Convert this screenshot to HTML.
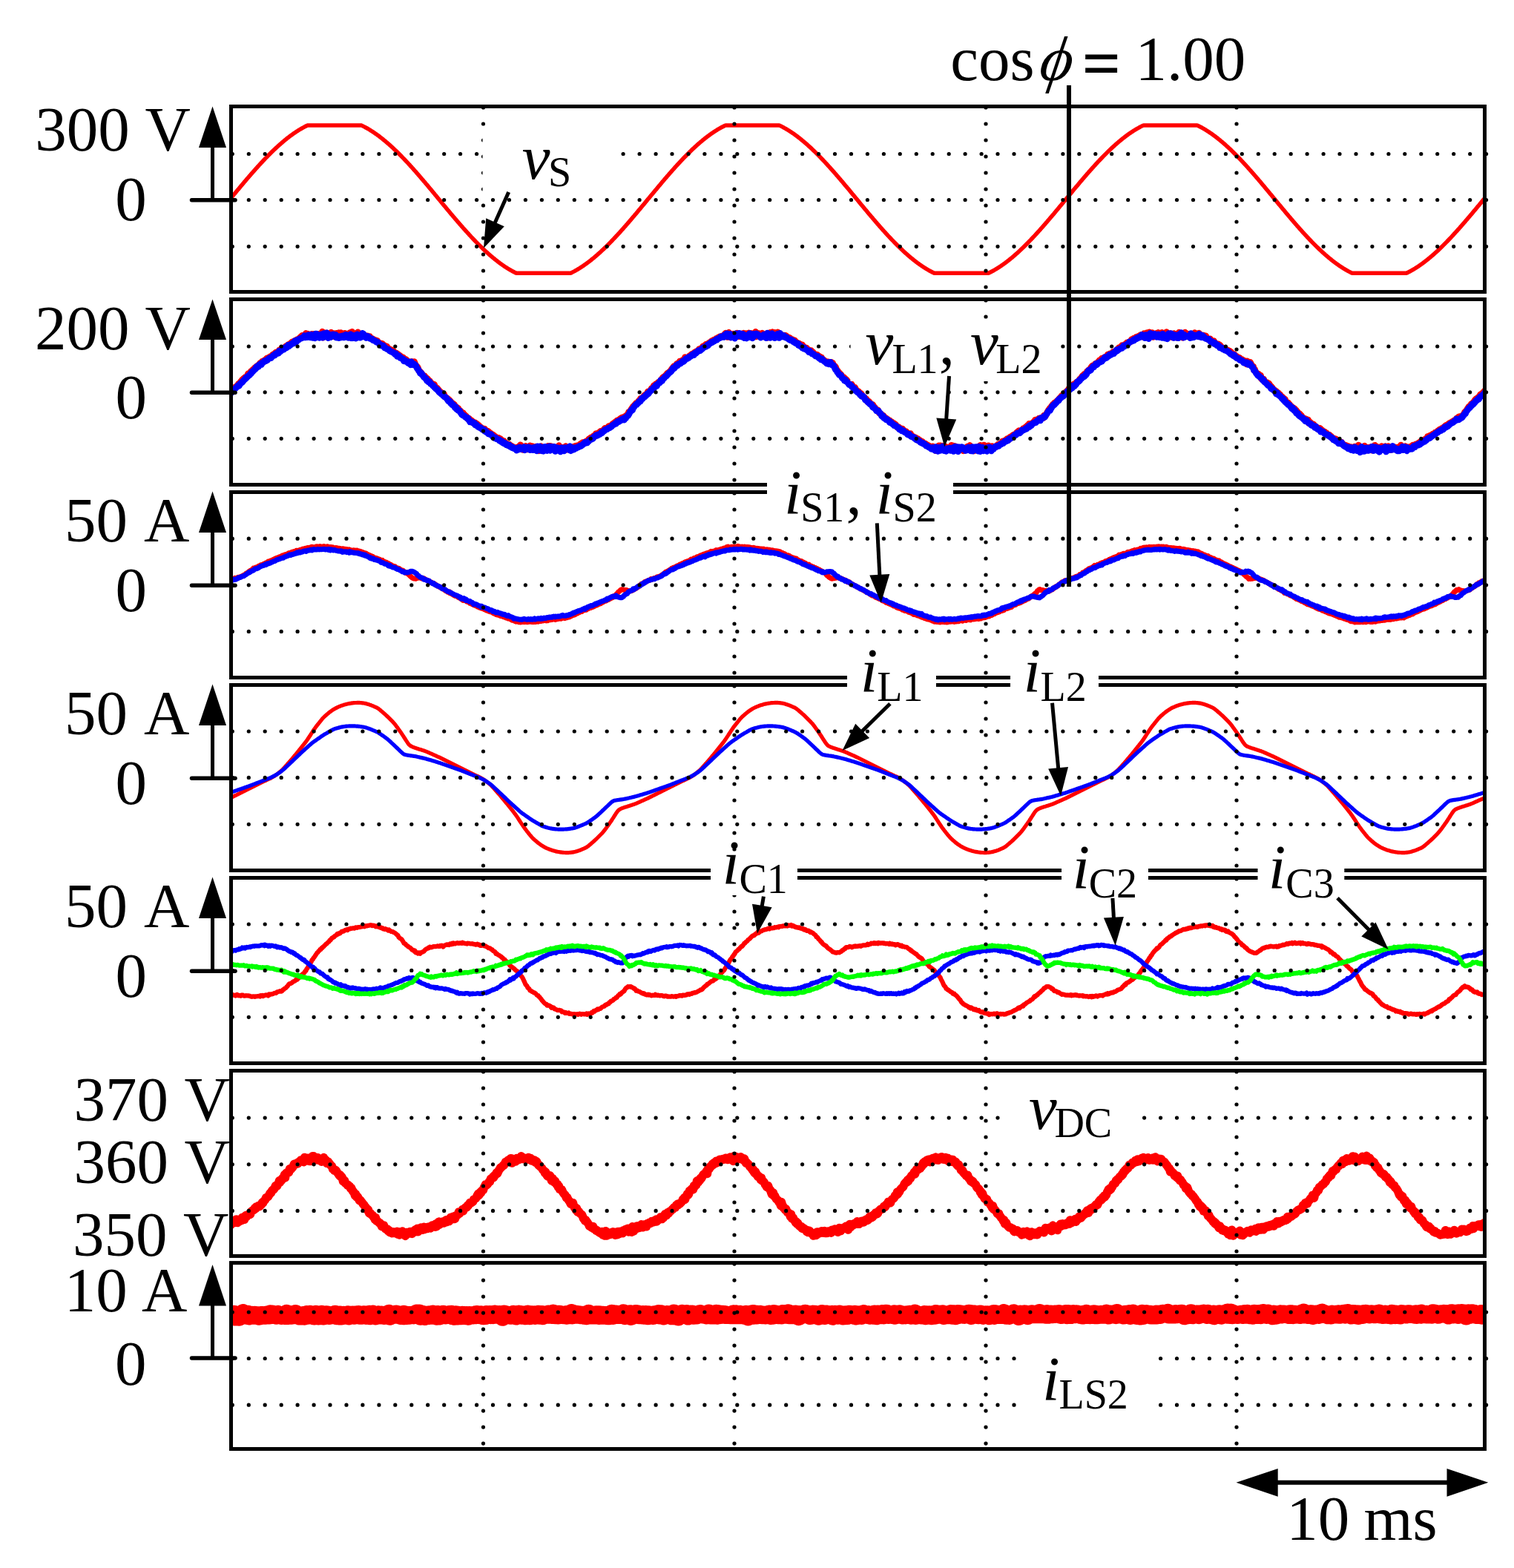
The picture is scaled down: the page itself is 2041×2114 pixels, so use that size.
<!DOCTYPE html>
<html><head><meta charset="utf-8"><title>Waveforms</title>
<style>
html,body{margin:0;padding:0;background:#fff;}
body{width:2041px;height:2114px;overflow:hidden;}
svg{display:block;}
text{font-family:"Liberation Serif","Times New Roman",serif;fill:#000;}
.it{font-style:italic;}
</style></head><body>
<svg width="2041" height="2114" viewBox="0 0 2041 2114">
<rect x="0" y="0" width="2041" height="2114" fill="#fff"/>
<defs>
<clipPath id="c0"><rect x="311.5" y="143.5" width="1690" height="250"/></clipPath>
<clipPath id="c1"><rect x="311.5" y="403.5" width="1690" height="250"/></clipPath>
<clipPath id="c2"><rect x="311.5" y="663.5" width="1690" height="250"/></clipPath>
<clipPath id="c3"><rect x="311.5" y="923.5" width="1690" height="250"/></clipPath>
<clipPath id="c4"><rect x="311.5" y="1183.5" width="1690" height="250"/></clipPath>
<clipPath id="c5"><rect x="311.5" y="1443.5" width="1690" height="249.9"/></clipPath>
<clipPath id="c6"><rect x="311.5" y="1702.6" width="1690" height="250.9"/></clipPath>
</defs>
<g clip-path="url(#c0)">
<path d="M308.5,270.6 L309.5,269.4 L310.5,268.2 L311.5,266.9 L312.5,265.7 L313.5,264.5 L314.5,263.3 L315.5,262.1 L316.5,260.9 L317.5,259.7 L318.5,258.5 L319.5,257.3 L320.5,256.1 L321.5,254.9 L322.5,253.7 L323.5,252.5 L324.5,251.3 L325.5,250.1 L326.5,248.9 L327.5,247.7 L328.5,246.5 L329.5,245.3 L330.5,244.2 L331.5,243 L332.5,241.8 L333.5,240.6 L334.5,239.5 L335.5,238.3 L336.5,237.2 L337.5,236 L338.5,234.8 L339.5,233.7 L340.5,232.6 L341.5,231.4 L342.5,230.3 L343.5,229.2 L344.5,228 L345.5,226.9 L346.5,225.8 L347.5,224.7 L348.5,223.6 L349.5,222.5 L350.5,221.4 L351.5,220.3 L352.5,219.2 L353.5,218.2 L354.5,217.1 L355.5,216 L356.5,215 L357.5,213.9 L358.5,212.9 L359.5,211.9 L360.5,210.8 L361.5,209.8 L362.5,208.8 L363.5,207.8 L364.5,206.8 L365.5,205.8 L366.5,204.8 L367.5,203.8 L368.5,202.9 L369.5,201.9 L370.5,201 L371.5,200 L372.5,199.1 L373.5,198.2 L374.5,197.3 L375.5,196.4 L376.5,195.5 L377.5,194.6 L378.5,193.7 L379.5,192.8 L380.5,192 L381.5,191.1 L382.5,190.3 L383.5,189.4 L384.5,188.6 L385.5,187.8 L386.5,187 L387.5,186.2 L388.5,185.4 L389.5,184.7 L390.5,183.9 L391.5,183.1 L392.5,182.4 L393.5,181.7 L394.5,181 L395.5,180.3 L396.5,179.6 L397.5,178.9 L398.5,178.2 L399.5,177.5 L400.5,176.9 L401.5,176.3 L402.5,175.6 L403.5,175 L404.5,174.4 L405.5,173.8 L406.5,173.2 L407.5,172.7 L408.5,172.1 L409.5,171.6 L410.5,171 L411.5,170.5 L412.5,170 L413.5,169.5 L414.5,169.1 L415.5,169.1 L416.5,169.1 L417.5,169.1 L418.5,169.1 L419.5,169.1 L420.5,169.1 L421.5,169.1 L422.5,169.1 L423.5,169.1 L424.5,169.1 L425.5,169.1 L426.5,169.1 L427.5,169.1 L428.5,169.1 L429.5,169.1 L430.5,169.1 L431.5,169.1 L432.5,169.1 L433.5,169.1 L434.5,169.1 L435.5,169.1 L436.5,169.1 L437.5,169.1 L438.5,169.1 L439.5,169.1 L440.5,169.1 L441.5,169.1 L442.5,169.1 L443.5,169.1 L444.5,169.1 L445.5,169.1 L446.5,169.1 L447.5,169.1 L448.5,169.1 L449.5,169.1 L450.5,169.1 L451.5,169.1 L452.5,169.1 L453.5,169.1 L454.5,169.1 L455.5,169.1 L456.5,169.1 L457.5,169.1 L458.5,169.1 L459.5,169.1 L460.5,169.1 L461.5,169.1 L462.5,169.1 L463.5,169.1 L464.5,169.1 L465.5,169.1 L466.5,169.1 L467.5,169.1 L468.5,169.1 L469.5,169.1 L470.5,169.1 L471.5,169.1 L472.5,169.1 L473.5,169.1 L474.5,169.1 L475.5,169.1 L476.5,169.1 L477.5,169.1 L478.5,169.1 L479.5,169.1 L480.5,169.1 L481.5,169.1 L482.5,169.1 L483.5,169.1 L484.5,169.1 L485.5,169.1 L486.5,169.1 L487.5,169.1 L488.5,169.6 L489.5,170.1 L490.5,170.6 L491.5,171.1 L492.5,171.7 L493.5,172.2 L494.5,172.8 L495.5,173.3 L496.5,173.9 L497.5,174.5 L498.5,175.1 L499.5,175.8 L500.5,176.4 L501.5,177 L502.5,177.7 L503.5,178.3 L504.5,179 L505.5,179.7 L506.5,180.4 L507.5,181.1 L508.5,181.8 L509.5,182.6 L510.5,183.3 L511.5,184 L512.5,184.8 L513.5,185.6 L514.5,186.4 L515.5,187.2 L516.5,188 L517.5,188.8 L518.5,189.6 L519.5,190.4 L520.5,191.3 L521.5,192.1 L522.5,193 L523.5,193.9 L524.5,194.7 L525.5,195.6 L526.5,196.5 L527.5,197.4 L528.5,198.4 L529.5,199.3 L530.5,200.2 L531.5,201.2 L532.5,202.1 L533.5,203.1 L534.5,204 L535.5,205 L536.5,206 L537.5,207 L538.5,208 L539.5,209 L540.5,210 L541.5,211 L542.5,212.1 L543.5,213.1 L544.5,214.1 L545.5,215.2 L546.5,216.2 L547.5,217.3 L548.5,218.4 L549.5,219.4 L550.5,220.5 L551.5,221.6 L552.5,222.7 L553.5,223.8 L554.5,224.9 L555.5,226 L556.5,227.1 L557.5,228.3 L558.5,229.4 L559.5,230.5 L560.5,231.6 L561.5,232.8 L562.5,233.9 L563.5,235.1 L564.5,236.2 L565.5,237.4 L566.5,238.5 L567.5,239.7 L568.5,240.9 L569.5,242.1 L570.5,243.2 L571.5,244.4 L572.5,245.6 L573.5,246.8 L574.5,248 L575.5,249.1 L576.5,250.3 L577.5,251.5 L578.5,252.7 L579.5,253.9 L580.5,255.1 L581.5,256.3 L582.5,257.5 L583.5,258.7 L584.5,259.9 L585.5,261.1 L586.5,262.4 L587.5,263.6 L588.5,264.8 L589.5,266 L590.5,267.2 L591.5,268.4 L592.5,269.6 L593.5,270.8 L594.5,272 L595.5,273.2 L596.5,274.4 L597.5,275.7 L598.5,276.9 L599.5,278.1 L600.5,279.3 L601.5,280.5 L602.5,281.7 L603.5,282.9 L604.5,284.1 L605.5,285.3 L606.5,286.5 L607.5,287.7 L608.5,288.9 L609.5,290 L610.5,291.2 L611.5,292.4 L612.5,293.6 L613.5,294.8 L614.5,295.9 L615.5,297.1 L616.5,298.3 L617.5,299.4 L618.5,300.6 L619.5,301.7 L620.5,302.9 L621.5,304 L622.5,305.2 L623.5,306.3 L624.5,307.5 L625.5,308.6 L626.5,309.7 L627.5,310.8 L628.5,311.9 L629.5,313 L630.5,314.1 L631.5,315.2 L632.5,316.3 L633.5,317.4 L634.5,318.5 L635.5,319.6 L636.5,320.6 L637.5,321.7 L638.5,322.7 L639.5,323.8 L640.5,324.8 L641.5,325.9 L642.5,326.9 L643.5,327.9 L644.5,328.9 L645.5,329.9 L646.5,330.9 L647.5,331.9 L648.5,332.9 L649.5,333.8 L650.5,334.8 L651.5,335.8 L652.5,336.7 L653.5,337.7 L654.5,338.6 L655.5,339.5 L656.5,340.4 L657.5,341.3 L658.5,342.2 L659.5,343.1 L660.5,344 L661.5,344.8 L662.5,345.7 L663.5,346.5 L664.5,347.4 L665.5,348.2 L666.5,349 L667.5,349.8 L668.5,350.6 L669.5,351.4 L670.5,352.2 L671.5,353 L672.5,353.7 L673.5,354.5 L674.5,355.2 L675.5,355.9 L676.5,356.6 L677.5,357.4 L678.5,358 L679.5,358.7 L680.5,359.4 L681.5,360.1 L682.5,360.7 L683.5,361.3 L684.5,362 L685.5,362.6 L686.5,363.2 L687.5,363.8 L688.5,364.3 L689.5,364.9 L690.5,365.5 L691.5,366 L692.5,366.5 L693.5,367 L694.5,367.6 L695.5,368 L696.5,368.3 L697.5,368.3 L698.5,368.3 L699.5,368.3 L700.5,368.3 L701.5,368.3 L702.5,368.3 L703.5,368.3 L704.5,368.3 L705.5,368.3 L706.5,368.3 L707.5,368.3 L708.5,368.3 L709.5,368.3 L710.5,368.3 L711.5,368.3 L712.5,368.3 L713.5,368.3 L714.5,368.3 L715.5,368.3 L716.5,368.3 L717.5,368.3 L718.5,368.3 L719.5,368.3 L720.5,368.3 L721.5,368.3 L722.5,368.3 L723.5,368.3 L724.5,368.3 L725.5,368.3 L726.5,368.3 L727.5,368.3 L728.5,368.3 L729.5,368.3 L730.5,368.3 L731.5,368.3 L732.5,368.3 L733.5,368.3 L734.5,368.3 L735.5,368.3 L736.5,368.3 L737.5,368.3 L738.5,368.3 L739.5,368.3 L740.5,368.3 L741.5,368.3 L742.5,368.3 L743.5,368.3 L744.5,368.3 L745.5,368.3 L746.5,368.3 L747.5,368.3 L748.5,368.3 L749.5,368.3 L750.5,368.3 L751.5,368.3 L752.5,368.3 L753.5,368.3 L754.5,368.3 L755.5,368.3 L756.5,368.3 L757.5,368.3 L758.5,368.3 L759.5,368.3 L760.5,368.3 L761.5,368.3 L762.5,368.3 L763.5,368.3 L764.5,368.3 L765.5,368.3 L766.5,368.3 L767.5,368.3 L768.5,368.3 L769.5,368.1 L770.5,367.7 L771.5,367.1 L772.5,366.6 L773.5,366.1 L774.5,365.6 L775.5,365 L776.5,364.5 L777.5,363.9 L778.5,363.3 L779.5,362.7 L780.5,362.1 L781.5,361.5 L782.5,360.8 L783.5,360.2 L784.5,359.5 L785.5,358.9 L786.5,358.2 L787.5,357.5 L788.5,356.8 L789.5,356.1 L790.5,355.4 L791.5,354.6 L792.5,353.9 L793.5,353.1 L794.5,352.4 L795.5,351.6 L796.5,350.8 L797.5,350 L798.5,349.2 L799.5,348.4 L800.5,347.6 L801.5,346.7 L802.5,345.9 L803.5,345 L804.5,344.1 L805.5,343.3 L806.5,342.4 L807.5,341.5 L808.5,340.6 L809.5,339.7 L810.5,338.8 L811.5,337.8 L812.5,336.9 L813.5,336 L814.5,335 L815.5,334 L816.5,333.1 L817.5,332.1 L818.5,331.1 L819.5,330.1 L820.5,329.1 L821.5,328.1 L822.5,327.1 L823.5,326.1 L824.5,325 L825.5,324 L826.5,322.9 L827.5,321.9 L828.5,320.8 L829.5,319.8 L830.5,318.7 L831.5,317.6 L832.5,316.5 L833.5,315.5 L834.5,314.4 L835.5,313.3 L836.5,312.2 L837.5,311 L838.5,309.9 L839.5,308.8 L840.5,307.7 L841.5,306.5 L842.5,305.4 L843.5,304.3 L844.5,303.1 L845.5,302 L846.5,300.8 L847.5,299.7 L848.5,298.5 L849.5,297.3 L850.5,296.2 L851.5,295 L852.5,293.8 L853.5,292.6 L854.5,291.5 L855.5,290.3 L856.5,289.1 L857.5,287.9 L858.5,286.7 L859.5,285.5 L860.5,284.3 L861.5,283.1 L862.5,281.9 L863.5,280.7 L864.5,279.5 L865.5,278.3 L866.5,277.1 L867.5,275.9 L868.5,274.7 L869.5,273.5 L870.5,272.3 L871.5,271.1 L872.5,269.8 L873.5,268.6 L874.5,267.4 L875.5,266.2 L876.5,265 L877.5,263.8 L878.5,262.6 L879.5,261.4 L880.5,260.2 L881.5,259 L882.5,257.8 L883.5,256.6 L884.5,255.4 L885.5,254.2 L886.5,253 L887.5,251.8 L888.5,250.6 L889.5,249.4 L890.5,248.2 L891.5,247 L892.5,245.8 L893.5,244.6 L894.5,243.5 L895.5,242.3 L896.5,241.1 L897.5,239.9 L898.5,238.8 L899.5,237.6 L900.5,236.5 L901.5,235.3 L902.5,234.2 L903.5,233 L904.5,231.9 L905.5,230.7 L906.5,229.6 L907.5,228.5 L908.5,227.4 L909.5,226.2 L910.5,225.1 L911.5,224 L912.5,222.9 L913.5,221.8 L914.5,220.7 L915.5,219.7 L916.5,218.6 L917.5,217.5 L918.5,216.5 L919.5,215.4 L920.5,214.3 L921.5,213.3 L922.5,212.3 L923.5,211.2 L924.5,210.2 L925.5,209.2 L926.5,208.2 L927.5,207.2 L928.5,206.2 L929.5,205.2 L930.5,204.2 L931.5,203.3 L932.5,202.3 L933.5,201.3 L934.5,200.4 L935.5,199.5 L936.5,198.5 L937.5,197.6 L938.5,196.7 L939.5,195.8 L940.5,194.9 L941.5,194 L942.5,193.2 L943.5,192.3 L944.5,191.4 L945.5,190.6 L946.5,189.8 L947.5,188.9 L948.5,188.1 L949.5,187.3 L950.5,186.5 L951.5,185.7 L952.5,185 L953.5,184.2 L954.5,183.4 L955.5,182.7 L956.5,182 L957.5,181.2 L958.5,180.5 L959.5,179.8 L960.5,179.2 L961.5,178.5 L962.5,177.8 L963.5,177.2 L964.5,176.5 L965.5,175.9 L966.5,175.3 L967.5,174.6 L968.5,174 L969.5,173.5 L970.5,172.9 L971.5,172.3 L972.5,171.8 L973.5,171.2 L974.5,170.7 L975.5,170.2 L976.5,169.7 L977.5,169.2 L978.5,169.1 L979.5,169.1 L980.5,169.1 L981.5,169.1 L982.5,169.1 L983.5,169.1 L984.5,169.1 L985.5,169.1 L986.5,169.1 L987.5,169.1 L988.5,169.1 L989.5,169.1 L990.5,169.1 L991.5,169.1 L992.5,169.1 L993.5,169.1 L994.5,169.1 L995.5,169.1 L996.5,169.1 L997.5,169.1 L998.5,169.1 L999.5,169.1 L1000.5,169.1 L1001.5,169.1 L1002.5,169.1 L1003.5,169.1 L1004.5,169.1 L1005.5,169.1 L1006.5,169.1 L1007.5,169.1 L1008.5,169.1 L1009.5,169.1 L1010.5,169.1 L1011.5,169.1 L1012.5,169.1 L1013.5,169.1 L1014.5,169.1 L1015.5,169.1 L1016.5,169.1 L1017.5,169.1 L1018.5,169.1 L1019.5,169.1 L1020.5,169.1 L1021.5,169.1 L1022.5,169.1 L1023.5,169.1 L1024.5,169.1 L1025.5,169.1 L1026.5,169.1 L1027.5,169.1 L1028.5,169.1 L1029.5,169.1 L1030.5,169.1 L1031.5,169.1 L1032.5,169.1 L1033.5,169.1 L1034.5,169.1 L1035.5,169.1 L1036.5,169.1 L1037.5,169.1 L1038.5,169.1 L1039.5,169.1 L1040.5,169.1 L1041.5,169.1 L1042.5,169.1 L1043.5,169.1 L1044.5,169.1 L1045.5,169.1 L1046.5,169.1 L1047.5,169.1 L1048.5,169.1 L1049.5,169.1 L1050.5,169.1 L1051.5,169.4 L1052.5,169.9 L1053.5,170.4 L1054.5,170.9 L1055.5,171.5 L1056.5,172 L1057.5,172.6 L1058.5,173.1 L1059.5,173.7 L1060.5,174.3 L1061.5,174.9 L1062.5,175.5 L1063.5,176.1 L1064.5,176.8 L1065.5,177.4 L1066.5,178.1 L1067.5,178.7 L1068.5,179.4 L1069.5,180.1 L1070.5,180.8 L1071.5,181.5 L1072.5,182.3 L1073.5,183 L1074.5,183.7 L1075.5,184.5 L1076.5,185.3 L1077.5,186.1 L1078.5,186.8 L1079.5,187.6 L1080.5,188.5 L1081.5,189.3 L1082.5,190.1 L1083.5,190.9 L1084.5,191.8 L1085.5,192.6 L1086.5,193.5 L1087.5,194.4 L1088.5,195.3 L1089.5,196.2 L1090.5,197.1 L1091.5,198 L1092.5,198.9 L1093.5,199.8 L1094.5,200.8 L1095.5,201.7 L1096.5,202.7 L1097.5,203.6 L1098.5,204.6 L1099.5,205.6 L1100.5,206.6 L1101.5,207.6 L1102.5,208.6 L1103.5,209.6 L1104.5,210.6 L1105.5,211.6 L1106.5,212.7 L1107.5,213.7 L1108.5,214.8 L1109.5,215.8 L1110.5,216.9 L1111.5,217.9 L1112.5,219 L1113.5,220.1 L1114.5,221.2 L1115.5,222.3 L1116.5,223.4 L1117.5,224.5 L1118.5,225.6 L1119.5,226.7 L1120.5,227.8 L1121.5,228.9 L1122.5,230.1 L1123.5,231.2 L1124.5,232.3 L1125.5,233.5 L1126.5,234.6 L1127.5,235.8 L1128.5,236.9 L1129.5,238.1 L1130.5,239.2 L1131.5,240.4 L1132.5,241.6 L1133.5,242.8 L1134.5,243.9 L1135.5,245.1 L1136.5,246.3 L1137.5,247.5 L1138.5,248.7 L1139.5,249.9 L1140.5,251.1 L1141.5,252.2 L1142.5,253.4 L1143.5,254.6 L1144.5,255.8 L1145.5,257 L1146.5,258.2 L1147.5,259.5 L1148.5,260.7 L1149.5,261.9 L1150.5,263.1 L1151.5,264.3 L1152.5,265.5 L1153.5,266.7 L1154.5,267.9 L1155.5,269.1 L1156.5,270.3 L1157.5,271.5 L1158.5,272.8 L1159.5,274 L1160.5,275.2 L1161.5,276.4 L1162.5,277.6 L1163.5,278.8 L1164.5,280 L1165.5,281.2 L1166.5,282.4 L1167.5,283.6 L1168.5,284.8 L1169.5,286 L1170.5,287.2 L1171.5,288.4 L1172.5,289.6 L1173.5,290.7 L1174.5,291.9 L1175.5,293.1 L1176.5,294.3 L1177.5,295.5 L1178.5,296.6 L1179.5,297.8 L1180.5,299 L1181.5,300.1 L1182.5,301.3 L1183.5,302.4 L1184.5,303.6 L1185.5,304.7 L1186.5,305.9 L1187.5,307 L1188.5,308.1 L1189.5,309.3 L1190.5,310.4 L1191.5,311.5 L1192.5,312.6 L1193.5,313.7 L1194.5,314.8 L1195.5,315.9 L1196.5,317 L1197.5,318.1 L1198.5,319.1 L1199.5,320.2 L1200.5,321.3 L1201.5,322.3 L1202.5,323.4 L1203.5,324.4 L1204.5,325.4 L1205.5,326.5 L1206.5,327.5 L1207.5,328.5 L1208.5,329.5 L1209.5,330.5 L1210.5,331.5 L1211.5,332.5 L1212.5,333.5 L1213.5,334.4 L1214.5,335.4 L1215.5,336.3 L1216.5,337.3 L1217.5,338.2 L1218.5,339.1 L1219.5,340.1 L1220.5,341 L1221.5,341.9 L1222.5,342.7 L1223.5,343.6 L1224.5,344.5 L1225.5,345.4 L1226.5,346.2 L1227.5,347.1 L1228.5,347.9 L1229.5,348.7 L1230.5,349.5 L1231.5,350.3 L1232.5,351.1 L1233.5,351.9 L1234.5,352.7 L1235.5,353.4 L1236.5,354.2 L1237.5,354.9 L1238.5,355.6 L1239.5,356.4 L1240.5,357.1 L1241.5,357.8 L1242.5,358.5 L1243.5,359.1 L1244.5,359.8 L1245.5,360.4 L1246.5,361.1 L1247.5,361.7 L1248.5,362.3 L1249.5,362.9 L1250.5,363.5 L1251.5,364.1 L1252.5,364.7 L1253.5,365.2 L1254.5,365.8 L1255.5,366.3 L1256.5,366.8 L1257.5,367.4 L1258.5,367.8 L1259.5,368.3 L1260.5,368.3 L1261.5,368.3 L1262.5,368.3 L1263.5,368.3 L1264.5,368.3 L1265.5,368.3 L1266.5,368.3 L1267.5,368.3 L1268.5,368.3 L1269.5,368.3 L1270.5,368.3 L1271.5,368.3 L1272.5,368.3 L1273.5,368.3 L1274.5,368.3 L1275.5,368.3 L1276.5,368.3 L1277.5,368.3 L1278.5,368.3 L1279.5,368.3 L1280.5,368.3 L1281.5,368.3 L1282.5,368.3 L1283.5,368.3 L1284.5,368.3 L1285.5,368.3 L1286.5,368.3 L1287.5,368.3 L1288.5,368.3 L1289.5,368.3 L1290.5,368.3 L1291.5,368.3 L1292.5,368.3 L1293.5,368.3 L1294.5,368.3 L1295.5,368.3 L1296.5,368.3 L1297.5,368.3 L1298.5,368.3 L1299.5,368.3 L1300.5,368.3 L1301.5,368.3 L1302.5,368.3 L1303.5,368.3 L1304.5,368.3 L1305.5,368.3 L1306.5,368.3 L1307.5,368.3 L1308.5,368.3 L1309.5,368.3 L1310.5,368.3 L1311.5,368.3 L1312.5,368.3 L1313.5,368.3 L1314.5,368.3 L1315.5,368.3 L1316.5,368.3 L1317.5,368.3 L1318.5,368.3 L1319.5,368.3 L1320.5,368.3 L1321.5,368.3 L1322.5,368.3 L1323.5,368.3 L1324.5,368.3 L1325.5,368.3 L1326.5,368.3 L1327.5,368.3 L1328.5,368.3 L1329.5,368.3 L1330.5,368.3 L1331.5,368.3 L1332.5,368.3 L1333.5,367.8 L1334.5,367.4 L1335.5,366.8 L1336.5,366.3 L1337.5,365.8 L1338.5,365.2 L1339.5,364.7 L1340.5,364.1 L1341.5,363.5 L1342.5,362.9 L1343.5,362.3 L1344.5,361.7 L1345.5,361.1 L1346.5,360.4 L1347.5,359.8 L1348.5,359.1 L1349.5,358.5 L1350.5,357.8 L1351.5,357.1 L1352.5,356.4 L1353.5,355.6 L1354.5,354.9 L1355.5,354.2 L1356.5,353.4 L1357.5,352.7 L1358.5,351.9 L1359.5,351.1 L1360.5,350.3 L1361.5,349.5 L1362.5,348.7 L1363.5,347.9 L1364.5,347.1 L1365.5,346.2 L1366.5,345.4 L1367.5,344.5 L1368.5,343.6 L1369.5,342.7 L1370.5,341.9 L1371.5,341 L1372.5,340.1 L1373.5,339.1 L1374.5,338.2 L1375.5,337.3 L1376.5,336.3 L1377.5,335.4 L1378.5,334.4 L1379.5,333.5 L1380.5,332.5 L1381.5,331.5 L1382.5,330.5 L1383.5,329.5 L1384.5,328.5 L1385.5,327.5 L1386.5,326.5 L1387.5,325.4 L1388.5,324.4 L1389.5,323.4 L1390.5,322.3 L1391.5,321.3 L1392.5,320.2 L1393.5,319.1 L1394.5,318.1 L1395.5,317 L1396.5,315.9 L1397.5,314.8 L1398.5,313.7 L1399.5,312.6 L1400.5,311.5 L1401.5,310.4 L1402.5,309.3 L1403.5,308.1 L1404.5,307 L1405.5,305.9 L1406.5,304.7 L1407.5,303.6 L1408.5,302.4 L1409.5,301.3 L1410.5,300.1 L1411.5,299 L1412.5,297.8 L1413.5,296.6 L1414.5,295.5 L1415.5,294.3 L1416.5,293.1 L1417.5,291.9 L1418.5,290.7 L1419.5,289.6 L1420.5,288.4 L1421.5,287.2 L1422.5,286 L1423.5,284.8 L1424.5,283.6 L1425.5,282.4 L1426.5,281.2 L1427.5,280 L1428.5,278.8 L1429.5,277.6 L1430.5,276.4 L1431.5,275.2 L1432.5,274 L1433.5,272.8 L1434.5,271.5 L1435.5,270.3 L1436.5,269.1 L1437.5,267.9 L1438.5,266.7 L1439.5,265.5 L1440.5,264.3 L1441.5,263.1 L1442.5,261.9 L1443.5,260.7 L1444.5,259.5 L1445.5,258.2 L1446.5,257 L1447.5,255.8 L1448.5,254.6 L1449.5,253.4 L1450.5,252.2 L1451.5,251.1 L1452.5,249.9 L1453.5,248.7 L1454.5,247.5 L1455.5,246.3 L1456.5,245.1 L1457.5,243.9 L1458.5,242.8 L1459.5,241.6 L1460.5,240.4 L1461.5,239.2 L1462.5,238.1 L1463.5,236.9 L1464.5,235.8 L1465.5,234.6 L1466.5,233.5 L1467.5,232.3 L1468.5,231.2 L1469.5,230.1 L1470.5,228.9 L1471.5,227.8 L1472.5,226.7 L1473.5,225.6 L1474.5,224.5 L1475.5,223.4 L1476.5,222.3 L1477.5,221.2 L1478.5,220.1 L1479.5,219 L1480.5,217.9 L1481.5,216.9 L1482.5,215.8 L1483.5,214.8 L1484.5,213.7 L1485.5,212.7 L1486.5,211.6 L1487.5,210.6 L1488.5,209.6 L1489.5,208.6 L1490.5,207.6 L1491.5,206.6 L1492.5,205.6 L1493.5,204.6 L1494.5,203.6 L1495.5,202.7 L1496.5,201.7 L1497.5,200.8 L1498.5,199.8 L1499.5,198.9 L1500.5,198 L1501.5,197.1 L1502.5,196.2 L1503.5,195.3 L1504.5,194.4 L1505.5,193.5 L1506.5,192.6 L1507.5,191.8 L1508.5,190.9 L1509.5,190.1 L1510.5,189.3 L1511.5,188.5 L1512.5,187.6 L1513.5,186.8 L1514.5,186.1 L1515.5,185.3 L1516.5,184.5 L1517.5,183.7 L1518.5,183 L1519.5,182.3 L1520.5,181.5 L1521.5,180.8 L1522.5,180.1 L1523.5,179.4 L1524.5,178.7 L1525.5,178.1 L1526.5,177.4 L1527.5,176.8 L1528.5,176.1 L1529.5,175.5 L1530.5,174.9 L1531.5,174.3 L1532.5,173.7 L1533.5,173.1 L1534.5,172.6 L1535.5,172 L1536.5,171.5 L1537.5,170.9 L1538.5,170.4 L1539.5,169.9 L1540.5,169.4 L1541.5,169.1 L1542.5,169.1 L1543.5,169.1 L1544.5,169.1 L1545.5,169.1 L1546.5,169.1 L1547.5,169.1 L1548.5,169.1 L1549.5,169.1 L1550.5,169.1 L1551.5,169.1 L1552.5,169.1 L1553.5,169.1 L1554.5,169.1 L1555.5,169.1 L1556.5,169.1 L1557.5,169.1 L1558.5,169.1 L1559.5,169.1 L1560.5,169.1 L1561.5,169.1 L1562.5,169.1 L1563.5,169.1 L1564.5,169.1 L1565.5,169.1 L1566.5,169.1 L1567.5,169.1 L1568.5,169.1 L1569.5,169.1 L1570.5,169.1 L1571.5,169.1 L1572.5,169.1 L1573.5,169.1 L1574.5,169.1 L1575.5,169.1 L1576.5,169.1 L1577.5,169.1 L1578.5,169.1 L1579.5,169.1 L1580.5,169.1 L1581.5,169.1 L1582.5,169.1 L1583.5,169.1 L1584.5,169.1 L1585.5,169.1 L1586.5,169.1 L1587.5,169.1 L1588.5,169.1 L1589.5,169.1 L1590.5,169.1 L1591.5,169.1 L1592.5,169.1 L1593.5,169.1 L1594.5,169.1 L1595.5,169.1 L1596.5,169.1 L1597.5,169.1 L1598.5,169.1 L1599.5,169.1 L1600.5,169.1 L1601.5,169.1 L1602.5,169.1 L1603.5,169.1 L1604.5,169.1 L1605.5,169.1 L1606.5,169.1 L1607.5,169.1 L1608.5,169.1 L1609.5,169.1 L1610.5,169.1 L1611.5,169.1 L1612.5,169.1 L1613.5,169.1 L1614.5,169.2 L1615.5,169.7 L1616.5,170.2 L1617.5,170.7 L1618.5,171.2 L1619.5,171.8 L1620.5,172.3 L1621.5,172.9 L1622.5,173.5 L1623.5,174 L1624.5,174.6 L1625.5,175.3 L1626.5,175.9 L1627.5,176.5 L1628.5,177.2 L1629.5,177.8 L1630.5,178.5 L1631.5,179.2 L1632.5,179.8 L1633.5,180.5 L1634.5,181.2 L1635.5,182 L1636.5,182.7 L1637.5,183.4 L1638.5,184.2 L1639.5,185 L1640.5,185.7 L1641.5,186.5 L1642.5,187.3 L1643.5,188.1 L1644.5,188.9 L1645.5,189.8 L1646.5,190.6 L1647.5,191.4 L1648.5,192.3 L1649.5,193.2 L1650.5,194 L1651.5,194.9 L1652.5,195.8 L1653.5,196.7 L1654.5,197.6 L1655.5,198.5 L1656.5,199.5 L1657.5,200.4 L1658.5,201.3 L1659.5,202.3 L1660.5,203.3 L1661.5,204.2 L1662.5,205.2 L1663.5,206.2 L1664.5,207.2 L1665.5,208.2 L1666.5,209.2 L1667.5,210.2 L1668.5,211.2 L1669.5,212.3 L1670.5,213.3 L1671.5,214.3 L1672.5,215.4 L1673.5,216.5 L1674.5,217.5 L1675.5,218.6 L1676.5,219.7 L1677.5,220.7 L1678.5,221.8 L1679.5,222.9 L1680.5,224 L1681.5,225.1 L1682.5,226.2 L1683.5,227.4 L1684.5,228.5 L1685.5,229.6 L1686.5,230.7 L1687.5,231.9 L1688.5,233 L1689.5,234.2 L1690.5,235.3 L1691.5,236.5 L1692.5,237.6 L1693.5,238.8 L1694.5,239.9 L1695.5,241.1 L1696.5,242.3 L1697.5,243.5 L1698.5,244.6 L1699.5,245.8 L1700.5,247 L1701.5,248.2 L1702.5,249.4 L1703.5,250.6 L1704.5,251.8 L1705.5,253 L1706.5,254.2 L1707.5,255.4 L1708.5,256.6 L1709.5,257.8 L1710.5,259 L1711.5,260.2 L1712.5,261.4 L1713.5,262.6 L1714.5,263.8 L1715.5,265 L1716.5,266.2 L1717.5,267.4 L1718.5,268.6 L1719.5,269.8 L1720.5,271.1 L1721.5,272.3 L1722.5,273.5 L1723.5,274.7 L1724.5,275.9 L1725.5,277.1 L1726.5,278.3 L1727.5,279.5 L1728.5,280.7 L1729.5,281.9 L1730.5,283.1 L1731.5,284.3 L1732.5,285.5 L1733.5,286.7 L1734.5,287.9 L1735.5,289.1 L1736.5,290.3 L1737.5,291.5 L1738.5,292.6 L1739.5,293.8 L1740.5,295 L1741.5,296.2 L1742.5,297.3 L1743.5,298.5 L1744.5,299.7 L1745.5,300.8 L1746.5,302 L1747.5,303.1 L1748.5,304.3 L1749.5,305.4 L1750.5,306.5 L1751.5,307.7 L1752.5,308.8 L1753.5,309.9 L1754.5,311 L1755.5,312.2 L1756.5,313.3 L1757.5,314.4 L1758.5,315.5 L1759.5,316.5 L1760.5,317.6 L1761.5,318.7 L1762.5,319.8 L1763.5,320.8 L1764.5,321.9 L1765.5,323 L1766.5,324 L1767.5,325 L1768.5,326.1 L1769.5,327.1 L1770.5,328.1 L1771.5,329.1 L1772.5,330.1 L1773.5,331.1 L1774.5,332.1 L1775.5,333.1 L1776.5,334 L1777.5,335 L1778.5,336 L1779.5,336.9 L1780.5,337.8 L1781.5,338.8 L1782.5,339.7 L1783.5,340.6 L1784.5,341.5 L1785.5,342.4 L1786.5,343.3 L1787.5,344.1 L1788.5,345 L1789.5,345.9 L1790.5,346.7 L1791.5,347.6 L1792.5,348.4 L1793.5,349.2 L1794.5,350 L1795.5,350.8 L1796.5,351.6 L1797.5,352.4 L1798.5,353.1 L1799.5,353.9 L1800.5,354.6 L1801.5,355.4 L1802.5,356.1 L1803.5,356.8 L1804.5,357.5 L1805.5,358.2 L1806.5,358.9 L1807.5,359.5 L1808.5,360.2 L1809.5,360.8 L1810.5,361.5 L1811.5,362.1 L1812.5,362.7 L1813.5,363.3 L1814.5,363.9 L1815.5,364.5 L1816.5,365 L1817.5,365.6 L1818.5,366.1 L1819.5,366.6 L1820.5,367.1 L1821.5,367.7 L1822.5,368.1 L1823.5,368.3 L1824.5,368.3 L1825.5,368.3 L1826.5,368.3 L1827.5,368.3 L1828.5,368.3 L1829.5,368.3 L1830.5,368.3 L1831.5,368.3 L1832.5,368.3 L1833.5,368.3 L1834.5,368.3 L1835.5,368.3 L1836.5,368.3 L1837.5,368.3 L1838.5,368.3 L1839.5,368.3 L1840.5,368.3 L1841.5,368.3 L1842.5,368.3 L1843.5,368.3 L1844.5,368.3 L1845.5,368.3 L1846.5,368.3 L1847.5,368.3 L1848.5,368.3 L1849.5,368.3 L1850.5,368.3 L1851.5,368.3 L1852.5,368.3 L1853.5,368.3 L1854.5,368.3 L1855.5,368.3 L1856.5,368.3 L1857.5,368.3 L1858.5,368.3 L1859.5,368.3 L1860.5,368.3 L1861.5,368.3 L1862.5,368.3 L1863.5,368.3 L1864.5,368.3 L1865.5,368.3 L1866.5,368.3 L1867.5,368.3 L1868.5,368.3 L1869.5,368.3 L1870.5,368.3 L1871.5,368.3 L1872.5,368.3 L1873.5,368.3 L1874.5,368.3 L1875.5,368.3 L1876.5,368.3 L1877.5,368.3 L1878.5,368.3 L1879.5,368.3 L1880.5,368.3 L1881.5,368.3 L1882.5,368.3 L1883.5,368.3 L1884.5,368.3 L1885.5,368.3 L1886.5,368.3 L1887.5,368.3 L1888.5,368.3 L1889.5,368.3 L1890.5,368.3 L1891.5,368.3 L1892.5,368.3 L1893.5,368.3 L1894.5,368.3 L1895.5,368.3 L1896.5,368 L1897.5,367.6 L1898.5,367 L1899.5,366.5 L1900.5,366 L1901.5,365.5 L1902.5,364.9 L1903.5,364.3 L1904.5,363.8 L1905.5,363.2 L1906.5,362.6 L1907.5,362 L1908.5,361.3 L1909.5,360.7 L1910.5,360.1 L1911.5,359.4 L1912.5,358.7 L1913.5,358 L1914.5,357.4 L1915.5,356.6 L1916.5,355.9 L1917.5,355.2 L1918.5,354.5 L1919.5,353.7 L1920.5,353 L1921.5,352.2 L1922.5,351.4 L1923.5,350.6 L1924.5,349.8 L1925.5,349 L1926.5,348.2 L1927.5,347.4 L1928.5,346.5 L1929.5,345.7 L1930.5,344.8 L1931.5,344 L1932.5,343.1 L1933.5,342.2 L1934.5,341.3 L1935.5,340.4 L1936.5,339.5 L1937.5,338.6 L1938.5,337.7 L1939.5,336.7 L1940.5,335.8 L1941.5,334.8 L1942.5,333.8 L1943.5,332.9 L1944.5,331.9 L1945.5,330.9 L1946.5,329.9 L1947.5,328.9 L1948.5,327.9 L1949.5,326.9 L1950.5,325.9 L1951.5,324.8 L1952.5,323.8 L1953.5,322.7 L1954.5,321.7 L1955.5,320.6 L1956.5,319.6 L1957.5,318.5 L1958.5,317.4 L1959.5,316.3 L1960.5,315.2 L1961.5,314.1 L1962.5,313 L1963.5,311.9 L1964.5,310.8 L1965.5,309.7 L1966.5,308.6 L1967.5,307.5 L1968.5,306.3 L1969.5,305.2 L1970.5,304 L1971.5,302.9 L1972.5,301.7 L1973.5,300.6 L1974.5,299.4 L1975.5,298.3 L1976.5,297.1 L1977.5,295.9 L1978.5,294.8 L1979.5,293.6 L1980.5,292.4 L1981.5,291.2 L1982.5,290 L1983.5,288.9 L1984.5,287.7 L1985.5,286.5 L1986.5,285.3 L1987.5,284.1 L1988.5,282.9 L1989.5,281.7 L1990.5,280.5 L1991.5,279.3 L1992.5,278.1 L1993.5,276.9 L1994.5,275.7 L1995.5,274.4 L1996.5,273.2 L1997.5,272 L1998.5,270.8 L1999.5,269.6 L2000.5,268.4 L2001.5,267.2 L2002.5,266 L2003.5,264.8 L2004.5,263.6" fill="none" stroke="#ff0000" stroke-width="5.5" stroke-linejoin="round"/>
</g>
<g clip-path="url(#c1)">
<path d="M308.5,530.5 L309.5,529.7 L310.5,528.4 L311.5,527 L312.5,526.4 L313.5,525.1 L314.5,524.9 L315.5,524.8 L316.5,522.6 L317.5,521.5 L318.5,521.4 L319.5,520.3 L320.5,519.2 L321.5,517.5 L322.5,517.2 L323.5,516.7 L324.5,514.3 L325.5,514 L326.5,512 L327.5,511.4 L328.5,510.1 L329.5,510.2 L330.5,508.5 L331.5,508.6 L332.5,507.6 L333.5,506.3 L334.5,503.7 L335.5,504.1 L336.5,503.5 L337.5,502.6 L338.5,500.4 L339.5,500.2 L340.5,498.8 L341.5,497.8 L342.5,498.1 L343.5,495.8 L344.5,495.4 L345.5,495.1 L346.5,493.3 L347.5,492.8 L348.5,492.1 L349.5,491.3 L350.5,489.6 L351.5,489.8 L352.5,489.9 L353.5,487.2 L354.5,488.1 L355.5,486.9 L356.5,485.7 L357.5,486.9 L358.5,485.3 L359.5,483.2 L360.5,483.5 L361.5,483.1 L362.5,481.9 L363.5,481.8 L364.5,480.6 L365.5,480.5 L366.5,480.4 L367.5,478.2 L368.5,478.2 L369.5,477.1 L370.5,476.9 L371.5,475.3 L372.5,475.1 L373.5,474.7 L374.5,474.9 L375.5,474.4 L376.5,472 L377.5,471.8 L378.5,472.1 L379.5,469.6 L380.5,470.1 L381.5,469.7 L382.5,470 L383.5,468.9 L384.5,467.5 L385.5,466.8 L386.5,466.2 L387.5,466.8 L388.5,464.8 L389.5,464.2 L390.5,464 L391.5,463.1 L392.5,462.4 L393.5,461.1 L394.5,461.2 L395.5,460.3 L396.5,460.8 L397.5,459.9 L398.5,458.8 L399.5,458.8 L400.5,457.6 L401.5,458.1 L402.5,456.9 L403.5,456.6 L404.5,454.9 L405.5,455.1 L406.5,453.2 L407.5,452.3 L408.5,452.7 L409.5,452.1 L410.5,453.1 L411.5,454.6 L412.5,449.4 L413.5,453 L414.5,450.2 L415.5,450.3 L416.5,453.4 L417.5,453.8 L418.5,453.4 L419.5,450.6 L420.5,450.3 L421.5,453.5 L422.5,450.4 L423.5,452.6 L424.5,453.3 L425.5,450.5 L426.5,454.6 L427.5,450.7 L428.5,453 L429.5,451.8 L430.5,450.1 L431.5,450.1 L432.5,451.2 L433.5,451.8 L434.5,447.2 L435.5,455.1 L436.5,453.2 L437.5,448.8 L438.5,453.6 L439.5,452.1 L440.5,448.9 L441.5,452.3 L442.5,451.7 L443.5,453.7 L444.5,453.4 L445.5,451.4 L446.5,448.2 L447.5,452.7 L448.5,453.3 L449.5,453.6 L450.5,449.7 L451.5,452.6 L452.5,453.3 L453.5,449.4 L454.5,451.6 L455.5,450.1 L456.5,448.7 L457.5,449.5 L458.5,449.7 L459.5,448.5 L460.5,452.7 L461.5,450.8 L462.5,451.5 L463.5,449.7 L464.5,449.4 L465.5,452.4 L466.5,452.3 L467.5,451.5 L468.5,450.1 L469.5,451.9 L470.5,454.9 L471.5,448.7 L472.5,451.3 L473.5,452.1 L474.5,447.3 L475.5,454.9 L476.5,451.3 L477.5,449.7 L478.5,452.5 L479.5,453.7 L480.5,451.8 L481.5,453.9 L482.5,447.8 L483.5,450.6 L484.5,453.8 L485.5,453.7 L486.5,452.4 L487.5,452 L488.5,450.3 L489.5,451.4 L490.5,452.1 L491.5,453 L492.5,452.9 L493.5,452.9 L494.5,454.3 L495.5,452.8 L496.5,453.9 L497.5,453.6 L498.5,453.6 L499.5,455.7 L500.5,456.3 L501.5,456.3 L502.5,456.8 L503.5,457.7 L504.5,458.4 L505.5,459.2 L506.5,458.6 L507.5,460.7 L508.5,459.3 L509.5,461.4 L510.5,461.7 L511.5,462.6 L512.5,463.9 L513.5,464.3 L514.5,463.1 L515.5,463.4 L516.5,465.8 L517.5,465.2 L518.5,466.5 L519.5,467.8 L520.5,466.7 L521.5,467.1 L522.5,469.4 L523.5,469.9 L524.5,470.3 L525.5,471.2 L526.5,471.2 L527.5,471.4 L528.5,473 L529.5,473 L530.5,473.2 L531.5,475.3 L532.5,475.6 L533.5,476.5 L534.5,476.2 L535.5,477.1 L536.5,477.5 L537.5,478.2 L538.5,479.6 L539.5,479.6 L540.5,481.1 L541.5,481.7 L542.5,483.6 L543.5,481.9 L544.5,484.2 L545.5,484.2 L546.5,484.9 L547.5,484.6 L548.5,485.9 L549.5,487.4 L550.5,487.5 L551.5,488.7 L552.5,488 L553.5,490.7 L554.5,487.6 L555.5,487.5 L556.5,490.6 L557.5,488.1 L558.5,487.6 L559.5,490.4 L560.5,492.9 L561.5,493.5 L562.5,494.4 L563.5,496.2 L564.5,499.3 L565.5,500.1 L566.5,501.3 L567.5,502.4 L568.5,503.6 L569.5,505.2 L570.5,506 L571.5,506.8 L572.5,506.9 L573.5,509 L574.5,509.1 L575.5,511.4 L576.5,510.7 L577.5,512.4 L578.5,513.5 L579.5,513.6 L580.5,516.7 L581.5,517.4 L582.5,517.1 L583.5,518.9 L584.5,519.6 L585.5,518.4 L586.5,521.4 L587.5,522.1 L588.5,523.2 L589.5,523.3 L590.5,524.8 L591.5,525.8 L592.5,527.7 L593.5,528.1 L594.5,528.8 L595.5,530.8 L596.5,530.3 L597.5,531.3 L598.5,531.3 L599.5,534.6 L600.5,535.1 L601.5,536.1 L602.5,536.8 L603.5,537.4 L604.5,538.4 L605.5,539.1 L606.5,540.1 L607.5,541.2 L608.5,543.2 L609.5,543.5 L610.5,544.1 L611.5,544.7 L612.5,545.6 L613.5,548.2 L614.5,548.4 L615.5,549.1 L616.5,549.8 L617.5,550.2 L618.5,552 L619.5,553.6 L620.5,553.7 L621.5,554.9 L622.5,555.9 L623.5,557.2 L624.5,557 L625.5,559 L626.5,559.5 L627.5,561.6 L628.5,561.2 L629.5,563 L630.5,564.5 L631.5,564 L632.5,564.5 L633.5,565.8 L634.5,566.4 L635.5,566.5 L636.5,568.2 L637.5,570 L638.5,569.1 L639.5,569.8 L640.5,569.9 L641.5,571.5 L642.5,571.1 L643.5,571.9 L644.5,574.3 L645.5,573.4 L646.5,575.5 L647.5,576.5 L648.5,576.2 L649.5,577.1 L650.5,578.7 L651.5,577.8 L652.5,578.2 L653.5,578.3 L654.5,579.9 L655.5,581.6 L656.5,581.8 L657.5,581.1 L658.5,581.8 L659.5,582.7 L660.5,583.9 L661.5,584.2 L662.5,585.2 L663.5,585.9 L664.5,586.1 L665.5,587 L666.5,587.8 L667.5,588.3 L668.5,589.3 L669.5,591 L670.5,590.7 L671.5,591 L672.5,590.4 L673.5,592.5 L674.5,591.5 L675.5,592.5 L676.5,594.7 L677.5,595.2 L678.5,595.2 L679.5,594.7 L680.5,596.3 L681.5,596.7 L682.5,598 L683.5,599.8 L684.5,599.2 L685.5,598.8 L686.5,599 L687.5,600.2 L688.5,600.7 L689.5,600.9 L690.5,602.4 L691.5,602.3 L692.5,603.9 L693.5,604.2 L694.5,604.4 L695.5,604.4 L696.5,603.3 L697.5,603.8 L698.5,603.4 L699.5,604.7 L700.5,601.1 L701.5,599.8 L702.5,601.7 L703.5,601.6 L704.5,606.4 L705.5,606 L706.5,604.3 L707.5,603 L708.5,601.4 L709.5,603.9 L710.5,606 L711.5,604.7 L712.5,604.9 L713.5,602.2 L714.5,600.9 L715.5,605.3 L716.5,604.1 L717.5,601.6 L718.5,603.2 L719.5,605.6 L720.5,603.6 L721.5,604.1 L722.5,602.1 L723.5,604.8 L724.5,604.9 L725.5,603.6 L726.5,607.8 L727.5,604.9 L728.5,605.6 L729.5,601.7 L730.5,605.9 L731.5,603.8 L732.5,606.2 L733.5,607.3 L734.5,605.2 L735.5,605.4 L736.5,603.8 L737.5,605.1 L738.5,601.4 L739.5,606.7 L740.5,605.3 L741.5,601.3 L742.5,601.5 L743.5,603.5 L744.5,605.6 L745.5,602.2 L746.5,605.9 L747.5,602.9 L748.5,606.7 L749.5,604.9 L750.5,604.4 L751.5,602.6 L752.5,602.3 L753.5,600.6 L754.5,605 L755.5,605.5 L756.5,606.1 L757.5,603.4 L758.5,606.7 L759.5,603 L760.5,606.8 L761.5,605.9 L762.5,601.6 L763.5,606.3 L764.5,605.9 L765.5,604.6 L766.5,606.1 L767.5,602.9 L768.5,604.4 L769.5,602.3 L770.5,605 L771.5,606.2 L772.5,602.9 L773.5,603.5 L774.5,601.7 L775.5,601.5 L776.5,601.2 L777.5,602.5 L778.5,600.9 L779.5,600.5 L780.5,600.8 L781.5,599.3 L782.5,599.9 L783.5,597.9 L784.5,597.4 L785.5,596.5 L786.5,598.3 L787.5,596.3 L788.5,596.3 L789.5,595.5 L790.5,595 L791.5,594.3 L792.5,595 L793.5,592.3 L794.5,591.3 L795.5,591 L796.5,590.1 L797.5,591 L798.5,590.3 L799.5,588.4 L800.5,587.5 L801.5,587.5 L802.5,588.1 L803.5,584.5 L804.5,586.2 L805.5,584.4 L806.5,585.2 L807.5,583.1 L808.5,583 L809.5,581.5 L810.5,581.2 L811.5,582.3 L812.5,581.2 L813.5,579.7 L814.5,578.8 L815.5,577.4 L816.5,577.8 L817.5,577.5 L818.5,576.8 L819.5,576.1 L820.5,574.7 L821.5,574.8 L822.5,574.2 L823.5,574.4 L824.5,574.1 L825.5,572 L826.5,570.9 L827.5,570.7 L828.5,569.7 L829.5,568.9 L830.5,568.7 L831.5,567.3 L832.5,567.8 L833.5,566.6 L834.5,566.2 L835.5,565.2 L836.5,564.1 L837.5,564 L838.5,562.8 L839.5,562.8 L840.5,562.5 L841.5,563.4 L842.5,561.2 L843.5,561.7 L844.5,559.9 L845.5,559.3 L846.5,558.3 L847.5,555.7 L848.5,555.7 L849.5,554.3 L850.5,552.6 L851.5,551 L852.5,549.7 L853.5,548 L854.5,547.3 L855.5,546 L856.5,545.4 L857.5,543.5 L858.5,543.5 L859.5,542.5 L860.5,541.3 L861.5,540.1 L862.5,539.8 L863.5,537.3 L864.5,537.9 L865.5,536.7 L866.5,535.8 L867.5,534.9 L868.5,533.2 L869.5,532.6 L870.5,532.2 L871.5,531.2 L872.5,530.1 L873.5,527.9 L874.5,528.4 L875.5,527.9 L876.5,526.8 L877.5,525.4 L878.5,523.2 L879.5,524 L880.5,522.3 L881.5,519.6 L882.5,520.7 L883.5,518.5 L884.5,517.6 L885.5,517.1 L886.5,517.5 L887.5,515.4 L888.5,514.9 L889.5,514.9 L890.5,513.9 L891.5,511.7 L892.5,510.6 L893.5,508.9 L894.5,508.3 L895.5,508.1 L896.5,507.1 L897.5,505.9 L898.5,505.6 L899.5,503.3 L900.5,502.9 L901.5,502.4 L902.5,501.3 L903.5,500.6 L904.5,499.1 L905.5,497.6 L906.5,497 L907.5,495.1 L908.5,493.7 L909.5,494.4 L910.5,493.1 L911.5,492.6 L912.5,490.4 L913.5,490.5 L914.5,489.6 L915.5,488.7 L916.5,487 L917.5,487.6 L918.5,487.8 L919.5,486.7 L920.5,485.3 L921.5,485 L922.5,484.9 L923.5,481.7 L924.5,482.9 L925.5,482.7 L926.5,482.1 L927.5,482.1 L928.5,481.1 L929.5,479.8 L930.5,479.2 L931.5,478.9 L932.5,477.3 L933.5,477 L934.5,477 L935.5,477.1 L936.5,475 L937.5,474.4 L938.5,474 L939.5,474.2 L940.5,472.6 L941.5,473 L942.5,470.6 L943.5,470.5 L944.5,469.9 L945.5,469.9 L946.5,469.4 L947.5,467 L948.5,466.7 L949.5,466.9 L950.5,465.6 L951.5,464.3 L952.5,465.4 L953.5,464.4 L954.5,463.7 L955.5,462.4 L956.5,462.8 L957.5,461.3 L958.5,461.7 L959.5,459.6 L960.5,459.1 L961.5,459.3 L962.5,458.2 L963.5,458.4 L964.5,457.7 L965.5,456.4 L966.5,456.7 L967.5,455.4 L968.5,455.9 L969.5,454.2 L970.5,453.8 L971.5,454.3 L972.5,454.3 L973.5,452.9 L974.5,453 L975.5,452.8 L976.5,454 L977.5,449.7 L978.5,449.1 L979.5,452 L980.5,454.5 L981.5,450.5 L982.5,448.2 L983.5,450.9 L984.5,454.8 L985.5,453.2 L986.5,453.8 L987.5,450.9 L988.5,450.2 L989.5,453.5 L990.5,453.6 L991.5,453 L992.5,450.3 L993.5,449.2 L994.5,450.4 L995.5,453.7 L996.5,453.6 L997.5,450.2 L998.5,453.6 L999.5,451 L1000.5,449.8 L1001.5,451 L1002.5,449.2 L1003.5,451.5 L1004.5,450.4 L1005.5,449.6 L1006.5,451.9 L1007.5,450.1 L1008.5,453 L1009.5,448.9 L1010.5,451.8 L1011.5,452.6 L1012.5,449.4 L1013.5,450.3 L1014.5,453.1 L1015.5,452.8 L1016.5,454.3 L1017.5,453.7 L1018.5,447.4 L1019.5,453.9 L1020.5,451.5 L1021.5,452.8 L1022.5,449.5 L1023.5,450.9 L1024.5,451.4 L1025.5,453.5 L1026.5,452.8 L1027.5,449.2 L1028.5,453.1 L1029.5,451.5 L1030.5,450.8 L1031.5,454.5 L1032.5,450.9 L1033.5,454.8 L1034.5,455.2 L1035.5,453.3 L1036.5,449.2 L1037.5,450.9 L1038.5,448.3 L1039.5,452.7 L1040.5,453.9 L1041.5,447.7 L1042.5,453.2 L1043.5,451.5 L1044.5,448.4 L1045.5,454 L1046.5,450.9 L1047.5,449.7 L1048.5,447.8 L1049.5,452.7 L1050.5,449.1 L1051.5,451.4 L1052.5,450.6 L1053.5,453.3 L1054.5,452 L1055.5,453.4 L1056.5,452.1 L1057.5,453.9 L1058.5,452.2 L1059.5,452.7 L1060.5,453.7 L1061.5,454.5 L1062.5,454.6 L1063.5,455.6 L1064.5,455.4 L1065.5,456.3 L1066.5,458.6 L1067.5,457.5 L1068.5,458 L1069.5,459.1 L1070.5,459.8 L1071.5,459.1 L1072.5,460.4 L1073.5,461.8 L1074.5,461.9 L1075.5,462.5 L1076.5,464.1 L1077.5,463.2 L1078.5,464.4 L1079.5,464.6 L1080.5,466.7 L1081.5,464.9 L1082.5,466.5 L1083.5,467.2 L1084.5,468.7 L1085.5,469.4 L1086.5,470.6 L1087.5,469.2 L1088.5,471.4 L1089.5,471.3 L1090.5,471.7 L1091.5,473.2 L1092.5,472.8 L1093.5,472.6 L1094.5,474.5 L1095.5,474.3 L1096.5,475.5 L1097.5,476.9 L1098.5,477.5 L1099.5,479 L1100.5,478.4 L1101.5,478.1 L1102.5,479.3 L1103.5,479.9 L1104.5,480.4 L1105.5,482.2 L1106.5,482.1 L1107.5,481.9 L1108.5,484.4 L1109.5,484.5 L1110.5,485.6 L1111.5,486 L1112.5,487.1 L1113.5,487.3 L1114.5,488.5 L1115.5,489 L1116.5,487.9 L1117.5,489.8 L1118.5,488.9 L1119.5,489 L1120.5,488.3 L1121.5,489.7 L1122.5,489.4 L1123.5,492.6 L1124.5,492.9 L1125.5,493.7 L1126.5,495 L1127.5,497.7 L1128.5,499.4 L1129.5,500.3 L1130.5,502.1 L1131.5,502.7 L1132.5,504.6 L1133.5,504.7 L1134.5,506.2 L1135.5,507.9 L1136.5,510 L1137.5,508.5 L1138.5,509.9 L1139.5,510.6 L1140.5,512.7 L1141.5,512.3 L1142.5,513.8 L1143.5,515 L1144.5,515.3 L1145.5,516.3 L1146.5,517.6 L1147.5,517.4 L1148.5,518.9 L1149.5,520.5 L1150.5,521.9 L1151.5,522.6 L1152.5,522.4 L1153.5,524.3 L1154.5,526.1 L1155.5,526.9 L1156.5,527.4 L1157.5,527.8 L1158.5,529.8 L1159.5,529.9 L1160.5,530.4 L1161.5,531.6 L1162.5,534.1 L1163.5,534.2 L1164.5,535.8 L1165.5,535.7 L1166.5,537.6 L1167.5,537.5 L1168.5,538.8 L1169.5,541.6 L1170.5,541.3 L1171.5,541.4 L1172.5,542.7 L1173.5,544 L1174.5,545.6 L1175.5,545.3 L1176.5,545.5 L1177.5,547.5 L1178.5,548.7 L1179.5,549.7 L1180.5,551.5 L1181.5,551.8 L1182.5,553.2 L1183.5,552.8 L1184.5,555.2 L1185.5,557.1 L1186.5,557.2 L1187.5,557.9 L1188.5,558.8 L1189.5,560.9 L1190.5,560 L1191.5,561.4 L1192.5,562.6 L1193.5,563.6 L1194.5,563.6 L1195.5,564.9 L1196.5,565.2 L1197.5,566.2 L1198.5,566.8 L1199.5,566.8 L1200.5,568.3 L1201.5,569.6 L1202.5,569 L1203.5,570.2 L1204.5,571.5 L1205.5,571 L1206.5,572.5 L1207.5,572.4 L1208.5,574.6 L1209.5,576.1 L1210.5,576.5 L1211.5,575.6 L1212.5,577 L1213.5,577.2 L1214.5,577.8 L1215.5,579.5 L1216.5,578.1 L1217.5,580.4 L1218.5,580.2 L1219.5,581.9 L1220.5,581.7 L1221.5,581.7 L1222.5,583 L1223.5,584 L1224.5,584.1 L1225.5,585.1 L1226.5,585 L1227.5,584.6 L1228.5,587.4 L1229.5,587.9 L1230.5,588.2 L1231.5,588.8 L1232.5,590.1 L1233.5,589.7 L1234.5,590.2 L1235.5,591.2 L1236.5,592.8 L1237.5,591.7 L1238.5,594.1 L1239.5,593.4 L1240.5,593.7 L1241.5,596 L1242.5,595.6 L1243.5,595.4 L1244.5,596.7 L1245.5,598.1 L1246.5,598.6 L1247.5,598.2 L1248.5,599.2 L1249.5,599.8 L1250.5,599.9 L1251.5,601 L1252.5,601.1 L1253.5,601.8 L1254.5,602.7 L1255.5,603.6 L1256.5,602.3 L1257.5,601.9 L1258.5,603.4 L1259.5,605 L1260.5,606.4 L1261.5,607.6 L1262.5,607.4 L1263.5,603.3 L1264.5,606.1 L1265.5,600.8 L1266.5,604.6 L1267.5,600.8 L1268.5,602.6 L1269.5,602.6 L1270.5,601.2 L1271.5,602 L1272.5,605.7 L1273.5,601.7 L1274.5,601.8 L1275.5,604.9 L1276.5,605.4 L1277.5,605.7 L1278.5,605.3 L1279.5,605.7 L1280.5,602.7 L1281.5,605.9 L1282.5,600.4 L1283.5,602.7 L1284.5,605.3 L1285.5,601.2 L1286.5,604.4 L1287.5,601.7 L1288.5,602.8 L1289.5,605 L1290.5,604.9 L1291.5,603.9 L1292.5,603.1 L1293.5,605.8 L1294.5,605.7 L1295.5,603.5 L1296.5,606.3 L1297.5,605.6 L1298.5,607.8 L1299.5,604.7 L1300.5,606.4 L1301.5,604.1 L1302.5,605.3 L1303.5,605.5 L1304.5,601.9 L1305.5,603.4 L1306.5,604.9 L1307.5,600.4 L1308.5,606.1 L1309.5,605.6 L1310.5,606.5 L1311.5,604.5 L1312.5,604 L1313.5,607.9 L1314.5,604 L1315.5,605.6 L1316.5,603.1 L1317.5,603.1 L1318.5,602.5 L1319.5,602 L1320.5,603.2 L1321.5,600.4 L1322.5,605.9 L1323.5,605.5 L1324.5,601.5 L1325.5,600.5 L1326.5,600.1 L1327.5,606.6 L1328.5,601.3 L1329.5,604.1 L1330.5,601.4 L1331.5,601.2 L1332.5,600.8 L1333.5,604.5 L1334.5,602 L1335.5,605 L1336.5,604.4 L1337.5,601.5 L1338.5,602.4 L1339.5,602.9 L1340.5,602.5 L1341.5,602.1 L1342.5,602.5 L1343.5,600.8 L1344.5,600.4 L1345.5,598.9 L1346.5,599.7 L1347.5,598.4 L1348.5,598.6 L1349.5,597.4 L1350.5,598.1 L1351.5,594.9 L1352.5,595.5 L1353.5,595.7 L1354.5,594.3 L1355.5,593.3 L1356.5,593.1 L1357.5,591.7 L1358.5,592.1 L1359.5,593.1 L1360.5,591.5 L1361.5,589.3 L1362.5,588.8 L1363.5,588.4 L1364.5,588.8 L1365.5,586.8 L1366.5,586.2 L1367.5,586.7 L1368.5,586 L1369.5,584.5 L1370.5,583.3 L1371.5,582.4 L1372.5,582.3 L1373.5,580.6 L1374.5,582.1 L1375.5,580.5 L1376.5,580.6 L1377.5,580.9 L1378.5,579.8 L1379.5,577.6 L1380.5,578.3 L1381.5,577.9 L1382.5,575.9 L1383.5,575.1 L1384.5,575 L1385.5,573.3 L1386.5,574.8 L1387.5,571.4 L1388.5,571.6 L1389.5,571.5 L1390.5,570.9 L1391.5,570.5 L1392.5,569.9 L1393.5,568.8 L1394.5,569.1 L1395.5,566.1 L1396.5,566.9 L1397.5,565.8 L1398.5,565.7 L1399.5,565.2 L1400.5,564.1 L1401.5,564.2 L1402.5,564 L1403.5,563.4 L1404.5,562.8 L1405.5,563.5 L1406.5,563.5 L1407.5,560.1 L1408.5,560.4 L1409.5,560.8 L1410.5,558.2 L1411.5,556.4 L1412.5,554.6 L1413.5,552.9 L1414.5,551.7 L1415.5,550.1 L1416.5,549.7 L1417.5,547.7 L1418.5,546.6 L1419.5,545 L1420.5,544.7 L1421.5,543.1 L1422.5,542.6 L1423.5,542.5 L1424.5,541.1 L1425.5,540.2 L1426.5,539.1 L1427.5,538 L1428.5,536.9 L1429.5,535.8 L1430.5,535.6 L1431.5,533.3 L1432.5,534.1 L1433.5,532.2 L1434.5,530.7 L1435.5,529.9 L1436.5,528.9 L1437.5,528.5 L1438.5,527 L1439.5,527.3 L1440.5,525 L1441.5,523 L1442.5,523.2 L1443.5,521.3 L1444.5,521.8 L1445.5,521.6 L1446.5,520.3 L1447.5,518 L1448.5,517.4 L1449.5,518.2 L1450.5,516.3 L1451.5,515.1 L1452.5,514.8 L1453.5,514.8 L1454.5,513.1 L1455.5,511.3 L1456.5,510.4 L1457.5,509.6 L1458.5,507.8 L1459.5,506.5 L1460.5,506.3 L1461.5,504.6 L1462.5,504.2 L1463.5,503.4 L1464.5,503.9 L1465.5,500.7 L1466.5,500.2 L1467.5,499.1 L1468.5,498.5 L1469.5,497.9 L1470.5,495.8 L1471.5,494.6 L1472.5,493.2 L1473.5,492.8 L1474.5,493 L1475.5,491.9 L1476.5,490.4 L1477.5,490.1 L1478.5,489.6 L1479.5,489.2 L1480.5,487.7 L1481.5,487.2 L1482.5,485.4 L1483.5,485.2 L1484.5,486.5 L1485.5,483.1 L1486.5,483.7 L1487.5,483.4 L1488.5,482.3 L1489.5,481.3 L1490.5,481.2 L1491.5,480.5 L1492.5,479.8 L1493.5,477.9 L1494.5,478.5 L1495.5,477.3 L1496.5,476.9 L1497.5,476.8 L1498.5,476.5 L1499.5,476 L1500.5,474.4 L1501.5,474.7 L1502.5,474.3 L1503.5,473.6 L1504.5,473.2 L1505.5,471.4 L1506.5,470.8 L1507.5,470.8 L1508.5,468.6 L1509.5,469.1 L1510.5,467.9 L1511.5,467.4 L1512.5,465.7 L1513.5,465.7 L1514.5,465.6 L1515.5,465.6 L1516.5,465 L1517.5,463.6 L1518.5,462.9 L1519.5,461.8 L1520.5,462 L1521.5,461 L1522.5,460.9 L1523.5,461.1 L1524.5,459.3 L1525.5,457.6 L1526.5,457.7 L1527.5,456.7 L1528.5,456 L1529.5,457.6 L1530.5,456.2 L1531.5,454.5 L1532.5,455.4 L1533.5,455.3 L1534.5,453.3 L1535.5,453.2 L1536.5,452.4 L1537.5,451.7 L1538.5,452 L1539.5,452.1 L1540.5,454.1 L1541.5,452.3 L1542.5,449.5 L1543.5,453.2 L1544.5,450.2 L1545.5,453.3 L1546.5,448.5 L1547.5,453.4 L1548.5,454.5 L1549.5,447.8 L1550.5,450.5 L1551.5,449.8 L1552.5,452 L1553.5,448.7 L1554.5,454.5 L1555.5,450 L1556.5,452.6 L1557.5,450.6 L1558.5,449.6 L1559.5,449.1 L1560.5,453.4 L1561.5,448.4 L1562.5,450.5 L1563.5,449.8 L1564.5,451.1 L1565.5,451.9 L1566.5,448.4 L1567.5,450.9 L1568.5,452.9 L1569.5,452.9 L1570.5,450.7 L1571.5,450.6 L1572.5,447.7 L1573.5,450.9 L1574.5,452.3 L1575.5,451.5 L1576.5,453.9 L1577.5,449.6 L1578.5,453.3 L1579.5,454.7 L1580.5,453.4 L1581.5,455.1 L1582.5,449.5 L1583.5,454 L1584.5,451.2 L1585.5,453.1 L1586.5,455.2 L1587.5,452.2 L1588.5,451.4 L1589.5,448.1 L1590.5,452.3 L1591.5,450 L1592.5,451.5 L1593.5,450.8 L1594.5,455.2 L1595.5,453.3 L1596.5,452.9 L1597.5,448.1 L1598.5,449.2 L1599.5,452.8 L1600.5,449.9 L1601.5,453.7 L1602.5,451.7 L1603.5,451 L1604.5,452.6 L1605.5,451.6 L1606.5,451 L1607.5,450.7 L1608.5,452.7 L1609.5,449.9 L1610.5,448.7 L1611.5,450.8 L1612.5,449.7 L1613.5,449.8 L1614.5,451.4 L1615.5,452.5 L1616.5,449.1 L1617.5,451.5 L1618.5,452.7 L1619.5,451.9 L1620.5,452.1 L1621.5,453.8 L1622.5,452 L1623.5,453.9 L1624.5,454.3 L1625.5,452.9 L1626.5,454.8 L1627.5,456.3 L1628.5,457.5 L1629.5,457.1 L1630.5,457.7 L1631.5,456.9 L1632.5,459.4 L1633.5,460.3 L1634.5,459.7 L1635.5,460.1 L1636.5,459.8 L1637.5,462.1 L1638.5,464 L1639.5,463.3 L1640.5,464.3 L1641.5,464.4 L1642.5,464 L1643.5,466.3 L1644.5,465.2 L1645.5,466.5 L1646.5,467.5 L1647.5,468.6 L1648.5,469 L1649.5,469.6 L1650.5,469.5 L1651.5,469.7 L1652.5,471.3 L1653.5,471.4 L1654.5,471.7 L1655.5,472.3 L1656.5,473.5 L1657.5,473.2 L1658.5,474.2 L1659.5,474.6 L1660.5,476.5 L1661.5,477.3 L1662.5,479.1 L1663.5,477.3 L1664.5,478.5 L1665.5,480.3 L1666.5,480.1 L1667.5,480.7 L1668.5,482.8 L1669.5,482.1 L1670.5,482.2 L1671.5,482.8 L1672.5,484.6 L1673.5,485.2 L1674.5,484.7 L1675.5,485.7 L1676.5,487.4 L1677.5,487.6 L1678.5,486.8 L1679.5,487.6 L1680.5,490.8 L1681.5,486.9 L1682.5,489.7 L1683.5,490.1 L1684.5,488.9 L1685.5,488.5 L1686.5,490.8 L1687.5,492.8 L1688.5,494.9 L1689.5,494 L1690.5,499.1 L1691.5,498 L1692.5,500.9 L1693.5,502.4 L1694.5,503.4 L1695.5,503.9 L1696.5,504 L1697.5,506.3 L1698.5,506.3 L1699.5,506.1 L1700.5,510.8 L1701.5,510.3 L1702.5,512.1 L1703.5,511.1 L1704.5,513.8 L1705.5,514.8 L1706.5,515.8 L1707.5,515.6 L1708.5,515.8 L1709.5,517.5 L1710.5,517 L1711.5,518.3 L1712.5,520.5 L1713.5,520.7 L1714.5,522.2 L1715.5,523.2 L1716.5,525.6 L1717.5,526.1 L1718.5,526.1 L1719.5,527.9 L1720.5,527.5 L1721.5,528.7 L1722.5,530.5 L1723.5,530 L1724.5,531.6 L1725.5,531.8 L1726.5,533.8 L1727.5,535.8 L1728.5,535.1 L1729.5,536.7 L1730.5,536.9 L1731.5,537.7 L1732.5,538.6 L1733.5,541.4 L1734.5,543 L1735.5,542.7 L1736.5,542.8 L1737.5,544.8 L1738.5,545.1 L1739.5,546.8 L1740.5,547.5 L1741.5,548.4 L1742.5,549.7 L1743.5,549.8 L1744.5,550.9 L1745.5,551 L1746.5,552.9 L1747.5,553.2 L1748.5,555.1 L1749.5,555.6 L1750.5,557.4 L1751.5,558.7 L1752.5,558.3 L1753.5,559.7 L1754.5,560.5 L1755.5,562.5 L1756.5,564 L1757.5,564.2 L1758.5,564.1 L1759.5,566.1 L1760.5,564.8 L1761.5,567.6 L1762.5,566.8 L1763.5,566.1 L1764.5,570.6 L1765.5,570.5 L1766.5,569.4 L1767.5,570.9 L1768.5,571.3 L1769.5,572.2 L1770.5,571.8 L1771.5,573 L1772.5,574.5 L1773.5,575 L1774.5,576.4 L1775.5,576.2 L1776.5,578.5 L1777.5,577 L1778.5,578.3 L1779.5,577.4 L1780.5,578.5 L1781.5,581 L1782.5,580 L1783.5,581.7 L1784.5,581.9 L1785.5,581.8 L1786.5,583 L1787.5,583.5 L1788.5,584.1 L1789.5,585.7 L1790.5,586.3 L1791.5,586.1 L1792.5,586.5 L1793.5,588 L1794.5,588.4 L1795.5,589.8 L1796.5,591.6 L1797.5,591 L1798.5,591.1 L1799.5,591.6 L1800.5,591.8 L1801.5,592.4 L1802.5,592.9 L1803.5,594 L1804.5,594.6 L1805.5,596 L1806.5,595.8 L1807.5,596.3 L1808.5,596.2 L1809.5,598.8 L1810.5,598.5 L1811.5,599.9 L1812.5,600.1 L1813.5,601.2 L1814.5,600.3 L1815.5,601.6 L1816.5,603.7 L1817.5,601.5 L1818.5,603.7 L1819.5,602.7 L1820.5,604.9 L1821.5,602.8 L1822.5,603.2 L1823.5,603.5 L1824.5,604.8 L1825.5,605 L1826.5,602 L1827.5,606.4 L1828.5,604.6 L1829.5,606.3 L1830.5,604.1 L1831.5,600.1 L1832.5,602.1 L1833.5,605.7 L1834.5,603.9 L1835.5,603.3 L1836.5,602.7 L1837.5,602.2 L1838.5,604 L1839.5,601.1 L1840.5,607 L1841.5,603.9 L1842.5,605.7 L1843.5,607 L1844.5,603.4 L1845.5,605.6 L1846.5,605.4 L1847.5,602.8 L1848.5,606.1 L1849.5,607.1 L1850.5,601.8 L1851.5,606.3 L1852.5,600.9 L1853.5,600.3 L1854.5,604.9 L1855.5,601.9 L1856.5,604 L1857.5,602.9 L1858.5,604.2 L1859.5,606.5 L1860.5,604.8 L1861.5,602.9 L1862.5,601.7 L1863.5,604.6 L1864.5,603 L1865.5,602.4 L1866.5,604.6 L1867.5,601.7 L1868.5,605.8 L1869.5,606.6 L1870.5,603.4 L1871.5,601.6 L1872.5,604.1 L1873.5,603.4 L1874.5,606.7 L1875.5,604.5 L1876.5,602.7 L1877.5,605.8 L1878.5,604.2 L1879.5,602.9 L1880.5,603.3 L1881.5,603 L1882.5,606.5 L1883.5,603.2 L1884.5,604 L1885.5,606.9 L1886.5,602.9 L1887.5,606.1 L1888.5,600 L1889.5,602.3 L1890.5,602.4 L1891.5,606.1 L1892.5,604.5 L1893.5,602.9 L1894.5,601.7 L1895.5,603.4 L1896.5,602.8 L1897.5,604.3 L1898.5,604.9 L1899.5,603.4 L1900.5,602.5 L1901.5,602.1 L1902.5,602 L1903.5,603 L1904.5,600.2 L1905.5,601.5 L1906.5,600.7 L1907.5,600.1 L1908.5,598.8 L1909.5,598.8 L1910.5,598.9 L1911.5,598.5 L1912.5,596.9 L1913.5,597.6 L1914.5,595.6 L1915.5,595.7 L1916.5,596.3 L1917.5,594.2 L1918.5,593.8 L1919.5,594.3 L1920.5,592.6 L1921.5,592 L1922.5,591.8 L1923.5,591.7 L1924.5,588.7 L1925.5,589 L1926.5,588.3 L1927.5,587.5 L1928.5,587 L1929.5,586.4 L1930.5,586.5 L1931.5,585 L1932.5,585.1 L1933.5,584.6 L1934.5,583.2 L1935.5,583.2 L1936.5,583.6 L1937.5,582 L1938.5,580.7 L1939.5,580.5 L1940.5,579.2 L1941.5,579.5 L1942.5,579.2 L1943.5,577.4 L1944.5,577.2 L1945.5,577.5 L1946.5,575.7 L1947.5,575.5 L1948.5,574 L1949.5,573.5 L1950.5,573 L1951.5,574.2 L1952.5,571.7 L1953.5,570.9 L1954.5,570.2 L1955.5,569.8 L1956.5,569.7 L1957.5,568.7 L1958.5,569.3 L1959.5,567.4 L1960.5,567.6 L1961.5,566.1 L1962.5,565.8 L1963.5,564.1 L1964.5,564.4 L1965.5,562.7 L1966.5,562.1 L1967.5,561.5 L1968.5,563.8 L1969.5,561.9 L1970.5,561.2 L1971.5,560.4 L1972.5,559.3 L1973.5,558.5 L1974.5,555.9 L1975.5,554.7 L1976.5,554.1 L1977.5,552.5 L1978.5,550.7 L1979.5,549.3 L1980.5,547.9 L1981.5,547.3 L1982.5,547 L1983.5,544.4 L1984.5,545.2 L1985.5,543.8 L1986.5,541.9 L1987.5,541.7 L1988.5,539.2 L1989.5,538.1 L1990.5,537.4 L1991.5,537 L1992.5,536.1 L1993.5,535.1 L1994.5,534.5 L1995.5,532 L1996.5,532.9 L1997.5,530.6 L1998.5,530.2 L1999.5,529.4 L2000.5,528 L2001.5,526.9 L2002.5,526.2 L2003.5,525.9 L2004.5,525.4" fill="none" stroke="#ff0000" stroke-width="8.7" stroke-linejoin="round"/>
<path d="M308.5,532.2 L309.5,531.1 L310.5,530.4 L311.5,529.8 L312.5,528.8 L313.5,527.5 L314.5,526.5 L315.5,524.7 L316.5,524.3 L317.5,523.6 L318.5,522.3 L319.5,521.6 L320.5,520.1 L321.5,520.6 L322.5,520 L323.5,517.5 L324.5,517 L325.5,515.7 L326.5,515.6 L327.5,514.1 L328.5,512.9 L329.5,511.8 L330.5,511 L331.5,509.3 L332.5,509.3 L333.5,507.5 L334.5,507.3 L335.5,506.1 L336.5,505.6 L337.5,504 L338.5,503.6 L339.5,501.4 L340.5,501.3 L341.5,499.8 L342.5,499 L343.5,497.9 L344.5,497.5 L345.5,494.8 L346.5,495.4 L347.5,493.4 L348.5,494.3 L349.5,491.6 L350.5,491.4 L351.5,490.2 L352.5,491.5 L353.5,489 L354.5,489.1 L355.5,488 L356.5,486.6 L357.5,486.8 L358.5,486.7 L359.5,485.5 L360.5,485.5 L361.5,484 L362.5,483.5 L363.5,482.6 L364.5,482.4 L365.5,482.6 L366.5,481.1 L367.5,480.3 L368.5,479.2 L369.5,478.5 L370.5,479.1 L371.5,477 L372.5,476.4 L373.5,476.3 L374.5,475.5 L375.5,476.3 L376.5,473 L377.5,474 L378.5,473.6 L379.5,471.9 L380.5,471.5 L381.5,471.5 L382.5,471.5 L383.5,469.4 L384.5,468.3 L385.5,469.2 L386.5,468.8 L387.5,467.1 L388.5,465.3 L389.5,466.8 L390.5,465.2 L391.5,465.3 L392.5,464 L393.5,463.2 L394.5,462.5 L395.5,463 L396.5,462.4 L397.5,459.6 L398.5,459.9 L399.5,460.9 L400.5,459.1 L401.5,457.9 L402.5,458.3 L403.5,457.2 L404.5,456.7 L405.5,456.1 L406.5,455.9 L407.5,455.3 L408.5,455.2 L409.5,454 L410.5,452.6 L411.5,454.9 L412.5,454.7 L413.5,453.8 L414.5,454.6 L415.5,451.5 L416.5,453.8 L417.5,454.7 L418.5,454.8 L419.5,451.2 L420.5,455.1 L421.5,455.4 L422.5,453.4 L423.5,451.2 L424.5,455.9 L425.5,450.1 L426.5,450.1 L427.5,454 L428.5,453.6 L429.5,452.2 L430.5,455.3 L431.5,453 L432.5,450.9 L433.5,450.7 L434.5,455.1 L435.5,455.1 L436.5,449.5 L437.5,452.6 L438.5,453 L439.5,451.1 L440.5,448.8 L441.5,452.5 L442.5,455.7 L443.5,454.9 L444.5,451.1 L445.5,454.7 L446.5,454.1 L447.5,451.2 L448.5,451.6 L449.5,450.9 L450.5,451.6 L451.5,451.9 L452.5,451.4 L453.5,455.1 L454.5,455.1 L455.5,453.8 L456.5,455.6 L457.5,453.7 L458.5,454.4 L459.5,454.9 L460.5,453.4 L461.5,452.8 L462.5,454.8 L463.5,454.9 L464.5,454.8 L465.5,451.5 L466.5,451.3 L467.5,451.6 L468.5,454.7 L469.5,455.3 L470.5,453.6 L471.5,452.2 L472.5,450.7 L473.5,455.8 L474.5,453.2 L475.5,455.8 L476.5,453.9 L477.5,452.3 L478.5,454.6 L479.5,456.1 L480.5,455.7 L481.5,450.8 L482.5,452.3 L483.5,454.8 L484.5,453.5 L485.5,455.2 L486.5,453.4 L487.5,454.5 L488.5,449.3 L489.5,449.8 L490.5,450.9 L491.5,452.3 L492.5,453 L493.5,455.5 L494.5,455.3 L495.5,453.3 L496.5,453.9 L497.5,455.3 L498.5,456.2 L499.5,456.4 L500.5,457.1 L501.5,456.9 L502.5,458.6 L503.5,458.7 L504.5,459.3 L505.5,459.3 L506.5,460.1 L507.5,461.2 L508.5,461.1 L509.5,461.5 L510.5,462.7 L511.5,464.2 L512.5,464.2 L513.5,465.7 L514.5,465.3 L515.5,465.9 L516.5,465.9 L517.5,467 L518.5,468.9 L519.5,468.9 L520.5,469.8 L521.5,470.5 L522.5,470.7 L523.5,471.2 L524.5,472.1 L525.5,473.1 L526.5,473.6 L527.5,474.2 L528.5,474.7 L529.5,474.8 L530.5,475.7 L531.5,475.9 L532.5,477.7 L533.5,476.5 L534.5,478.3 L535.5,480.5 L536.5,479.5 L537.5,479.6 L538.5,481 L539.5,482.4 L540.5,482.2 L541.5,483.4 L542.5,483.7 L543.5,484.1 L544.5,486.9 L545.5,485.8 L546.5,486.1 L547.5,486.8 L548.5,488 L549.5,488.6 L550.5,489.7 L551.5,490.2 L552.5,487.8 L553.5,491.8 L554.5,487.8 L555.5,489.3 L556.5,491.7 L557.5,491.3 L558.5,490.9 L559.5,492.2 L560.5,492.6 L561.5,495 L562.5,496.8 L563.5,497.7 L564.5,499.6 L565.5,501 L566.5,503.3 L567.5,502.5 L568.5,504.9 L569.5,505.1 L570.5,506.9 L571.5,508.7 L572.5,508.8 L573.5,510.2 L574.5,510.6 L575.5,513.3 L576.5,513.6 L577.5,514.7 L578.5,514.2 L579.5,515.3 L580.5,517.6 L581.5,517.8 L582.5,518.7 L583.5,520 L584.5,520.1 L585.5,522.2 L586.5,522.7 L587.5,524 L588.5,524.2 L589.5,525.9 L590.5,526.1 L591.5,528 L592.5,529.1 L593.5,529.9 L594.5,530.6 L595.5,531.6 L596.5,530.5 L597.5,533.6 L598.5,533.9 L599.5,535.1 L600.5,535.8 L601.5,536.1 L602.5,537.6 L603.5,539.2 L604.5,540.6 L605.5,540.4 L606.5,541.2 L607.5,543.6 L608.5,543.1 L609.5,545.9 L610.5,545.6 L611.5,546.1 L612.5,548.2 L613.5,549.6 L614.5,548.7 L615.5,551.5 L616.5,551.4 L617.5,553.4 L618.5,553.3 L619.5,553.6 L620.5,555.8 L621.5,557.1 L622.5,558.8 L623.5,559.6 L624.5,560.1 L625.5,560.5 L626.5,561.3 L627.5,562.3 L628.5,562.8 L629.5,563.9 L630.5,563.4 L631.5,565.8 L632.5,566.4 L633.5,568.7 L634.5,568.4 L635.5,568.4 L636.5,569.7 L637.5,569.3 L638.5,570.4 L639.5,570.3 L640.5,573 L641.5,573.2 L642.5,572.8 L643.5,574.2 L644.5,575.4 L645.5,575.9 L646.5,576.5 L647.5,576.4 L648.5,577.2 L649.5,578.3 L650.5,579.4 L651.5,579 L652.5,579.5 L653.5,581.4 L654.5,580.8 L655.5,582.7 L656.5,582.8 L657.5,583.8 L658.5,585 L659.5,585 L660.5,585.7 L661.5,585.3 L662.5,586.1 L663.5,587.6 L664.5,588.7 L665.5,589.3 L666.5,590.5 L667.5,590 L668.5,590.6 L669.5,591.7 L670.5,591.8 L671.5,592.4 L672.5,592.5 L673.5,594.3 L674.5,593.7 L675.5,595.3 L676.5,594.8 L677.5,596.9 L678.5,596.2 L679.5,598 L680.5,597.1 L681.5,598.2 L682.5,599.8 L683.5,599 L684.5,600.3 L685.5,600.8 L686.5,600.1 L687.5,601.9 L688.5,602.6 L689.5,602.2 L690.5,603.5 L691.5,602.9 L692.5,604.5 L693.5,604.1 L694.5,604.8 L695.5,605.8 L696.5,607.2 L697.5,606.4 L698.5,603.6 L699.5,606 L700.5,603 L701.5,605.4 L702.5,603.7 L703.5,605.6 L704.5,604.8 L705.5,604 L706.5,602.5 L707.5,606.8 L708.5,603.6 L709.5,603.4 L710.5,605 L711.5,603 L712.5,602.8 L713.5,605.8 L714.5,606.6 L715.5,606.1 L716.5,603.8 L717.5,606.3 L718.5,606.7 L719.5,603.6 L720.5,603 L721.5,606.5 L722.5,605 L723.5,607.8 L724.5,601.9 L725.5,606.4 L726.5,604.5 L727.5,601.9 L728.5,607.4 L729.5,603.5 L730.5,607.9 L731.5,607.6 L732.5,608.3 L733.5,602.5 L734.5,603.5 L735.5,602.4 L736.5,603.9 L737.5,607.6 L738.5,606.7 L739.5,602.8 L740.5,601.8 L741.5,607.4 L742.5,605.8 L743.5,602.3 L744.5,606.2 L745.5,604.1 L746.5,604.7 L747.5,602.4 L748.5,608.5 L749.5,604.3 L750.5,607.2 L751.5,603.7 L752.5,605.4 L753.5,606.2 L754.5,605.8 L755.5,609 L756.5,603.8 L757.5,603.8 L758.5,604.8 L759.5,604.5 L760.5,607.8 L761.5,603.6 L762.5,605.2 L763.5,605.1 L764.5,605.5 L765.5,605.5 L766.5,602.7 L767.5,606.8 L768.5,601.7 L769.5,607.8 L770.5,604.1 L771.5,603.9 L772.5,604.7 L773.5,606.1 L774.5,603.6 L775.5,604.6 L776.5,604.4 L777.5,603.8 L778.5,602.6 L779.5,602.9 L780.5,602.5 L781.5,601 L782.5,601.1 L783.5,601.3 L784.5,600.1 L785.5,599.6 L786.5,598.4 L787.5,598.1 L788.5,596.5 L789.5,597 L790.5,597.1 L791.5,597 L792.5,595.9 L793.5,594.9 L794.5,593.9 L795.5,592.9 L796.5,592.5 L797.5,592.3 L798.5,590.8 L799.5,591.2 L800.5,589.4 L801.5,588.2 L802.5,588 L803.5,587 L804.5,586.5 L805.5,587.3 L806.5,585.9 L807.5,585.5 L808.5,585.4 L809.5,584.8 L810.5,583.1 L811.5,583.6 L812.5,582.4 L813.5,581.5 L814.5,581.2 L815.5,579.4 L816.5,579.1 L817.5,578.9 L818.5,578.7 L819.5,577.5 L820.5,576.9 L821.5,576.9 L822.5,576.5 L823.5,575.5 L824.5,575.1 L825.5,573.4 L826.5,572.8 L827.5,572.5 L828.5,571.4 L829.5,570.6 L830.5,571.2 L831.5,569.4 L832.5,568.3 L833.5,568.5 L834.5,568.6 L835.5,566.9 L836.5,567.3 L837.5,566.1 L838.5,565.1 L839.5,565.5 L840.5,564 L841.5,566.1 L842.5,563.3 L843.5,564.1 L844.5,561.7 L845.5,561.1 L846.5,560.5 L847.5,559 L848.5,557.3 L849.5,554.7 L850.5,554.4 L851.5,552.2 L852.5,553 L853.5,550.1 L854.5,549.1 L855.5,547.2 L856.5,546.6 L857.5,545.1 L858.5,545.4 L859.5,543.7 L860.5,543.2 L861.5,541.5 L862.5,540.7 L863.5,540.8 L864.5,538.4 L865.5,537 L866.5,537.4 L867.5,535.5 L868.5,534.9 L869.5,534.8 L870.5,532.8 L871.5,532.9 L872.5,531 L873.5,531.4 L874.5,530.3 L875.5,528.3 L876.5,527.5 L877.5,526.2 L878.5,525.9 L879.5,525.5 L880.5,523 L881.5,523.5 L882.5,521.2 L883.5,520.5 L884.5,519 L885.5,520.3 L886.5,518.1 L887.5,517.3 L888.5,515.8 L889.5,515.9 L890.5,513 L891.5,513.3 L892.5,513.6 L893.5,511.1 L894.5,510.3 L895.5,509.7 L896.5,507.9 L897.5,507.4 L898.5,506.9 L899.5,505.5 L900.5,504.6 L901.5,503.2 L902.5,502.6 L903.5,501.4 L904.5,501.2 L905.5,499.7 L906.5,498.1 L907.5,495.8 L908.5,496.8 L909.5,496 L910.5,494.1 L911.5,492.6 L912.5,492.4 L913.5,492.8 L914.5,490.9 L915.5,490.5 L916.5,490.2 L917.5,490.1 L918.5,488.6 L919.5,487.9 L920.5,486.9 L921.5,487.5 L922.5,486.5 L923.5,485.1 L924.5,483.7 L925.5,483.3 L926.5,483.5 L927.5,482 L928.5,482.3 L929.5,481.3 L930.5,480.6 L931.5,480.2 L932.5,479.5 L933.5,478 L934.5,477.7 L935.5,478.7 L936.5,475.9 L937.5,475.7 L938.5,476 L939.5,474.6 L940.5,473.6 L941.5,472.6 L942.5,473.1 L943.5,472.8 L944.5,472.3 L945.5,470.9 L946.5,470.8 L947.5,468.9 L948.5,468.9 L949.5,467.8 L950.5,467.6 L951.5,467.3 L952.5,466.8 L953.5,465 L954.5,465.7 L955.5,464 L956.5,463 L957.5,462.9 L958.5,461.5 L959.5,461.8 L960.5,461.3 L961.5,460.5 L962.5,460.2 L963.5,459.3 L964.5,458.9 L965.5,457.6 L966.5,458.1 L967.5,456.7 L968.5,456.4 L969.5,456 L970.5,455.6 L971.5,454 L972.5,454.2 L973.5,453.9 L974.5,454.5 L975.5,454.5 L976.5,451.8 L977.5,452.4 L978.5,453.3 L979.5,449.9 L980.5,449.9 L981.5,453.9 L982.5,453.7 L983.5,450.6 L984.5,450.4 L985.5,455.1 L986.5,452.5 L987.5,452 L988.5,454.4 L989.5,454.1 L990.5,456.2 L991.5,449.9 L992.5,454 L993.5,452.8 L994.5,451.4 L995.5,452.7 L996.5,449.4 L997.5,451.7 L998.5,449.8 L999.5,453.9 L1000.5,454.3 L1001.5,450.4 L1002.5,451.6 L1003.5,455.7 L1004.5,452.6 L1005.5,452.2 L1006.5,456.1 L1007.5,453.2 L1008.5,453.6 L1009.5,453.4 L1010.5,449.5 L1011.5,452.2 L1012.5,455.2 L1013.5,454 L1014.5,455.8 L1015.5,450.3 L1016.5,453.4 L1017.5,452.5 L1018.5,451.5 L1019.5,449.9 L1020.5,450.3 L1021.5,450.7 L1022.5,451.8 L1023.5,452.6 L1024.5,454.2 L1025.5,455.2 L1026.5,453.9 L1027.5,452.6 L1028.5,452.8 L1029.5,451.1 L1030.5,452 L1031.5,453.3 L1032.5,455.7 L1033.5,455.5 L1034.5,449 L1035.5,454.4 L1036.5,451.3 L1037.5,454 L1038.5,455.4 L1039.5,454.1 L1040.5,449.6 L1041.5,452.6 L1042.5,451 L1043.5,454.3 L1044.5,455.7 L1045.5,454.8 L1046.5,452.1 L1047.5,454.4 L1048.5,450.1 L1049.5,455 L1050.5,455.5 L1051.5,449.3 L1052.5,453.6 L1053.5,453.9 L1054.5,452.9 L1055.5,452.4 L1056.5,452.3 L1057.5,454.2 L1058.5,453.7 L1059.5,455.1 L1060.5,454.8 L1061.5,455.9 L1062.5,456.9 L1063.5,457 L1064.5,458.3 L1065.5,458.7 L1066.5,458 L1067.5,459.3 L1068.5,459.2 L1069.5,460.6 L1070.5,460.3 L1071.5,462 L1072.5,462.3 L1073.5,463.2 L1074.5,463.2 L1075.5,463 L1076.5,465.6 L1077.5,465.1 L1078.5,466.6 L1079.5,466.7 L1080.5,467.5 L1081.5,468.9 L1082.5,468.7 L1083.5,470 L1084.5,468.9 L1085.5,471 L1086.5,471 L1087.5,471.7 L1088.5,472.4 L1089.5,473.3 L1090.5,474.7 L1091.5,473.2 L1092.5,475 L1093.5,475.2 L1094.5,476.9 L1095.5,476.6 L1096.5,477.8 L1097.5,477.9 L1098.5,479.2 L1099.5,480 L1100.5,479.8 L1101.5,480.7 L1102.5,480.5 L1103.5,482.2 L1104.5,483.2 L1105.5,483.1 L1106.5,484.8 L1107.5,483.5 L1108.5,484.3 L1109.5,485.3 L1110.5,486.5 L1111.5,487.5 L1112.5,488.1 L1113.5,488.7 L1114.5,490 L1115.5,489.6 L1116.5,488.7 L1117.5,490.9 L1118.5,489.8 L1119.5,488.4 L1120.5,490.3 L1121.5,492 L1122.5,492.1 L1123.5,492.5 L1124.5,494.4 L1125.5,496.5 L1126.5,498.4 L1127.5,498.8 L1128.5,501.4 L1129.5,502.4 L1130.5,504.2 L1131.5,505.5 L1132.5,505.5 L1133.5,505.9 L1134.5,508 L1135.5,509.8 L1136.5,510.1 L1137.5,510.9 L1138.5,513.1 L1139.5,512.1 L1140.5,514.2 L1141.5,514.3 L1142.5,515.6 L1143.5,516.6 L1144.5,518.4 L1145.5,517.9 L1146.5,519.1 L1147.5,519.5 L1148.5,521.7 L1149.5,522.1 L1150.5,523.5 L1151.5,523.6 L1152.5,525 L1153.5,526.8 L1154.5,527 L1155.5,528.4 L1156.5,529.3 L1157.5,529.7 L1158.5,529.9 L1159.5,532.4 L1160.5,532.8 L1161.5,534.3 L1162.5,533.4 L1163.5,534.6 L1164.5,535.2 L1165.5,537 L1166.5,539.1 L1167.5,539.8 L1168.5,540.4 L1169.5,541.4 L1170.5,542.8 L1171.5,543.1 L1172.5,544.5 L1173.5,545.3 L1174.5,544.9 L1175.5,547 L1176.5,549 L1177.5,548.9 L1178.5,550.1 L1179.5,550.8 L1180.5,551.8 L1181.5,553.8 L1182.5,553.9 L1183.5,554.5 L1184.5,554.2 L1185.5,556.8 L1186.5,557 L1187.5,558.1 L1188.5,560.7 L1189.5,561.6 L1190.5,560.9 L1191.5,563.5 L1192.5,564.1 L1193.5,564.1 L1194.5,565.8 L1195.5,565.2 L1196.5,566.2 L1197.5,566.8 L1198.5,567.7 L1199.5,569.6 L1200.5,569 L1201.5,569.8 L1202.5,570.6 L1203.5,572 L1204.5,572.3 L1205.5,573.7 L1206.5,573.5 L1207.5,573.8 L1208.5,575 L1209.5,576 L1210.5,576.1 L1211.5,577.4 L1212.5,579 L1213.5,578.2 L1214.5,579.3 L1215.5,580.7 L1216.5,580.1 L1217.5,580.6 L1218.5,581.1 L1219.5,582.6 L1220.5,583.3 L1221.5,583.6 L1222.5,584.3 L1223.5,585.7 L1224.5,586.1 L1225.5,585.4 L1226.5,586.9 L1227.5,587.6 L1228.5,588.6 L1229.5,588.7 L1230.5,589.1 L1231.5,589.9 L1232.5,589.8 L1233.5,591.5 L1234.5,591.8 L1235.5,593.1 L1236.5,592.9 L1237.5,593.8 L1238.5,594.2 L1239.5,594.7 L1240.5,596.4 L1241.5,596.3 L1242.5,597.4 L1243.5,597.2 L1244.5,598.2 L1245.5,597.9 L1246.5,599.1 L1247.5,599.6 L1248.5,601.2 L1249.5,600.9 L1250.5,601.7 L1251.5,602.6 L1252.5,603 L1253.5,603.5 L1254.5,604.3 L1255.5,605.2 L1256.5,605.4 L1257.5,603.6 L1258.5,604.1 L1259.5,605.5 L1260.5,607.4 L1261.5,602.6 L1262.5,607.5 L1263.5,606.9 L1264.5,608.4 L1265.5,603.3 L1266.5,604.1 L1267.5,607.3 L1268.5,605.3 L1269.5,604.1 L1270.5,601.9 L1271.5,603.4 L1272.5,607.6 L1273.5,607.8 L1274.5,604.8 L1275.5,608.3 L1276.5,604.9 L1277.5,605.8 L1278.5,604.7 L1279.5,604.9 L1280.5,604.1 L1281.5,607.5 L1282.5,604.9 L1283.5,603.8 L1284.5,605.8 L1285.5,608.4 L1286.5,605.3 L1287.5,602.2 L1288.5,603.9 L1289.5,604.7 L1290.5,602.5 L1291.5,608.7 L1292.5,607.8 L1293.5,602.9 L1294.5,605.3 L1295.5,603.3 L1296.5,602.6 L1297.5,603.4 L1298.5,603.3 L1299.5,605.8 L1300.5,605.2 L1301.5,607.5 L1302.5,607.3 L1303.5,605.8 L1304.5,604 L1305.5,603 L1306.5,606.8 L1307.5,606.5 L1308.5,607.8 L1309.5,603.7 L1310.5,602.6 L1311.5,608.1 L1312.5,606 L1313.5,602.9 L1314.5,606.1 L1315.5,602.7 L1316.5,606.4 L1317.5,605.2 L1318.5,608.1 L1319.5,602.1 L1320.5,607.5 L1321.5,608.4 L1322.5,607.4 L1323.5,606.7 L1324.5,603.2 L1325.5,607.9 L1326.5,606 L1327.5,607 L1328.5,607.1 L1329.5,603.9 L1330.5,608.4 L1331.5,606.7 L1332.5,603.2 L1333.5,605.2 L1334.5,602.9 L1335.5,604.6 L1336.5,608 L1337.5,604.9 L1338.5,604.4 L1339.5,605.4 L1340.5,603.7 L1341.5,602.2 L1342.5,602.8 L1343.5,601.4 L1344.5,601.7 L1345.5,600.9 L1346.5,601.4 L1347.5,600.1 L1348.5,598.8 L1349.5,598.9 L1350.5,597.7 L1351.5,597.8 L1352.5,597.5 L1353.5,596.7 L1354.5,594.8 L1355.5,595.1 L1356.5,595 L1357.5,594.3 L1358.5,594.2 L1359.5,592 L1360.5,592.5 L1361.5,591.1 L1362.5,591 L1363.5,590.4 L1364.5,589.9 L1365.5,588.5 L1366.5,588.3 L1367.5,586.8 L1368.5,586 L1369.5,586.5 L1370.5,585.5 L1371.5,583.9 L1372.5,583.8 L1373.5,583.7 L1374.5,583.9 L1375.5,583 L1376.5,582.2 L1377.5,580 L1378.5,580.4 L1379.5,580.1 L1380.5,579.4 L1381.5,578.8 L1382.5,577.8 L1383.5,578.3 L1384.5,577.5 L1385.5,575.9 L1386.5,574.7 L1387.5,575.8 L1388.5,573.5 L1389.5,573.9 L1390.5,573.7 L1391.5,571.3 L1392.5,571.3 L1393.5,570.2 L1394.5,570.1 L1395.5,569.3 L1396.5,569.6 L1397.5,568.1 L1398.5,567.1 L1399.5,567.1 L1400.5,565.6 L1401.5,564.6 L1402.5,567 L1403.5,563.7 L1404.5,563.9 L1405.5,563.8 L1406.5,562.8 L1407.5,561.4 L1408.5,562.3 L1409.5,560 L1410.5,558.8 L1411.5,557.5 L1412.5,555.6 L1413.5,554.1 L1414.5,553.4 L1415.5,553.4 L1416.5,551.1 L1417.5,549.9 L1418.5,547.4 L1419.5,547.2 L1420.5,545.5 L1421.5,545.7 L1422.5,544.1 L1423.5,543.3 L1424.5,542.2 L1425.5,541 L1426.5,539.4 L1427.5,539.7 L1428.5,537.6 L1429.5,536.7 L1430.5,536.3 L1431.5,535.1 L1432.5,534.7 L1433.5,534.2 L1434.5,532.8 L1435.5,531.9 L1436.5,530.8 L1437.5,530.4 L1438.5,527.8 L1439.5,528.2 L1440.5,526.5 L1441.5,525.4 L1442.5,525.2 L1443.5,524 L1444.5,523.6 L1445.5,523 L1446.5,519.9 L1447.5,520.3 L1448.5,520.6 L1449.5,519 L1450.5,518.4 L1451.5,516.6 L1452.5,514.7 L1453.5,513.9 L1454.5,514 L1455.5,513.2 L1456.5,511.2 L1457.5,510.5 L1458.5,509.9 L1459.5,507.7 L1460.5,507.5 L1461.5,507.7 L1462.5,507.1 L1463.5,504.7 L1464.5,504.9 L1465.5,502.4 L1466.5,501.3 L1467.5,499.4 L1468.5,500.2 L1469.5,498.4 L1470.5,499 L1471.5,496.9 L1472.5,495.9 L1473.5,493.9 L1474.5,495 L1475.5,493.1 L1476.5,492.5 L1477.5,490.5 L1478.5,491.6 L1479.5,490.9 L1480.5,489.2 L1481.5,488.9 L1482.5,488.4 L1483.5,488.1 L1484.5,486.8 L1485.5,487.1 L1486.5,485.3 L1487.5,484.4 L1488.5,483.8 L1489.5,481.8 L1490.5,482.2 L1491.5,482.6 L1492.5,481.5 L1493.5,480.2 L1494.5,480.2 L1495.5,478.2 L1496.5,478.6 L1497.5,478.4 L1498.5,477.9 L1499.5,476.4 L1500.5,476.8 L1501.5,476.7 L1502.5,474.7 L1503.5,474.7 L1504.5,472.7 L1505.5,471.8 L1506.5,472.7 L1507.5,471.7 L1508.5,471.2 L1509.5,470.1 L1510.5,469.6 L1511.5,469.6 L1512.5,469.4 L1513.5,467.6 L1514.5,466.1 L1515.5,467.2 L1516.5,466.1 L1517.5,465.5 L1518.5,464.6 L1519.5,465.2 L1520.5,463.3 L1521.5,462.9 L1522.5,460.9 L1523.5,461 L1524.5,460.4 L1525.5,460.2 L1526.5,459.7 L1527.5,458.5 L1528.5,459.3 L1529.5,457.4 L1530.5,457.4 L1531.5,457.1 L1532.5,455.7 L1533.5,456.1 L1534.5,455.3 L1535.5,454.4 L1536.5,454.8 L1537.5,453.3 L1538.5,452.8 L1539.5,451.4 L1540.5,452.8 L1541.5,453 L1542.5,454.6 L1543.5,455.7 L1544.5,451.5 L1545.5,454.2 L1546.5,453.9 L1547.5,452.1 L1548.5,456.7 L1549.5,452.5 L1550.5,449.3 L1551.5,449.6 L1552.5,452.1 L1553.5,453.8 L1554.5,453.3 L1555.5,452.8 L1556.5,450.3 L1557.5,451.3 L1558.5,453.5 L1559.5,454.5 L1560.5,452.2 L1561.5,450.8 L1562.5,451.9 L1563.5,454.7 L1564.5,454.1 L1565.5,451.1 L1566.5,455.4 L1567.5,450.2 L1568.5,451.6 L1569.5,452.4 L1570.5,455.9 L1571.5,452.3 L1572.5,453.8 L1573.5,456.8 L1574.5,451.6 L1575.5,449.7 L1576.5,453 L1577.5,453.5 L1578.5,449.6 L1579.5,450.2 L1580.5,453.6 L1581.5,455.2 L1582.5,455.5 L1583.5,451.7 L1584.5,451.8 L1585.5,454.7 L1586.5,455.4 L1587.5,451.9 L1588.5,455.7 L1589.5,454.5 L1590.5,450.2 L1591.5,451.6 L1592.5,448.7 L1593.5,452 L1594.5,453.8 L1595.5,455.2 L1596.5,451.3 L1597.5,454.3 L1598.5,453.2 L1599.5,453.5 L1600.5,453.3 L1601.5,453 L1602.5,453.9 L1603.5,452.3 L1604.5,455.7 L1605.5,449.6 L1606.5,455.1 L1607.5,455 L1608.5,452 L1609.5,454.6 L1610.5,451.9 L1611.5,452.2 L1612.5,453.5 L1613.5,453.3 L1614.5,452.2 L1615.5,453.9 L1616.5,450.4 L1617.5,451.8 L1618.5,454.4 L1619.5,454.8 L1620.5,452 L1621.5,454.1 L1622.5,453.5 L1623.5,455.4 L1624.5,455.8 L1625.5,456.4 L1626.5,456.8 L1627.5,457.1 L1628.5,457.8 L1629.5,457.3 L1630.5,458.9 L1631.5,460.2 L1632.5,460.9 L1633.5,460.3 L1634.5,461 L1635.5,462.6 L1636.5,463.4 L1637.5,462.1 L1638.5,463.3 L1639.5,464.4 L1640.5,465.6 L1641.5,465 L1642.5,466.6 L1643.5,466.7 L1644.5,468.9 L1645.5,468.4 L1646.5,468.7 L1647.5,469.3 L1648.5,470.8 L1649.5,471.2 L1650.5,470.8 L1651.5,472.2 L1652.5,472 L1653.5,473 L1654.5,473.3 L1655.5,473.9 L1656.5,474.9 L1657.5,475.4 L1658.5,476.9 L1659.5,477.7 L1660.5,477.7 L1661.5,477.8 L1662.5,479.6 L1663.5,478.6 L1664.5,479.3 L1665.5,481.5 L1666.5,482.1 L1667.5,483 L1668.5,483 L1669.5,483 L1670.5,484.2 L1671.5,485.5 L1672.5,485.4 L1673.5,486.1 L1674.5,486.3 L1675.5,487.1 L1676.5,489 L1677.5,489.2 L1678.5,489.6 L1679.5,489.4 L1680.5,488.5 L1681.5,490.8 L1682.5,491.5 L1683.5,491.1 L1684.5,490 L1685.5,490.7 L1686.5,492.7 L1687.5,494.3 L1688.5,494.6 L1689.5,496.5 L1690.5,499.2 L1691.5,500.1 L1692.5,501.4 L1693.5,503.3 L1694.5,504.3 L1695.5,505.9 L1696.5,506.8 L1697.5,507 L1698.5,508.2 L1699.5,509.3 L1700.5,509.5 L1701.5,510.7 L1702.5,512.8 L1703.5,512.3 L1704.5,514.8 L1705.5,515.4 L1706.5,516.1 L1707.5,517.4 L1708.5,518.4 L1709.5,519.8 L1710.5,519.8 L1711.5,520.8 L1712.5,521.8 L1713.5,524 L1714.5,524.4 L1715.5,524.2 L1716.5,525.5 L1717.5,526.3 L1718.5,527.6 L1719.5,528.7 L1720.5,530.9 L1721.5,529.3 L1722.5,532 L1723.5,532.6 L1724.5,532.9 L1725.5,534.1 L1726.5,534.9 L1727.5,536.2 L1728.5,537.7 L1729.5,537.1 L1730.5,539.8 L1731.5,539.7 L1732.5,541.8 L1733.5,542.1 L1734.5,543.6 L1735.5,544.2 L1736.5,545.5 L1737.5,545.8 L1738.5,546.3 L1739.5,548.2 L1740.5,549.2 L1741.5,551 L1742.5,549.5 L1743.5,551.6 L1744.5,553.3 L1745.5,552.9 L1746.5,554.5 L1747.5,557 L1748.5,557.6 L1749.5,557.2 L1750.5,559.7 L1751.5,560.5 L1752.5,561.3 L1753.5,562 L1754.5,562.7 L1755.5,562.9 L1756.5,563.9 L1757.5,565.5 L1758.5,565.9 L1759.5,567.7 L1760.5,567.1 L1761.5,566.6 L1762.5,568.6 L1763.5,569.7 L1764.5,570.4 L1765.5,570.9 L1766.5,571.1 L1767.5,573.2 L1768.5,572.5 L1769.5,574 L1770.5,574.1 L1771.5,574.3 L1772.5,576.5 L1773.5,574.8 L1774.5,576.5 L1775.5,577.9 L1776.5,578.1 L1777.5,579.4 L1778.5,579.5 L1779.5,580 L1780.5,582.2 L1781.5,581.4 L1782.5,582 L1783.5,582.1 L1784.5,583 L1785.5,584.4 L1786.5,585 L1787.5,585.3 L1788.5,585.6 L1789.5,587 L1790.5,586.3 L1791.5,587.7 L1792.5,588.5 L1793.5,588.8 L1794.5,590 L1795.5,590.2 L1796.5,590.8 L1797.5,593 L1798.5,593 L1799.5,593.9 L1800.5,593.9 L1801.5,595.1 L1802.5,595.6 L1803.5,596.5 L1804.5,597.8 L1805.5,596.8 L1806.5,597.7 L1807.5,598.1 L1808.5,596.5 L1809.5,598.5 L1810.5,599.8 L1811.5,601 L1812.5,600.6 L1813.5,602.3 L1814.5,602.7 L1815.5,602.4 L1816.5,603.8 L1817.5,604.8 L1818.5,604.7 L1819.5,603 L1820.5,605.8 L1821.5,606.6 L1822.5,603.6 L1823.5,605.4 L1824.5,607.3 L1825.5,605.6 L1826.5,602.8 L1827.5,606.3 L1828.5,605.5 L1829.5,607.7 L1830.5,606.4 L1831.5,607.7 L1832.5,604.3 L1833.5,609.8 L1834.5,607.4 L1835.5,602.3 L1836.5,607.2 L1837.5,608.5 L1838.5,606.4 L1839.5,608.4 L1840.5,604.1 L1841.5,606.5 L1842.5,606.1 L1843.5,603.9 L1844.5,607.5 L1845.5,605.5 L1846.5,606.8 L1847.5,605.4 L1848.5,606.4 L1849.5,602.3 L1850.5,602.3 L1851.5,607.6 L1852.5,606.9 L1853.5,603.4 L1854.5,602.9 L1855.5,605.4 L1856.5,604.3 L1857.5,607.9 L1858.5,603.8 L1859.5,609.3 L1860.5,607 L1861.5,604.5 L1862.5,606.8 L1863.5,606.4 L1864.5,603.9 L1865.5,606 L1866.5,602.8 L1867.5,602.3 L1868.5,608.9 L1869.5,608 L1870.5,607.1 L1871.5,603 L1872.5,606.4 L1873.5,606.6 L1874.5,604.7 L1875.5,604.6 L1876.5,606.3 L1877.5,601.4 L1878.5,606 L1879.5,603.6 L1880.5,605 L1881.5,605.7 L1882.5,604.9 L1883.5,607.9 L1884.5,608 L1885.5,606.6 L1886.5,607.9 L1887.5,605 L1888.5,604.5 L1889.5,606.3 L1890.5,602.2 L1891.5,606.6 L1892.5,606.2 L1893.5,602.4 L1894.5,603.7 L1895.5,605.9 L1896.5,607.8 L1897.5,603.4 L1898.5,605.3 L1899.5,605.8 L1900.5,605.6 L1901.5,605.1 L1902.5,604.3 L1903.5,605.4 L1904.5,603.5 L1905.5,601.8 L1906.5,601.1 L1907.5,602.7 L1908.5,601.1 L1909.5,600.6 L1910.5,599.6 L1911.5,599 L1912.5,600.1 L1913.5,598.4 L1914.5,599.1 L1915.5,597.3 L1916.5,595.4 L1917.5,596.7 L1918.5,595.4 L1919.5,594.9 L1920.5,595.3 L1921.5,593.6 L1922.5,593.8 L1923.5,592.5 L1924.5,591.3 L1925.5,591.4 L1926.5,590.1 L1927.5,590.6 L1928.5,589.7 L1929.5,588.5 L1930.5,588.2 L1931.5,587.5 L1932.5,586.3 L1933.5,586.4 L1934.5,585.1 L1935.5,584.9 L1936.5,583.4 L1937.5,583.4 L1938.5,582.9 L1939.5,581.6 L1940.5,581.1 L1941.5,580.4 L1942.5,580.6 L1943.5,579.1 L1944.5,579.1 L1945.5,579.1 L1946.5,577.8 L1947.5,575.9 L1948.5,576.3 L1949.5,576.2 L1950.5,574.7 L1951.5,574.9 L1952.5,573.9 L1953.5,573.1 L1954.5,572 L1955.5,571.2 L1956.5,570.6 L1957.5,570.1 L1958.5,569.7 L1959.5,569 L1960.5,567.9 L1961.5,567.4 L1962.5,567 L1963.5,564.9 L1964.5,565.9 L1965.5,565.9 L1966.5,565.8 L1967.5,565.2 L1968.5,564.4 L1969.5,563.2 L1970.5,563.4 L1971.5,562.3 L1972.5,560 L1973.5,559.7 L1974.5,557.6 L1975.5,557.9 L1976.5,555.1 L1977.5,553.7 L1978.5,552.6 L1979.5,551.1 L1980.5,549.9 L1981.5,549.7 L1982.5,547.9 L1983.5,547.2 L1984.5,546.3 L1985.5,544.1 L1986.5,544.7 L1987.5,543.1 L1988.5,542.3 L1989.5,540.3 L1990.5,540.3 L1991.5,539.1 L1992.5,537.6 L1993.5,538.3 L1994.5,536.3 L1995.5,534.9 L1996.5,534.2 L1997.5,533.7 L1998.5,532.9 L1999.5,531.6 L2000.5,531 L2001.5,530.2 L2002.5,527.7 L2003.5,527.2 L2004.5,526" fill="none" stroke="#0000ff" stroke-width="8.7" stroke-linejoin="round"/>
</g>
<g clip-path="url(#c2)">
<path d="M308.5,783.3 L309.5,783 L310.5,783.5 L311.5,781.4 L312.5,781.7 L313.5,781.3 L314.5,781.3 L315.5,780.5 L316.5,779.5 L317.5,780.5 L318.5,779.3 L319.5,779.3 L320.5,778.5 L321.5,778.3 L322.5,778.1 L323.5,778.2 L324.5,777.8 L325.5,776.9 L326.5,776.8 L327.5,775.9 L328.5,775.5 L329.5,774.9 L330.5,774.5 L331.5,773.4 L332.5,772.9 L333.5,772.3 L334.5,771.6 L335.5,770.5 L336.5,770.7 L337.5,769.3 L338.5,769.1 L339.5,768.2 L340.5,768 L341.5,766.2 L342.5,767.2 L343.5,765.9 L344.5,765 L345.5,765 L346.5,765.2 L347.5,764.2 L348.5,763.1 L349.5,762.9 L350.5,763.1 L351.5,761.7 L352.5,761.7 L353.5,761.2 L354.5,761.6 L355.5,760.3 L356.5,760.4 L357.5,759.3 L358.5,758.8 L359.5,758.9 L360.5,758.4 L361.5,757.1 L362.5,757.5 L363.5,757 L364.5,756.1 L365.5,756 L366.5,755.6 L367.5,754.8 L368.5,754.4 L369.5,753.9 L370.5,753.6 L371.5,752.8 L372.5,752.8 L373.5,751.9 L374.5,752 L375.5,751.5 L376.5,750.8 L377.5,751 L378.5,751 L379.5,750.3 L380.5,749 L381.5,749.5 L382.5,748.7 L383.5,748.2 L384.5,747.6 L385.5,747.4 L386.5,747.5 L387.5,746.8 L388.5,746.2 L389.5,745.7 L390.5,745.5 L391.5,745.5 L392.5,745.6 L393.5,744.3 L394.5,744.3 L395.5,743.9 L396.5,743.4 L397.5,743.5 L398.5,743.3 L399.5,742.3 L400.5,742.2 L401.5,742.7 L402.5,742.1 L403.5,741.9 L404.5,741.3 L405.5,741.1 L406.5,741.1 L407.5,740.5 L408.5,740 L409.5,740.1 L410.5,740.1 L411.5,739.2 L412.5,739.7 L413.5,739.3 L414.5,738.5 L415.5,738.6 L416.5,738.4 L417.5,738.4 L418.5,738.3 L419.5,737.4 L420.5,737.3 L421.5,738.1 L422.5,737.7 L423.5,737.7 L424.5,737.6 L425.5,737.9 L426.5,736.9 L427.5,737.7 L428.5,736.9 L429.5,737.4 L430.5,737.6 L431.5,736.6 L432.5,737.2 L433.5,736.9 L434.5,736.9 L435.5,737 L436.5,736.6 L437.5,736.7 L438.5,737.3 L439.5,737.4 L440.5,737 L441.5,736.8 L442.5,738.2 L443.5,737.9 L444.5,737.7 L445.5,737.4 L446.5,737.7 L447.5,738.2 L448.5,737.9 L449.5,738.9 L450.5,738.6 L451.5,738.8 L452.5,738.4 L453.5,738.6 L454.5,738.8 L455.5,739.3 L456.5,739.2 L457.5,739.3 L458.5,739.6 L459.5,739.7 L460.5,740.3 L461.5,739.8 L462.5,739.7 L463.5,740.2 L464.5,740.8 L465.5,740.2 L466.5,740.6 L467.5,740.6 L468.5,741 L469.5,741.1 L470.5,740.8 L471.5,741.2 L472.5,741.7 L473.5,741.9 L474.5,742 L475.5,742.1 L476.5,741.8 L477.5,742 L478.5,742.6 L479.5,742 L480.5,742.5 L481.5,742.1 L482.5,742.8 L483.5,742.9 L484.5,742.9 L485.5,743.8 L486.5,743.6 L487.5,744.1 L488.5,744.5 L489.5,744.7 L490.5,745.8 L491.5,745.5 L492.5,746.2 L493.5,746.1 L494.5,746.9 L495.5,747.4 L496.5,747.8 L497.5,748.2 L498.5,748.9 L499.5,749.8 L500.5,749.6 L501.5,750 L502.5,750.3 L503.5,751.8 L504.5,751.9 L505.5,751.9 L506.5,752.4 L507.5,752.4 L508.5,753 L509.5,753.6 L510.5,754 L511.5,754.1 L512.5,754.6 L513.5,755.4 L514.5,755.8 L515.5,755.4 L516.5,756.7 L517.5,757.5 L518.5,757.3 L519.5,758.1 L520.5,758 L521.5,759.3 L522.5,759.1 L523.5,759.5 L524.5,760.3 L525.5,761.8 L526.5,761.2 L527.5,761.5 L528.5,762.6 L529.5,763 L530.5,763.9 L531.5,763.4 L532.5,763.8 L533.5,764.7 L534.5,765.4 L535.5,765.9 L536.5,766.6 L537.5,766.2 L538.5,766.9 L539.5,767.6 L540.5,768.4 L541.5,768.8 L542.5,769 L543.5,769.2 L544.5,770.4 L545.5,771 L546.5,772.2 L547.5,771.9 L548.5,773.2 L549.5,773.1 L550.5,774.2 L551.5,775.1 L552.5,776.2 L553.5,777 L554.5,778 L555.5,778.9 L556.5,779.3 L557.5,780 L558.5,779.9 L559.5,780 L560.5,780.3 L561.5,779.7 L562.5,779.4 L563.5,779.1 L564.5,779 L565.5,779.1 L566.5,778.7 L567.5,779.5 L568.5,779.9 L569.5,780 L570.5,779.8 L571.5,779.8 L572.5,780.6 L573.5,781.3 L574.5,782 L575.5,782.1 L576.5,782.6 L577.5,783.7 L578.5,783.5 L579.5,784.6 L580.5,785.1 L581.5,784.9 L582.5,786 L583.5,786.3 L584.5,786.7 L585.5,786.9 L586.5,787.6 L587.5,788.8 L588.5,789.1 L589.5,789.9 L590.5,790 L591.5,790.8 L592.5,791.4 L593.5,791.5 L594.5,792 L595.5,793.3 L596.5,793.7 L597.5,793.9 L598.5,794.8 L599.5,795.6 L600.5,796.5 L601.5,796.1 L602.5,797.2 L603.5,798.3 L604.5,798.1 L605.5,799.2 L606.5,798.3 L607.5,800.3 L608.5,800.3 L609.5,800.2 L610.5,801.7 L611.5,802.3 L612.5,802.9 L613.5,803.4 L614.5,803.6 L615.5,803.8 L616.5,804.5 L617.5,805.1 L618.5,805.8 L619.5,806 L620.5,806.7 L621.5,807.5 L622.5,807.8 L623.5,809 L624.5,809.4 L625.5,808.8 L626.5,809.5 L627.5,809.7 L628.5,810.2 L629.5,811.3 L630.5,811.2 L631.5,811.7 L632.5,812.4 L633.5,813.3 L634.5,813.3 L635.5,813.8 L636.5,814.7 L637.5,815 L638.5,815.5 L639.5,816.1 L640.5,815.9 L641.5,816.7 L642.5,816.9 L643.5,817.9 L644.5,818.3 L645.5,818.1 L646.5,819.3 L647.5,818.9 L648.5,820.1 L649.5,820.2 L650.5,820.3 L651.5,820.6 L652.5,821.3 L653.5,821.8 L654.5,822 L655.5,822.9 L656.5,822.6 L657.5,823.5 L658.5,823.9 L659.5,823.7 L660.5,824.8 L661.5,824.7 L662.5,824.6 L663.5,825.7 L664.5,826.2 L665.5,827 L666.5,826.9 L667.5,828 L668.5,828.3 L669.5,828.6 L670.5,829 L671.5,829.1 L672.5,829.1 L673.5,829.9 L674.5,830.4 L675.5,830.5 L676.5,830.7 L677.5,830.6 L678.5,831.7 L679.5,832 L680.5,831.7 L681.5,832.6 L682.5,833.1 L683.5,833.2 L684.5,833.8 L685.5,834.1 L686.5,833.7 L687.5,834.5 L688.5,835.2 L689.5,835.7 L690.5,836.3 L691.5,835.5 L692.5,836.5 L693.5,837.2 L694.5,837.7 L695.5,838.2 L696.5,837.5 L697.5,838 L698.5,837.9 L699.5,838.7 L700.5,838 L701.5,838.9 L702.5,838.8 L703.5,838.6 L704.5,837.7 L705.5,838.2 L706.5,838.7 L707.5,837.9 L708.5,838.3 L709.5,838.4 L710.5,838.7 L711.5,838.5 L712.5,838.4 L713.5,838.2 L714.5,838.3 L715.5,838.2 L716.5,838.5 L717.5,838.2 L718.5,838.6 L719.5,837.6 L720.5,838.5 L721.5,838 L722.5,838.4 L723.5,837.9 L724.5,838.1 L725.5,838.2 L726.5,837.4 L727.5,837.5 L728.5,837.3 L729.5,837.4 L730.5,836.6 L731.5,837 L732.5,836.8 L733.5,836.5 L734.5,836.6 L735.5,836 L736.5,836.9 L737.5,836.4 L738.5,836.7 L739.5,835.6 L740.5,835.4 L741.5,835.8 L742.5,834.9 L743.5,835.5 L744.5,835 L745.5,835 L746.5,835.1 L747.5,834.9 L748.5,835.4 L749.5,834.8 L750.5,834 L751.5,834.7 L752.5,833.8 L753.5,834.2 L754.5,833.6 L755.5,833.6 L756.5,834.2 L757.5,833.5 L758.5,833.3 L759.5,833.2 L760.5,833.1 L761.5,833.6 L762.5,832.5 L763.5,832.3 L764.5,832.7 L765.5,831.7 L766.5,831.9 L767.5,832.1 L768.5,831.3 L769.5,830.8 L770.5,830.3 L771.5,829.8 L772.5,829.4 L773.5,829.2 L774.5,829.1 L775.5,828.5 L776.5,827.5 L777.5,827 L778.5,827 L779.5,825.7 L780.5,825.8 L781.5,825.4 L782.5,824.7 L783.5,824.3 L784.5,824.4 L785.5,823.2 L786.5,823.1 L787.5,822.7 L788.5,822.6 L789.5,821.7 L790.5,822.1 L791.5,821.2 L792.5,820.8 L793.5,820.3 L794.5,819.8 L795.5,819.3 L796.5,819.6 L797.5,818.8 L798.5,818.3 L799.5,818.2 L800.5,817.2 L801.5,817.2 L802.5,816.6 L803.5,815.8 L804.5,816 L805.5,814.7 L806.5,815 L807.5,814.1 L808.5,814.1 L809.5,813.9 L810.5,813.2 L811.5,812.4 L812.5,812.1 L813.5,811.5 L814.5,810.7 L815.5,810.3 L816.5,810.2 L817.5,809.8 L818.5,808.5 L819.5,808.6 L820.5,808.3 L821.5,807.6 L822.5,806.7 L823.5,806.9 L824.5,805.6 L825.5,805.7 L826.5,805.4 L827.5,803.5 L828.5,803.5 L829.5,802.7 L830.5,801.8 L831.5,800.5 L832.5,799.6 L833.5,798.1 L834.5,797.6 L835.5,796.8 L836.5,795.6 L837.5,795 L838.5,794.8 L839.5,794.9 L840.5,795 L841.5,795.3 L842.5,795.7 L843.5,795.6 L844.5,795.5 L845.5,796.9 L846.5,797.4 L847.5,796.5 L848.5,796.7 L849.5,796.8 L850.5,796.8 L851.5,796.3 L852.5,796.1 L853.5,795.2 L854.5,794.8 L855.5,794.3 L856.5,793.4 L857.5,793.3 L858.5,792.4 L859.5,791.9 L860.5,790.7 L861.5,790.5 L862.5,789.1 L863.5,788.9 L864.5,787.2 L865.5,787.1 L866.5,787 L867.5,785.9 L868.5,785.5 L869.5,784.3 L870.5,784.8 L871.5,783.9 L872.5,783.2 L873.5,782.9 L874.5,782.4 L875.5,782.4 L876.5,781.6 L877.5,780.6 L878.5,780.7 L879.5,780.9 L880.5,780.3 L881.5,779.6 L882.5,779.7 L883.5,779.2 L884.5,779 L885.5,777.9 L886.5,777.7 L887.5,777.9 L888.5,777.1 L889.5,776.9 L890.5,776.9 L891.5,775.6 L892.5,775.2 L893.5,774.3 L894.5,773.6 L895.5,773.1 L896.5,772 L897.5,771.1 L898.5,771.5 L899.5,770.3 L900.5,770.1 L901.5,769.1 L902.5,768.4 L903.5,768 L904.5,767.4 L905.5,766.2 L906.5,766.5 L907.5,765.3 L908.5,765.2 L909.5,765.5 L910.5,764.2 L911.5,764.3 L912.5,763.1 L913.5,763 L914.5,762.3 L915.5,762 L916.5,761.1 L917.5,760.7 L918.5,760.7 L919.5,759.6 L920.5,759.4 L921.5,759.4 L922.5,758.5 L923.5,758 L924.5,757.5 L925.5,757.4 L926.5,756.8 L927.5,756.6 L928.5,756 L929.5,756.2 L930.5,755 L931.5,754.1 L932.5,754.3 L933.5,753.9 L934.5,753.5 L935.5,752.5 L936.5,753 L937.5,752.1 L938.5,751.7 L939.5,750.8 L940.5,751 L941.5,750.4 L942.5,750.5 L943.5,749.4 L944.5,748.7 L945.5,748.8 L946.5,748 L947.5,748.1 L948.5,747.2 L949.5,747.1 L950.5,746.7 L951.5,746.4 L952.5,745.9 L953.5,745.4 L954.5,745.4 L955.5,744.9 L956.5,744.8 L957.5,744.3 L958.5,743.3 L959.5,743.8 L960.5,744 L961.5,743.3 L962.5,743.1 L963.5,742.8 L964.5,742.2 L965.5,741.6 L966.5,742.1 L967.5,741.9 L968.5,741.5 L969.5,741.1 L970.5,740.9 L971.5,740.5 L972.5,740.3 L973.5,739.9 L974.5,739.8 L975.5,739.1 L976.5,738.9 L977.5,739.1 L978.5,738.5 L979.5,737.6 L980.5,738.3 L981.5,737.3 L982.5,738.6 L983.5,738 L984.5,737.9 L985.5,737.4 L986.5,737.2 L987.5,737.4 L988.5,737.4 L989.5,737.1 L990.5,737.3 L991.5,737.5 L992.5,737.4 L993.5,736.8 L994.5,736.4 L995.5,737.1 L996.5,736.8 L997.5,737.1 L998.5,737.5 L999.5,737.5 L1000.5,737.1 L1001.5,737.4 L1002.5,737.6 L1003.5,737.1 L1004.5,737.3 L1005.5,737.6 L1006.5,737.4 L1007.5,737.4 L1008.5,737.4 L1009.5,737.8 L1010.5,737.8 L1011.5,738.4 L1012.5,738.2 L1013.5,738.9 L1014.5,739 L1015.5,738.3 L1016.5,739.2 L1017.5,738.8 L1018.5,739.5 L1019.5,739.4 L1020.5,739.3 L1021.5,739.7 L1022.5,739.4 L1023.5,739.8 L1024.5,740 L1025.5,739.9 L1026.5,740.2 L1027.5,739.9 L1028.5,740.5 L1029.5,740.1 L1030.5,740.8 L1031.5,740.9 L1032.5,741.2 L1033.5,740.9 L1034.5,742.2 L1035.5,741.2 L1036.5,741.5 L1037.5,741.3 L1038.5,742.2 L1039.5,741.7 L1040.5,742.3 L1041.5,741.8 L1042.5,742.4 L1043.5,742.4 L1044.5,743 L1045.5,742.7 L1046.5,742.8 L1047.5,743.4 L1048.5,743.1 L1049.5,743.4 L1050.5,744.3 L1051.5,743.8 L1052.5,745 L1053.5,745 L1054.5,745.2 L1055.5,746 L1056.5,746.6 L1057.5,746.6 L1058.5,747.2 L1059.5,748 L1060.5,748.4 L1061.5,748.6 L1062.5,748.8 L1063.5,749.2 L1064.5,749.7 L1065.5,750.5 L1066.5,750.9 L1067.5,751.3 L1068.5,752 L1069.5,751.9 L1070.5,752.3 L1071.5,752.7 L1072.5,753.9 L1073.5,753.1 L1074.5,754.3 L1075.5,754.8 L1076.5,755.1 L1077.5,756.3 L1078.5,756.4 L1079.5,756.7 L1080.5,756.6 L1081.5,757.5 L1082.5,757.7 L1083.5,758.3 L1084.5,758.9 L1085.5,759.1 L1086.5,760 L1087.5,760.8 L1088.5,761.1 L1089.5,761.3 L1090.5,761.1 L1091.5,762.6 L1092.5,763.1 L1093.5,763.1 L1094.5,763.5 L1095.5,764.3 L1096.5,764.3 L1097.5,765.3 L1098.5,765.2 L1099.5,765.7 L1100.5,766.5 L1101.5,766.5 L1102.5,767.5 L1103.5,768.1 L1104.5,768 L1105.5,769.2 L1106.5,769.2 L1107.5,770.1 L1108.5,770.5 L1109.5,770.9 L1110.5,771.5 L1111.5,771.8 L1112.5,772.9 L1113.5,773.8 L1114.5,775.5 L1115.5,776.3 L1116.5,776.5 L1117.5,778.1 L1118.5,778.7 L1119.5,779.1 L1120.5,779.9 L1121.5,780.2 L1122.5,779.8 L1123.5,779.8 L1124.5,779.7 L1125.5,779.1 L1126.5,779.3 L1127.5,779 L1128.5,778.7 L1129.5,778.7 L1130.5,779.1 L1131.5,779.5 L1132.5,779.6 L1133.5,779.5 L1134.5,780.4 L1135.5,780.7 L1136.5,781.2 L1137.5,781.9 L1138.5,781.7 L1139.5,782.4 L1140.5,782.8 L1141.5,783.2 L1142.5,784.7 L1143.5,784.9 L1144.5,784.5 L1145.5,785.8 L1146.5,786 L1147.5,787.2 L1148.5,787.4 L1149.5,787.9 L1150.5,788.5 L1151.5,789.2 L1152.5,789.6 L1153.5,790.1 L1154.5,790.7 L1155.5,791.5 L1156.5,791.5 L1157.5,792.4 L1158.5,792.9 L1159.5,793.3 L1160.5,794.3 L1161.5,794.2 L1162.5,795 L1163.5,795.4 L1164.5,796.4 L1165.5,796.6 L1166.5,797.3 L1167.5,798 L1168.5,797.9 L1169.5,799.1 L1170.5,799.3 L1171.5,800 L1172.5,800.6 L1173.5,801.5 L1174.5,802 L1175.5,802.9 L1176.5,802.9 L1177.5,803.2 L1178.5,803.7 L1179.5,804.6 L1180.5,805.5 L1181.5,805.6 L1182.5,805.8 L1183.5,806.6 L1184.5,807.1 L1185.5,807.5 L1186.5,807.8 L1187.5,807.7 L1188.5,808.8 L1189.5,809.8 L1190.5,810 L1191.5,809.7 L1192.5,810.9 L1193.5,810.8 L1194.5,812.5 L1195.5,812.4 L1196.5,812.4 L1197.5,813.6 L1198.5,813.5 L1199.5,814.4 L1200.5,814.7 L1201.5,814.8 L1202.5,815.8 L1203.5,815.6 L1204.5,816.9 L1205.5,817 L1206.5,817.1 L1207.5,817.2 L1208.5,818.8 L1209.5,819.2 L1210.5,818.7 L1211.5,820.1 L1212.5,820.1 L1213.5,820.4 L1214.5,820.8 L1215.5,821.2 L1216.5,822.2 L1217.5,822.2 L1218.5,821.9 L1219.5,823.6 L1220.5,823.6 L1221.5,823.4 L1222.5,824 L1223.5,824.3 L1224.5,825 L1225.5,825.5 L1226.5,825.8 L1227.5,825.9 L1228.5,826.3 L1229.5,827.2 L1230.5,827.3 L1231.5,828.4 L1232.5,827.8 L1233.5,828.7 L1234.5,828.8 L1235.5,828.9 L1236.5,830 L1237.5,830 L1238.5,830 L1239.5,830.5 L1240.5,831.3 L1241.5,831 L1242.5,832.2 L1243.5,832.3 L1244.5,832.3 L1245.5,833.2 L1246.5,833.7 L1247.5,833.6 L1248.5,833.8 L1249.5,834.7 L1250.5,834.9 L1251.5,834.5 L1252.5,835.2 L1253.5,835.6 L1254.5,835.9 L1255.5,835.9 L1256.5,837.1 L1257.5,837.2 L1258.5,837.5 L1259.5,838.2 L1260.5,837.8 L1261.5,838.2 L1262.5,838.4 L1263.5,838.3 L1264.5,838.4 L1265.5,838.7 L1266.5,838.5 L1267.5,838.9 L1268.5,838.2 L1269.5,838.5 L1270.5,838 L1271.5,838.4 L1272.5,838.2 L1273.5,838.8 L1274.5,838.6 L1275.5,838.5 L1276.5,838.9 L1277.5,838.8 L1278.5,838.5 L1279.5,838.1 L1280.5,837.8 L1281.5,838.2 L1282.5,838.1 L1283.5,837.9 L1284.5,838 L1285.5,837.5 L1286.5,838.4 L1287.5,837.5 L1288.5,837.5 L1289.5,837.9 L1290.5,837 L1291.5,837.8 L1292.5,837.7 L1293.5,837.1 L1294.5,836.7 L1295.5,836.8 L1296.5,836.2 L1297.5,837.2 L1298.5,836.6 L1299.5,836.2 L1300.5,836 L1301.5,836.3 L1302.5,836.5 L1303.5,835.5 L1304.5,835.5 L1305.5,835 L1306.5,835.7 L1307.5,835.4 L1308.5,835.9 L1309.5,835 L1310.5,834.8 L1311.5,834.5 L1312.5,834.9 L1313.5,834 L1314.5,834.7 L1315.5,834.4 L1316.5,834 L1317.5,833.8 L1318.5,834.3 L1319.5,834.5 L1320.5,833.6 L1321.5,833.8 L1322.5,834 L1323.5,833.1 L1324.5,833.1 L1325.5,832.6 L1326.5,832.8 L1327.5,832.6 L1328.5,832.3 L1329.5,831.9 L1330.5,831.3 L1331.5,831.1 L1332.5,830.8 L1333.5,830.9 L1334.5,830.1 L1335.5,829.5 L1336.5,829.6 L1337.5,829.1 L1338.5,828.2 L1339.5,827.7 L1340.5,827.7 L1341.5,827.1 L1342.5,826.3 L1343.5,826.2 L1344.5,825.7 L1345.5,825.6 L1346.5,824.5 L1347.5,824.7 L1348.5,824.1 L1349.5,823.2 L1350.5,823.5 L1351.5,823 L1352.5,821.9 L1353.5,822.6 L1354.5,821.1 L1355.5,820.7 L1356.5,820.5 L1357.5,820.5 L1358.5,820 L1359.5,819.3 L1360.5,819.4 L1361.5,818.6 L1362.5,818.5 L1363.5,818.6 L1364.5,817.3 L1365.5,815.9 L1366.5,816.2 L1367.5,815.5 L1368.5,815.5 L1369.5,815 L1370.5,814.2 L1371.5,813.7 L1372.5,813.6 L1373.5,813.2 L1374.5,811.9 L1375.5,812.6 L1376.5,811.9 L1377.5,811.4 L1378.5,811 L1379.5,810 L1380.5,809.9 L1381.5,809.7 L1382.5,809.2 L1383.5,808.5 L1384.5,807.7 L1385.5,807 L1386.5,807.2 L1387.5,806.4 L1388.5,805.6 L1389.5,804.4 L1390.5,804.2 L1391.5,803.1 L1392.5,803.4 L1393.5,802.2 L1394.5,800.9 L1395.5,800 L1396.5,799.9 L1397.5,798.4 L1398.5,796.6 L1399.5,796.1 L1400.5,795.1 L1401.5,794.5 L1402.5,795 L1403.5,795.8 L1404.5,795.7 L1405.5,795.6 L1406.5,795.8 L1407.5,796.4 L1408.5,797 L1409.5,796.4 L1410.5,796.3 L1411.5,797.6 L1412.5,796.9 L1413.5,797.1 L1414.5,796.4 L1415.5,796.4 L1416.5,795.2 L1417.5,795.1 L1418.5,794.9 L1419.5,794.1 L1420.5,793 L1421.5,792.8 L1422.5,791.6 L1423.5,790.7 L1424.5,790.7 L1425.5,790.3 L1426.5,789.4 L1427.5,788 L1428.5,788 L1429.5,787.3 L1430.5,786.2 L1431.5,784.9 L1432.5,785.5 L1433.5,784.8 L1434.5,784.1 L1435.5,782.8 L1436.5,782.4 L1437.5,782.8 L1438.5,782.3 L1439.5,781.8 L1440.5,781.2 L1441.5,781.1 L1442.5,780.4 L1443.5,780.2 L1444.5,779.6 L1445.5,779.7 L1446.5,779.1 L1447.5,779.3 L1448.5,778.8 L1449.5,777.9 L1450.5,778.5 L1451.5,777 L1452.5,777.1 L1453.5,776.9 L1454.5,776.4 L1455.5,774.6 L1456.5,775.1 L1457.5,774.6 L1458.5,774 L1459.5,772 L1460.5,771.9 L1461.5,771.4 L1462.5,770.5 L1463.5,770.5 L1464.5,769.1 L1465.5,769.1 L1466.5,768.2 L1467.5,766.9 L1468.5,766.5 L1469.5,766.2 L1470.5,765.9 L1471.5,765.7 L1472.5,764.8 L1473.5,764.7 L1474.5,763.4 L1475.5,762.4 L1476.5,762.9 L1477.5,762.7 L1478.5,762 L1479.5,761.3 L1480.5,761.4 L1481.5,761.4 L1482.5,760.3 L1483.5,759.6 L1484.5,759.1 L1485.5,759.7 L1486.5,758.5 L1487.5,758.3 L1488.5,758 L1489.5,757.5 L1490.5,756.4 L1491.5,756.6 L1492.5,756.1 L1493.5,755.6 L1494.5,755.3 L1495.5,754.3 L1496.5,754 L1497.5,753.5 L1498.5,753.5 L1499.5,752.5 L1500.5,752.5 L1501.5,751.5 L1502.5,751.5 L1503.5,750.9 L1504.5,750.6 L1505.5,750.3 L1506.5,749.7 L1507.5,749.3 L1508.5,748.2 L1509.5,748.9 L1510.5,747.9 L1511.5,747.7 L1512.5,747.1 L1513.5,747.3 L1514.5,746.3 L1515.5,746.4 L1516.5,746.3 L1517.5,746.1 L1518.5,745.6 L1519.5,745.1 L1520.5,744.2 L1521.5,744.7 L1522.5,744.4 L1523.5,743.9 L1524.5,743.6 L1525.5,743.1 L1526.5,742.6 L1527.5,742.9 L1528.5,742.6 L1529.5,741.6 L1530.5,742 L1531.5,741.5 L1532.5,741.5 L1533.5,741 L1534.5,741 L1535.5,740.7 L1536.5,740.4 L1537.5,739.3 L1538.5,739.8 L1539.5,739.3 L1540.5,738.6 L1541.5,739 L1542.5,738.1 L1543.5,738.7 L1544.5,738.8 L1545.5,737.8 L1546.5,738.2 L1547.5,737.9 L1548.5,737.9 L1549.5,737.2 L1550.5,737.8 L1551.5,737.5 L1552.5,737.7 L1553.5,737.4 L1554.5,737.7 L1555.5,737.3 L1556.5,737.4 L1557.5,737.6 L1558.5,737.2 L1559.5,737.4 L1560.5,737.1 L1561.5,737.2 L1562.5,736.8 L1563.5,737.3 L1564.5,737.4 L1565.5,737 L1566.5,737.4 L1567.5,737.3 L1568.5,736.9 L1569.5,737.5 L1570.5,738 L1571.5,737.5 L1572.5,737.2 L1573.5,738 L1574.5,737.9 L1575.5,738.9 L1576.5,738.4 L1577.5,738.6 L1578.5,738.5 L1579.5,738.9 L1580.5,738.8 L1581.5,738.8 L1582.5,739.2 L1583.5,739 L1584.5,739.9 L1585.5,739.2 L1586.5,739.7 L1587.5,739.6 L1588.5,739.5 L1589.5,740.7 L1590.5,739.5 L1591.5,740.8 L1592.5,740 L1593.5,740.6 L1594.5,741.5 L1595.5,740.2 L1596.5,740.6 L1597.5,741.6 L1598.5,741.4 L1599.5,741.2 L1600.5,741.6 L1601.5,741.4 L1602.5,741.9 L1603.5,742.5 L1604.5,742 L1605.5,742.3 L1606.5,742.9 L1607.5,743.3 L1608.5,742.6 L1609.5,743.1 L1610.5,743 L1611.5,743.2 L1612.5,743.5 L1613.5,743.8 L1614.5,743.7 L1615.5,744 L1616.5,744.8 L1617.5,745.5 L1618.5,746.2 L1619.5,746.1 L1620.5,746.6 L1621.5,747.4 L1622.5,747.8 L1623.5,748 L1624.5,748.5 L1625.5,749.6 L1626.5,749.2 L1627.5,749.6 L1628.5,749.6 L1629.5,750.7 L1630.5,750.9 L1631.5,752.1 L1632.5,751.7 L1633.5,752.6 L1634.5,753 L1635.5,753.7 L1636.5,753.2 L1637.5,754.6 L1638.5,754.5 L1639.5,754.9 L1640.5,755.3 L1641.5,755.7 L1642.5,756.2 L1643.5,755.9 L1644.5,757.4 L1645.5,757.7 L1646.5,757.8 L1647.5,758.6 L1648.5,759.9 L1649.5,759.7 L1650.5,760 L1651.5,761.2 L1652.5,760.8 L1653.5,761.5 L1654.5,761.8 L1655.5,762.4 L1656.5,763.3 L1657.5,763.7 L1658.5,763.7 L1659.5,764.4 L1660.5,764.9 L1661.5,765.2 L1662.5,765.9 L1663.5,766.1 L1664.5,766.6 L1665.5,767.3 L1666.5,767.4 L1667.5,768.4 L1668.5,768.7 L1669.5,768.9 L1670.5,769.5 L1671.5,770.1 L1672.5,770.7 L1673.5,771.5 L1674.5,772 L1675.5,772.6 L1676.5,774.2 L1677.5,774.9 L1678.5,775.6 L1679.5,776.9 L1680.5,777.6 L1681.5,778.3 L1682.5,779.1 L1683.5,780.5 L1684.5,780.2 L1685.5,780.4 L1686.5,779.8 L1687.5,780 L1688.5,780.3 L1689.5,779.5 L1690.5,779.5 L1691.5,779.4 L1692.5,779.2 L1693.5,779.5 L1694.5,779.2 L1695.5,779.6 L1696.5,779.5 L1697.5,780.9 L1698.5,780.5 L1699.5,780.9 L1700.5,781.8 L1701.5,781.6 L1702.5,782.3 L1703.5,782.5 L1704.5,783.3 L1705.5,783.7 L1706.5,784.6 L1707.5,784.9 L1708.5,785.3 L1709.5,785.9 L1710.5,786.5 L1711.5,787 L1712.5,788 L1713.5,788.5 L1714.5,788.9 L1715.5,789 L1716.5,790.1 L1717.5,790.1 L1718.5,791.2 L1719.5,791.7 L1720.5,792 L1721.5,792.5 L1722.5,793.1 L1723.5,794.5 L1724.5,794.3 L1725.5,794.8 L1726.5,795.8 L1727.5,796.2 L1728.5,796.9 L1729.5,796.7 L1730.5,797.3 L1731.5,799.4 L1732.5,798.8 L1733.5,799.2 L1734.5,799.9 L1735.5,800.8 L1736.5,800.6 L1737.5,801.6 L1738.5,802.1 L1739.5,802.9 L1740.5,803.2 L1741.5,803.5 L1742.5,803.9 L1743.5,803.9 L1744.5,805.6 L1745.5,805.3 L1746.5,806.2 L1747.5,807.4 L1748.5,807.2 L1749.5,808 L1750.5,808.2 L1751.5,809 L1752.5,809.3 L1753.5,809.6 L1754.5,810.7 L1755.5,810.6 L1756.5,810.8 L1757.5,811.6 L1758.5,812.4 L1759.5,812.3 L1760.5,813.4 L1761.5,813.8 L1762.5,814.8 L1763.5,814.3 L1764.5,815.2 L1765.5,814.9 L1766.5,815.7 L1767.5,816.4 L1768.5,816.9 L1769.5,817.2 L1770.5,817.6 L1771.5,817.9 L1772.5,818.4 L1773.5,819.1 L1774.5,819.6 L1775.5,820.1 L1776.5,820.6 L1777.5,821.1 L1778.5,820.5 L1779.5,821.4 L1780.5,821.9 L1781.5,822.1 L1782.5,823.1 L1783.5,823.4 L1784.5,823.6 L1785.5,824 L1786.5,824.8 L1787.5,824.7 L1788.5,825.1 L1789.5,825.9 L1790.5,826.1 L1791.5,826.9 L1792.5,826.9 L1793.5,827.4 L1794.5,827.4 L1795.5,827.6 L1796.5,828.3 L1797.5,827.8 L1798.5,829.2 L1799.5,829.7 L1800.5,829.8 L1801.5,830.1 L1802.5,830.9 L1803.5,830.9 L1804.5,831.6 L1805.5,832.3 L1806.5,832.2 L1807.5,832.6 L1808.5,832.8 L1809.5,833 L1810.5,833.4 L1811.5,833.7 L1812.5,834.3 L1813.5,833.8 L1814.5,834.6 L1815.5,835.3 L1816.5,835.2 L1817.5,835.8 L1818.5,836 L1819.5,836.8 L1820.5,837.3 L1821.5,837.8 L1822.5,837.8 L1823.5,837.7 L1824.5,838.2 L1825.5,838.5 L1826.5,838.9 L1827.5,837.8 L1828.5,838.6 L1829.5,837.9 L1830.5,838.7 L1831.5,838.6 L1832.5,838.6 L1833.5,838.8 L1834.5,838.6 L1835.5,838.2 L1836.5,838.5 L1837.5,838.8 L1838.5,838.3 L1839.5,838.4 L1840.5,837.9 L1841.5,838.7 L1842.5,838.1 L1843.5,838 L1844.5,838.1 L1845.5,837.9 L1846.5,838.1 L1847.5,838.5 L1848.5,838.3 L1849.5,838.5 L1850.5,838.4 L1851.5,837.5 L1852.5,837.9 L1853.5,838.1 L1854.5,838.3 L1855.5,836.9 L1856.5,836.8 L1857.5,837.3 L1858.5,836.9 L1859.5,836.6 L1860.5,836.9 L1861.5,836.4 L1862.5,835.7 L1863.5,836.4 L1864.5,836.3 L1865.5,836.3 L1866.5,836.3 L1867.5,835.9 L1868.5,835.6 L1869.5,835.3 L1870.5,834.8 L1871.5,835.1 L1872.5,835.4 L1873.5,835.2 L1874.5,835.5 L1875.5,834.7 L1876.5,834 L1877.5,834.8 L1878.5,834.7 L1879.5,833.9 L1880.5,833.6 L1881.5,834.1 L1882.5,834.1 L1883.5,833.4 L1884.5,833.5 L1885.5,833.3 L1886.5,833 L1887.5,832.8 L1888.5,833.1 L1889.5,832.8 L1890.5,832.5 L1891.5,831.6 L1892.5,832.9 L1893.5,831.7 L1894.5,831.6 L1895.5,830.9 L1896.5,831 L1897.5,830 L1898.5,830.1 L1899.5,829.5 L1900.5,829.4 L1901.5,828.2 L1902.5,827.9 L1903.5,827.6 L1904.5,827.9 L1905.5,826.2 L1906.5,826.4 L1907.5,825.6 L1908.5,825.5 L1909.5,825.2 L1910.5,824.6 L1911.5,824.3 L1912.5,823.8 L1913.5,823.1 L1914.5,822.8 L1915.5,821.9 L1916.5,821.9 L1917.5,821.4 L1918.5,821.1 L1919.5,821 L1920.5,820.5 L1921.5,820.1 L1922.5,819.9 L1923.5,818.3 L1924.5,818.8 L1925.5,818.2 L1926.5,817.8 L1927.5,816.9 L1928.5,817.1 L1929.5,816.9 L1930.5,816.4 L1931.5,815.6 L1932.5,815.4 L1933.5,815.1 L1934.5,814.9 L1935.5,814.3 L1936.5,813.5 L1937.5,813 L1938.5,812.6 L1939.5,812.1 L1940.5,811.4 L1941.5,811.3 L1942.5,810.3 L1943.5,809.8 L1944.5,809.7 L1945.5,808.9 L1946.5,808.5 L1947.5,807.3 L1948.5,807.8 L1949.5,807 L1950.5,806.4 L1951.5,806.1 L1952.5,805.4 L1953.5,804.5 L1954.5,804.7 L1955.5,803.2 L1956.5,802.8 L1957.5,802.2 L1958.5,800.4 L1959.5,799.5 L1960.5,798.1 L1961.5,797.7 L1962.5,796.4 L1963.5,795.4 L1964.5,795.7 L1965.5,795.3 L1966.5,794.6 L1967.5,795.5 L1968.5,795.5 L1969.5,796.7 L1970.5,796.8 L1971.5,796.4 L1972.5,796.7 L1973.5,796.7 L1974.5,797 L1975.5,796.9 L1976.5,796.9 L1977.5,796.4 L1978.5,795.6 L1979.5,795.4 L1980.5,795.6 L1981.5,795 L1982.5,794 L1983.5,793.4 L1984.5,792.7 L1985.5,792.1 L1986.5,790.9 L1987.5,791.1 L1988.5,789.9 L1989.5,789.4 L1990.5,787.8 L1991.5,788.1 L1992.5,787.8 L1993.5,785.9 L1994.5,786.5 L1995.5,785.5 L1996.5,784.5 L1997.5,783.6 L1998.5,784 L1999.5,783.2 L2000.5,782.9 L2001.5,782.1 L2002.5,781.6 L2003.5,781.7 L2004.5,780.8" fill="none" stroke="#ff0000" stroke-width="7" stroke-linejoin="round"/>
<path d="M308.5,784.2 L309.5,782.9 L310.5,782.7 L311.5,782.1 L312.5,782.7 L313.5,781.3 L314.5,781.2 L315.5,781.4 L316.5,781 L317.5,781.3 L318.5,780.9 L319.5,780.2 L320.5,779.9 L321.5,778.7 L322.5,778.7 L323.5,778.6 L324.5,778.2 L325.5,777.4 L326.5,777.1 L327.5,776.7 L328.5,776.8 L329.5,776 L330.5,775.1 L331.5,774.6 L332.5,774.1 L333.5,773.1 L334.5,772.6 L335.5,771.5 L336.5,771.7 L337.5,771.1 L338.5,770.3 L339.5,769.7 L340.5,769.2 L341.5,769.2 L342.5,768.1 L343.5,767.1 L344.5,766.7 L345.5,766.8 L346.5,766.5 L347.5,766 L348.5,765.6 L349.5,764.9 L350.5,763.9 L351.5,763.8 L352.5,763 L353.5,763.1 L354.5,762.3 L355.5,762.4 L356.5,761.9 L357.5,760.9 L358.5,761.4 L359.5,761 L360.5,759.8 L361.5,759.9 L362.5,759.7 L363.5,758.9 L364.5,758.9 L365.5,758.3 L366.5,758.1 L367.5,757.4 L368.5,756.9 L369.5,756.7 L370.5,756.4 L371.5,755.8 L372.5,755.2 L373.5,754.7 L374.5,754.4 L375.5,754 L376.5,753.8 L377.5,753.4 L378.5,752.9 L379.5,752.6 L380.5,752.2 L381.5,752.3 L382.5,751.8 L383.5,750.8 L384.5,750.8 L385.5,750.2 L386.5,749.9 L387.5,749.5 L388.5,749 L389.5,748.5 L390.5,747.8 L391.5,748.4 L392.5,748.4 L393.5,747.4 L394.5,747.6 L395.5,747 L396.5,746.9 L397.5,746.3 L398.5,746.2 L399.5,746 L400.5,744.9 L401.5,745.6 L402.5,745.2 L403.5,744.1 L404.5,745 L405.5,744.5 L406.5,744.3 L407.5,744.1 L408.5,743.6 L409.5,743.1 L410.5,743.1 L411.5,742.8 L412.5,743.5 L413.5,743.1 L414.5,742.1 L415.5,741.9 L416.5,742 L417.5,741.9 L418.5,741.3 L419.5,741.1 L420.5,742 L421.5,741.6 L422.5,740.7 L423.5,740.5 L424.5,740.8 L425.5,741.1 L426.5,741.1 L427.5,740.8 L428.5,740.3 L429.5,740.8 L430.5,740.9 L431.5,740.7 L432.5,740.5 L433.5,740.8 L434.5,740.6 L435.5,740.2 L436.5,740.6 L437.5,740.2 L438.5,741 L439.5,740.8 L440.5,740.4 L441.5,740.9 L442.5,741.4 L443.5,740.3 L444.5,741.1 L445.5,741.9 L446.5,740.9 L447.5,741.5 L448.5,741.3 L449.5,741.9 L450.5,741.2 L451.5,741.6 L452.5,742.1 L453.5,742.4 L454.5,742.6 L455.5,742.8 L456.5,743.1 L457.5,743.1 L458.5,743.2 L459.5,742.7 L460.5,743.1 L461.5,744.4 L462.5,744.2 L463.5,743.8 L464.5,743.9 L465.5,744.1 L466.5,743.8 L467.5,744.7 L468.5,744 L469.5,744.3 L470.5,745.2 L471.5,743.8 L472.5,744.8 L473.5,744.2 L474.5,744.7 L475.5,745 L476.5,745.1 L477.5,745.4 L478.5,745.2 L479.5,745.6 L480.5,745.4 L481.5,745.8 L482.5,745.6 L483.5,746.5 L484.5,746.1 L485.5,747 L486.5,746.9 L487.5,747.2 L488.5,748 L489.5,748 L490.5,747.7 L491.5,748.9 L492.5,748.1 L493.5,749.6 L494.5,749.8 L495.5,749.9 L496.5,750.8 L497.5,751.1 L498.5,752.3 L499.5,751.8 L500.5,753 L501.5,753.2 L502.5,752.9 L503.5,753.2 L504.5,754.4 L505.5,754.3 L506.5,754.8 L507.5,755 L508.5,755.1 L509.5,755.8 L510.5,756 L511.5,756.2 L512.5,757.1 L513.5,758.2 L514.5,758.6 L515.5,758.4 L516.5,758.9 L517.5,759.5 L518.5,760.2 L519.5,760.3 L520.5,760.4 L521.5,760.9 L522.5,761.9 L523.5,762.9 L524.5,762.2 L525.5,762.2 L526.5,763.6 L527.5,763.8 L528.5,764.3 L529.5,765.1 L530.5,765.1 L531.5,765.1 L532.5,765.3 L533.5,766.4 L534.5,766.5 L535.5,767.4 L536.5,767.3 L537.5,768.1 L538.5,768.2 L539.5,769 L540.5,769.4 L541.5,770.1 L542.5,770.8 L543.5,770.6 L544.5,770.7 L545.5,771.9 L546.5,771.6 L547.5,771.8 L548.5,771.8 L549.5,772 L550.5,771.7 L551.5,771.3 L552.5,771.1 L553.5,770.3 L554.5,770.2 L555.5,770.3 L556.5,770.5 L557.5,770.8 L558.5,771.5 L559.5,772.1 L560.5,772.8 L561.5,773.3 L562.5,775.1 L563.5,775.9 L564.5,776.3 L565.5,777.6 L566.5,778.2 L567.5,778.8 L568.5,778.7 L569.5,779.4 L570.5,780.1 L571.5,781.3 L572.5,780.9 L573.5,781.6 L574.5,781.8 L575.5,782.4 L576.5,783.2 L577.5,782.8 L578.5,783.1 L579.5,784.8 L580.5,785.1 L581.5,785.4 L582.5,786.4 L583.5,786.9 L584.5,786.4 L585.5,787.6 L586.5,788.6 L587.5,788.5 L588.5,789.1 L589.5,790.1 L590.5,790.2 L591.5,790.4 L592.5,791.1 L593.5,791.4 L594.5,792.5 L595.5,792.2 L596.5,793.7 L597.5,793.3 L598.5,794.4 L599.5,794.4 L600.5,795.3 L601.5,796.2 L602.5,796.8 L603.5,797.4 L604.5,797.4 L605.5,798 L606.5,798.5 L607.5,799.2 L608.5,799.4 L609.5,800.4 L610.5,800.6 L611.5,801.4 L612.5,801.7 L613.5,802.3 L614.5,802.3 L615.5,802.9 L616.5,803.1 L617.5,803.9 L618.5,804.4 L619.5,805.3 L620.5,805 L621.5,807 L622.5,806.3 L623.5,807.3 L624.5,807.6 L625.5,806.8 L626.5,808.1 L627.5,809.2 L628.5,808.2 L629.5,809.8 L630.5,809.7 L631.5,810.3 L632.5,810.9 L633.5,810.6 L634.5,811.8 L635.5,811.9 L636.5,812.3 L637.5,813.3 L638.5,814.7 L639.5,814 L640.5,814.5 L641.5,814.7 L642.5,814.9 L643.5,815.6 L644.5,816.5 L645.5,816.4 L646.5,817.1 L647.5,817.1 L648.5,818.5 L649.5,817.4 L650.5,818.6 L651.5,818.9 L652.5,819.2 L653.5,819.1 L654.5,819.5 L655.5,820.2 L656.5,820.7 L657.5,820.6 L658.5,821.1 L659.5,822 L660.5,822.5 L661.5,822.4 L662.5,822.7 L663.5,823 L664.5,824.5 L665.5,824.2 L666.5,824.3 L667.5,825.1 L668.5,825.9 L669.5,825.8 L670.5,825.3 L671.5,826.1 L672.5,826.3 L673.5,826.7 L674.5,826.7 L675.5,827.4 L676.5,827.5 L677.5,828.3 L678.5,828.5 L679.5,828.3 L680.5,828.5 L681.5,829.3 L682.5,830 L683.5,830.3 L684.5,830.4 L685.5,829.6 L686.5,830.9 L687.5,831.1 L688.5,831.6 L689.5,831.7 L690.5,832.3 L691.5,832.6 L692.5,834.2 L693.5,833.8 L694.5,833.8 L695.5,834.1 L696.5,834.4 L697.5,834.7 L698.5,834.7 L699.5,834.9 L700.5,835.3 L701.5,835.3 L702.5,835.1 L703.5,835.4 L704.5,835.1 L705.5,834.6 L706.5,834.3 L707.5,834.7 L708.5,834.9 L709.5,835.1 L710.5,835.3 L711.5,834.7 L712.5,834.6 L713.5,835.1 L714.5,835.2 L715.5,834.6 L716.5,834.9 L717.5,835.3 L718.5,834.8 L719.5,834.7 L720.5,833.9 L721.5,835.1 L722.5,834.7 L723.5,834.5 L724.5,834.2 L725.5,833.8 L726.5,834.2 L727.5,834.1 L728.5,834.4 L729.5,833.5 L730.5,834.3 L731.5,833.7 L732.5,834 L733.5,833.1 L734.5,833.4 L735.5,833.6 L736.5,833.1 L737.5,832.4 L738.5,832.7 L739.5,832.8 L740.5,832 L741.5,831.9 L742.5,832.3 L743.5,831.8 L744.5,832.2 L745.5,831.4 L746.5,831.1 L747.5,831.3 L748.5,832 L749.5,831.1 L750.5,831.3 L751.5,831.3 L752.5,830.7 L753.5,831.3 L754.5,830.9 L755.5,830.9 L756.5,830 L757.5,829.9 L758.5,829.4 L759.5,830.2 L760.5,830 L761.5,830.2 L762.5,830.3 L763.5,829.6 L764.5,829.4 L765.5,829.4 L766.5,829.5 L767.5,828.4 L768.5,828.6 L769.5,827.9 L770.5,827.5 L771.5,827.5 L772.5,826.5 L773.5,826 L774.5,826.1 L775.5,825.4 L776.5,824.9 L777.5,824.5 L778.5,824.3 L779.5,823.6 L780.5,823.6 L781.5,823.1 L782.5,823 L783.5,822.6 L784.5,822 L785.5,821.3 L786.5,821 L787.5,820.4 L788.5,821.2 L789.5,819.7 L790.5,819.6 L791.5,819.5 L792.5,818.1 L793.5,817.9 L794.5,817.7 L795.5,817.1 L796.5,816.6 L797.5,816.5 L798.5,816.7 L799.5,816.1 L800.5,815.5 L801.5,815 L802.5,814.1 L803.5,814.5 L804.5,814 L805.5,813 L806.5,813.1 L807.5,812.5 L808.5,812 L809.5,811.4 L810.5,811.1 L811.5,810.6 L812.5,810.6 L813.5,810.2 L814.5,809.7 L815.5,809.1 L816.5,808.5 L817.5,808.9 L818.5,807.1 L819.5,807.7 L820.5,806.9 L821.5,806.4 L822.5,805.7 L823.5,805.4 L824.5,804.7 L825.5,804.2 L826.5,804.4 L827.5,803.7 L828.5,804.4 L829.5,804.5 L830.5,803 L831.5,803.8 L832.5,804.7 L833.5,805 L834.5,805.2 L835.5,805.5 L836.5,805.7 L837.5,805.7 L838.5,805.7 L839.5,804.6 L840.5,804.2 L841.5,802.5 L842.5,802.2 L843.5,800.9 L844.5,800.9 L845.5,800.4 L846.5,799 L847.5,797.6 L848.5,797.4 L849.5,796.9 L850.5,796.4 L851.5,796.2 L852.5,795.7 L853.5,793.9 L854.5,794.8 L855.5,793.6 L856.5,793 L857.5,793.1 L858.5,791.9 L859.5,790.9 L860.5,790.3 L861.5,790.1 L862.5,789.8 L863.5,789.3 L864.5,788.1 L865.5,787.4 L866.5,787.5 L867.5,786.1 L868.5,786.2 L869.5,785.2 L870.5,784.7 L871.5,784 L872.5,783.7 L873.5,783 L874.5,782.5 L875.5,782.3 L876.5,781.8 L877.5,781.8 L878.5,781.4 L879.5,780.9 L880.5,780.6 L881.5,780.3 L882.5,780.7 L883.5,779.8 L884.5,779.3 L885.5,779 L886.5,779 L887.5,778.4 L888.5,778 L889.5,777.5 L890.5,777.2 L891.5,776.8 L892.5,776.2 L893.5,774.9 L894.5,774.5 L895.5,773.3 L896.5,773.9 L897.5,773.4 L898.5,772.8 L899.5,771.7 L900.5,771.4 L901.5,770.4 L902.5,769.8 L903.5,768.7 L904.5,768.4 L905.5,768 L906.5,768 L907.5,767.8 L908.5,766.6 L909.5,766.5 L910.5,766 L911.5,765.2 L912.5,764.4 L913.5,764.3 L914.5,763.7 L915.5,763.7 L916.5,763.3 L917.5,762.9 L918.5,762.5 L919.5,762.3 L920.5,761.4 L921.5,761.6 L922.5,760.3 L923.5,760.5 L924.5,760.2 L925.5,759.3 L926.5,758.6 L927.5,759 L928.5,758.1 L929.5,758.2 L930.5,757.8 L931.5,757.1 L932.5,756.7 L933.5,756.7 L934.5,756 L935.5,755.2 L936.5,755.2 L937.5,754.9 L938.5,754.4 L939.5,754 L940.5,753.5 L941.5,753.1 L942.5,752.4 L943.5,751.8 L944.5,752.3 L945.5,751.3 L946.5,751.3 L947.5,750.3 L948.5,750.5 L949.5,749.8 L950.5,750.8 L951.5,749 L952.5,748.7 L953.5,749.1 L954.5,748.8 L955.5,747.4 L956.5,747.9 L957.5,747.8 L958.5,746.8 L959.5,747.2 L960.5,746.5 L961.5,746 L962.5,746 L963.5,745.7 L964.5,745.1 L965.5,746.1 L966.5,744.9 L967.5,744.6 L968.5,744.9 L969.5,744.3 L970.5,744.6 L971.5,743.8 L972.5,743.7 L973.5,743.4 L974.5,743.1 L975.5,742.8 L976.5,742.6 L977.5,743 L978.5,741.9 L979.5,741.8 L980.5,741.7 L981.5,741.8 L982.5,741.6 L983.5,741.7 L984.5,740.8 L985.5,741.3 L986.5,741.1 L987.5,741 L988.5,741.1 L989.5,740.3 L990.5,741 L991.5,740.9 L992.5,740.3 L993.5,740.7 L994.5,741.2 L995.5,740.5 L996.5,740.8 L997.5,740.5 L998.5,740.3 L999.5,740.3 L1000.5,740.5 L1001.5,741.1 L1002.5,740.9 L1003.5,740.5 L1004.5,741.1 L1005.5,740.9 L1006.5,740.8 L1007.5,741.3 L1008.5,740.9 L1009.5,740.9 L1010.5,742 L1011.5,741 L1012.5,742 L1013.5,741.4 L1014.5,742.1 L1015.5,742.2 L1016.5,742.2 L1017.5,741.7 L1018.5,742.5 L1019.5,742.7 L1020.5,742.5 L1021.5,742.9 L1022.5,743.4 L1023.5,742.9 L1024.5,743.3 L1025.5,743 L1026.5,743.6 L1027.5,743.8 L1028.5,744.6 L1029.5,744.2 L1030.5,744.1 L1031.5,744.6 L1032.5,743.9 L1033.5,744.8 L1034.5,744.3 L1035.5,744.4 L1036.5,745.1 L1037.5,745 L1038.5,745.5 L1039.5,744.6 L1040.5,745.4 L1041.5,745.2 L1042.5,745.5 L1043.5,745.1 L1044.5,746.2 L1045.5,746.1 L1046.5,745.9 L1047.5,746 L1048.5,746.3 L1049.5,747.4 L1050.5,747.1 L1051.5,747.4 L1052.5,748 L1053.5,748.2 L1054.5,748.6 L1055.5,749.2 L1056.5,749.5 L1057.5,750.1 L1058.5,749.8 L1059.5,750.6 L1060.5,750.9 L1061.5,751.5 L1062.5,751.8 L1063.5,752 L1064.5,752.5 L1065.5,753.3 L1066.5,753.2 L1067.5,753.3 L1068.5,754.4 L1069.5,754.9 L1070.5,754.9 L1071.5,755.4 L1072.5,755.5 L1073.5,756.1 L1074.5,757 L1075.5,757.3 L1076.5,757.5 L1077.5,757.8 L1078.5,757.7 L1079.5,758.8 L1080.5,759.3 L1081.5,759.9 L1082.5,760.7 L1083.5,760.6 L1084.5,761.2 L1085.5,761 L1086.5,762.2 L1087.5,762.5 L1088.5,763.2 L1089.5,763.4 L1090.5,763.8 L1091.5,764.6 L1092.5,764.3 L1093.5,765.2 L1094.5,765.8 L1095.5,765.6 L1096.5,765.9 L1097.5,766.9 L1098.5,767.2 L1099.5,767.8 L1100.5,768.3 L1101.5,768.2 L1102.5,769.1 L1103.5,769.8 L1104.5,769.7 L1105.5,770.1 L1106.5,770.2 L1107.5,771.2 L1108.5,771.8 L1109.5,770.9 L1110.5,771.8 L1111.5,771.9 L1112.5,771.4 L1113.5,771.3 L1114.5,770.8 L1115.5,770.7 L1116.5,770.7 L1117.5,770.7 L1118.5,770.4 L1119.5,770.7 L1120.5,770.8 L1121.5,770.7 L1122.5,772.3 L1123.5,773 L1124.5,773.2 L1125.5,775 L1126.5,775.5 L1127.5,776.3 L1128.5,777.7 L1129.5,777 L1130.5,778 L1131.5,779.3 L1132.5,779.6 L1133.5,779.8 L1134.5,781.1 L1135.5,781.2 L1136.5,781.1 L1137.5,781.8 L1138.5,782.7 L1139.5,783.5 L1140.5,782.7 L1141.5,784 L1142.5,784.2 L1143.5,784.3 L1144.5,785.3 L1145.5,785.3 L1146.5,786.2 L1147.5,787.5 L1148.5,787.6 L1149.5,788.2 L1150.5,788.7 L1151.5,789.2 L1152.5,789.9 L1153.5,789.7 L1154.5,790.5 L1155.5,791.4 L1156.5,791.4 L1157.5,792 L1158.5,793.1 L1159.5,793.7 L1160.5,793.5 L1161.5,793.9 L1162.5,794.9 L1163.5,795.3 L1164.5,795.5 L1165.5,796.4 L1166.5,796.9 L1167.5,797.3 L1168.5,798.8 L1169.5,798.7 L1170.5,799.1 L1171.5,799.7 L1172.5,800.8 L1173.5,800.7 L1174.5,800.6 L1175.5,801.5 L1176.5,801.9 L1177.5,802.2 L1178.5,802.9 L1179.5,803.4 L1180.5,803.8 L1181.5,804.1 L1182.5,805.1 L1183.5,804.7 L1184.5,806 L1185.5,806.2 L1186.5,806.8 L1187.5,806.3 L1188.5,808.1 L1189.5,807.4 L1190.5,808.2 L1191.5,809.2 L1192.5,809.2 L1193.5,809.7 L1194.5,809.5 L1195.5,810.6 L1196.5,811.2 L1197.5,811.8 L1198.5,811.9 L1199.5,812.5 L1200.5,813 L1201.5,813.1 L1202.5,813.5 L1203.5,814.8 L1204.5,814.3 L1205.5,815.4 L1206.5,815.4 L1207.5,816.3 L1208.5,816 L1209.5,816.8 L1210.5,817.2 L1211.5,817.4 L1212.5,817.9 L1213.5,818 L1214.5,818.6 L1215.5,818.9 L1216.5,819.7 L1217.5,819.8 L1218.5,819.7 L1219.5,820.4 L1220.5,820.9 L1221.5,821 L1222.5,822.1 L1223.5,822.2 L1224.5,822.7 L1225.5,822.5 L1226.5,823 L1227.5,823.9 L1228.5,823.4 L1229.5,824.4 L1230.5,824.6 L1231.5,824.8 L1232.5,825.4 L1233.5,825.3 L1234.5,826.1 L1235.5,826 L1236.5,826.3 L1237.5,827.5 L1238.5,827.2 L1239.5,827 L1240.5,828.4 L1241.5,828.1 L1242.5,827.5 L1243.5,829 L1244.5,829.7 L1245.5,829.8 L1246.5,830.6 L1247.5,830.3 L1248.5,830.8 L1249.5,830.6 L1250.5,831.3 L1251.5,832.2 L1252.5,832.2 L1253.5,832.4 L1254.5,832.1 L1255.5,833 L1256.5,833 L1257.5,834 L1258.5,833.8 L1259.5,834.5 L1260.5,834.2 L1261.5,835.4 L1262.5,834.5 L1263.5,835 L1264.5,835.9 L1265.5,835.1 L1266.5,834.7 L1267.5,835.2 L1268.5,835.3 L1269.5,835.3 L1270.5,834.3 L1271.5,835 L1272.5,834.2 L1273.5,835.6 L1274.5,834.9 L1275.5,834.7 L1276.5,835.1 L1277.5,835 L1278.5,834.4 L1279.5,835.4 L1280.5,834.7 L1281.5,834.2 L1282.5,835.2 L1283.5,835.2 L1284.5,835.1 L1285.5,834.8 L1286.5,834.2 L1287.5,834.8 L1288.5,835 L1289.5,834.5 L1290.5,834.7 L1291.5,833.8 L1292.5,834.3 L1293.5,834.2 L1294.5,833.2 L1295.5,833.1 L1296.5,833.2 L1297.5,833.4 L1298.5,833.4 L1299.5,833 L1300.5,833 L1301.5,832.8 L1302.5,832.8 L1303.5,832.8 L1304.5,832.6 L1305.5,832.3 L1306.5,832.3 L1307.5,831.9 L1308.5,832.2 L1309.5,831.6 L1310.5,832.3 L1311.5,831.6 L1312.5,831.6 L1313.5,831.1 L1314.5,831.1 L1315.5,831.2 L1316.5,831 L1317.5,830.7 L1318.5,830.4 L1319.5,830.7 L1320.5,830.7 L1321.5,830.7 L1322.5,830.8 L1323.5,830.1 L1324.5,829.4 L1325.5,829.9 L1326.5,829.1 L1327.5,829.1 L1328.5,829.7 L1329.5,829.3 L1330.5,828.6 L1331.5,828.3 L1332.5,828.1 L1333.5,827.2 L1334.5,827.6 L1335.5,826.9 L1336.5,827.2 L1337.5,825.7 L1338.5,826 L1339.5,825 L1340.5,825.1 L1341.5,824 L1342.5,824.2 L1343.5,823.3 L1344.5,822.8 L1345.5,822.7 L1346.5,822.5 L1347.5,822.1 L1348.5,822.1 L1349.5,821.4 L1350.5,819.8 L1351.5,820.2 L1352.5,819.3 L1353.5,819.5 L1354.5,819.4 L1355.5,818.3 L1356.5,818 L1357.5,818.1 L1358.5,817.5 L1359.5,817.8 L1360.5,816.9 L1361.5,816.6 L1362.5,816.6 L1363.5,815.5 L1364.5,815.2 L1365.5,814.5 L1366.5,814.5 L1367.5,814.4 L1368.5,814.1 L1369.5,813.2 L1370.5,812.5 L1371.5,812.1 L1372.5,811.5 L1373.5,811.6 L1374.5,811.6 L1375.5,809.9 L1376.5,809.5 L1377.5,810.3 L1378.5,808.8 L1379.5,809 L1380.5,808 L1381.5,808.2 L1382.5,807.7 L1383.5,807.1 L1384.5,806.8 L1385.5,806.1 L1386.5,805.9 L1387.5,805.9 L1388.5,805.3 L1389.5,804.4 L1390.5,804.1 L1391.5,804.1 L1392.5,804 L1393.5,804.2 L1394.5,804.1 L1395.5,804.8 L1396.5,804.9 L1397.5,805.3 L1398.5,805.4 L1399.5,805.7 L1400.5,805.1 L1401.5,805.8 L1402.5,805 L1403.5,804.4 L1404.5,803.7 L1405.5,803 L1406.5,802 L1407.5,800.9 L1408.5,799.8 L1409.5,798.5 L1410.5,798.4 L1411.5,797.6 L1412.5,797 L1413.5,797.4 L1414.5,795.4 L1415.5,795.6 L1416.5,795.5 L1417.5,794.9 L1418.5,794.5 L1419.5,793 L1420.5,792.6 L1421.5,792.5 L1422.5,791.6 L1423.5,791.6 L1424.5,790.5 L1425.5,789.8 L1426.5,789.3 L1427.5,788.4 L1428.5,787.9 L1429.5,786.9 L1430.5,786.6 L1431.5,785.8 L1432.5,785.5 L1433.5,784.3 L1434.5,783.8 L1435.5,784 L1436.5,783.4 L1437.5,782.6 L1438.5,782.5 L1439.5,781.8 L1440.5,782.5 L1441.5,781 L1442.5,781.8 L1443.5,780.6 L1444.5,780.7 L1445.5,780.2 L1446.5,779.8 L1447.5,780 L1448.5,779.6 L1449.5,778.9 L1450.5,778.3 L1451.5,779 L1452.5,778.3 L1453.5,777.4 L1454.5,776.8 L1455.5,776.4 L1456.5,775.8 L1457.5,775.6 L1458.5,774.2 L1459.5,773.9 L1460.5,773 L1461.5,773.1 L1462.5,772.6 L1463.5,771.3 L1464.5,770.9 L1465.5,770.6 L1466.5,769.4 L1467.5,768.6 L1468.5,768.8 L1469.5,768.1 L1470.5,767.4 L1471.5,767.5 L1472.5,766.6 L1473.5,765.5 L1474.5,765.8 L1475.5,765.2 L1476.5,765.5 L1477.5,764.4 L1478.5,763.9 L1479.5,763.7 L1480.5,763.2 L1481.5,762.2 L1482.5,762.4 L1483.5,761.8 L1484.5,762 L1485.5,761.9 L1486.5,760.3 L1487.5,759.9 L1488.5,759.5 L1489.5,759.2 L1490.5,758.7 L1491.5,758.6 L1492.5,758.5 L1493.5,757.3 L1494.5,756.8 L1495.5,756.3 L1496.5,756.9 L1497.5,756.6 L1498.5,755.2 L1499.5,754.7 L1500.5,755 L1501.5,754.9 L1502.5,754.5 L1503.5,753.8 L1504.5,753.6 L1505.5,753 L1506.5,752.3 L1507.5,752.8 L1508.5,751.8 L1509.5,751 L1510.5,750.8 L1511.5,750.1 L1512.5,750.3 L1513.5,750.3 L1514.5,749.1 L1515.5,749.6 L1516.5,749.6 L1517.5,748.7 L1518.5,747.9 L1519.5,747.7 L1520.5,747.6 L1521.5,746.9 L1522.5,746.7 L1523.5,746.7 L1524.5,746.5 L1525.5,746.5 L1526.5,745.6 L1527.5,746.4 L1528.5,745.8 L1529.5,745.5 L1530.5,744.7 L1531.5,745.3 L1532.5,744.4 L1533.5,744.9 L1534.5,744.4 L1535.5,743.4 L1536.5,743.3 L1537.5,743.9 L1538.5,743.3 L1539.5,742.7 L1540.5,742.6 L1541.5,742.4 L1542.5,741.8 L1543.5,741.8 L1544.5,741.5 L1545.5,741.4 L1546.5,741.6 L1547.5,741 L1548.5,741.5 L1549.5,741.3 L1550.5,741.4 L1551.5,741.4 L1552.5,741.5 L1553.5,741.2 L1554.5,741.1 L1555.5,740.8 L1556.5,741 L1557.5,740.4 L1558.5,740.6 L1559.5,741 L1560.5,740.6 L1561.5,740.8 L1562.5,740.3 L1563.5,741.1 L1564.5,740.4 L1565.5,740.8 L1566.5,740.7 L1567.5,741.1 L1568.5,740.8 L1569.5,740.7 L1570.5,740.5 L1571.5,741.1 L1572.5,741 L1573.5,741.7 L1574.5,742.2 L1575.5,741 L1576.5,741.5 L1577.5,742.2 L1578.5,742.6 L1579.5,742.4 L1580.5,742.6 L1581.5,742.7 L1582.5,742.9 L1583.5,743.4 L1584.5,743.1 L1585.5,742.6 L1586.5,743 L1587.5,743.3 L1588.5,743.1 L1589.5,743.4 L1590.5,743.4 L1591.5,743.5 L1592.5,744.1 L1593.5,743.9 L1594.5,743.7 L1595.5,744 L1596.5,744.4 L1597.5,745.2 L1598.5,744.7 L1599.5,745.3 L1600.5,745 L1601.5,744.2 L1602.5,745.3 L1603.5,745 L1604.5,744.9 L1605.5,745.2 L1606.5,746.3 L1607.5,745.3 L1608.5,745.8 L1609.5,746.6 L1610.5,746.6 L1611.5,746 L1612.5,746.8 L1613.5,746.9 L1614.5,747.3 L1615.5,748 L1616.5,747.9 L1617.5,748.3 L1618.5,749.3 L1619.5,748.6 L1620.5,749.5 L1621.5,750.2 L1622.5,750 L1623.5,750.7 L1624.5,750.8 L1625.5,751.8 L1626.5,751.9 L1627.5,752.8 L1628.5,753.2 L1629.5,753.3 L1630.5,753.5 L1631.5,754.1 L1632.5,754.5 L1633.5,754.4 L1634.5,755.6 L1635.5,755.7 L1636.5,756.3 L1637.5,756 L1638.5,757.2 L1639.5,758 L1640.5,757.9 L1641.5,757.6 L1642.5,758.6 L1643.5,759 L1644.5,759.5 L1645.5,759.8 L1646.5,760.5 L1647.5,760.6 L1648.5,761.3 L1649.5,761.4 L1650.5,762.1 L1651.5,762.9 L1652.5,762.8 L1653.5,763.7 L1654.5,763.6 L1655.5,764.2 L1656.5,764.7 L1657.5,765.7 L1658.5,765.4 L1659.5,766.6 L1660.5,766.1 L1661.5,767 L1662.5,767.8 L1663.5,768.2 L1664.5,768 L1665.5,768.4 L1666.5,769.5 L1667.5,769.2 L1668.5,770.3 L1669.5,770.3 L1670.5,770.8 L1671.5,771.9 L1672.5,771.9 L1673.5,771.8 L1674.5,771.1 L1675.5,771.7 L1676.5,771.5 L1677.5,771.3 L1678.5,771.5 L1679.5,770.2 L1680.5,770.7 L1681.5,770.5 L1682.5,770.1 L1683.5,771.2 L1684.5,770.5 L1685.5,771.5 L1686.5,772.3 L1687.5,772.3 L1688.5,773.6 L1689.5,774.7 L1690.5,776.2 L1691.5,777.1 L1692.5,777.8 L1693.5,778.4 L1694.5,778.1 L1695.5,779.5 L1696.5,779.8 L1697.5,780.9 L1698.5,781.4 L1699.5,782.2 L1700.5,782.1 L1701.5,782.6 L1702.5,782.4 L1703.5,783.2 L1704.5,783.3 L1705.5,784.5 L1706.5,784.3 L1707.5,785.1 L1708.5,785.4 L1709.5,786 L1710.5,786.9 L1711.5,787.1 L1712.5,787.9 L1713.5,788 L1714.5,789.3 L1715.5,789.1 L1716.5,790.2 L1717.5,791.2 L1718.5,790.1 L1719.5,791.1 L1720.5,791.9 L1721.5,792.9 L1722.5,792.8 L1723.5,793.6 L1724.5,793.7 L1725.5,794.7 L1726.5,794.6 L1727.5,795.8 L1728.5,795 L1729.5,795.9 L1730.5,797.7 L1731.5,797.6 L1732.5,797.8 L1733.5,799.4 L1734.5,799.5 L1735.5,800 L1736.5,800 L1737.5,800.9 L1738.5,801.3 L1739.5,801.1 L1740.5,802.4 L1741.5,802.6 L1742.5,803.6 L1743.5,804.1 L1744.5,803.9 L1745.5,804.4 L1746.5,805.2 L1747.5,805.8 L1748.5,805.9 L1749.5,806.4 L1750.5,807.2 L1751.5,807.6 L1752.5,808.3 L1753.5,808.4 L1754.5,808.4 L1755.5,808.6 L1756.5,809.9 L1757.5,810 L1758.5,810.4 L1759.5,810.9 L1760.5,810.9 L1761.5,811.7 L1762.5,811.4 L1763.5,812.6 L1764.5,812.8 L1765.5,814.2 L1766.5,814.2 L1767.5,814.3 L1768.5,814.9 L1769.5,815.5 L1770.5,815.4 L1771.5,816 L1772.5,816.4 L1773.5,817.8 L1774.5,817.3 L1775.5,817 L1776.5,818.4 L1777.5,819.4 L1778.5,818.5 L1779.5,820.5 L1780.5,819.6 L1781.5,820.4 L1782.5,820.2 L1783.5,820.7 L1784.5,820.7 L1785.5,821.2 L1786.5,821.1 L1787.5,822.7 L1788.5,822.2 L1789.5,823.2 L1790.5,823.5 L1791.5,823.5 L1792.5,824.1 L1793.5,824.4 L1794.5,824.7 L1795.5,825.2 L1796.5,825.6 L1797.5,825.5 L1798.5,825.8 L1799.5,826.3 L1800.5,827 L1801.5,827.8 L1802.5,828.1 L1803.5,828.1 L1804.5,828.6 L1805.5,828.6 L1806.5,829.3 L1807.5,829.3 L1808.5,829.7 L1809.5,829.8 L1810.5,830.2 L1811.5,831.2 L1812.5,830.4 L1813.5,831.1 L1814.5,831.3 L1815.5,832.2 L1816.5,832.9 L1817.5,832.5 L1818.5,832 L1819.5,833.5 L1820.5,833.9 L1821.5,833.3 L1822.5,834.2 L1823.5,834.5 L1824.5,833.9 L1825.5,835.1 L1826.5,835.1 L1827.5,835.1 L1828.5,834.6 L1829.5,834.8 L1830.5,834.8 L1831.5,835.2 L1832.5,834.6 L1833.5,835.5 L1834.5,835.1 L1835.5,834.2 L1836.5,835.6 L1837.5,835 L1838.5,834.7 L1839.5,834.9 L1840.5,834.2 L1841.5,834.9 L1842.5,833.9 L1843.5,834.4 L1844.5,835.3 L1845.5,835.2 L1846.5,834.6 L1847.5,834.3 L1848.5,834.9 L1849.5,834.5 L1850.5,834.5 L1851.5,834.6 L1852.5,833.9 L1853.5,834.5 L1854.5,833.3 L1855.5,834.5 L1856.5,833.3 L1857.5,833.6 L1858.5,833.4 L1859.5,833.8 L1860.5,833.7 L1861.5,833.4 L1862.5,833.4 L1863.5,833.2 L1864.5,832.9 L1865.5,832.1 L1866.5,831.8 L1867.5,831.7 L1868.5,832.4 L1869.5,832.2 L1870.5,832.1 L1871.5,832.1 L1872.5,831.8 L1873.5,831.4 L1874.5,831.1 L1875.5,830.8 L1876.5,831.8 L1877.5,831.6 L1878.5,830.7 L1879.5,831 L1880.5,831.1 L1881.5,831.4 L1882.5,830.5 L1883.5,830.7 L1884.5,830.9 L1885.5,829.8 L1886.5,830 L1887.5,830.1 L1888.5,829.7 L1889.5,830.6 L1890.5,830 L1891.5,829.5 L1892.5,828.9 L1893.5,829.3 L1894.5,828.9 L1895.5,828.1 L1896.5,827.8 L1897.5,827 L1898.5,827.1 L1899.5,827 L1900.5,826.6 L1901.5,826 L1902.5,825.7 L1903.5,824.7 L1904.5,824.3 L1905.5,824.5 L1906.5,823.8 L1907.5,823 L1908.5,823 L1909.5,822.8 L1910.5,822.3 L1911.5,821.7 L1912.5,821.1 L1913.5,821.1 L1914.5,821.1 L1915.5,820.2 L1916.5,819.5 L1917.5,819.5 L1918.5,818.5 L1919.5,818.6 L1920.5,818.1 L1921.5,818.1 L1922.5,817.4 L1923.5,817.4 L1924.5,817.4 L1925.5,816.1 L1926.5,815.5 L1927.5,815.5 L1928.5,814.9 L1929.5,814.6 L1930.5,813.9 L1931.5,814 L1932.5,813.4 L1933.5,812.1 L1934.5,812.4 L1935.5,812.2 L1936.5,812.1 L1937.5,811 L1938.5,810.5 L1939.5,810.8 L1940.5,809.7 L1941.5,809.6 L1942.5,809.2 L1943.5,808.9 L1944.5,808.1 L1945.5,807.2 L1946.5,807.5 L1947.5,806.6 L1948.5,806.1 L1949.5,806.5 L1950.5,805.7 L1951.5,804.6 L1952.5,804.5 L1953.5,804.3 L1954.5,803.9 L1955.5,803.4 L1956.5,804.4 L1957.5,804.5 L1958.5,804.5 L1959.5,804.6 L1960.5,805.1 L1961.5,805.5 L1962.5,805.1 L1963.5,805.4 L1964.5,805.1 L1965.5,805.3 L1966.5,804.6 L1967.5,803.3 L1968.5,802.7 L1969.5,802.7 L1970.5,800.8 L1971.5,800.3 L1972.5,799.2 L1973.5,799.1 L1974.5,797.9 L1975.5,797.2 L1976.5,796.4 L1977.5,796.2 L1978.5,796.1 L1979.5,795.5 L1980.5,794.3 L1981.5,794.8 L1982.5,793.6 L1983.5,792.7 L1984.5,792.6 L1985.5,791.7 L1986.5,791.1 L1987.5,790.4 L1988.5,790 L1989.5,789.2 L1990.5,788.1 L1991.5,788.2 L1992.5,787.2 L1993.5,787.2 L1994.5,786.4 L1995.5,785.8 L1996.5,785.1 L1997.5,785 L1998.5,783.9 L1999.5,783.2 L2000.5,783.2 L2001.5,781.7 L2002.5,782.2 L2003.5,782 L2004.5,781.5" fill="none" stroke="#0000ff" stroke-width="7" stroke-linejoin="round"/>
</g>
<g clip-path="url(#c3)">
<path d="M308.5,1076.9 L309.5,1076.4 L310.5,1075.9 L311.5,1075.4 L312.5,1074.9 L313.5,1074.4 L314.5,1073.9 L315.5,1073.4 L316.5,1072.9 L317.5,1072.5 L318.5,1072 L319.5,1071.5 L320.5,1070.9 L321.5,1070.5 L322.5,1070 L323.5,1069.4 L324.5,1068.9 L325.5,1068.4 L326.5,1068 L327.5,1067.5 L328.5,1067 L329.5,1066.4 L330.5,1066 L331.5,1065.5 L332.5,1065 L333.5,1064.5 L334.5,1064 L335.5,1063.5 L336.5,1063 L337.5,1062.4 L338.5,1062 L339.5,1061.5 L340.5,1060.9 L341.5,1060.4 L342.5,1060 L343.5,1059.4 L344.5,1058.9 L345.5,1058.4 L346.5,1058 L347.5,1057.5 L348.5,1057 L349.5,1056.5 L350.5,1056 L351.5,1055.5 L352.5,1055 L353.5,1054.5 L354.5,1054 L355.5,1053.5 L356.5,1053 L357.5,1052.6 L358.5,1052.1 L359.5,1051.6 L360.5,1051.2 L361.5,1050.7 L362.5,1050.2 L363.5,1049.8 L364.5,1049.3 L365.5,1048.8 L366.5,1048.2 L367.5,1047.7 L368.5,1047.1 L369.5,1046.5 L370.5,1045.9 L371.5,1045.2 L372.5,1044.5 L373.5,1043.8 L374.5,1043 L375.5,1042.2 L376.5,1041.4 L377.5,1040.6 L378.5,1039.8 L379.5,1038.9 L380.5,1038 L381.5,1036.9 L382.5,1035.9 L383.5,1034.8 L384.5,1033.6 L385.5,1032.5 L386.5,1031.4 L387.5,1030.2 L388.5,1029.1 L389.5,1027.9 L390.5,1026.8 L391.5,1025.6 L392.5,1024.5 L393.5,1023.3 L394.5,1022.1 L395.5,1020.9 L396.5,1019.7 L397.5,1018.5 L398.5,1017.3 L399.5,1016.1 L400.5,1014.9 L401.5,1013.7 L402.5,1012.5 L403.5,1011.2 L404.5,1010 L405.5,1008.7 L406.5,1007.5 L407.5,1006.2 L408.5,1004.9 L409.5,1003.7 L410.5,1002.4 L411.5,1001.1 L412.5,999.8 L413.5,998.4 L414.5,997 L415.5,995.5 L416.5,994 L417.5,992.5 L418.5,991 L419.5,989.4 L420.5,987.9 L421.5,986.3 L422.5,984.8 L423.5,983.3 L424.5,981.9 L425.5,980.5 L426.5,979.2 L427.5,977.9 L428.5,976.6 L429.5,975.3 L430.5,974.1 L431.5,972.8 L432.5,971.6 L433.5,970.3 L434.5,969.1 L435.5,968 L436.5,967 L437.5,966 L438.5,965.1 L439.5,964.2 L440.5,963.4 L441.5,962.5 L442.5,961.7 L443.5,960.8 L444.5,960 L445.5,959.3 L446.5,958.6 L447.5,957.9 L448.5,957.2 L449.5,956.6 L450.5,956 L451.5,955.3 L452.5,954.8 L453.5,954.3 L454.5,953.8 L455.5,953.3 L456.5,952.9 L457.5,952.5 L458.5,952.1 L459.5,951.7 L460.5,951.3 L461.5,951 L462.5,950.7 L463.5,950.3 L464.5,950 L465.5,949.8 L466.5,949.5 L467.5,949.2 L468.5,949 L469.5,948.8 L470.5,948.6 L471.5,948.4 L472.5,948.3 L473.5,948.1 L474.5,947.9 L475.5,947.8 L476.5,947.7 L477.5,947.6 L478.5,947.5 L479.5,947.5 L480.5,947.5 L481.5,947.4 L482.5,947.4 L483.5,947.4 L484.5,947.4 L485.5,947.5 L486.5,947.5 L487.5,947.7 L488.5,947.8 L489.5,947.9 L490.5,948 L491.5,948.2 L492.5,948.4 L493.5,948.6 L494.5,948.9 L495.5,949.2 L496.5,949.5 L497.5,949.8 L498.5,950.2 L499.5,950.5 L500.5,950.9 L501.5,951.3 L502.5,951.7 L503.5,952.1 L504.5,952.6 L505.5,953 L506.5,953.5 L507.5,953.9 L508.5,954.4 L509.5,955 L510.5,955.7 L511.5,956.5 L512.5,957.3 L513.5,958.2 L514.5,959 L515.5,959.9 L516.5,960.8 L517.5,961.6 L518.5,962.5 L519.5,963.4 L520.5,964.3 L521.5,965.3 L522.5,966.2 L523.5,967.2 L524.5,968.2 L525.5,969.2 L526.5,970.2 L527.5,971.2 L528.5,972.2 L529.5,973.2 L530.5,974.3 L531.5,975.4 L532.5,976.6 L533.5,977.9 L534.5,979.3 L535.5,980.6 L536.5,982 L537.5,983.4 L538.5,984.8 L539.5,986.2 L540.5,987.6 L541.5,989.1 L542.5,990.6 L543.5,992.1 L544.5,993.7 L545.5,995.2 L546.5,996.8 L547.5,998.4 L548.5,999.9 L549.5,1001.4 L550.5,1002.8 L551.5,1004 L552.5,1004.9 L553.5,1005.7 L554.5,1006.2 L555.5,1006.7 L556.5,1007.1 L557.5,1007.5 L558.5,1007.9 L559.5,1008.3 L560.5,1008.6 L561.5,1008.9 L562.5,1009.2 L563.5,1009.6 L564.5,1009.9 L565.5,1010.2 L566.5,1010.5 L567.5,1010.8 L568.5,1011.1 L569.5,1011.5 L570.5,1011.8 L571.5,1012.1 L572.5,1012.4 L573.5,1012.8 L574.5,1013.2 L575.5,1013.6 L576.5,1014 L577.5,1014.5 L578.5,1014.9 L579.5,1015.4 L580.5,1015.8 L581.5,1016.2 L582.5,1016.7 L583.5,1017.1 L584.5,1017.6 L585.5,1018 L586.5,1018.5 L587.5,1018.9 L588.5,1019.4 L589.5,1019.8 L590.5,1020.3 L591.5,1020.7 L592.5,1021.2 L593.5,1021.7 L594.5,1022.2 L595.5,1022.7 L596.5,1023.2 L597.5,1023.7 L598.5,1024.2 L599.5,1024.7 L600.5,1025.2 L601.5,1025.7 L602.5,1026.2 L603.5,1026.7 L604.5,1027.2 L605.5,1027.7 L606.5,1028.2 L607.5,1028.7 L608.5,1029.2 L609.5,1029.7 L610.5,1030.2 L611.5,1030.7 L612.5,1031.2 L613.5,1031.7 L614.5,1032.2 L615.5,1032.7 L616.5,1033.2 L617.5,1033.7 L618.5,1034.2 L619.5,1034.7 L620.5,1035.2 L621.5,1035.7 L622.5,1036.2 L623.5,1036.7 L624.5,1037.2 L625.5,1037.7 L626.5,1038.2 L627.5,1038.7 L628.5,1039.2 L629.5,1039.7 L630.5,1040.2 L631.5,1040.7 L632.5,1041.2 L633.5,1041.7 L634.5,1042.2 L635.5,1042.7 L636.5,1043.2 L637.5,1043.6 L638.5,1044.1 L639.5,1044.6 L640.5,1045 L641.5,1045.5 L642.5,1046 L643.5,1046.4 L644.5,1046.9 L645.5,1047.4 L646.5,1047.9 L647.5,1048.4 L648.5,1048.9 L649.5,1049.5 L650.5,1050.1 L651.5,1050.7 L652.5,1051.3 L653.5,1052 L654.5,1052.7 L655.5,1053.5 L656.5,1054.2 L657.5,1055 L658.5,1055.8 L659.5,1056.6 L660.5,1057.5 L661.5,1058.4 L662.5,1059.3 L663.5,1060.4 L664.5,1061.5 L665.5,1062.6 L666.5,1063.7 L667.5,1064.8 L668.5,1066 L669.5,1067.1 L670.5,1068.3 L671.5,1069.4 L672.5,1070.5 L673.5,1071.7 L674.5,1072.9 L675.5,1074.1 L676.5,1075.3 L677.5,1076.5 L678.5,1077.7 L679.5,1078.9 L680.5,1080.1 L681.5,1081.3 L682.5,1082.5 L683.5,1083.7 L684.5,1084.9 L685.5,1086.2 L686.5,1087.4 L687.5,1088.7 L688.5,1089.9 L689.5,1091.2 L690.5,1092.4 L691.5,1093.7 L692.5,1095 L693.5,1096.3 L694.5,1097.6 L695.5,1099 L696.5,1100.4 L697.5,1101.9 L698.5,1103.4 L699.5,1105 L700.5,1106.5 L701.5,1108.1 L702.5,1109.6 L703.5,1111.1 L704.5,1112.6 L705.5,1114.1 L706.5,1115.5 L707.5,1116.9 L708.5,1118.2 L709.5,1119.5 L710.5,1120.8 L711.5,1122 L712.5,1123.3 L713.5,1124.6 L714.5,1125.8 L715.5,1127 L716.5,1128.2 L717.5,1129.3 L718.5,1130.3 L719.5,1131.3 L720.5,1132.2 L721.5,1133 L722.5,1133.9 L723.5,1134.7 L724.5,1135.6 L725.5,1136.4 L726.5,1137.2 L727.5,1137.9 L728.5,1138.6 L729.5,1139.3 L730.5,1140 L731.5,1140.6 L732.5,1141.2 L733.5,1141.8 L734.5,1142.4 L735.5,1142.9 L736.5,1143.4 L737.5,1143.8 L738.5,1144.2 L739.5,1144.6 L740.5,1145 L741.5,1145.4 L742.5,1145.8 L743.5,1146.1 L744.5,1146.4 L745.5,1146.7 L746.5,1147 L747.5,1147.3 L748.5,1147.6 L749.5,1147.9 L750.5,1148.1 L751.5,1148.3 L752.5,1148.5 L753.5,1148.6 L754.5,1148.8 L755.5,1148.9 L756.5,1149.1 L757.5,1149.2 L758.5,1149.3 L759.5,1149.4 L760.5,1149.5 L761.5,1149.5 L762.5,1149.6 L763.5,1149.6 L764.5,1149.6 L765.5,1149.6 L766.5,1149.6 L767.5,1149.5 L768.5,1149.4 L769.5,1149.3 L770.5,1149.2 L771.5,1149.1 L772.5,1148.9 L773.5,1148.8 L774.5,1148.5 L775.5,1148.3 L776.5,1148 L777.5,1147.7 L778.5,1147.4 L779.5,1147.1 L780.5,1146.7 L781.5,1146.4 L782.5,1146 L783.5,1145.6 L784.5,1145.2 L785.5,1144.7 L786.5,1144.3 L787.5,1143.9 L788.5,1143.4 L789.5,1142.9 L790.5,1142.4 L791.5,1141.8 L792.5,1141 L793.5,1140.3 L794.5,1139.4 L795.5,1138.6 L796.5,1137.7 L797.5,1136.8 L798.5,1136 L799.5,1135.1 L800.5,1134.2 L801.5,1133.3 L802.5,1132.4 L803.5,1131.5 L804.5,1130.5 L805.5,1129.5 L806.5,1128.5 L807.5,1127.5 L808.5,1126.5 L809.5,1125.5 L810.5,1124.5 L811.5,1123.5 L812.5,1122.4 L813.5,1121.2 L814.5,1120 L815.5,1118.7 L816.5,1117.3 L817.5,1116 L818.5,1114.6 L819.5,1113.2 L820.5,1111.8 L821.5,1110.4 L822.5,1108.9 L823.5,1107.5 L824.5,1106 L825.5,1104.4 L826.5,1102.9 L827.5,1101.3 L828.5,1099.7 L829.5,1098.2 L830.5,1096.6 L831.5,1095.2 L832.5,1093.8 L833.5,1092.7 L834.5,1091.8 L835.5,1091.2 L836.5,1090.6 L837.5,1090.2 L838.5,1089.7 L839.5,1089.3 L840.5,1089 L841.5,1088.6 L842.5,1088.3 L843.5,1088 L844.5,1087.7 L845.5,1087.4 L846.5,1087 L847.5,1086.7 L848.5,1086.4 L849.5,1086.1 L850.5,1085.8 L851.5,1085.4 L852.5,1085.1 L853.5,1084.8 L854.5,1084.4 L855.5,1084.1 L856.5,1083.7 L857.5,1083.3 L858.5,1082.8 L859.5,1082.4 L860.5,1082 L861.5,1081.5 L862.5,1081.1 L863.5,1080.6 L864.5,1080.2 L865.5,1079.7 L866.5,1079.3 L867.5,1078.8 L868.5,1078.4 L869.5,1077.9 L870.5,1077.5 L871.5,1077 L872.5,1076.6 L873.5,1076.1 L874.5,1075.6 L875.5,1075.1 L876.5,1074.6 L877.5,1074.1 L878.5,1073.6 L879.5,1073.1 L880.5,1072.7 L881.5,1072.2 L882.5,1071.7 L883.5,1071.2 L884.5,1070.7 L885.5,1070.2 L886.5,1069.6 L887.5,1069.2 L888.5,1068.7 L889.5,1068.2 L890.5,1067.7 L891.5,1067.2 L892.5,1066.7 L893.5,1066.1 L894.5,1065.7 L895.5,1065.1 L896.5,1064.6 L897.5,1064.1 L898.5,1063.7 L899.5,1063.1 L900.5,1062.7 L901.5,1062.2 L902.5,1061.7 L903.5,1061.1 L904.5,1060.6 L905.5,1060.2 L906.5,1059.7 L907.5,1059.2 L908.5,1058.7 L909.5,1058.1 L910.5,1057.7 L911.5,1057.2 L912.5,1056.7 L913.5,1056.2 L914.5,1055.7 L915.5,1055.2 L916.5,1054.7 L917.5,1054.2 L918.5,1053.7 L919.5,1053.2 L920.5,1052.7 L921.5,1052.3 L922.5,1051.8 L923.5,1051.3 L924.5,1050.9 L925.5,1050.4 L926.5,1049.9 L927.5,1049.5 L928.5,1049 L929.5,1048.5 L930.5,1047.9 L931.5,1047.3 L932.5,1046.7 L933.5,1046.1 L934.5,1045.5 L935.5,1044.8 L936.5,1044.1 L937.5,1043.3 L938.5,1042.5 L939.5,1041.7 L940.5,1040.9 L941.5,1040.1 L942.5,1039.3 L943.5,1038.3 L944.5,1037.4 L945.5,1036.3 L946.5,1035.2 L947.5,1034.1 L948.5,1033 L949.5,1031.8 L950.5,1030.7 L951.5,1029.5 L952.5,1028.4 L953.5,1027.3 L954.5,1026.1 L955.5,1024.9 L956.5,1023.8 L957.5,1022.6 L958.5,1021.4 L959.5,1020.2 L960.5,1019 L961.5,1017.8 L962.5,1016.6 L963.5,1015.4 L964.5,1014.2 L965.5,1012.9 L966.5,1011.7 L967.5,1010.5 L968.5,1009.2 L969.5,1008 L970.5,1006.7 L971.5,1005.4 L972.5,1004.2 L973.5,1002.9 L974.5,1001.6 L975.5,1000.3 L976.5,999 L977.5,997.6 L978.5,996.1 L979.5,994.6 L980.5,993.1 L981.5,991.6 L982.5,990 L983.5,988.5 L984.5,987 L985.5,985.4 L986.5,983.9 L987.5,982.5 L988.5,981 L989.5,979.7 L990.5,978.4 L991.5,977.1 L992.5,975.9 L993.5,974.6 L994.5,973.3 L995.5,972.1 L996.5,970.8 L997.5,969.6 L998.5,968.5 L999.5,967.4 L1000.5,966.4 L1001.5,965.5 L1002.5,964.6 L1003.5,963.7 L1004.5,962.9 L1005.5,962 L1006.5,961.2 L1007.5,960.3 L1008.5,959.6 L1009.5,958.8 L1010.5,958.2 L1011.5,957.5 L1012.5,956.8 L1013.5,956.2 L1014.5,955.6 L1015.5,955 L1016.5,954.5 L1017.5,954 L1018.5,953.5 L1019.5,953.1 L1020.5,952.7 L1021.5,952.3 L1022.5,951.9 L1023.5,951.5 L1024.5,951.1 L1025.5,950.8 L1026.5,950.5 L1027.5,950.2 L1028.5,949.9 L1029.5,949.6 L1030.5,949.3 L1031.5,949.1 L1032.5,948.9 L1033.5,948.7 L1034.5,948.5 L1035.5,948.3 L1036.5,948.2 L1037.5,948 L1038.5,947.9 L1039.5,947.7 L1040.5,947.6 L1041.5,947.6 L1042.5,947.5 L1043.5,947.5 L1044.5,947.4 L1045.5,947.4 L1046.5,947.4 L1047.5,947.4 L1048.5,947.4 L1049.5,947.5 L1050.5,947.6 L1051.5,947.7 L1052.5,947.8 L1053.5,948 L1054.5,948.1 L1055.5,948.3 L1056.5,948.5 L1057.5,948.8 L1058.5,949.1 L1059.5,949.4 L1060.5,949.7 L1061.5,950 L1062.5,950.4 L1063.5,950.7 L1064.5,951.1 L1065.5,951.5 L1066.5,952 L1067.5,952.4 L1068.5,952.8 L1069.5,953.3 L1070.5,953.7 L1071.5,954.2 L1072.5,954.8 L1073.5,955.4 L1074.5,956.2 L1075.5,957 L1076.5,957.8 L1077.5,958.7 L1078.5,959.6 L1079.5,960.4 L1080.5,961.3 L1081.5,962.2 L1082.5,963 L1083.5,963.9 L1084.5,964.9 L1085.5,965.8 L1086.5,966.8 L1087.5,967.8 L1088.5,968.8 L1089.5,969.8 L1090.5,970.8 L1091.5,971.8 L1092.5,972.8 L1093.5,973.9 L1094.5,975 L1095.5,976.1 L1096.5,977.4 L1097.5,978.7 L1098.5,980.1 L1099.5,981.5 L1100.5,982.8 L1101.5,984.2 L1102.5,985.6 L1103.5,987 L1104.5,988.5 L1105.5,990 L1106.5,991.5 L1107.5,993 L1108.5,994.6 L1109.5,996.2 L1110.5,997.7 L1111.5,999.3 L1112.5,1000.8 L1113.5,1002.2 L1114.5,1003.5 L1115.5,1004.6 L1116.5,1005.4 L1117.5,1006 L1118.5,1006.5 L1119.5,1007 L1120.5,1007.4 L1121.5,1007.8 L1122.5,1008.1 L1123.5,1008.5 L1124.5,1008.8 L1125.5,1009.1 L1126.5,1009.4 L1127.5,1009.7 L1128.5,1010.1 L1129.5,1010.4 L1130.5,1010.7 L1131.5,1011 L1132.5,1011.3 L1133.5,1011.7 L1134.5,1012 L1135.5,1012.3 L1136.5,1012.7 L1137.5,1013 L1138.5,1013.4 L1139.5,1013.9 L1140.5,1014.3 L1141.5,1014.7 L1142.5,1015.2 L1143.5,1015.6 L1144.5,1016.1 L1145.5,1016.5 L1146.5,1017 L1147.5,1017.4 L1148.5,1017.9 L1149.5,1018.3 L1150.5,1018.7 L1151.5,1019.2 L1152.5,1019.6 L1153.5,1020.1 L1154.5,1020.6 L1155.5,1021 L1156.5,1021.5 L1157.5,1022 L1158.5,1022.5 L1159.5,1023 L1160.5,1023.5 L1161.5,1024 L1162.5,1024.5 L1163.5,1025 L1164.5,1025.5 L1165.5,1026 L1166.5,1026.5 L1167.5,1027 L1168.5,1027.5 L1169.5,1028 L1170.5,1028.5 L1171.5,1029 L1172.5,1029.5 L1173.5,1030 L1174.5,1030.5 L1175.5,1031 L1176.5,1031.5 L1177.5,1032 L1178.5,1032.5 L1179.5,1033 L1180.5,1033.5 L1181.5,1034 L1182.5,1034.5 L1183.5,1035 L1184.5,1035.5 L1185.5,1036 L1186.5,1036.5 L1187.5,1037 L1188.5,1037.5 L1189.5,1038 L1190.5,1038.5 L1191.5,1039 L1192.5,1039.5 L1193.5,1040 L1194.5,1040.5 L1195.5,1041 L1196.5,1041.5 L1197.5,1042 L1198.5,1042.5 L1199.5,1043 L1200.5,1043.5 L1201.5,1043.9 L1202.5,1044.4 L1203.5,1044.9 L1204.5,1045.3 L1205.5,1045.8 L1206.5,1046.3 L1207.5,1046.7 L1208.5,1047.2 L1209.5,1047.7 L1210.5,1048.2 L1211.5,1048.7 L1212.5,1049.3 L1213.5,1049.9 L1214.5,1050.5 L1215.5,1051.1 L1216.5,1051.7 L1217.5,1052.4 L1218.5,1053.2 L1219.5,1053.9 L1220.5,1054.7 L1221.5,1055.5 L1222.5,1056.3 L1223.5,1057.1 L1224.5,1058 L1225.5,1058.9 L1226.5,1059.9 L1227.5,1061 L1228.5,1062.1 L1229.5,1063.3 L1230.5,1064.4 L1231.5,1065.5 L1232.5,1066.7 L1233.5,1067.8 L1234.5,1068.9 L1235.5,1070.1 L1236.5,1071.2 L1237.5,1072.4 L1238.5,1073.6 L1239.5,1074.8 L1240.5,1076 L1241.5,1077.2 L1242.5,1078.4 L1243.5,1079.6 L1244.5,1080.8 L1245.5,1082 L1246.5,1083.2 L1247.5,1084.4 L1248.5,1085.7 L1249.5,1086.9 L1250.5,1088.2 L1251.5,1089.4 L1252.5,1090.7 L1253.5,1091.9 L1254.5,1093.2 L1255.5,1094.5 L1256.5,1095.8 L1257.5,1097.1 L1258.5,1098.4 L1259.5,1099.8 L1260.5,1101.3 L1261.5,1102.8 L1262.5,1104.4 L1263.5,1105.9 L1264.5,1107.4 L1265.5,1109 L1266.5,1110.5 L1267.5,1112 L1268.5,1113.5 L1269.5,1115 L1270.5,1116.4 L1271.5,1117.7 L1272.5,1119 L1273.5,1120.3 L1274.5,1121.5 L1275.5,1122.8 L1276.5,1124 L1277.5,1125.3 L1278.5,1126.5 L1279.5,1127.7 L1280.5,1128.9 L1281.5,1129.9 L1282.5,1130.9 L1283.5,1131.8 L1284.5,1132.7 L1285.5,1133.5 L1286.5,1134.4 L1287.5,1135.3 L1288.5,1136.1 L1289.5,1136.9 L1290.5,1137.6 L1291.5,1138.4 L1292.5,1139 L1293.5,1139.7 L1294.5,1140.4 L1295.5,1141 L1296.5,1141.6 L1297.5,1142.2 L1298.5,1142.7 L1299.5,1143.2 L1300.5,1143.6 L1301.5,1144 L1302.5,1144.5 L1303.5,1144.9 L1304.5,1145.3 L1305.5,1145.6 L1306.5,1146 L1307.5,1146.3 L1308.5,1146.6 L1309.5,1146.9 L1310.5,1147.2 L1311.5,1147.5 L1312.5,1147.8 L1313.5,1148 L1314.5,1148.2 L1315.5,1148.4 L1316.5,1148.6 L1317.5,1148.7 L1318.5,1148.9 L1319.5,1149 L1320.5,1149.2 L1321.5,1149.3 L1322.5,1149.4 L1323.5,1149.5 L1324.5,1149.5 L1325.5,1149.5 L1326.5,1149.6 L1327.5,1149.6 L1328.5,1149.6 L1329.5,1149.6 L1330.5,1149.5 L1331.5,1149.5 L1332.5,1149.4 L1333.5,1149.2 L1334.5,1149.1 L1335.5,1149 L1336.5,1148.8 L1337.5,1148.6 L1338.5,1148.4 L1339.5,1148.1 L1340.5,1147.8 L1341.5,1147.5 L1342.5,1147.2 L1343.5,1146.9 L1344.5,1146.5 L1345.5,1146.2 L1346.5,1145.8 L1347.5,1145.3 L1348.5,1144.9 L1349.5,1144.5 L1350.5,1144 L1351.5,1143.6 L1352.5,1143.1 L1353.5,1142.6 L1354.5,1142 L1355.5,1141.3 L1356.5,1140.6 L1357.5,1139.8 L1358.5,1138.9 L1359.5,1138 L1360.5,1137.2 L1361.5,1136.3 L1362.5,1135.5 L1363.5,1134.6 L1364.5,1133.7 L1365.5,1132.8 L1366.5,1131.8 L1367.5,1130.9 L1368.5,1129.9 L1369.5,1128.9 L1370.5,1127.9 L1371.5,1126.9 L1372.5,1125.9 L1373.5,1124.9 L1374.5,1123.9 L1375.5,1122.8 L1376.5,1121.7 L1377.5,1120.5 L1378.5,1119.2 L1379.5,1117.9 L1380.5,1116.5 L1381.5,1115.1 L1382.5,1113.7 L1383.5,1112.3 L1384.5,1110.9 L1385.5,1109.5 L1386.5,1108.1 L1387.5,1106.6 L1388.5,1105 L1389.5,1103.5 L1390.5,1101.9 L1391.5,1100.4 L1392.5,1098.8 L1393.5,1097.3 L1394.5,1095.7 L1395.5,1094.3 L1396.5,1093.1 L1397.5,1092.2 L1398.5,1091.4 L1399.5,1090.8 L1400.5,1090.3 L1401.5,1089.9 L1402.5,1089.5 L1403.5,1089.1 L1404.5,1088.8 L1405.5,1088.4 L1406.5,1088.1 L1407.5,1087.8 L1408.5,1087.5 L1409.5,1087.2 L1410.5,1086.8 L1411.5,1086.5 L1412.5,1086.2 L1413.5,1085.9 L1414.5,1085.6 L1415.5,1085.2 L1416.5,1084.9 L1417.5,1084.6 L1418.5,1084.2 L1419.5,1083.9 L1420.5,1083.4 L1421.5,1083 L1422.5,1082.6 L1423.5,1082.1 L1424.5,1081.7 L1425.5,1081.2 L1426.5,1080.8 L1427.5,1080.4 L1428.5,1079.9 L1429.5,1079.5 L1430.5,1079 L1431.5,1078.6 L1432.5,1078.1 L1433.5,1077.7 L1434.5,1077.2 L1435.5,1076.8 L1436.5,1076.3 L1437.5,1075.8 L1438.5,1075.3 L1439.5,1074.8 L1440.5,1074.3 L1441.5,1073.8 L1442.5,1073.3 L1443.5,1072.8 L1444.5,1072.4 L1445.5,1071.9 L1446.5,1071.3 L1447.5,1070.8 L1448.5,1070.4 L1449.5,1069.8 L1450.5,1069.3 L1451.5,1068.8 L1452.5,1068.4 L1453.5,1067.8 L1454.5,1067.3 L1455.5,1066.8 L1456.5,1066.3 L1457.5,1065.9 L1458.5,1065.3 L1459.5,1064.8 L1460.5,1064.3 L1461.5,1063.8 L1462.5,1063.4 L1463.5,1062.8 L1464.5,1062.3 L1465.5,1061.8 L1466.5,1061.4 L1467.5,1060.8 L1468.5,1060.3 L1469.5,1059.9 L1470.5,1059.3 L1471.5,1058.9 L1472.5,1058.3 L1473.5,1057.9 L1474.5,1057.4 L1475.5,1056.9 L1476.5,1056.4 L1477.5,1055.9 L1478.5,1055.4 L1479.5,1054.9 L1480.5,1054.4 L1481.5,1053.9 L1482.5,1053.4 L1483.5,1052.9 L1484.5,1052.5 L1485.5,1052 L1486.5,1051.5 L1487.5,1051.1 L1488.5,1050.6 L1489.5,1050.1 L1490.5,1049.7 L1491.5,1049.2 L1492.5,1048.7 L1493.5,1048.1 L1494.5,1047.6 L1495.5,1047 L1496.5,1046.4 L1497.5,1045.7 L1498.5,1045.1 L1499.5,1044.4 L1500.5,1043.6 L1501.5,1042.8 L1502.5,1042.1 L1503.5,1041.3 L1504.5,1040.4 L1505.5,1039.6 L1506.5,1038.7 L1507.5,1037.8 L1508.5,1036.7 L1509.5,1035.6 L1510.5,1034.5 L1511.5,1033.4 L1512.5,1032.3 L1513.5,1031.1 L1514.5,1030 L1515.5,1028.9 L1516.5,1027.7 L1517.5,1026.6 L1518.5,1025.4 L1519.5,1024.2 L1520.5,1023 L1521.5,1021.8 L1522.5,1020.6 L1523.5,1019.4 L1524.5,1018.3 L1525.5,1017.1 L1526.5,1015.9 L1527.5,1014.6 L1528.5,1013.4 L1529.5,1012.2 L1530.5,1011 L1531.5,1009.7 L1532.5,1008.5 L1533.5,1007.2 L1534.5,1005.9 L1535.5,1004.7 L1536.5,1003.4 L1537.5,1002.1 L1538.5,1000.9 L1539.5,999.5 L1540.5,998.2 L1541.5,996.7 L1542.5,995.2 L1543.5,993.7 L1544.5,992.2 L1545.5,990.6 L1546.5,989.1 L1547.5,987.6 L1548.5,986 L1549.5,984.5 L1550.5,983 L1551.5,981.6 L1552.5,980.2 L1553.5,978.9 L1554.5,977.6 L1555.5,976.4 L1556.5,975.1 L1557.5,973.8 L1558.5,972.6 L1559.5,971.3 L1560.5,970.1 L1561.5,968.9 L1562.5,967.8 L1563.5,966.8 L1564.5,965.8 L1565.5,964.9 L1566.5,964.1 L1567.5,963.2 L1568.5,962.3 L1569.5,961.5 L1570.5,960.7 L1571.5,959.9 L1572.5,959.1 L1573.5,958.4 L1574.5,957.8 L1575.5,957.1 L1576.5,956.5 L1577.5,955.8 L1578.5,955.2 L1579.5,954.7 L1580.5,954.2 L1581.5,953.7 L1582.5,953.3 L1583.5,952.8 L1584.5,952.4 L1585.5,952 L1586.5,951.6 L1587.5,951.3 L1588.5,950.9 L1589.5,950.6 L1590.5,950.3 L1591.5,950 L1592.5,949.7 L1593.5,949.4 L1594.5,949.2 L1595.5,948.9 L1596.5,948.7 L1597.5,948.6 L1598.5,948.4 L1599.5,948.2 L1600.5,948.1 L1601.5,947.9 L1602.5,947.8 L1603.5,947.7 L1604.5,947.6 L1605.5,947.5 L1606.5,947.5 L1607.5,947.4 L1608.5,947.4 L1609.5,947.4 L1610.5,947.4 L1611.5,947.4 L1612.5,947.5 L1613.5,947.6 L1614.5,947.7 L1615.5,947.8 L1616.5,947.9 L1617.5,948.1 L1618.5,948.2 L1619.5,948.4 L1620.5,948.7 L1621.5,949 L1622.5,949.3 L1623.5,949.6 L1624.5,949.9 L1625.5,950.2 L1626.5,950.6 L1627.5,951 L1628.5,951.4 L1629.5,951.8 L1630.5,952.2 L1631.5,952.7 L1632.5,953.1 L1633.5,953.5 L1634.5,954 L1635.5,954.6 L1636.5,955.2 L1637.5,955.9 L1638.5,956.7 L1639.5,957.5 L1640.5,958.3 L1641.5,959.2 L1642.5,960.1 L1643.5,960.9 L1644.5,961.8 L1645.5,962.7 L1646.5,963.6 L1647.5,964.5 L1648.5,965.4 L1649.5,966.4 L1650.5,967.4 L1651.5,968.4 L1652.5,969.4 L1653.5,970.4 L1654.5,971.4 L1655.5,972.4 L1656.5,973.4 L1657.5,974.5 L1658.5,975.7 L1659.5,976.9 L1660.5,978.2 L1661.5,979.5 L1662.5,980.9 L1663.5,982.3 L1664.5,983.7 L1665.5,985.1 L1666.5,986.5 L1667.5,987.9 L1668.5,989.4 L1669.5,990.9 L1670.5,992.4 L1671.5,994 L1672.5,995.5 L1673.5,997.1 L1674.5,998.7 L1675.5,1000.2 L1676.5,1001.7 L1677.5,1003 L1678.5,1004.2 L1679.5,1005.1 L1680.5,1005.8 L1681.5,1006.3 L1682.5,1006.8 L1683.5,1007.2 L1684.5,1007.6 L1685.5,1008 L1686.5,1008.3 L1687.5,1008.7 L1688.5,1009 L1689.5,1009.3 L1690.5,1009.6 L1691.5,1009.9 L1692.5,1010.3 L1693.5,1010.6 L1694.5,1010.9 L1695.5,1011.2 L1696.5,1011.5 L1697.5,1011.9 L1698.5,1012.2 L1699.5,1012.5 L1700.5,1012.9 L1701.5,1013.3 L1702.5,1013.7 L1703.5,1014.1 L1704.5,1014.6 L1705.5,1015 L1706.5,1015.4 L1707.5,1015.9 L1708.5,1016.3 L1709.5,1016.8 L1710.5,1017.2 L1711.5,1017.7 L1712.5,1018.1 L1713.5,1018.6 L1714.5,1019 L1715.5,1019.5 L1716.5,1019.9 L1717.5,1020.4 L1718.5,1020.8 L1719.5,1021.3 L1720.5,1021.8 L1721.5,1022.3 L1722.5,1022.8 L1723.5,1023.3 L1724.5,1023.8 L1725.5,1024.3 L1726.5,1024.8 L1727.5,1025.3 L1728.5,1025.8 L1729.5,1026.3 L1730.5,1026.8 L1731.5,1027.3 L1732.5,1027.8 L1733.5,1028.3 L1734.5,1028.8 L1735.5,1029.3 L1736.5,1029.8 L1737.5,1030.3 L1738.5,1030.8 L1739.5,1031.3 L1740.5,1031.8 L1741.5,1032.3 L1742.5,1032.8 L1743.5,1033.3 L1744.5,1033.8 L1745.5,1034.3 L1746.5,1034.8 L1747.5,1035.3 L1748.5,1035.8 L1749.5,1036.3 L1750.5,1036.8 L1751.5,1037.3 L1752.5,1037.8 L1753.5,1038.3 L1754.5,1038.8 L1755.5,1039.3 L1756.5,1039.8 L1757.5,1040.3 L1758.5,1040.8 L1759.5,1041.3 L1760.5,1041.8 L1761.5,1042.3 L1762.5,1042.8 L1763.5,1043.3 L1764.5,1043.7 L1765.5,1044.2 L1766.5,1044.7 L1767.5,1045.1 L1768.5,1045.6 L1769.5,1046.1 L1770.5,1046.5 L1771.5,1047 L1772.5,1047.5 L1773.5,1048 L1774.5,1048.5 L1775.5,1049 L1776.5,1049.6 L1777.5,1050.2 L1778.5,1050.8 L1779.5,1051.5 L1780.5,1052.1 L1781.5,1052.9 L1782.5,1053.6 L1783.5,1054.4 L1784.5,1055.2 L1785.5,1056 L1786.5,1056.8 L1787.5,1057.7 L1788.5,1058.6 L1789.5,1059.5 L1790.5,1060.6 L1791.5,1061.7 L1792.5,1062.8 L1793.5,1063.9 L1794.5,1065.1 L1795.5,1066.2 L1796.5,1067.3 L1797.5,1068.5 L1798.5,1069.6 L1799.5,1070.8 L1800.5,1071.9 L1801.5,1073.1 L1802.5,1074.3 L1803.5,1075.5 L1804.5,1076.7 L1805.5,1077.9 L1806.5,1079.1 L1807.5,1080.3 L1808.5,1081.5 L1809.5,1082.7 L1810.5,1083.9 L1811.5,1085.2 L1812.5,1086.4 L1813.5,1087.7 L1814.5,1088.9 L1815.5,1090.2 L1816.5,1091.4 L1817.5,1092.7 L1818.5,1094 L1819.5,1095.2 L1820.5,1096.5 L1821.5,1097.9 L1822.5,1099.3 L1823.5,1100.7 L1824.5,1102.2 L1825.5,1103.7 L1826.5,1105.3 L1827.5,1106.8 L1828.5,1108.4 L1829.5,1109.9 L1830.5,1111.4 L1831.5,1112.9 L1832.5,1114.4 L1833.5,1115.8 L1834.5,1117.2 L1835.5,1118.5 L1836.5,1119.8 L1837.5,1121 L1838.5,1122.3 L1839.5,1123.5 L1840.5,1124.8 L1841.5,1126 L1842.5,1127.3 L1843.5,1128.4 L1844.5,1129.5 L1845.5,1130.5 L1846.5,1131.4 L1847.5,1132.3 L1848.5,1133.2 L1849.5,1134.1 L1850.5,1134.9 L1851.5,1135.8 L1852.5,1136.6 L1853.5,1137.3 L1854.5,1138.1 L1855.5,1138.8 L1856.5,1139.4 L1857.5,1140.1 L1858.5,1140.7 L1859.5,1141.4 L1860.5,1141.9 L1861.5,1142.5 L1862.5,1143 L1863.5,1143.4 L1864.5,1143.9 L1865.5,1144.3 L1866.5,1144.7 L1867.5,1145.1 L1868.5,1145.5 L1869.5,1145.9 L1870.5,1146.2 L1871.5,1146.5 L1872.5,1146.8 L1873.5,1147.1 L1874.5,1147.4 L1875.5,1147.7 L1876.5,1147.9 L1877.5,1148.1 L1878.5,1148.3 L1879.5,1148.5 L1880.5,1148.7 L1881.5,1148.8 L1882.5,1149 L1883.5,1149.1 L1884.5,1149.3 L1885.5,1149.4 L1886.5,1149.4 L1887.5,1149.5 L1888.5,1149.5 L1889.5,1149.6 L1890.5,1149.6 L1891.5,1149.6 L1892.5,1149.6 L1893.5,1149.6 L1894.5,1149.5 L1895.5,1149.4 L1896.5,1149.3 L1897.5,1149.2 L1898.5,1149 L1899.5,1148.9 L1900.5,1148.7 L1901.5,1148.5 L1902.5,1148.2 L1903.5,1147.9 L1904.5,1147.6 L1905.5,1147.3 L1906.5,1147 L1907.5,1146.7 L1908.5,1146.3 L1909.5,1145.9 L1910.5,1145.5 L1911.5,1145.1 L1912.5,1144.6 L1913.5,1144.2 L1914.5,1143.8 L1915.5,1143.3 L1916.5,1142.8 L1917.5,1142.3 L1918.5,1141.6 L1919.5,1140.9 L1920.5,1140.1 L1921.5,1139.3 L1922.5,1138.4 L1923.5,1137.5 L1924.5,1136.7 L1925.5,1135.8 L1926.5,1134.9 L1927.5,1134 L1928.5,1133.1 L1929.5,1132.2 L1930.5,1131.3 L1931.5,1130.3 L1932.5,1129.3 L1933.5,1128.3 L1934.5,1127.3 L1935.5,1126.3 L1936.5,1125.3 L1937.5,1124.3 L1938.5,1123.2 L1939.5,1122.1 L1940.5,1121 L1941.5,1119.7 L1942.5,1118.4 L1943.5,1117.1 L1944.5,1115.7 L1945.5,1114.3 L1946.5,1112.9 L1947.5,1111.5 L1948.5,1110.1 L1949.5,1108.7 L1950.5,1107.2 L1951.5,1105.7 L1952.5,1104.1 L1953.5,1102.6 L1954.5,1101 L1955.5,1099.4 L1956.5,1097.9 L1957.5,1096.3 L1958.5,1094.9 L1959.5,1093.6 L1960.5,1092.5 L1961.5,1091.7 L1962.5,1091 L1963.5,1090.5 L1964.5,1090.1 L1965.5,1089.7 L1966.5,1089.3 L1967.5,1088.9 L1968.5,1088.6 L1969.5,1088.3 L1970.5,1087.9 L1971.5,1087.6 L1972.5,1087.3 L1973.5,1087 L1974.5,1086.7 L1975.5,1086.3 L1976.5,1086 L1977.5,1085.7 L1978.5,1085.4 L1979.5,1085.1 L1980.5,1084.7 L1981.5,1084.4 L1982.5,1084 L1983.5,1083.6 L1984.5,1083.2 L1985.5,1082.8 L1986.5,1082.3 L1987.5,1081.9 L1988.5,1081.4 L1989.5,1081 L1990.5,1080.5 L1991.5,1080.1 L1992.5,1079.6 L1993.5,1079.2 L1994.5,1078.7 L1995.5,1078.3 L1996.5,1077.9 L1997.5,1077.4 L1998.5,1077 L1999.5,1076.5 L2000.5,1076 L2001.5,1075.5 L2002.5,1075 L2003.5,1074.5 L2004.5,1074" fill="none" stroke="#ff0000" stroke-width="5.2" stroke-linejoin="round"/>
<path d="M308.5,1069.2 L309.5,1068.9 L310.5,1068.6 L311.5,1068.3 L312.5,1067.9 L313.5,1067.6 L314.5,1067.2 L315.5,1066.9 L316.5,1066.5 L317.5,1066.2 L318.5,1065.8 L319.5,1065.5 L320.5,1065.1 L321.5,1064.8 L322.5,1064.4 L323.5,1064.1 L324.5,1063.7 L325.5,1063.4 L326.5,1063 L327.5,1062.7 L328.5,1062.3 L329.5,1061.9 L330.5,1061.6 L331.5,1061.2 L332.5,1060.9 L333.5,1060.5 L334.5,1060.2 L335.5,1059.8 L336.5,1059.5 L337.5,1059.1 L338.5,1058.8 L339.5,1058.4 L340.5,1058 L341.5,1057.6 L342.5,1057.2 L343.5,1056.8 L344.5,1056.4 L345.5,1056 L346.5,1055.6 L347.5,1055.3 L348.5,1054.9 L349.5,1054.5 L350.5,1054.1 L351.5,1053.7 L352.5,1053.3 L353.5,1052.9 L354.5,1052.5 L355.5,1052.1 L356.5,1051.7 L357.5,1051.3 L358.5,1050.9 L359.5,1050.5 L360.5,1050.1 L361.5,1049.7 L362.5,1049.4 L363.5,1049 L364.5,1048.6 L365.5,1048.1 L366.5,1047.7 L367.5,1047.2 L368.5,1046.7 L369.5,1046.1 L370.5,1045.6 L371.5,1045 L372.5,1044.4 L373.5,1043.8 L374.5,1043.1 L375.5,1042.4 L376.5,1041.8 L377.5,1041.1 L378.5,1040.4 L379.5,1039.6 L380.5,1038.8 L381.5,1038 L382.5,1037.1 L383.5,1036.2 L384.5,1035.3 L385.5,1034.3 L386.5,1033.4 L387.5,1032.5 L388.5,1031.5 L389.5,1030.6 L390.5,1029.6 L391.5,1028.7 L392.5,1027.7 L393.5,1026.8 L394.5,1025.8 L395.5,1024.9 L396.5,1023.9 L397.5,1023 L398.5,1022 L399.5,1021.1 L400.5,1020.1 L401.5,1019.2 L402.5,1018.2 L403.5,1017.3 L404.5,1016.3 L405.5,1015.4 L406.5,1014.5 L407.5,1013.5 L408.5,1012.6 L409.5,1011.7 L410.5,1010.8 L411.5,1009.9 L412.5,1009 L413.5,1008.1 L414.5,1007.2 L415.5,1006.3 L416.5,1005.4 L417.5,1004.5 L418.5,1003.7 L419.5,1002.8 L420.5,1001.9 L421.5,1001.2 L422.5,1000.4 L423.5,999.7 L424.5,999 L425.5,998.3 L426.5,997.6 L427.5,996.9 L428.5,996.2 L429.5,995.5 L430.5,994.8 L431.5,994.1 L432.5,993.4 L433.5,992.7 L434.5,992 L435.5,991.4 L436.5,990.7 L437.5,990.1 L438.5,989.5 L439.5,989 L440.5,988.4 L441.5,987.8 L442.5,987.2 L443.5,986.7 L444.5,986.1 L445.5,985.5 L446.5,984.9 L447.5,984.4 L448.5,983.8 L449.5,983.3 L450.5,982.9 L451.5,982.6 L452.5,982.2 L453.5,981.9 L454.5,981.7 L455.5,981.4 L456.5,981.1 L457.5,980.9 L458.5,980.6 L459.5,980.3 L460.5,980.1 L461.5,979.9 L462.5,979.8 L463.5,979.6 L464.5,979.5 L465.5,979.3 L466.5,979.2 L467.5,979.1 L468.5,979 L469.5,979 L470.5,978.9 L471.5,978.9 L472.5,978.9 L473.5,978.9 L474.5,978.9 L475.5,978.9 L476.5,978.9 L477.5,978.9 L478.5,978.9 L479.5,979 L480.5,979.1 L481.5,979.1 L482.5,979.2 L483.5,979.3 L484.5,979.4 L485.5,979.5 L486.5,979.7 L487.5,979.8 L488.5,980 L489.5,980.1 L490.5,980.3 L491.5,980.5 L492.5,980.7 L493.5,981 L494.5,981.3 L495.5,981.7 L496.5,982 L497.5,982.4 L498.5,982.8 L499.5,983.1 L500.5,983.5 L501.5,984 L502.5,984.4 L503.5,984.8 L504.5,985.2 L505.5,985.7 L506.5,986.1 L507.5,986.5 L508.5,987 L509.5,987.5 L510.5,988.1 L511.5,988.8 L512.5,989.4 L513.5,990.1 L514.5,990.8 L515.5,991.5 L516.5,992.2 L517.5,992.9 L518.5,993.6 L519.5,994.3 L520.5,995.1 L521.5,995.8 L522.5,996.6 L523.5,997.5 L524.5,998.4 L525.5,999.3 L526.5,1000.2 L527.5,1001.2 L528.5,1002.1 L529.5,1003 L530.5,1004 L531.5,1004.9 L532.5,1005.9 L533.5,1006.8 L534.5,1007.8 L535.5,1008.7 L536.5,1009.7 L537.5,1010.6 L538.5,1011.6 L539.5,1012.6 L540.5,1013.5 L541.5,1014.5 L542.5,1015.4 L543.5,1016.2 L544.5,1016.8 L545.5,1017.3 L546.5,1017.6 L547.5,1017.8 L548.5,1018 L549.5,1018.2 L550.5,1018.3 L551.5,1018.5 L552.5,1018.6 L553.5,1018.8 L554.5,1018.9 L555.5,1019 L556.5,1019.2 L557.5,1019.3 L558.5,1019.5 L559.5,1019.6 L560.5,1019.8 L561.5,1020 L562.5,1020.3 L563.5,1020.5 L564.5,1020.7 L565.5,1020.9 L566.5,1021.2 L567.5,1021.4 L568.5,1021.6 L569.5,1021.9 L570.5,1022.1 L571.5,1022.3 L572.5,1022.6 L573.5,1022.8 L574.5,1023.1 L575.5,1023.4 L576.5,1023.7 L577.5,1023.9 L578.5,1024.2 L579.5,1024.5 L580.5,1024.8 L581.5,1025.1 L582.5,1025.4 L583.5,1025.7 L584.5,1026 L585.5,1026.3 L586.5,1026.6 L587.5,1026.9 L588.5,1027.2 L589.5,1027.5 L590.5,1027.9 L591.5,1028.2 L592.5,1028.5 L593.5,1028.8 L594.5,1029.2 L595.5,1029.5 L596.5,1029.9 L597.5,1030.2 L598.5,1030.6 L599.5,1030.9 L600.5,1031.3 L601.5,1031.6 L602.5,1032 L603.5,1032.3 L604.5,1032.7 L605.5,1033 L606.5,1033.4 L607.5,1033.8 L608.5,1034.1 L609.5,1034.5 L610.5,1034.8 L611.5,1035.2 L612.5,1035.5 L613.5,1035.9 L614.5,1036.2 L615.5,1036.6 L616.5,1036.9 L617.5,1037.3 L618.5,1037.6 L619.5,1038 L620.5,1038.3 L621.5,1038.7 L622.5,1039.1 L623.5,1039.5 L624.5,1039.9 L625.5,1040.3 L626.5,1040.7 L627.5,1041.1 L628.5,1041.5 L629.5,1041.9 L630.5,1042.3 L631.5,1042.7 L632.5,1043.1 L633.5,1043.5 L634.5,1043.9 L635.5,1044.3 L636.5,1044.6 L637.5,1045 L638.5,1045.4 L639.5,1045.8 L640.5,1046.2 L641.5,1046.6 L642.5,1047 L643.5,1047.4 L644.5,1047.8 L645.5,1048.2 L646.5,1048.6 L647.5,1049 L648.5,1049.5 L649.5,1050 L650.5,1050.5 L651.5,1051 L652.5,1051.6 L653.5,1052.2 L654.5,1052.8 L655.5,1053.4 L656.5,1054.1 L657.5,1054.8 L658.5,1055.4 L659.5,1056.1 L660.5,1056.8 L661.5,1057.6 L662.5,1058.4 L663.5,1059.3 L664.5,1060.2 L665.5,1061.1 L666.5,1062 L667.5,1063 L668.5,1063.9 L669.5,1064.8 L670.5,1065.8 L671.5,1066.7 L672.5,1067.6 L673.5,1068.6 L674.5,1069.5 L675.5,1070.5 L676.5,1071.4 L677.5,1072.4 L678.5,1073.3 L679.5,1074.3 L680.5,1075.2 L681.5,1076.2 L682.5,1077.2 L683.5,1078.1 L684.5,1079.1 L685.5,1080 L686.5,1081 L687.5,1081.9 L688.5,1082.8 L689.5,1083.7 L690.5,1084.6 L691.5,1085.5 L692.5,1086.4 L693.5,1087.3 L694.5,1088.2 L695.5,1089.1 L696.5,1090 L697.5,1090.9 L698.5,1091.8 L699.5,1092.7 L700.5,1093.6 L701.5,1094.5 L702.5,1095.3 L703.5,1096.1 L704.5,1096.8 L705.5,1097.5 L706.5,1098.2 L707.5,1098.9 L708.5,1099.6 L709.5,1100.3 L710.5,1101 L711.5,1101.7 L712.5,1102.4 L713.5,1103.1 L714.5,1103.8 L715.5,1104.5 L716.5,1105.2 L717.5,1105.8 L718.5,1106.4 L719.5,1107 L720.5,1107.6 L721.5,1108.2 L722.5,1108.8 L723.5,1109.4 L724.5,1109.9 L725.5,1110.5 L726.5,1111.1 L727.5,1111.7 L728.5,1112.2 L729.5,1112.8 L730.5,1113.3 L731.5,1113.8 L732.5,1114.2 L733.5,1114.5 L734.5,1114.9 L735.5,1115.1 L736.5,1115.4 L737.5,1115.7 L738.5,1116 L739.5,1116.2 L740.5,1116.5 L741.5,1116.7 L742.5,1116.9 L743.5,1117.1 L744.5,1117.3 L745.5,1117.4 L746.5,1117.6 L747.5,1117.7 L748.5,1117.8 L749.5,1117.9 L750.5,1118 L751.5,1118 L752.5,1118.1 L753.5,1118.1 L754.5,1118.1 L755.5,1118.1 L756.5,1118.1 L757.5,1118.1 L758.5,1118.1 L759.5,1118.1 L760.5,1118 L761.5,1118 L762.5,1117.9 L763.5,1117.8 L764.5,1117.8 L765.5,1117.7 L766.5,1117.6 L767.5,1117.4 L768.5,1117.3 L769.5,1117.1 L770.5,1117 L771.5,1116.8 L772.5,1116.7 L773.5,1116.5 L774.5,1116.2 L775.5,1115.9 L776.5,1115.6 L777.5,1115.2 L778.5,1114.9 L779.5,1114.5 L780.5,1114.1 L781.5,1113.7 L782.5,1113.3 L783.5,1112.9 L784.5,1112.5 L785.5,1112.1 L786.5,1111.6 L787.5,1111.2 L788.5,1110.8 L789.5,1110.3 L790.5,1109.8 L791.5,1109.3 L792.5,1108.7 L793.5,1108 L794.5,1107.4 L795.5,1106.7 L796.5,1106 L797.5,1105.3 L798.5,1104.6 L799.5,1103.9 L800.5,1103.2 L801.5,1102.5 L802.5,1101.7 L803.5,1101 L804.5,1100.1 L805.5,1099.3 L806.5,1098.3 L807.5,1097.4 L808.5,1096.5 L809.5,1095.6 L810.5,1094.6 L811.5,1093.7 L812.5,1092.7 L813.5,1091.8 L814.5,1090.9 L815.5,1089.9 L816.5,1088.9 L817.5,1088 L818.5,1087 L819.5,1086.1 L820.5,1085.1 L821.5,1084.1 L822.5,1083.2 L823.5,1082.3 L824.5,1081.4 L825.5,1080.6 L826.5,1080.1 L827.5,1079.6 L828.5,1079.3 L829.5,1079.1 L830.5,1079 L831.5,1078.8 L832.5,1078.6 L833.5,1078.5 L834.5,1078.3 L835.5,1078.2 L836.5,1078.1 L837.5,1077.9 L838.5,1077.8 L839.5,1077.7 L840.5,1077.5 L841.5,1077.3 L842.5,1077.1 L843.5,1076.9 L844.5,1076.7 L845.5,1076.4 L846.5,1076.2 L847.5,1076 L848.5,1075.8 L849.5,1075.5 L850.5,1075.3 L851.5,1075.1 L852.5,1074.8 L853.5,1074.6 L854.5,1074.4 L855.5,1074.1 L856.5,1073.8 L857.5,1073.6 L858.5,1073.3 L859.5,1073 L860.5,1072.7 L861.5,1072.4 L862.5,1072.1 L863.5,1071.8 L864.5,1071.5 L865.5,1071.2 L866.5,1070.9 L867.5,1070.6 L868.5,1070.3 L869.5,1070 L870.5,1069.7 L871.5,1069.4 L872.5,1069.1 L873.5,1068.7 L874.5,1068.4 L875.5,1068.1 L876.5,1067.7 L877.5,1067.4 L878.5,1067 L879.5,1066.7 L880.5,1066.3 L881.5,1066 L882.5,1065.6 L883.5,1065.3 L884.5,1064.9 L885.5,1064.5 L886.5,1064.2 L887.5,1063.8 L888.5,1063.5 L889.5,1063.1 L890.5,1062.8 L891.5,1062.4 L892.5,1062.1 L893.5,1061.7 L894.5,1061.4 L895.5,1061 L896.5,1060.7 L897.5,1060.3 L898.5,1060 L899.5,1059.6 L900.5,1059.3 L901.5,1058.9 L902.5,1058.6 L903.5,1058.2 L904.5,1057.8 L905.5,1057.4 L906.5,1057 L907.5,1056.6 L908.5,1056.2 L909.5,1055.8 L910.5,1055.4 L911.5,1055 L912.5,1054.6 L913.5,1054.2 L914.5,1053.8 L915.5,1053.4 L916.5,1053 L917.5,1052.6 L918.5,1052.2 L919.5,1051.8 L920.5,1051.5 L921.5,1051.1 L922.5,1050.7 L923.5,1050.3 L924.5,1049.9 L925.5,1049.5 L926.5,1049.1 L927.5,1048.7 L928.5,1048.3 L929.5,1047.8 L930.5,1047.4 L931.5,1046.9 L932.5,1046.3 L933.5,1045.8 L934.5,1045.2 L935.5,1044.6 L936.5,1044 L937.5,1043.4 L938.5,1042.7 L939.5,1042 L940.5,1041.4 L941.5,1040.7 L942.5,1039.9 L943.5,1039.2 L944.5,1038.3 L945.5,1037.5 L946.5,1036.6 L947.5,1035.6 L948.5,1034.7 L949.5,1033.8 L950.5,1032.8 L951.5,1031.9 L952.5,1031 L953.5,1030 L954.5,1029.1 L955.5,1028.1 L956.5,1027.2 L957.5,1026.2 L958.5,1025.3 L959.5,1024.3 L960.5,1023.4 L961.5,1022.4 L962.5,1021.5 L963.5,1020.5 L964.5,1019.6 L965.5,1018.6 L966.5,1017.7 L967.5,1016.7 L968.5,1015.8 L969.5,1014.8 L970.5,1013.9 L971.5,1013 L972.5,1012.1 L973.5,1011.2 L974.5,1010.3 L975.5,1009.4 L976.5,1008.5 L977.5,1007.6 L978.5,1006.7 L979.5,1005.8 L980.5,1004.9 L981.5,1004 L982.5,1003.1 L983.5,1002.3 L984.5,1001.5 L985.5,1000.7 L986.5,1000 L987.5,999.2 L988.5,998.5 L989.5,997.9 L990.5,997.2 L991.5,996.5 L992.5,995.8 L993.5,995.1 L994.5,994.4 L995.5,993.7 L996.5,993 L997.5,992.3 L998.5,991.6 L999.5,991 L1000.5,990.4 L1001.5,989.8 L1002.5,989.2 L1003.5,988.6 L1004.5,988 L1005.5,987.5 L1006.5,986.9 L1007.5,986.3 L1008.5,985.7 L1009.5,985.2 L1010.5,984.6 L1011.5,984 L1012.5,983.5 L1013.5,983.1 L1014.5,982.7 L1015.5,982.4 L1016.5,982.1 L1017.5,981.8 L1018.5,981.5 L1019.5,981.2 L1020.5,981 L1021.5,980.7 L1022.5,980.4 L1023.5,980.2 L1024.5,980 L1025.5,979.8 L1026.5,979.7 L1027.5,979.5 L1028.5,979.4 L1029.5,979.3 L1030.5,979.2 L1031.5,979.1 L1032.5,979 L1033.5,979 L1034.5,978.9 L1035.5,978.9 L1036.5,978.9 L1037.5,978.9 L1038.5,978.9 L1039.5,978.9 L1040.5,978.9 L1041.5,978.9 L1042.5,979 L1043.5,979 L1044.5,979.1 L1045.5,979.2 L1046.5,979.3 L1047.5,979.4 L1048.5,979.5 L1049.5,979.6 L1050.5,979.8 L1051.5,979.9 L1052.5,980 L1053.5,980.2 L1054.5,980.4 L1055.5,980.6 L1056.5,980.9 L1057.5,981.2 L1058.5,981.5 L1059.5,981.9 L1060.5,982.2 L1061.5,982.6 L1062.5,983 L1063.5,983.4 L1064.5,983.8 L1065.5,984.2 L1066.5,984.6 L1067.5,985.1 L1068.5,985.5 L1069.5,985.9 L1070.5,986.4 L1071.5,986.8 L1072.5,987.3 L1073.5,987.9 L1074.5,988.5 L1075.5,989.2 L1076.5,989.8 L1077.5,990.5 L1078.5,991.2 L1079.5,991.9 L1080.5,992.6 L1081.5,993.3 L1082.5,994 L1083.5,994.8 L1084.5,995.5 L1085.5,996.3 L1086.5,997.1 L1087.5,998 L1088.5,998.9 L1089.5,999.9 L1090.5,1000.8 L1091.5,1001.7 L1092.5,1002.7 L1093.5,1003.6 L1094.5,1004.5 L1095.5,1005.5 L1096.5,1006.4 L1097.5,1007.4 L1098.5,1008.3 L1099.5,1009.3 L1100.5,1010.3 L1101.5,1011.2 L1102.5,1012.2 L1103.5,1013.2 L1104.5,1014.1 L1105.5,1015 L1106.5,1015.8 L1107.5,1016.5 L1108.5,1017.1 L1109.5,1017.5 L1110.5,1017.7 L1111.5,1017.9 L1112.5,1018.1 L1113.5,1018.3 L1114.5,1018.4 L1115.5,1018.6 L1116.5,1018.7 L1117.5,1018.9 L1118.5,1019 L1119.5,1019.1 L1120.5,1019.2 L1121.5,1019.4 L1122.5,1019.6 L1123.5,1019.7 L1124.5,1020 L1125.5,1020.2 L1126.5,1020.4 L1127.5,1020.6 L1128.5,1020.9 L1129.5,1021.1 L1130.5,1021.3 L1131.5,1021.5 L1132.5,1021.8 L1133.5,1022 L1134.5,1022.2 L1135.5,1022.5 L1136.5,1022.7 L1137.5,1023 L1138.5,1023.3 L1139.5,1023.5 L1140.5,1023.8 L1141.5,1024.1 L1142.5,1024.4 L1143.5,1024.7 L1144.5,1025 L1145.5,1025.3 L1146.5,1025.6 L1147.5,1025.9 L1148.5,1026.2 L1149.5,1026.5 L1150.5,1026.8 L1151.5,1027.1 L1152.5,1027.4 L1153.5,1027.7 L1154.5,1028 L1155.5,1028.4 L1156.5,1028.7 L1157.5,1029 L1158.5,1029.4 L1159.5,1029.7 L1160.5,1030.1 L1161.5,1030.4 L1162.5,1030.8 L1163.5,1031.2 L1164.5,1031.5 L1165.5,1031.9 L1166.5,1032.2 L1167.5,1032.6 L1168.5,1032.9 L1169.5,1033.3 L1170.5,1033.6 L1171.5,1034 L1172.5,1034.3 L1173.5,1034.7 L1174.5,1035 L1175.5,1035.4 L1176.5,1035.7 L1177.5,1036.1 L1178.5,1036.4 L1179.5,1036.8 L1180.5,1037.1 L1181.5,1037.5 L1182.5,1037.8 L1183.5,1038.2 L1184.5,1038.6 L1185.5,1038.9 L1186.5,1039.3 L1187.5,1039.7 L1188.5,1040.1 L1189.5,1040.5 L1190.5,1040.9 L1191.5,1041.3 L1192.5,1041.7 L1193.5,1042.1 L1194.5,1042.5 L1195.5,1042.9 L1196.5,1043.3 L1197.5,1043.7 L1198.5,1044.1 L1199.5,1044.5 L1200.5,1044.9 L1201.5,1045.3 L1202.5,1045.7 L1203.5,1046.1 L1204.5,1046.4 L1205.5,1046.8 L1206.5,1047.2 L1207.5,1047.6 L1208.5,1048 L1209.5,1048.4 L1210.5,1048.8 L1211.5,1049.3 L1212.5,1049.8 L1213.5,1050.3 L1214.5,1050.8 L1215.5,1051.4 L1216.5,1051.9 L1217.5,1052.5 L1218.5,1053.2 L1219.5,1053.8 L1220.5,1054.5 L1221.5,1055.2 L1222.5,1055.9 L1223.5,1056.6 L1224.5,1057.3 L1225.5,1058.1 L1226.5,1058.9 L1227.5,1059.8 L1228.5,1060.7 L1229.5,1061.6 L1230.5,1062.6 L1231.5,1063.5 L1232.5,1064.5 L1233.5,1065.4 L1234.5,1066.3 L1235.5,1067.3 L1236.5,1068.2 L1237.5,1069.2 L1238.5,1070.1 L1239.5,1071.1 L1240.5,1072 L1241.5,1073 L1242.5,1073.9 L1243.5,1074.9 L1244.5,1075.8 L1245.5,1076.8 L1246.5,1077.7 L1247.5,1078.7 L1248.5,1079.6 L1249.5,1080.6 L1250.5,1081.5 L1251.5,1082.4 L1252.5,1083.4 L1253.5,1084.3 L1254.5,1085.2 L1255.5,1086.1 L1256.5,1087 L1257.5,1087.9 L1258.5,1088.8 L1259.5,1089.7 L1260.5,1090.6 L1261.5,1091.5 L1262.5,1092.4 L1263.5,1093.3 L1264.5,1094.1 L1265.5,1095 L1266.5,1095.8 L1267.5,1096.5 L1268.5,1097.3 L1269.5,1098 L1270.5,1098.7 L1271.5,1099.4 L1272.5,1100.1 L1273.5,1100.7 L1274.5,1101.4 L1275.5,1102.1 L1276.5,1102.8 L1277.5,1103.5 L1278.5,1104.2 L1279.5,1104.9 L1280.5,1105.6 L1281.5,1106.2 L1282.5,1106.8 L1283.5,1107.4 L1284.5,1108 L1285.5,1108.6 L1286.5,1109.1 L1287.5,1109.7 L1288.5,1110.3 L1289.5,1110.9 L1290.5,1111.4 L1291.5,1112 L1292.5,1112.6 L1293.5,1113.1 L1294.5,1113.6 L1295.5,1114 L1296.5,1114.4 L1297.5,1114.7 L1298.5,1115 L1299.5,1115.3 L1300.5,1115.6 L1301.5,1115.9 L1302.5,1116.1 L1303.5,1116.4 L1304.5,1116.6 L1305.5,1116.9 L1306.5,1117.1 L1307.5,1117.2 L1308.5,1117.4 L1309.5,1117.5 L1310.5,1117.6 L1311.5,1117.8 L1312.5,1117.9 L1313.5,1117.9 L1314.5,1118 L1315.5,1118 L1316.5,1118.1 L1317.5,1118.1 L1318.5,1118.1 L1319.5,1118.1 L1320.5,1118.1 L1321.5,1118.1 L1322.5,1118.1 L1323.5,1118.1 L1324.5,1118 L1325.5,1117.9 L1326.5,1117.9 L1327.5,1117.8 L1328.5,1117.7 L1329.5,1117.6 L1330.5,1117.5 L1331.5,1117.3 L1332.5,1117.2 L1333.5,1117.1 L1334.5,1116.9 L1335.5,1116.7 L1336.5,1116.6 L1337.5,1116.3 L1338.5,1116 L1339.5,1115.7 L1340.5,1115.4 L1341.5,1115 L1342.5,1114.6 L1343.5,1114.3 L1344.5,1113.9 L1345.5,1113.5 L1346.5,1113.1 L1347.5,1112.7 L1348.5,1112.2 L1349.5,1111.8 L1350.5,1111.4 L1351.5,1111 L1352.5,1110.5 L1353.5,1110 L1354.5,1109.5 L1355.5,1108.9 L1356.5,1108.3 L1357.5,1107.6 L1358.5,1106.9 L1359.5,1106.2 L1360.5,1105.5 L1361.5,1104.9 L1362.5,1104.2 L1363.5,1103.5 L1364.5,1102.7 L1365.5,1102 L1366.5,1101.3 L1367.5,1100.5 L1368.5,1099.6 L1369.5,1098.7 L1370.5,1097.8 L1371.5,1096.9 L1372.5,1095.9 L1373.5,1095 L1374.5,1094.1 L1375.5,1093.1 L1376.5,1092.2 L1377.5,1091.2 L1378.5,1090.3 L1379.5,1089.3 L1380.5,1088.4 L1381.5,1087.4 L1382.5,1086.4 L1383.5,1085.5 L1384.5,1084.5 L1385.5,1083.6 L1386.5,1082.6 L1387.5,1081.7 L1388.5,1080.9 L1389.5,1080.3 L1390.5,1079.8 L1391.5,1079.5 L1392.5,1079.2 L1393.5,1079 L1394.5,1078.8 L1395.5,1078.7 L1396.5,1078.5 L1397.5,1078.4 L1398.5,1078.2 L1399.5,1078.1 L1400.5,1078 L1401.5,1077.8 L1402.5,1077.7 L1403.5,1077.6 L1404.5,1077.4 L1405.5,1077.2 L1406.5,1077 L1407.5,1076.8 L1408.5,1076.5 L1409.5,1076.3 L1410.5,1076.1 L1411.5,1075.8 L1412.5,1075.6 L1413.5,1075.4 L1414.5,1075.2 L1415.5,1074.9 L1416.5,1074.7 L1417.5,1074.5 L1418.5,1074.2 L1419.5,1073.9 L1420.5,1073.7 L1421.5,1073.4 L1422.5,1073.1 L1423.5,1072.8 L1424.5,1072.5 L1425.5,1072.2 L1426.5,1071.9 L1427.5,1071.6 L1428.5,1071.3 L1429.5,1071 L1430.5,1070.7 L1431.5,1070.4 L1432.5,1070.1 L1433.5,1069.8 L1434.5,1069.5 L1435.5,1069.2 L1436.5,1068.9 L1437.5,1068.5 L1438.5,1068.2 L1439.5,1067.8 L1440.5,1067.5 L1441.5,1067.1 L1442.5,1066.8 L1443.5,1066.4 L1444.5,1066.1 L1445.5,1065.7 L1446.5,1065.4 L1447.5,1065 L1448.5,1064.7 L1449.5,1064.3 L1450.5,1064 L1451.5,1063.6 L1452.5,1063.3 L1453.5,1062.9 L1454.5,1062.6 L1455.5,1062.2 L1456.5,1061.9 L1457.5,1061.5 L1458.5,1061.2 L1459.5,1060.8 L1460.5,1060.5 L1461.5,1060.1 L1462.5,1059.8 L1463.5,1059.4 L1464.5,1059.1 L1465.5,1058.7 L1466.5,1058.3 L1467.5,1057.9 L1468.5,1057.6 L1469.5,1057.2 L1470.5,1056.8 L1471.5,1056.4 L1472.5,1056 L1473.5,1055.6 L1474.5,1055.2 L1475.5,1054.8 L1476.5,1054.4 L1477.5,1054 L1478.5,1053.6 L1479.5,1053.2 L1480.5,1052.8 L1481.5,1052.4 L1482.5,1052 L1483.5,1051.6 L1484.5,1051.2 L1485.5,1050.8 L1486.5,1050.4 L1487.5,1050.1 L1488.5,1049.7 L1489.5,1049.3 L1490.5,1048.9 L1491.5,1048.5 L1492.5,1048 L1493.5,1047.6 L1494.5,1047.1 L1495.5,1046.5 L1496.5,1046 L1497.5,1045.5 L1498.5,1044.9 L1499.5,1044.3 L1500.5,1043.6 L1501.5,1043 L1502.5,1042.3 L1503.5,1041.6 L1504.5,1040.9 L1505.5,1040.2 L1506.5,1039.5 L1507.5,1038.7 L1508.5,1037.8 L1509.5,1036.9 L1510.5,1036 L1511.5,1035.1 L1512.5,1034.1 L1513.5,1033.2 L1514.5,1032.3 L1515.5,1031.3 L1516.5,1030.4 L1517.5,1029.4 L1518.5,1028.5 L1519.5,1027.6 L1520.5,1026.6 L1521.5,1025.7 L1522.5,1024.7 L1523.5,1023.8 L1524.5,1022.8 L1525.5,1021.8 L1526.5,1020.9 L1527.5,1019.9 L1528.5,1019 L1529.5,1018 L1530.5,1017.1 L1531.5,1016.1 L1532.5,1015.2 L1533.5,1014.3 L1534.5,1013.4 L1535.5,1012.5 L1536.5,1011.6 L1537.5,1010.7 L1538.5,1009.8 L1539.5,1008.9 L1540.5,1008 L1541.5,1007.1 L1542.5,1006.2 L1543.5,1005.3 L1544.5,1004.4 L1545.5,1003.5 L1546.5,1002.6 L1547.5,1001.8 L1548.5,1001 L1549.5,1000.3 L1550.5,999.5 L1551.5,998.8 L1552.5,998.1 L1553.5,997.4 L1554.5,996.7 L1555.5,996 L1556.5,995.3 L1557.5,994.6 L1558.5,994 L1559.5,993.3 L1560.5,992.6 L1561.5,991.9 L1562.5,991.2 L1563.5,990.6 L1564.5,990 L1565.5,989.4 L1566.5,988.8 L1567.5,988.3 L1568.5,987.7 L1569.5,987.1 L1570.5,986.5 L1571.5,986 L1572.5,985.4 L1573.5,984.8 L1574.5,984.3 L1575.5,983.7 L1576.5,983.2 L1577.5,982.8 L1578.5,982.5 L1579.5,982.2 L1580.5,981.9 L1581.5,981.6 L1582.5,981.3 L1583.5,981.1 L1584.5,980.8 L1585.5,980.5 L1586.5,980.3 L1587.5,980.1 L1588.5,979.9 L1589.5,979.7 L1590.5,979.6 L1591.5,979.4 L1592.5,979.3 L1593.5,979.2 L1594.5,979.1 L1595.5,979 L1596.5,979 L1597.5,978.9 L1598.5,978.9 L1599.5,978.9 L1600.5,978.9 L1601.5,978.9 L1602.5,978.9 L1603.5,978.9 L1604.5,978.9 L1605.5,979 L1606.5,979 L1607.5,979.1 L1608.5,979.2 L1609.5,979.2 L1610.5,979.3 L1611.5,979.4 L1612.5,979.6 L1613.5,979.7 L1614.5,979.8 L1615.5,980 L1616.5,980.1 L1617.5,980.3 L1618.5,980.5 L1619.5,980.8 L1620.5,981.1 L1621.5,981.4 L1622.5,981.7 L1623.5,982.1 L1624.5,982.5 L1625.5,982.8 L1626.5,983.2 L1627.5,983.6 L1628.5,984 L1629.5,984.5 L1630.5,984.9 L1631.5,985.3 L1632.5,985.7 L1633.5,986.2 L1634.5,986.6 L1635.5,987.1 L1636.5,987.7 L1637.5,988.3 L1638.5,988.9 L1639.5,989.6 L1640.5,990.3 L1641.5,991 L1642.5,991.7 L1643.5,992.4 L1644.5,993.1 L1645.5,993.8 L1646.5,994.5 L1647.5,995.2 L1648.5,996 L1649.5,996.8 L1650.5,997.7 L1651.5,998.6 L1652.5,999.5 L1653.5,1000.4 L1654.5,1001.4 L1655.5,1002.3 L1656.5,1003.2 L1657.5,1004.2 L1658.5,1005.1 L1659.5,1006.1 L1660.5,1007 L1661.5,1008 L1662.5,1008.9 L1663.5,1009.9 L1664.5,1010.8 L1665.5,1011.8 L1666.5,1012.8 L1667.5,1013.7 L1668.5,1014.7 L1669.5,1015.5 L1670.5,1016.3 L1671.5,1016.9 L1672.5,1017.3 L1673.5,1017.6 L1674.5,1017.8 L1675.5,1018 L1676.5,1018.2 L1677.5,1018.4 L1678.5,1018.5 L1679.5,1018.7 L1680.5,1018.8 L1681.5,1018.9 L1682.5,1019.1 L1683.5,1019.2 L1684.5,1019.3 L1685.5,1019.5 L1686.5,1019.7 L1687.5,1019.9 L1688.5,1020.1 L1689.5,1020.3 L1690.5,1020.5 L1691.5,1020.8 L1692.5,1021 L1693.5,1021.2 L1694.5,1021.5 L1695.5,1021.7 L1696.5,1021.9 L1697.5,1022.1 L1698.5,1022.4 L1699.5,1022.6 L1700.5,1022.9 L1701.5,1023.1 L1702.5,1023.4 L1703.5,1023.7 L1704.5,1024 L1705.5,1024.3 L1706.5,1024.6 L1707.5,1024.9 L1708.5,1025.2 L1709.5,1025.5 L1710.5,1025.8 L1711.5,1026.1 L1712.5,1026.4 L1713.5,1026.7 L1714.5,1027 L1715.5,1027.3 L1716.5,1027.6 L1717.5,1027.9 L1718.5,1028.2 L1719.5,1028.6 L1720.5,1028.9 L1721.5,1029.3 L1722.5,1029.6 L1723.5,1030 L1724.5,1030.3 L1725.5,1030.7 L1726.5,1031 L1727.5,1031.4 L1728.5,1031.7 L1729.5,1032.1 L1730.5,1032.4 L1731.5,1032.8 L1732.5,1033.1 L1733.5,1033.5 L1734.5,1033.8 L1735.5,1034.2 L1736.5,1034.5 L1737.5,1034.9 L1738.5,1035.2 L1739.5,1035.6 L1740.5,1035.9 L1741.5,1036.3 L1742.5,1036.6 L1743.5,1037 L1744.5,1037.3 L1745.5,1037.7 L1746.5,1038 L1747.5,1038.4 L1748.5,1038.8 L1749.5,1039.2 L1750.5,1039.6 L1751.5,1040 L1752.5,1040.4 L1753.5,1040.8 L1754.5,1041.2 L1755.5,1041.5 L1756.5,1041.9 L1757.5,1042.3 L1758.5,1042.7 L1759.5,1043.1 L1760.5,1043.5 L1761.5,1043.9 L1762.5,1044.3 L1763.5,1044.7 L1764.5,1045.1 L1765.5,1045.5 L1766.5,1045.9 L1767.5,1046.3 L1768.5,1046.7 L1769.5,1047.1 L1770.5,1047.4 L1771.5,1047.8 L1772.5,1048.2 L1773.5,1048.7 L1774.5,1049.1 L1775.5,1049.6 L1776.5,1050.1 L1777.5,1050.6 L1778.5,1051.2 L1779.5,1051.7 L1780.5,1052.3 L1781.5,1052.9 L1782.5,1053.6 L1783.5,1054.2 L1784.5,1054.9 L1785.5,1055.6 L1786.5,1056.3 L1787.5,1057 L1788.5,1057.7 L1789.5,1058.6 L1790.5,1059.4 L1791.5,1060.3 L1792.5,1061.3 L1793.5,1062.2 L1794.5,1063.1 L1795.5,1064.1 L1796.5,1065 L1797.5,1066 L1798.5,1066.9 L1799.5,1067.8 L1800.5,1068.8 L1801.5,1069.7 L1802.5,1070.7 L1803.5,1071.6 L1804.5,1072.6 L1805.5,1073.5 L1806.5,1074.5 L1807.5,1075.4 L1808.5,1076.4 L1809.5,1077.3 L1810.5,1078.3 L1811.5,1079.2 L1812.5,1080.2 L1813.5,1081.1 L1814.5,1082.1 L1815.5,1083 L1816.5,1083.9 L1817.5,1084.8 L1818.5,1085.7 L1819.5,1086.6 L1820.5,1087.5 L1821.5,1088.4 L1822.5,1089.3 L1823.5,1090.2 L1824.5,1091.1 L1825.5,1092 L1826.5,1092.9 L1827.5,1093.8 L1828.5,1094.6 L1829.5,1095.5 L1830.5,1096.2 L1831.5,1097 L1832.5,1097.7 L1833.5,1098.4 L1834.5,1099.1 L1835.5,1099.8 L1836.5,1100.5 L1837.5,1101.2 L1838.5,1101.9 L1839.5,1102.6 L1840.5,1103.3 L1841.5,1103.9 L1842.5,1104.6 L1843.5,1105.3 L1844.5,1105.9 L1845.5,1106.6 L1846.5,1107.2 L1847.5,1107.7 L1848.5,1108.3 L1849.5,1108.9 L1850.5,1109.5 L1851.5,1110.1 L1852.5,1110.6 L1853.5,1111.2 L1854.5,1111.8 L1855.5,1112.4 L1856.5,1112.9 L1857.5,1113.4 L1858.5,1113.9 L1859.5,1114.3 L1860.5,1114.6 L1861.5,1114.9 L1862.5,1115.2 L1863.5,1115.5 L1864.5,1115.7 L1865.5,1116 L1866.5,1116.3 L1867.5,1116.5 L1868.5,1116.8 L1869.5,1117 L1870.5,1117.2 L1871.5,1117.3 L1872.5,1117.5 L1873.5,1117.6 L1874.5,1117.7 L1875.5,1117.8 L1876.5,1117.9 L1877.5,1118 L1878.5,1118 L1879.5,1118.1 L1880.5,1118.1 L1881.5,1118.1 L1882.5,1118.1 L1883.5,1118.1 L1884.5,1118.1 L1885.5,1118.1 L1886.5,1118.1 L1887.5,1118 L1888.5,1118 L1889.5,1117.9 L1890.5,1117.8 L1891.5,1117.7 L1892.5,1117.6 L1893.5,1117.5 L1894.5,1117.4 L1895.5,1117.3 L1896.5,1117.1 L1897.5,1117 L1898.5,1116.8 L1899.5,1116.6 L1900.5,1116.4 L1901.5,1116.2 L1902.5,1115.8 L1903.5,1115.5 L1904.5,1115.2 L1905.5,1114.8 L1906.5,1114.4 L1907.5,1114 L1908.5,1113.7 L1909.5,1113.3 L1910.5,1112.8 L1911.5,1112.4 L1912.5,1112 L1913.5,1111.6 L1914.5,1111.1 L1915.5,1110.7 L1916.5,1110.2 L1917.5,1109.7 L1918.5,1109.2 L1919.5,1108.6 L1920.5,1107.9 L1921.5,1107.2 L1922.5,1106.5 L1923.5,1105.8 L1924.5,1105.1 L1925.5,1104.4 L1926.5,1103.7 L1927.5,1103 L1928.5,1102.3 L1929.5,1101.6 L1930.5,1100.8 L1931.5,1100 L1932.5,1099.1 L1933.5,1098.2 L1934.5,1097.2 L1935.5,1096.3 L1936.5,1095.4 L1937.5,1094.4 L1938.5,1093.5 L1939.5,1092.6 L1940.5,1091.6 L1941.5,1090.7 L1942.5,1089.7 L1943.5,1088.8 L1944.5,1087.8 L1945.5,1086.8 L1946.5,1085.9 L1947.5,1084.9 L1948.5,1083.9 L1949.5,1083 L1950.5,1082.1 L1951.5,1081.2 L1952.5,1080.5 L1953.5,1080 L1954.5,1079.6 L1955.5,1079.3 L1956.5,1079.1 L1957.5,1078.9 L1958.5,1078.7 L1959.5,1078.6 L1960.5,1078.4 L1961.5,1078.3 L1962.5,1078.2 L1963.5,1078 L1964.5,1077.9 L1965.5,1077.8 L1966.5,1077.6 L1967.5,1077.5 L1968.5,1077.3 L1969.5,1077.1 L1970.5,1076.9 L1971.5,1076.6 L1972.5,1076.4 L1973.5,1076.2 L1974.5,1075.9 L1975.5,1075.7 L1976.5,1075.5 L1977.5,1075.2 L1978.5,1075 L1979.5,1074.8 L1980.5,1074.6 L1981.5,1074.3 L1982.5,1074 L1983.5,1073.8 L1984.5,1073.5 L1985.5,1073.2 L1986.5,1072.9 L1987.5,1072.6 L1988.5,1072.3 L1989.5,1072 L1990.5,1071.7 L1991.5,1071.4 L1992.5,1071.1 L1993.5,1070.8 L1994.5,1070.5 L1995.5,1070.2 L1996.5,1069.9 L1997.5,1069.6 L1998.5,1069.3 L1999.5,1069 L2000.5,1068.7 L2001.5,1068.3 L2002.5,1068 L2003.5,1067.6 L2004.5,1067.3" fill="none" stroke="#0000ff" stroke-width="5.2" stroke-linejoin="round"/>
</g>
<g clip-path="url(#c4)">
<path d="M308.5,1341.5 L309.5,1341.4 L310.5,1341.3 L311.5,1341.2 L312.5,1341.8 L313.5,1341.2 L314.5,1341.3 L315.5,1341.9 L316.5,1341.8 L317.5,1342.5 L318.5,1341.6 L319.5,1340.9 L320.5,1342 L321.5,1342.3 L322.5,1341.8 L323.5,1342.5 L324.5,1342.7 L325.5,1341.7 L326.5,1341.8 L327.5,1341.6 L328.5,1342.5 L329.5,1342.7 L330.5,1342.7 L331.5,1342.1 L332.5,1342.4 L333.5,1342.3 L334.5,1342.4 L335.5,1342.6 L336.5,1342.6 L337.5,1343.3 L338.5,1343.6 L339.5,1343.8 L340.5,1343.6 L341.5,1343.3 L342.5,1343.6 L343.5,1343.8 L344.5,1343.4 L345.5,1343.5 L346.5,1343.3 L347.5,1343.1 L348.5,1343.2 L349.5,1342.6 L350.5,1343.4 L351.5,1342.2 L352.5,1342.9 L353.5,1342 L354.5,1343.1 L355.5,1342.7 L356.5,1341.8 L357.5,1341.8 L358.5,1341.4 L359.5,1341.7 L360.5,1341.7 L361.5,1342.4 L362.5,1340.5 L363.5,1341.4 L364.5,1340.4 L365.5,1340.5 L366.5,1340.4 L367.5,1340 L368.5,1339.7 L369.5,1339.1 L370.5,1338.9 L371.5,1338.7 L372.5,1338.8 L373.5,1337.4 L374.5,1337.4 L375.5,1336.8 L376.5,1336.6 L377.5,1336.2 L378.5,1336.6 L379.5,1336.6 L380.5,1335.8 L381.5,1334.2 L382.5,1334 L383.5,1332.7 L384.5,1332.5 L385.5,1331.8 L386.5,1330.5 L387.5,1329.7 L388.5,1328.3 L389.5,1326.7 L390.5,1326 L391.5,1326 L392.5,1325.6 L393.5,1325.2 L394.5,1323.9 L395.5,1323.5 L396.5,1322.9 L397.5,1322.6 L398.5,1321.5 L399.5,1320.4 L400.5,1320.7 L401.5,1319.7 L402.5,1318.9 L403.5,1317.5 L404.5,1317.1 L405.5,1315.5 L406.5,1314.4 L407.5,1314.1 L408.5,1312.8 L409.5,1312.1 L410.5,1311.2 L411.5,1309.2 L412.5,1308.7 L413.5,1306.3 L414.5,1305.4 L415.5,1302.9 L416.5,1301.9 L417.5,1300 L418.5,1298.3 L419.5,1297 L420.5,1294.4 L421.5,1293.7 L422.5,1291.8 L423.5,1290.7 L424.5,1289.3 L425.5,1287.6 L426.5,1286.2 L427.5,1284.5 L428.5,1284 L429.5,1282.3 L430.5,1281.7 L431.5,1279.9 L432.5,1280 L433.5,1278.1 L434.5,1278 L435.5,1276.4 L436.5,1275.9 L437.5,1274.7 L438.5,1274 L439.5,1272.8 L440.5,1272.3 L441.5,1271.1 L442.5,1270.1 L443.5,1269.5 L444.5,1267.6 L445.5,1267.5 L446.5,1266 L447.5,1264.5 L448.5,1264.4 L449.5,1263.3 L450.5,1263.3 L451.5,1261.7 L452.5,1261.2 L453.5,1260.7 L454.5,1259.2 L455.5,1259.6 L456.5,1258.3 L457.5,1258.7 L458.5,1258.3 L459.5,1257.1 L460.5,1255.9 L461.5,1256.1 L462.5,1255.6 L463.5,1255.4 L464.5,1254.5 L465.5,1253.8 L466.5,1253.8 L467.5,1253.2 L468.5,1254 L469.5,1252.7 L470.5,1252.4 L471.5,1252.4 L472.5,1251.7 L473.5,1251.8 L474.5,1251.7 L475.5,1251.4 L476.5,1251.3 L477.5,1251.7 L478.5,1251.2 L479.5,1250.3 L480.5,1250.5 L481.5,1250.8 L482.5,1250.1 L483.5,1250.2 L484.5,1250 L485.5,1250 L486.5,1249.5 L487.5,1249.4 L488.5,1248.9 L489.5,1249.2 L490.5,1248.4 L491.5,1249.3 L492.5,1248.4 L493.5,1248.2 L494.5,1248.4 L495.5,1247.9 L496.5,1247.9 L497.5,1247.7 L498.5,1247.4 L499.5,1247.2 L500.5,1247.3 L501.5,1248.1 L502.5,1247.5 L503.5,1247.7 L504.5,1247.9 L505.5,1248.5 L506.5,1249.3 L507.5,1248.4 L508.5,1249.3 L509.5,1249.4 L510.5,1249.6 L511.5,1250.3 L512.5,1249.9 L513.5,1251.1 L514.5,1251.2 L515.5,1251 L516.5,1252.4 L517.5,1252.4 L518.5,1252.8 L519.5,1252.1 L520.5,1252.9 L521.5,1253.1 L522.5,1253.9 L523.5,1254.6 L524.5,1253.6 L525.5,1254.8 L526.5,1255.2 L527.5,1256 L528.5,1256.1 L529.5,1256.1 L530.5,1257 L531.5,1257.2 L532.5,1257.9 L533.5,1258.9 L534.5,1259.5 L535.5,1260.7 L536.5,1261 L537.5,1263.6 L538.5,1264.3 L539.5,1265.3 L540.5,1265.6 L541.5,1266.4 L542.5,1268.1 L543.5,1269.5 L544.5,1271.6 L545.5,1272.3 L546.5,1272.5 L547.5,1274.1 L548.5,1274.9 L549.5,1275.2 L550.5,1276.5 L551.5,1277 L552.5,1277.5 L553.5,1278.1 L554.5,1279.4 L555.5,1280.7 L556.5,1280.5 L557.5,1281.1 L558.5,1282.7 L559.5,1281.9 L560.5,1284.3 L561.5,1283.9 L562.5,1284.7 L563.5,1285.5 L564.5,1284.3 L565.5,1284.5 L566.5,1285.7 L567.5,1284.3 L568.5,1283.9 L569.5,1283.5 L570.5,1283.1 L571.5,1282.5 L572.5,1281.2 L573.5,1280.2 L574.5,1279.6 L575.5,1279 L576.5,1278.8 L577.5,1277.7 L578.5,1278 L579.5,1276.6 L580.5,1277.1 L581.5,1277.4 L582.5,1277.1 L583.5,1276.6 L584.5,1276 L585.5,1276 L586.5,1276.1 L587.5,1276.2 L588.5,1275.9 L589.5,1275.4 L590.5,1275.6 L591.5,1276 L592.5,1276 L593.5,1275 L594.5,1275.4 L595.5,1274.7 L596.5,1275 L597.5,1276.5 L598.5,1274.9 L599.5,1274.6 L600.5,1274.3 L601.5,1273.8 L602.5,1273.3 L603.5,1273.9 L604.5,1273.5 L605.5,1274 L606.5,1272.5 L607.5,1273.1 L608.5,1273.3 L609.5,1271.7 L610.5,1272.6 L611.5,1271.5 L612.5,1272.2 L613.5,1272.4 L614.5,1271.7 L615.5,1271.7 L616.5,1271.2 L617.5,1271.6 L618.5,1271.9 L619.5,1271.3 L620.5,1271.4 L621.5,1271.6 L622.5,1271.8 L623.5,1270.8 L624.5,1271.6 L625.5,1271.3 L626.5,1271.9 L627.5,1272.2 L628.5,1272 L629.5,1272.5 L630.5,1271.6 L631.5,1271.9 L632.5,1271.8 L633.5,1272.3 L634.5,1272.5 L635.5,1272.5 L636.5,1272.2 L637.5,1272.7 L638.5,1272.7 L639.5,1273.2 L640.5,1273 L641.5,1273.7 L642.5,1273.5 L643.5,1272.8 L644.5,1273.6 L645.5,1273.3 L646.5,1274.4 L647.5,1274.8 L648.5,1274.4 L649.5,1274.8 L650.5,1274.3 L651.5,1274.2 L652.5,1275.1 L653.5,1275.5 L654.5,1275.3 L655.5,1276.2 L656.5,1276.7 L657.5,1277.2 L658.5,1278.1 L659.5,1278.3 L660.5,1278.4 L661.5,1279.2 L662.5,1280.1 L663.5,1280.1 L664.5,1281.8 L665.5,1282.4 L666.5,1282.7 L667.5,1283.3 L668.5,1285.9 L669.5,1285.5 L670.5,1286.3 L671.5,1287.4 L672.5,1287.8 L673.5,1288.3 L674.5,1289.3 L675.5,1289.5 L676.5,1291.1 L677.5,1291 L678.5,1292.7 L679.5,1293.7 L680.5,1293.7 L681.5,1296.1 L682.5,1295.8 L683.5,1297.6 L684.5,1297.9 L685.5,1299.2 L686.5,1299.8 L687.5,1302 L688.5,1302.3 L689.5,1303.6 L690.5,1304 L691.5,1304.9 L692.5,1305.5 L693.5,1306.3 L694.5,1307.5 L695.5,1308.3 L696.5,1309.1 L697.5,1309.6 L698.5,1311.1 L699.5,1312.5 L700.5,1313.2 L701.5,1314.7 L702.5,1315.8 L703.5,1316.7 L704.5,1318.5 L705.5,1320.4 L706.5,1322.7 L707.5,1324.8 L708.5,1327.3 L709.5,1328.3 L710.5,1329.4 L711.5,1331.8 L712.5,1332.3 L713.5,1333.4 L714.5,1335.4 L715.5,1335.8 L716.5,1336.2 L717.5,1337.1 L718.5,1337.4 L719.5,1338.4 L720.5,1338.4 L721.5,1339.1 L722.5,1339.9 L723.5,1341.4 L724.5,1342.2 L725.5,1342.2 L726.5,1343.8 L727.5,1344.3 L728.5,1346 L729.5,1346.7 L730.5,1348.6 L731.5,1349.5 L732.5,1350.7 L733.5,1351.9 L734.5,1352.9 L735.5,1353.4 L736.5,1353.7 L737.5,1355.7 L738.5,1355.4 L739.5,1355.4 L740.5,1355.8 L741.5,1356.1 L742.5,1357.5 L743.5,1358.8 L744.5,1358 L745.5,1358.9 L746.5,1358.7 L747.5,1360.3 L748.5,1360.4 L749.5,1360.8 L750.5,1361.5 L751.5,1362 L752.5,1362.1 L753.5,1361.8 L754.5,1361.9 L755.5,1362.4 L756.5,1362.4 L757.5,1364.3 L758.5,1363.8 L759.5,1364.3 L760.5,1364.7 L761.5,1365.7 L762.5,1365 L763.5,1366 L764.5,1365.9 L765.5,1366 L766.5,1365.5 L767.5,1366.9 L768.5,1366.4 L769.5,1366.7 L770.5,1367.1 L771.5,1367.2 L772.5,1367.7 L773.5,1367 L774.5,1367.4 L775.5,1367.4 L776.5,1367.3 L777.5,1367.6 L778.5,1367.2 L779.5,1367.8 L780.5,1367 L781.5,1366.7 L782.5,1367.3 L783.5,1367.8 L784.5,1367.1 L785.5,1367.1 L786.5,1367.2 L787.5,1367.4 L788.5,1367.2 L789.5,1367.4 L790.5,1366.6 L791.5,1367.9 L792.5,1367.4 L793.5,1366.5 L794.5,1367.2 L795.5,1366.5 L796.5,1366.5 L797.5,1365 L798.5,1365.6 L799.5,1364.5 L800.5,1363.1 L801.5,1363.7 L802.5,1362.8 L803.5,1361.9 L804.5,1361.7 L805.5,1360.5 L806.5,1361.1 L807.5,1360.2 L808.5,1359.7 L809.5,1359.9 L810.5,1358.8 L811.5,1357.9 L812.5,1357.2 L813.5,1357 L814.5,1356.8 L815.5,1355.5 L816.5,1354.7 L817.5,1354.9 L818.5,1353.9 L819.5,1353.2 L820.5,1353.4 L821.5,1351.4 L822.5,1351.3 L823.5,1349.7 L824.5,1349.6 L825.5,1349.2 L826.5,1348.6 L827.5,1346.8 L828.5,1346.9 L829.5,1346 L830.5,1344.8 L831.5,1345 L832.5,1343.2 L833.5,1342 L834.5,1341.7 L835.5,1339.9 L836.5,1340.5 L837.5,1339.5 L838.5,1338.1 L839.5,1337.6 L840.5,1336.5 L841.5,1336.1 L842.5,1334 L843.5,1332.7 L844.5,1331.5 L845.5,1331.4 L846.5,1330.2 L847.5,1330.3 L848.5,1330.3 L849.5,1330 L850.5,1330 L851.5,1331.2 L852.5,1331.1 L853.5,1331.9 L854.5,1332.9 L855.5,1332.6 L856.5,1333.6 L857.5,1335.7 L858.5,1335.3 L859.5,1335.7 L860.5,1336.6 L861.5,1336.9 L862.5,1337.1 L863.5,1337.9 L864.5,1338.5 L865.5,1338.9 L866.5,1339.5 L867.5,1339 L868.5,1339.5 L869.5,1340.7 L870.5,1340.5 L871.5,1341.4 L872.5,1341.2 L873.5,1340.6 L874.5,1341.5 L875.5,1341 L876.5,1341.6 L877.5,1342 L878.5,1342.4 L879.5,1341.6 L880.5,1341.9 L881.5,1341.8 L882.5,1342 L883.5,1340.7 L884.5,1341.6 L885.5,1341.9 L886.5,1342.1 L887.5,1341.6 L888.5,1342.3 L889.5,1342.5 L890.5,1342.1 L891.5,1342.1 L892.5,1342.2 L893.5,1342.5 L894.5,1343.1 L895.5,1343.3 L896.5,1342.7 L897.5,1342.6 L898.5,1342.8 L899.5,1343.6 L900.5,1343.4 L901.5,1343.6 L902.5,1343.7 L903.5,1343.7 L904.5,1343.6 L905.5,1343.2 L906.5,1343.3 L907.5,1343.6 L908.5,1343.7 L909.5,1343.3 L910.5,1343.2 L911.5,1343.8 L912.5,1343 L913.5,1343.1 L914.5,1342.8 L915.5,1342.4 L916.5,1342 L917.5,1342.3 L918.5,1342 L919.5,1342.6 L920.5,1341.6 L921.5,1341.8 L922.5,1342 L923.5,1341.6 L924.5,1341.6 L925.5,1341.5 L926.5,1340.3 L927.5,1340.6 L928.5,1340.1 L929.5,1340.8 L930.5,1339.9 L931.5,1339.8 L932.5,1340 L933.5,1338.9 L934.5,1338.8 L935.5,1338.6 L936.5,1338 L937.5,1338.3 L938.5,1337.8 L939.5,1337.5 L940.5,1336.8 L941.5,1336.2 L942.5,1335.8 L943.5,1335.3 L944.5,1334.3 L945.5,1334.5 L946.5,1333.9 L947.5,1332.7 L948.5,1331.5 L949.5,1330.7 L950.5,1329.8 L951.5,1328.9 L952.5,1328.6 L953.5,1326.7 L954.5,1326.5 L955.5,1325.9 L956.5,1325 L957.5,1324.2 L958.5,1323.3 L959.5,1322.8 L960.5,1322.7 L961.5,1322.4 L962.5,1320.9 L963.5,1320.7 L964.5,1320 L965.5,1319.5 L966.5,1318.4 L967.5,1317.7 L968.5,1317 L969.5,1315.2 L970.5,1314.6 L971.5,1312.8 L972.5,1311.5 L973.5,1310.8 L974.5,1309.2 L975.5,1308.7 L976.5,1307.5 L977.5,1305.6 L978.5,1304.1 L979.5,1302.4 L980.5,1300.7 L981.5,1299.2 L982.5,1297.6 L983.5,1295.6 L984.5,1293.9 L985.5,1292.6 L986.5,1291.6 L987.5,1289.6 L988.5,1288.9 L989.5,1286.8 L990.5,1286.1 L991.5,1283.8 L992.5,1282.8 L993.5,1282.2 L994.5,1281.1 L995.5,1279.8 L996.5,1279.7 L997.5,1278 L998.5,1277.1 L999.5,1275.8 L1000.5,1275.8 L1001.5,1274.5 L1002.5,1273.3 L1003.5,1271.5 L1004.5,1271.4 L1005.5,1270 L1006.5,1269.4 L1007.5,1268.6 L1008.5,1267 L1009.5,1266.5 L1010.5,1265.8 L1011.5,1264.7 L1012.5,1263.6 L1013.5,1262.5 L1014.5,1261.9 L1015.5,1261 L1016.5,1261.3 L1017.5,1260.3 L1018.5,1259.1 L1019.5,1259 L1020.5,1257.9 L1021.5,1256.5 L1022.5,1257.8 L1023.5,1257.2 L1024.5,1255.6 L1025.5,1255.5 L1026.5,1255.4 L1027.5,1254.7 L1028.5,1254.1 L1029.5,1253.8 L1030.5,1253.6 L1031.5,1253.1 L1032.5,1253.2 L1033.5,1252.7 L1034.5,1252.2 L1035.5,1252.3 L1036.5,1251.4 L1037.5,1252.4 L1038.5,1251 L1039.5,1251.4 L1040.5,1251.4 L1041.5,1251.3 L1042.5,1251 L1043.5,1251.2 L1044.5,1250.1 L1045.5,1250.4 L1046.5,1250.3 L1047.5,1249.9 L1048.5,1249.6 L1049.5,1250.2 L1050.5,1249.2 L1051.5,1249.1 L1052.5,1249 L1053.5,1248.8 L1054.5,1248.8 L1055.5,1248.4 L1056.5,1248.5 L1057.5,1248.2 L1058.5,1248.2 L1059.5,1248.4 L1060.5,1247.4 L1061.5,1248.4 L1062.5,1247.5 L1063.5,1247.9 L1064.5,1247.7 L1065.5,1247.6 L1066.5,1247 L1067.5,1248.6 L1068.5,1247.9 L1069.5,1248.1 L1070.5,1249.1 L1071.5,1249 L1072.5,1250 L1073.5,1250.3 L1074.5,1250.2 L1075.5,1250.4 L1076.5,1250.9 L1077.5,1250.4 L1078.5,1251.4 L1079.5,1251.7 L1080.5,1251.7 L1081.5,1252.3 L1082.5,1252 L1083.5,1253.2 L1084.5,1253.7 L1085.5,1253 L1086.5,1254 L1087.5,1254.9 L1088.5,1254.8 L1089.5,1254.6 L1090.5,1255.1 L1091.5,1256.3 L1092.5,1257.1 L1093.5,1256.5 L1094.5,1257.4 L1095.5,1257.7 L1096.5,1258.5 L1097.5,1259.5 L1098.5,1260.2 L1099.5,1261 L1100.5,1263.1 L1101.5,1263.3 L1102.5,1264.4 L1103.5,1266.1 L1104.5,1266.9 L1105.5,1267.9 L1106.5,1269.5 L1107.5,1269.9 L1108.5,1271.6 L1109.5,1272.7 L1110.5,1273.5 L1111.5,1274 L1112.5,1274.8 L1113.5,1275 L1114.5,1276.5 L1115.5,1277.5 L1116.5,1278.6 L1117.5,1279.2 L1118.5,1279.8 L1119.5,1280.4 L1120.5,1281.5 L1121.5,1282.2 L1122.5,1283.3 L1123.5,1283.4 L1124.5,1283.7 L1125.5,1284.3 L1126.5,1284.4 L1127.5,1284.7 L1128.5,1284 L1129.5,1284.2 L1130.5,1284.1 L1131.5,1284.4 L1132.5,1283.6 L1133.5,1283.1 L1134.5,1282.7 L1135.5,1281.1 L1136.5,1281.2 L1137.5,1280.1 L1138.5,1278.9 L1139.5,1279.1 L1140.5,1277.3 L1141.5,1277 L1142.5,1277 L1143.5,1277.1 L1144.5,1276.7 L1145.5,1275.8 L1146.5,1276.4 L1147.5,1276.4 L1148.5,1277.3 L1149.5,1276.8 L1150.5,1276.2 L1151.5,1275.6 L1152.5,1276.1 L1153.5,1275.4 L1154.5,1275.9 L1155.5,1275.9 L1156.5,1275.5 L1157.5,1275.7 L1158.5,1275.3 L1159.5,1275.1 L1160.5,1275.8 L1161.5,1275.2 L1162.5,1274.7 L1163.5,1274.3 L1164.5,1274.5 L1165.5,1274.4 L1166.5,1274.3 L1167.5,1274.3 L1168.5,1273.7 L1169.5,1272.8 L1170.5,1273.9 L1171.5,1273.3 L1172.5,1273 L1173.5,1273 L1174.5,1271.6 L1175.5,1271.9 L1176.5,1271.7 L1177.5,1272.2 L1178.5,1271.2 L1179.5,1271.4 L1180.5,1272.1 L1181.5,1271.7 L1182.5,1271.3 L1183.5,1272.2 L1184.5,1270.9 L1185.5,1271.6 L1186.5,1271.4 L1187.5,1271.7 L1188.5,1271.5 L1189.5,1271.3 L1190.5,1271.8 L1191.5,1271.3 L1192.5,1272.1 L1193.5,1271.9 L1194.5,1272.4 L1195.5,1272 L1196.5,1272 L1197.5,1272.5 L1198.5,1273 L1199.5,1271.8 L1200.5,1272.8 L1201.5,1273.1 L1202.5,1272.4 L1203.5,1272.7 L1204.5,1273.4 L1205.5,1273 L1206.5,1273.2 L1207.5,1274.3 L1208.5,1273.4 L1209.5,1273.6 L1210.5,1273.2 L1211.5,1273.9 L1212.5,1274.1 L1213.5,1275.4 L1214.5,1275.5 L1215.5,1274.7 L1216.5,1276.3 L1217.5,1276.1 L1218.5,1276 L1219.5,1276.7 L1220.5,1276.9 L1221.5,1276.9 L1222.5,1277.1 L1223.5,1278 L1224.5,1278.9 L1225.5,1279.4 L1226.5,1280 L1227.5,1281.4 L1228.5,1281.3 L1229.5,1282.8 L1230.5,1283.1 L1231.5,1284.1 L1232.5,1284.4 L1233.5,1285.6 L1234.5,1286 L1235.5,1286.4 L1236.5,1287.9 L1237.5,1288.7 L1238.5,1289.9 L1239.5,1290.5 L1240.5,1290.9 L1241.5,1291.9 L1242.5,1292.1 L1243.5,1293.6 L1244.5,1295.4 L1245.5,1296.5 L1246.5,1297.1 L1247.5,1297.9 L1248.5,1298.9 L1249.5,1299.9 L1250.5,1299.9 L1251.5,1301.2 L1252.5,1302.9 L1253.5,1303.8 L1254.5,1304.3 L1255.5,1305 L1256.5,1305.9 L1257.5,1306.7 L1258.5,1307.5 L1259.5,1308 L1260.5,1309.8 L1261.5,1310.6 L1262.5,1311.7 L1263.5,1313.6 L1264.5,1314.3 L1265.5,1315 L1266.5,1316.8 L1267.5,1317.5 L1268.5,1320.3 L1269.5,1322 L1270.5,1323.9 L1271.5,1326.3 L1272.5,1328.6 L1273.5,1329.5 L1274.5,1330.6 L1275.5,1333 L1276.5,1333.1 L1277.5,1334.6 L1278.5,1334.6 L1279.5,1335.8 L1280.5,1336.1 L1281.5,1337.3 L1282.5,1337.6 L1283.5,1338.1 L1284.5,1339.7 L1285.5,1339.9 L1286.5,1339.7 L1287.5,1341.2 L1288.5,1341.7 L1289.5,1342.5 L1290.5,1343.7 L1291.5,1344.8 L1292.5,1346.3 L1293.5,1347.3 L1294.5,1348.3 L1295.5,1350.1 L1296.5,1351.8 L1297.5,1352 L1298.5,1353.6 L1299.5,1354.2 L1300.5,1354.5 L1301.5,1355.4 L1302.5,1355.6 L1303.5,1356.3 L1304.5,1356.6 L1305.5,1357.7 L1306.5,1358.5 L1307.5,1358.2 L1308.5,1359.4 L1309.5,1358.5 L1310.5,1359.4 L1311.5,1359.7 L1312.5,1361.1 L1313.5,1360.6 L1314.5,1361.5 L1315.5,1360.7 L1316.5,1361.9 L1317.5,1362.5 L1318.5,1362.6 L1319.5,1361.9 L1320.5,1363.4 L1321.5,1364 L1322.5,1364.6 L1323.5,1364.6 L1324.5,1364.1 L1325.5,1365 L1326.5,1365.7 L1327.5,1365.3 L1328.5,1366.2 L1329.5,1366 L1330.5,1366.5 L1331.5,1366.9 L1332.5,1366.5 L1333.5,1368.1 L1334.5,1367.2 L1335.5,1367.3 L1336.5,1367 L1337.5,1367.3 L1338.5,1367.2 L1339.5,1366.7 L1340.5,1366.7 L1341.5,1367.4 L1342.5,1367.3 L1343.5,1366.3 L1344.5,1366.4 L1345.5,1367.2 L1346.5,1367.3 L1347.5,1367.5 L1348.5,1366.8 L1349.5,1367.5 L1350.5,1367.2 L1351.5,1367.1 L1352.5,1367.2 L1353.5,1367.7 L1354.5,1367.5 L1355.5,1367.5 L1356.5,1366.7 L1357.5,1366.6 L1358.5,1365.9 L1359.5,1365.8 L1360.5,1365.4 L1361.5,1365 L1362.5,1364.9 L1363.5,1364.3 L1364.5,1363.9 L1365.5,1363.1 L1366.5,1363 L1367.5,1362.1 L1368.5,1361.9 L1369.5,1361.2 L1370.5,1360.8 L1371.5,1360 L1372.5,1359 L1373.5,1358.4 L1374.5,1359.2 L1375.5,1358 L1376.5,1357.4 L1377.5,1356.6 L1378.5,1355.8 L1379.5,1356.5 L1380.5,1354.3 L1381.5,1354.1 L1382.5,1353.4 L1383.5,1352.3 L1384.5,1351.6 L1385.5,1351.2 L1386.5,1350.6 L1387.5,1349.8 L1388.5,1349.6 L1389.5,1348 L1390.5,1347.8 L1391.5,1347.4 L1392.5,1346.4 L1393.5,1344.7 L1394.5,1343.2 L1395.5,1343.9 L1396.5,1342.9 L1397.5,1341.6 L1398.5,1341.5 L1399.5,1340 L1400.5,1339.4 L1401.5,1338.1 L1402.5,1337.8 L1403.5,1336.5 L1404.5,1335.5 L1405.5,1335 L1406.5,1333.7 L1407.5,1332 L1408.5,1332.1 L1409.5,1331.4 L1410.5,1330.2 L1411.5,1330 L1412.5,1330.1 L1413.5,1330.1 L1414.5,1330.6 L1415.5,1331.2 L1416.5,1331.3 L1417.5,1333 L1418.5,1332.6 L1419.5,1333.4 L1420.5,1335.2 L1421.5,1336.1 L1422.5,1335.8 L1423.5,1336.4 L1424.5,1336.5 L1425.5,1337.9 L1426.5,1337.9 L1427.5,1337.9 L1428.5,1338.9 L1429.5,1339.7 L1430.5,1339.8 L1431.5,1340.8 L1432.5,1340.7 L1433.5,1340.7 L1434.5,1340.8 L1435.5,1341.2 L1436.5,1341.7 L1437.5,1341.6 L1438.5,1341.8 L1439.5,1341.5 L1440.5,1341.8 L1441.5,1342 L1442.5,1341.5 L1443.5,1341.1 L1444.5,1342.3 L1445.5,1341.9 L1446.5,1341.5 L1447.5,1341.8 L1448.5,1341.7 L1449.5,1341.1 L1450.5,1341.8 L1451.5,1341.4 L1452.5,1342.1 L1453.5,1342 L1454.5,1342.6 L1455.5,1342.2 L1456.5,1342.5 L1457.5,1342.4 L1458.5,1342.5 L1459.5,1342.2 L1460.5,1343.3 L1461.5,1343.1 L1462.5,1342.9 L1463.5,1343.4 L1464.5,1343.2 L1465.5,1343.2 L1466.5,1343.6 L1467.5,1344.1 L1468.5,1343.5 L1469.5,1343 L1470.5,1343.3 L1471.5,1344.2 L1472.5,1343.1 L1473.5,1343.9 L1474.5,1343.2 L1475.5,1343.5 L1476.5,1343 L1477.5,1342.3 L1478.5,1342.7 L1479.5,1343.5 L1480.5,1342.5 L1481.5,1342.6 L1482.5,1342.1 L1483.5,1342.1 L1484.5,1342.1 L1485.5,1342 L1486.5,1342.5 L1487.5,1341.5 L1488.5,1341.2 L1489.5,1340.8 L1490.5,1340.3 L1491.5,1339.9 L1492.5,1340.6 L1493.5,1339.3 L1494.5,1340.3 L1495.5,1339.8 L1496.5,1339 L1497.5,1338.4 L1498.5,1338.6 L1499.5,1338.2 L1500.5,1338.4 L1501.5,1337.3 L1502.5,1337.1 L1503.5,1336.9 L1504.5,1336.4 L1505.5,1335.8 L1506.5,1334.9 L1507.5,1334.5 L1508.5,1334.3 L1509.5,1333.8 L1510.5,1333.4 L1511.5,1333 L1512.5,1331.8 L1513.5,1330.2 L1514.5,1329.9 L1515.5,1328.2 L1516.5,1327.2 L1517.5,1327.6 L1518.5,1325.5 L1519.5,1325.1 L1520.5,1324.5 L1521.5,1324.5 L1522.5,1323.1 L1523.5,1323 L1524.5,1321.9 L1525.5,1320.9 L1526.5,1320.9 L1527.5,1320.2 L1528.5,1318.9 L1529.5,1318.3 L1530.5,1317.5 L1531.5,1317.3 L1532.5,1316.2 L1533.5,1315.1 L1534.5,1314.1 L1535.5,1312.6 L1536.5,1311.8 L1537.5,1310.1 L1538.5,1308.5 L1539.5,1307.4 L1540.5,1306.3 L1541.5,1304.8 L1542.5,1303.6 L1543.5,1300.8 L1544.5,1299.7 L1545.5,1298.2 L1546.5,1296.1 L1547.5,1295 L1548.5,1293.2 L1549.5,1291.4 L1550.5,1290.8 L1551.5,1288.3 L1552.5,1287.9 L1553.5,1285.9 L1554.5,1284.4 L1555.5,1283.2 L1556.5,1282.1 L1557.5,1281 L1558.5,1280.4 L1559.5,1278.5 L1560.5,1278.8 L1561.5,1277.7 L1562.5,1277 L1563.5,1275.1 L1564.5,1273.6 L1565.5,1273.3 L1566.5,1272.5 L1567.5,1271.7 L1568.5,1270.4 L1569.5,1269.6 L1570.5,1268.7 L1571.5,1267.1 L1572.5,1267.5 L1573.5,1265.4 L1574.5,1265 L1575.5,1264.5 L1576.5,1263 L1577.5,1262.5 L1578.5,1262.4 L1579.5,1261 L1580.5,1260.9 L1581.5,1260 L1582.5,1259.3 L1583.5,1258.9 L1584.5,1258 L1585.5,1257.4 L1586.5,1257.3 L1587.5,1256.5 L1588.5,1256.1 L1589.5,1255 L1590.5,1255 L1591.5,1255.1 L1592.5,1254.5 L1593.5,1254 L1594.5,1253.3 L1595.5,1252.9 L1596.5,1253.1 L1597.5,1253.2 L1598.5,1252.4 L1599.5,1252.7 L1600.5,1251.8 L1601.5,1252.2 L1602.5,1251.1 L1603.5,1251.4 L1604.5,1250.7 L1605.5,1251.2 L1606.5,1251 L1607.5,1250.3 L1608.5,1250.2 L1609.5,1250.1 L1610.5,1249.5 L1611.5,1249.6 L1612.5,1249.4 L1613.5,1249.9 L1614.5,1249.9 L1615.5,1249 L1616.5,1248.9 L1617.5,1248.9 L1618.5,1248.4 L1619.5,1248.3 L1620.5,1248.6 L1621.5,1248.2 L1622.5,1247.9 L1623.5,1247.6 L1624.5,1248.3 L1625.5,1247.4 L1626.5,1247.7 L1627.5,1247.2 L1628.5,1247.4 L1629.5,1247.8 L1630.5,1247.7 L1631.5,1248.3 L1632.5,1248.3 L1633.5,1248 L1634.5,1247.9 L1635.5,1249.5 L1636.5,1249.2 L1637.5,1250.4 L1638.5,1250.1 L1639.5,1250.2 L1640.5,1251 L1641.5,1251 L1642.5,1251.5 L1643.5,1251.4 L1644.5,1252.4 L1645.5,1252.9 L1646.5,1252.5 L1647.5,1253.8 L1648.5,1253.2 L1649.5,1253.8 L1650.5,1253.5 L1651.5,1253.7 L1652.5,1255.7 L1653.5,1255.9 L1654.5,1256.2 L1655.5,1255.5 L1656.5,1256.8 L1657.5,1257.4 L1658.5,1257.8 L1659.5,1258.5 L1660.5,1258.7 L1661.5,1259.8 L1662.5,1260.4 L1663.5,1261.7 L1664.5,1263.1 L1665.5,1263.7 L1666.5,1265.1 L1667.5,1266.2 L1668.5,1267.6 L1669.5,1269.1 L1670.5,1269.9 L1671.5,1271.1 L1672.5,1271.4 L1673.5,1272.7 L1674.5,1274.1 L1675.5,1274.2 L1676.5,1275.2 L1677.5,1275.8 L1678.5,1277.6 L1679.5,1277.7 L1680.5,1278.5 L1681.5,1279.8 L1682.5,1280.8 L1683.5,1281.4 L1684.5,1282.3 L1685.5,1282.7 L1686.5,1283.1 L1687.5,1283.5 L1688.5,1283.9 L1689.5,1284.3 L1690.5,1284.9 L1691.5,1284.8 L1692.5,1284.9 L1693.5,1285 L1694.5,1284.3 L1695.5,1283.3 L1696.5,1282.9 L1697.5,1282.1 L1698.5,1281 L1699.5,1281.1 L1700.5,1279.8 L1701.5,1279 L1702.5,1278.3 L1703.5,1278.5 L1704.5,1277.5 L1705.5,1277.6 L1706.5,1276.9 L1707.5,1276.6 L1708.5,1276.9 L1709.5,1276.8 L1710.5,1276.5 L1711.5,1275.9 L1712.5,1276.1 L1713.5,1275.7 L1714.5,1276 L1715.5,1276 L1716.5,1276.5 L1717.5,1276.4 L1718.5,1276 L1719.5,1276.1 L1720.5,1275.7 L1721.5,1276.6 L1722.5,1276 L1723.5,1276.3 L1724.5,1275.2 L1725.5,1275.1 L1726.5,1275.1 L1727.5,1274.6 L1728.5,1274.4 L1729.5,1273.7 L1730.5,1274.2 L1731.5,1273.7 L1732.5,1273.7 L1733.5,1273.1 L1734.5,1272.2 L1735.5,1272.9 L1736.5,1273 L1737.5,1271.8 L1738.5,1271.7 L1739.5,1271.8 L1740.5,1271.7 L1741.5,1271 L1742.5,1272.3 L1743.5,1271.9 L1744.5,1271.2 L1745.5,1270.7 L1746.5,1271.5 L1747.5,1272.2 L1748.5,1271.8 L1749.5,1271.9 L1750.5,1271.1 L1751.5,1271.7 L1752.5,1271 L1753.5,1272.5 L1754.5,1272 L1755.5,1271 L1756.5,1271.2 L1757.5,1272.2 L1758.5,1272.2 L1759.5,1272.1 L1760.5,1272.6 L1761.5,1273.2 L1762.5,1272.7 L1763.5,1271.9 L1764.5,1272.7 L1765.5,1272.4 L1766.5,1272.7 L1767.5,1273.3 L1768.5,1273.2 L1769.5,1273 L1770.5,1273.5 L1771.5,1273.4 L1772.5,1274.1 L1773.5,1274 L1774.5,1274.4 L1775.5,1274.3 L1776.5,1275 L1777.5,1274.8 L1778.5,1275.1 L1779.5,1275.2 L1780.5,1275.7 L1781.5,1275.2 L1782.5,1277.3 L1783.5,1276.3 L1784.5,1277.1 L1785.5,1277.3 L1786.5,1277.9 L1787.5,1278.8 L1788.5,1279.1 L1789.5,1279.8 L1790.5,1280.1 L1791.5,1281 L1792.5,1281.7 L1793.5,1283.7 L1794.5,1283.2 L1795.5,1284.1 L1796.5,1285.3 L1797.5,1286.6 L1798.5,1286.1 L1799.5,1287 L1800.5,1288.4 L1801.5,1289.3 L1802.5,1289.5 L1803.5,1290.2 L1804.5,1291.4 L1805.5,1293 L1806.5,1293.6 L1807.5,1294.9 L1808.5,1295.4 L1809.5,1296.4 L1810.5,1297.6 L1811.5,1298.3 L1812.5,1299.4 L1813.5,1299.9 L1814.5,1300.9 L1815.5,1302.3 L1816.5,1302.9 L1817.5,1303.6 L1818.5,1305 L1819.5,1305.9 L1820.5,1306.5 L1821.5,1307.2 L1822.5,1308.7 L1823.5,1310.3 L1824.5,1310 L1825.5,1310.8 L1826.5,1312.2 L1827.5,1313.2 L1828.5,1314.3 L1829.5,1315.6 L1830.5,1317.8 L1831.5,1319.5 L1832.5,1321.7 L1833.5,1323.5 L1834.5,1325.1 L1835.5,1327.7 L1836.5,1328.8 L1837.5,1330.4 L1838.5,1331.2 L1839.5,1333.2 L1840.5,1334.1 L1841.5,1334.3 L1842.5,1335.2 L1843.5,1336.1 L1844.5,1336.9 L1845.5,1337.8 L1846.5,1338.2 L1847.5,1339 L1848.5,1338.9 L1849.5,1340.1 L1850.5,1340.2 L1851.5,1342.4 L1852.5,1343.1 L1853.5,1343.8 L1854.5,1345 L1855.5,1346.6 L1856.5,1347.5 L1857.5,1347.8 L1858.5,1349.7 L1859.5,1350.1 L1860.5,1351.8 L1861.5,1352.5 L1862.5,1353.7 L1863.5,1354.6 L1864.5,1354.7 L1865.5,1355.6 L1866.5,1356.4 L1867.5,1356.7 L1868.5,1357.2 L1869.5,1356.8 L1870.5,1358.1 L1871.5,1359 L1872.5,1359.2 L1873.5,1358.9 L1874.5,1359.8 L1875.5,1360.4 L1876.5,1360.3 L1877.5,1361.3 L1878.5,1361.1 L1879.5,1361.6 L1880.5,1362.1 L1881.5,1363.4 L1882.5,1362.7 L1883.5,1363 L1884.5,1363.9 L1885.5,1363.7 L1886.5,1364.3 L1887.5,1363.7 L1888.5,1365.1 L1889.5,1365.2 L1890.5,1365 L1891.5,1366.4 L1892.5,1366 L1893.5,1366.3 L1894.5,1366 L1895.5,1366.1 L1896.5,1366.7 L1897.5,1366.4 L1898.5,1367.4 L1899.5,1367.6 L1900.5,1367 L1901.5,1366.6 L1902.5,1367.1 L1903.5,1366.9 L1904.5,1367.4 L1905.5,1367.4 L1906.5,1367.1 L1907.5,1367.3 L1908.5,1367.7 L1909.5,1368 L1910.5,1367.1 L1911.5,1367.6 L1912.5,1367.2 L1913.5,1366.9 L1914.5,1367.8 L1915.5,1367.4 L1916.5,1367.3 L1917.5,1367.4 L1918.5,1367.1 L1919.5,1366.6 L1920.5,1367.5 L1921.5,1366.9 L1922.5,1366.3 L1923.5,1366.1 L1924.5,1365.8 L1925.5,1364.8 L1926.5,1364.6 L1927.5,1363.7 L1928.5,1363.5 L1929.5,1362.6 L1930.5,1363.2 L1931.5,1361.5 L1932.5,1361.4 L1933.5,1360.9 L1934.5,1360.1 L1935.5,1360.1 L1936.5,1359.1 L1937.5,1358.4 L1938.5,1358 L1939.5,1357.2 L1940.5,1357.3 L1941.5,1356.5 L1942.5,1356 L1943.5,1354.5 L1944.5,1354.5 L1945.5,1353.4 L1946.5,1353.1 L1947.5,1352.9 L1948.5,1351.8 L1949.5,1350.9 L1950.5,1350.7 L1951.5,1349.9 L1952.5,1349.5 L1953.5,1347.2 L1954.5,1347.3 L1955.5,1346.2 L1956.5,1345.2 L1957.5,1344.7 L1958.5,1343.4 L1959.5,1342.1 L1960.5,1341.8 L1961.5,1341.2 L1962.5,1341.2 L1963.5,1339.4 L1964.5,1338.4 L1965.5,1337.2 L1966.5,1336.9 L1967.5,1336 L1968.5,1335.1 L1969.5,1333.4 L1970.5,1332.7 L1971.5,1331.2 L1972.5,1331.4 L1973.5,1330.1 L1974.5,1329.2 L1975.5,1330.6 L1976.5,1330.3 L1977.5,1330.5 L1978.5,1330.9 L1979.5,1330.9 L1980.5,1332.3 L1981.5,1332.1 L1982.5,1334.1 L1983.5,1334.1 L1984.5,1334.1 L1985.5,1335.9 L1986.5,1337 L1987.5,1336.7 L1988.5,1337.7 L1989.5,1337.6 L1990.5,1337.8 L1991.5,1337.5 L1992.5,1339.4 L1993.5,1339.2 L1994.5,1339.9 L1995.5,1339.7 L1996.5,1340.1 L1997.5,1341.2 L1998.5,1340.8 L1999.5,1340.9 L2000.5,1340.7 L2001.5,1341.4 L2002.5,1341.7 L2003.5,1341.2 L2004.5,1341.4" fill="none" stroke="#ff0000" stroke-width="6.2" stroke-linejoin="round"/>
<path d="M308.5,1283.3 L309.5,1284 L310.5,1282.9 L311.5,1282.8 L312.5,1283.2 L313.5,1282.1 L314.5,1281.3 L315.5,1281.2 L316.5,1281.1 L317.5,1281.7 L318.5,1280.8 L319.5,1280.3 L320.5,1280.4 L321.5,1280.3 L322.5,1279.2 L323.5,1279.8 L324.5,1279.3 L325.5,1278.9 L326.5,1277.5 L327.5,1278.3 L328.5,1278.5 L329.5,1277.6 L330.5,1278.5 L331.5,1277.4 L332.5,1276.8 L333.5,1277.3 L334.5,1277 L335.5,1277.1 L336.5,1276.5 L337.5,1277 L338.5,1276.1 L339.5,1276.2 L340.5,1275.5 L341.5,1275.6 L342.5,1275.8 L343.5,1275.4 L344.5,1275.3 L345.5,1275.3 L346.5,1275.4 L347.5,1275.5 L348.5,1275.4 L349.5,1275.4 L350.5,1275 L351.5,1274.6 L352.5,1274.1 L353.5,1274.6 L354.5,1274.3 L355.5,1273.9 L356.5,1275.3 L357.5,1273.8 L358.5,1274.7 L359.5,1274.8 L360.5,1274.6 L361.5,1275.8 L362.5,1274.8 L363.5,1274.6 L364.5,1275.7 L365.5,1274.8 L366.5,1274.7 L367.5,1275 L368.5,1275.3 L369.5,1275.7 L370.5,1276 L371.5,1275.4 L372.5,1276.4 L373.5,1277.3 L374.5,1276.3 L375.5,1276.7 L376.5,1277.3 L377.5,1277.7 L378.5,1277.2 L379.5,1277.3 L380.5,1277.6 L381.5,1278.8 L382.5,1279.1 L383.5,1278.3 L384.5,1278.7 L385.5,1279.5 L386.5,1279.8 L387.5,1281 L388.5,1281.4 L389.5,1282.6 L390.5,1282.6 L391.5,1282.8 L392.5,1283.8 L393.5,1283.5 L394.5,1283.8 L395.5,1285 L396.5,1285.9 L397.5,1285.5 L398.5,1287.2 L399.5,1287.8 L400.5,1287.9 L401.5,1288.8 L402.5,1289.3 L403.5,1290.1 L404.5,1291.1 L405.5,1291.1 L406.5,1292.6 L407.5,1293.3 L408.5,1294.1 L409.5,1293.7 L410.5,1294.5 L411.5,1296.4 L412.5,1296.7 L413.5,1297.5 L414.5,1298.3 L415.5,1298.9 L416.5,1300.2 L417.5,1300.8 L418.5,1301.7 L419.5,1302.9 L420.5,1303 L421.5,1304.7 L422.5,1304.1 L423.5,1306.8 L424.5,1305.9 L425.5,1307.4 L426.5,1308.3 L427.5,1308.6 L428.5,1309.6 L429.5,1310 L430.5,1310 L431.5,1311.5 L432.5,1312.5 L433.5,1312.5 L434.5,1312.7 L435.5,1313.9 L436.5,1314.9 L437.5,1315.6 L438.5,1316.6 L439.5,1317.1 L440.5,1317.8 L441.5,1317.5 L442.5,1319.9 L443.5,1319.7 L444.5,1320.8 L445.5,1320.9 L446.5,1321.7 L447.5,1322.4 L448.5,1323.7 L449.5,1324.2 L450.5,1324.4 L451.5,1325.5 L452.5,1325 L453.5,1325.9 L454.5,1325.9 L455.5,1327.1 L456.5,1327 L457.5,1327.8 L458.5,1328.5 L459.5,1327.3 L460.5,1329.4 L461.5,1329 L462.5,1329.1 L463.5,1328.8 L464.5,1329.7 L465.5,1329.2 L466.5,1330.4 L467.5,1330.6 L468.5,1331.6 L469.5,1330.9 L470.5,1331.7 L471.5,1331.9 L472.5,1332.5 L473.5,1331.7 L474.5,1332.3 L475.5,1331.5 L476.5,1331.9 L477.5,1332.3 L478.5,1332.6 L479.5,1332.2 L480.5,1332.7 L481.5,1333.2 L482.5,1332.8 L483.5,1333.1 L484.5,1332.8 L485.5,1333.8 L486.5,1334.1 L487.5,1333.5 L488.5,1333.5 L489.5,1334.2 L490.5,1333.8 L491.5,1333.4 L492.5,1333.2 L493.5,1333.6 L494.5,1334.8 L495.5,1333.7 L496.5,1335.1 L497.5,1334 L498.5,1333.9 L499.5,1334.5 L500.5,1333.9 L501.5,1334.1 L502.5,1333.5 L503.5,1333.3 L504.5,1333.5 L505.5,1333.7 L506.5,1333.2 L507.5,1332.6 L508.5,1333.4 L509.5,1333 L510.5,1332.7 L511.5,1332.4 L512.5,1331.5 L513.5,1332.9 L514.5,1331.8 L515.5,1332 L516.5,1332.2 L517.5,1331.8 L518.5,1331.2 L519.5,1330.8 L520.5,1330.6 L521.5,1330.5 L522.5,1330 L523.5,1329.2 L524.5,1329.2 L525.5,1328.8 L526.5,1328.5 L527.5,1327.9 L528.5,1328 L529.5,1327.1 L530.5,1327 L531.5,1326.3 L532.5,1325.7 L533.5,1325.2 L534.5,1325.1 L535.5,1325 L536.5,1324.9 L537.5,1323.9 L538.5,1323.3 L539.5,1322.8 L540.5,1323.1 L541.5,1322.2 L542.5,1321.5 L543.5,1321.6 L544.5,1320.3 L545.5,1320.5 L546.5,1320.1 L547.5,1319.7 L548.5,1319 L549.5,1319.6 L550.5,1319.6 L551.5,1318.1 L552.5,1318.5 L553.5,1318.6 L554.5,1319.2 L555.5,1318 L556.5,1317.9 L557.5,1318.6 L558.5,1320 L559.5,1319.9 L560.5,1320.8 L561.5,1322.2 L562.5,1321.4 L563.5,1322 L564.5,1323.8 L565.5,1324.3 L566.5,1323.9 L567.5,1325.2 L568.5,1325.5 L569.5,1326.1 L570.5,1326.1 L571.5,1326.7 L572.5,1326.9 L573.5,1327.6 L574.5,1327.9 L575.5,1329 L576.5,1329 L577.5,1328.4 L578.5,1329.6 L579.5,1330.3 L580.5,1330.1 L581.5,1330.8 L582.5,1330.6 L583.5,1331.1 L584.5,1330.7 L585.5,1331.6 L586.5,1331 L587.5,1332.2 L588.5,1331.2 L589.5,1331.1 L590.5,1332.3 L591.5,1332.2 L592.5,1332.4 L593.5,1332.6 L594.5,1332.5 L595.5,1332.3 L596.5,1332.8 L597.5,1333 L598.5,1333.2 L599.5,1333.9 L600.5,1333 L601.5,1333.5 L602.5,1333.9 L603.5,1333.8 L604.5,1333.8 L605.5,1334.4 L606.5,1335.4 L607.5,1335.2 L608.5,1335.9 L609.5,1335.7 L610.5,1336.5 L611.5,1336.5 L612.5,1336.7 L613.5,1337.5 L614.5,1337.8 L615.5,1338.7 L616.5,1337.7 L617.5,1338.9 L618.5,1339.6 L619.5,1339.7 L620.5,1339.2 L621.5,1339.2 L622.5,1339.4 L623.5,1339.7 L624.5,1339.7 L625.5,1339.7 L626.5,1339.8 L627.5,1339.2 L628.5,1339.1 L629.5,1339.1 L630.5,1339 L631.5,1339.6 L632.5,1339.7 L633.5,1340.6 L634.5,1339.8 L635.5,1339.6 L636.5,1340.2 L637.5,1339.3 L638.5,1339.7 L639.5,1340 L640.5,1339.9 L641.5,1339.8 L642.5,1339.5 L643.5,1339.1 L644.5,1339.5 L645.5,1339.4 L646.5,1339.9 L647.5,1339.5 L648.5,1339.8 L649.5,1338.9 L650.5,1339.8 L651.5,1338.9 L652.5,1338.4 L653.5,1338.3 L654.5,1338.3 L655.5,1338.8 L656.5,1338.3 L657.5,1337.2 L658.5,1337.4 L659.5,1337 L660.5,1336 L661.5,1335.9 L662.5,1335.1 L663.5,1335.2 L664.5,1334.1 L665.5,1334.4 L666.5,1333.9 L667.5,1333.4 L668.5,1332.8 L669.5,1333 L670.5,1331.7 L671.5,1331.3 L672.5,1330.9 L673.5,1330.3 L674.5,1329.5 L675.5,1328.3 L676.5,1327.4 L677.5,1326.9 L678.5,1326.4 L679.5,1326 L680.5,1325.4 L681.5,1325.3 L682.5,1324.2 L683.5,1324.4 L684.5,1323.5 L685.5,1322.4 L686.5,1322.3 L687.5,1320.2 L688.5,1321.4 L689.5,1320.4 L690.5,1319.8 L691.5,1318.3 L692.5,1319.4 L693.5,1317.6 L694.5,1317 L695.5,1316.8 L696.5,1315.4 L697.5,1314.3 L698.5,1314.1 L699.5,1312.5 L700.5,1312.3 L701.5,1311 L702.5,1310.5 L703.5,1308.5 L704.5,1308.5 L705.5,1307.2 L706.5,1306.9 L707.5,1304.9 L708.5,1305 L709.5,1303.7 L710.5,1303 L711.5,1301.6 L712.5,1301.5 L713.5,1300.8 L714.5,1299.5 L715.5,1298.8 L716.5,1298.3 L717.5,1298.6 L718.5,1297.4 L719.5,1297.2 L720.5,1296.3 L721.5,1295.7 L722.5,1295.2 L723.5,1294.4 L724.5,1294.5 L725.5,1293.5 L726.5,1293 L727.5,1291.9 L728.5,1292.1 L729.5,1291.1 L730.5,1290.7 L731.5,1290.8 L732.5,1289.4 L733.5,1289.3 L734.5,1289.2 L735.5,1288.9 L736.5,1287.8 L737.5,1287.7 L738.5,1287.3 L739.5,1286.3 L740.5,1285.5 L741.5,1285.3 L742.5,1286 L743.5,1285.5 L744.5,1284.7 L745.5,1284.7 L746.5,1284.6 L747.5,1284.3 L748.5,1284.3 L749.5,1285 L750.5,1283.5 L751.5,1283.7 L752.5,1283.1 L753.5,1283 L754.5,1282.8 L755.5,1282.9 L756.5,1282.6 L757.5,1282.8 L758.5,1282.6 L759.5,1282 L760.5,1283 L761.5,1281.6 L762.5,1282.1 L763.5,1282.7 L764.5,1281.4 L765.5,1282.1 L766.5,1282 L767.5,1281.5 L768.5,1280.5 L769.5,1281.7 L770.5,1281.1 L771.5,1280.8 L772.5,1281.5 L773.5,1280.6 L774.5,1281.3 L775.5,1280.7 L776.5,1281.2 L777.5,1280.5 L778.5,1280.9 L779.5,1280.8 L780.5,1280.9 L781.5,1281.4 L782.5,1281.4 L783.5,1281.6 L784.5,1282.2 L785.5,1281.8 L786.5,1281.2 L787.5,1282 L788.5,1282.3 L789.5,1282.8 L790.5,1283 L791.5,1283.1 L792.5,1282.8 L793.5,1283.3 L794.5,1282.7 L795.5,1284 L796.5,1283.9 L797.5,1284.2 L798.5,1284.1 L799.5,1284.6 L800.5,1284.5 L801.5,1285.3 L802.5,1284.9 L803.5,1286.1 L804.5,1286.2 L805.5,1287.1 L806.5,1286.6 L807.5,1286.9 L808.5,1287.4 L809.5,1287.7 L810.5,1288 L811.5,1288 L812.5,1288.4 L813.5,1289.1 L814.5,1289.6 L815.5,1289.7 L816.5,1290.1 L817.5,1290.9 L818.5,1291.7 L819.5,1291.7 L820.5,1292.5 L821.5,1293 L822.5,1293.3 L823.5,1293.2 L824.5,1293.7 L825.5,1293.5 L826.5,1294.5 L827.5,1295.4 L828.5,1295.3 L829.5,1296.7 L830.5,1297.2 L831.5,1296.9 L832.5,1297.8 L833.5,1297.1 L834.5,1297.5 L835.5,1298 L836.5,1298.3 L837.5,1298.3 L838.5,1297.9 L839.5,1298.3 L840.5,1296.4 L841.5,1294.9 L842.5,1293.5 L843.5,1291.8 L844.5,1290.4 L845.5,1289.5 L846.5,1288.7 L847.5,1289.8 L848.5,1288.6 L849.5,1288.1 L850.5,1288.3 L851.5,1287.9 L852.5,1289.2 L853.5,1288.5 L854.5,1288.8 L855.5,1288.7 L856.5,1288.3 L857.5,1288.2 L858.5,1287.5 L859.5,1287.6 L860.5,1287.3 L861.5,1287.3 L862.5,1286.8 L863.5,1287.3 L864.5,1286.8 L865.5,1286.1 L866.5,1285.1 L867.5,1285.7 L868.5,1285.4 L869.5,1284.6 L870.5,1283.8 L871.5,1284.1 L872.5,1284 L873.5,1282.5 L874.5,1283.2 L875.5,1281.9 L876.5,1282.4 L877.5,1282.8 L878.5,1281.8 L879.5,1281.6 L880.5,1281 L881.5,1280.8 L882.5,1281.5 L883.5,1280.8 L884.5,1279.8 L885.5,1279.5 L886.5,1279.4 L887.5,1280 L888.5,1278.9 L889.5,1279 L890.5,1278.2 L891.5,1277.6 L892.5,1278.4 L893.5,1277.6 L894.5,1277.1 L895.5,1277 L896.5,1276.8 L897.5,1276.7 L898.5,1276.2 L899.5,1277.2 L900.5,1276.7 L901.5,1276.8 L902.5,1276.1 L903.5,1276.2 L904.5,1276 L905.5,1276.3 L906.5,1276 L907.5,1275.7 L908.5,1275.2 L909.5,1274.8 L910.5,1274.9 L911.5,1274.9 L912.5,1274.8 L913.5,1274.4 L914.5,1275.5 L915.5,1274.9 L916.5,1273.9 L917.5,1274.2 L918.5,1274.1 L919.5,1274.7 L920.5,1275 L921.5,1274.2 L922.5,1274.9 L923.5,1274.5 L924.5,1275.2 L925.5,1275.3 L926.5,1275 L927.5,1275.3 L928.5,1275.1 L929.5,1275.1 L930.5,1274.9 L931.5,1275.6 L932.5,1275.6 L933.5,1275.6 L934.5,1275.9 L935.5,1276.1 L936.5,1275.9 L937.5,1276.3 L938.5,1277.2 L939.5,1276.8 L940.5,1277.7 L941.5,1276.9 L942.5,1277.1 L943.5,1278 L944.5,1278.6 L945.5,1278.3 L946.5,1279.3 L947.5,1279.8 L948.5,1280.3 L949.5,1280.2 L950.5,1280.7 L951.5,1280.5 L952.5,1281.6 L953.5,1282.2 L954.5,1283.1 L955.5,1282.6 L956.5,1283.3 L957.5,1283.8 L958.5,1285.1 L959.5,1284.3 L960.5,1285.5 L961.5,1287.4 L962.5,1287.5 L963.5,1287.3 L964.5,1288.5 L965.5,1289.5 L966.5,1290.1 L967.5,1290.4 L968.5,1290.9 L969.5,1292.2 L970.5,1292.6 L971.5,1293.7 L972.5,1294.3 L973.5,1294.8 L974.5,1296.4 L975.5,1296.4 L976.5,1297.6 L977.5,1298.1 L978.5,1299.1 L979.5,1299.9 L980.5,1300.6 L981.5,1301.7 L982.5,1303 L983.5,1304 L984.5,1304.6 L985.5,1304.6 L986.5,1306 L987.5,1306.4 L988.5,1307.6 L989.5,1307.1 L990.5,1308.9 L991.5,1308.8 L992.5,1310.2 L993.5,1310.2 L994.5,1311.5 L995.5,1311.7 L996.5,1311.7 L997.5,1312.8 L998.5,1313.8 L999.5,1314.5 L1000.5,1314.3 L1001.5,1315.4 L1002.5,1316.3 L1003.5,1317.2 L1004.5,1318.1 L1005.5,1318.4 L1006.5,1318.8 L1007.5,1320.3 L1008.5,1320.7 L1009.5,1321.9 L1010.5,1321.9 L1011.5,1323 L1012.5,1323 L1013.5,1324.1 L1014.5,1324.6 L1015.5,1325.2 L1016.5,1325.1 L1017.5,1325.9 L1018.5,1326 L1019.5,1326.7 L1020.5,1327.5 L1021.5,1328.8 L1022.5,1328 L1023.5,1328.7 L1024.5,1328.8 L1025.5,1329.6 L1026.5,1329.6 L1027.5,1330.2 L1028.5,1330.2 L1029.5,1331.3 L1030.5,1331.1 L1031.5,1330.1 L1032.5,1331.1 L1033.5,1331.2 L1034.5,1330.5 L1035.5,1331.2 L1036.5,1331.6 L1037.5,1331.6 L1038.5,1332.1 L1039.5,1331.5 L1040.5,1332.7 L1041.5,1332.8 L1042.5,1332.8 L1043.5,1332.7 L1044.5,1332.9 L1045.5,1332.8 L1046.5,1333.6 L1047.5,1333.4 L1048.5,1334.1 L1049.5,1333.2 L1050.5,1334 L1051.5,1333.2 L1052.5,1333.5 L1053.5,1333.2 L1054.5,1333.9 L1055.5,1333.7 L1056.5,1334 L1057.5,1334.4 L1058.5,1333.9 L1059.5,1334.1 L1060.5,1334.3 L1061.5,1334 L1062.5,1333.8 L1063.5,1334.1 L1064.5,1334.2 L1065.5,1334.3 L1066.5,1334.2 L1067.5,1333.5 L1068.5,1333.9 L1069.5,1334.1 L1070.5,1333.2 L1071.5,1333.4 L1072.5,1332.9 L1073.5,1333 L1074.5,1333.4 L1075.5,1332.6 L1076.5,1331.9 L1077.5,1332.3 L1078.5,1332 L1079.5,1332.2 L1080.5,1330.9 L1081.5,1330.9 L1082.5,1330.9 L1083.5,1330 L1084.5,1330.7 L1085.5,1329.1 L1086.5,1329.2 L1087.5,1328.6 L1088.5,1328.5 L1089.5,1328.7 L1090.5,1328.2 L1091.5,1327.9 L1092.5,1327.4 L1093.5,1326 L1094.5,1326.5 L1095.5,1325.3 L1096.5,1325.5 L1097.5,1325.2 L1098.5,1324.7 L1099.5,1324.7 L1100.5,1323.8 L1101.5,1324.4 L1102.5,1323.5 L1103.5,1323.2 L1104.5,1322.6 L1105.5,1322.3 L1106.5,1321.5 L1107.5,1321.8 L1108.5,1320.2 L1109.5,1320.5 L1110.5,1319.9 L1111.5,1319.5 L1112.5,1319.4 L1113.5,1318.7 L1114.5,1319.1 L1115.5,1318.9 L1116.5,1318.4 L1117.5,1318.6 L1118.5,1317.8 L1119.5,1317.5 L1120.5,1318.2 L1121.5,1318.8 L1122.5,1320.6 L1123.5,1320.2 L1124.5,1321.6 L1125.5,1322.3 L1126.5,1323.5 L1127.5,1323.3 L1128.5,1324 L1129.5,1324.2 L1130.5,1324.5 L1131.5,1324.9 L1132.5,1325.5 L1133.5,1326.9 L1134.5,1326.8 L1135.5,1327 L1136.5,1327.5 L1137.5,1327.6 L1138.5,1328.2 L1139.5,1328.6 L1140.5,1329.2 L1141.5,1329.6 L1142.5,1328.9 L1143.5,1330 L1144.5,1330.8 L1145.5,1330.1 L1146.5,1330.7 L1147.5,1331.1 L1148.5,1331.7 L1149.5,1331.7 L1150.5,1331.5 L1151.5,1332 L1152.5,1332.4 L1153.5,1332.2 L1154.5,1332.9 L1155.5,1332.5 L1156.5,1332 L1157.5,1332.2 L1158.5,1332.5 L1159.5,1332.6 L1160.5,1333.1 L1161.5,1333.1 L1162.5,1333.8 L1163.5,1333.5 L1164.5,1334 L1165.5,1333.3 L1166.5,1333.7 L1167.5,1334.4 L1168.5,1334.5 L1169.5,1335 L1170.5,1335.2 L1171.5,1335.2 L1172.5,1336.5 L1173.5,1336.7 L1174.5,1336 L1175.5,1336.7 L1176.5,1337.3 L1177.5,1337.9 L1178.5,1338 L1179.5,1337.8 L1180.5,1338.9 L1181.5,1338.8 L1182.5,1339.6 L1183.5,1339.4 L1184.5,1339.8 L1185.5,1339.9 L1186.5,1339.9 L1187.5,1339.4 L1188.5,1340 L1189.5,1339.7 L1190.5,1339.1 L1191.5,1339.4 L1192.5,1339.5 L1193.5,1339.8 L1194.5,1339.9 L1195.5,1339.2 L1196.5,1339.9 L1197.5,1339.6 L1198.5,1339.2 L1199.5,1339.9 L1200.5,1339.3 L1201.5,1339.1 L1202.5,1339.9 L1203.5,1340 L1204.5,1339.3 L1205.5,1340 L1206.5,1340 L1207.5,1339.4 L1208.5,1340.4 L1209.5,1339.6 L1210.5,1339.7 L1211.5,1338.7 L1212.5,1339.8 L1213.5,1339.2 L1214.5,1339.5 L1215.5,1338.5 L1216.5,1339.4 L1217.5,1339.3 L1218.5,1339.2 L1219.5,1337 L1220.5,1338.1 L1221.5,1337.6 L1222.5,1335.9 L1223.5,1336.5 L1224.5,1336.4 L1225.5,1336.6 L1226.5,1335.4 L1227.5,1335.4 L1228.5,1334.9 L1229.5,1334.6 L1230.5,1333.8 L1231.5,1333.7 L1232.5,1333.2 L1233.5,1331.6 L1234.5,1332 L1235.5,1330.6 L1236.5,1330.1 L1237.5,1330 L1238.5,1328.9 L1239.5,1328.4 L1240.5,1327.8 L1241.5,1327.1 L1242.5,1326 L1243.5,1325.3 L1244.5,1325.3 L1245.5,1324.8 L1246.5,1324.1 L1247.5,1323.3 L1248.5,1323.1 L1249.5,1322.2 L1250.5,1321.1 L1251.5,1321.2 L1252.5,1320.7 L1253.5,1320.2 L1254.5,1318.9 L1255.5,1318.4 L1256.5,1318.1 L1257.5,1317.1 L1258.5,1316.6 L1259.5,1316.2 L1260.5,1315.2 L1261.5,1314.9 L1262.5,1313.4 L1263.5,1313 L1264.5,1311.8 L1265.5,1311.4 L1266.5,1309.4 L1267.5,1308.4 L1268.5,1308 L1269.5,1306.3 L1270.5,1305.4 L1271.5,1304.8 L1272.5,1304 L1273.5,1302.4 L1274.5,1302.4 L1275.5,1301.4 L1276.5,1300.8 L1277.5,1300.3 L1278.5,1299.5 L1279.5,1299.3 L1280.5,1298.5 L1281.5,1297.6 L1282.5,1297.1 L1283.5,1296.9 L1284.5,1296.2 L1285.5,1295.8 L1286.5,1294.7 L1287.5,1294.3 L1288.5,1294.5 L1289.5,1293.2 L1290.5,1293.4 L1291.5,1292.5 L1292.5,1291.5 L1293.5,1290.6 L1294.5,1290.9 L1295.5,1289.8 L1296.5,1289.3 L1297.5,1288.4 L1298.5,1289.1 L1299.5,1288.2 L1300.5,1287.8 L1301.5,1287.5 L1302.5,1287 L1303.5,1286.6 L1304.5,1286.4 L1305.5,1285.8 L1306.5,1284.6 L1307.5,1285.7 L1308.5,1285.3 L1309.5,1284.9 L1310.5,1285.3 L1311.5,1283.8 L1312.5,1283 L1313.5,1284.6 L1314.5,1283.9 L1315.5,1282.9 L1316.5,1283.2 L1317.5,1283.5 L1318.5,1282.6 L1319.5,1283.1 L1320.5,1283.6 L1321.5,1283.2 L1322.5,1282.5 L1323.5,1282.5 L1324.5,1281.8 L1325.5,1282.1 L1326.5,1281.8 L1327.5,1281.4 L1328.5,1281.1 L1329.5,1282.3 L1330.5,1281.4 L1331.5,1280.9 L1332.5,1281 L1333.5,1281.7 L1334.5,1281.7 L1335.5,1280.8 L1336.5,1281 L1337.5,1281.3 L1338.5,1280.8 L1339.5,1280.5 L1340.5,1280.6 L1341.5,1281.1 L1342.5,1280.8 L1343.5,1280.7 L1344.5,1281.2 L1345.5,1281.8 L1346.5,1281.8 L1347.5,1281.6 L1348.5,1282.6 L1349.5,1281.6 L1350.5,1282 L1351.5,1281.7 L1352.5,1282.7 L1353.5,1282.5 L1354.5,1282 L1355.5,1282.5 L1356.5,1283.7 L1357.5,1283.5 L1358.5,1283.5 L1359.5,1284 L1360.5,1283.3 L1361.5,1283.9 L1362.5,1283.9 L1363.5,1284.4 L1364.5,1284.9 L1365.5,1285.5 L1366.5,1286 L1367.5,1286.3 L1368.5,1287.3 L1369.5,1286.3 L1370.5,1286.9 L1371.5,1287.4 L1372.5,1287.2 L1373.5,1287.8 L1374.5,1288.5 L1375.5,1288.4 L1376.5,1289.3 L1377.5,1290.1 L1378.5,1289.6 L1379.5,1289.5 L1380.5,1290.9 L1381.5,1290.9 L1382.5,1291.8 L1383.5,1291.9 L1384.5,1292.6 L1385.5,1293.3 L1386.5,1293.6 L1387.5,1293.6 L1388.5,1293.7 L1389.5,1293.6 L1390.5,1294.2 L1391.5,1295.2 L1392.5,1296.1 L1393.5,1296.2 L1394.5,1296.6 L1395.5,1296.6 L1396.5,1297 L1397.5,1297.2 L1398.5,1298.4 L1399.5,1297.5 L1400.5,1298.7 L1401.5,1298 L1402.5,1298.1 L1403.5,1296.9 L1404.5,1295.7 L1405.5,1294.3 L1406.5,1292 L1407.5,1290.5 L1408.5,1289.8 L1409.5,1289.2 L1410.5,1289.5 L1411.5,1289 L1412.5,1288.9 L1413.5,1288.9 L1414.5,1288.4 L1415.5,1288.9 L1416.5,1287.6 L1417.5,1288.4 L1418.5,1288.4 L1419.5,1287.8 L1420.5,1287.7 L1421.5,1288.2 L1422.5,1287.6 L1423.5,1286.8 L1424.5,1286.9 L1425.5,1287.6 L1426.5,1286.6 L1427.5,1287.2 L1428.5,1286.9 L1429.5,1285.9 L1430.5,1285.8 L1431.5,1284.9 L1432.5,1284.7 L1433.5,1284.2 L1434.5,1284.3 L1435.5,1283.2 L1436.5,1283.3 L1437.5,1283.1 L1438.5,1283 L1439.5,1281.6 L1440.5,1281.5 L1441.5,1281.5 L1442.5,1281.5 L1443.5,1281.3 L1444.5,1281 L1445.5,1281.4 L1446.5,1280.6 L1447.5,1280.3 L1448.5,1279.5 L1449.5,1279.8 L1450.5,1279.5 L1451.5,1279.2 L1452.5,1278.6 L1453.5,1278.7 L1454.5,1278.8 L1455.5,1277.6 L1456.5,1276.9 L1457.5,1277.9 L1458.5,1277.6 L1459.5,1277.1 L1460.5,1276.8 L1461.5,1278 L1462.5,1276.5 L1463.5,1276.1 L1464.5,1276.2 L1465.5,1276.5 L1466.5,1275.9 L1467.5,1275.8 L1468.5,1276 L1469.5,1275.6 L1470.5,1275.7 L1471.5,1275.5 L1472.5,1274.9 L1473.5,1275.3 L1474.5,1274.7 L1475.5,1275.4 L1476.5,1274.6 L1477.5,1274.8 L1478.5,1274.1 L1479.5,1274.6 L1480.5,1274.2 L1481.5,1275.2 L1482.5,1274.6 L1483.5,1274.8 L1484.5,1273.9 L1485.5,1274.1 L1486.5,1274.6 L1487.5,1274.1 L1488.5,1275.2 L1489.5,1274.7 L1490.5,1275 L1491.5,1275.1 L1492.5,1275.1 L1493.5,1275.6 L1494.5,1275.1 L1495.5,1275.7 L1496.5,1276.2 L1497.5,1276 L1498.5,1276.1 L1499.5,1276.1 L1500.5,1276.5 L1501.5,1276.9 L1502.5,1276.7 L1503.5,1276.3 L1504.5,1277.3 L1505.5,1277.4 L1506.5,1278 L1507.5,1278.1 L1508.5,1279.1 L1509.5,1278.4 L1510.5,1278.8 L1511.5,1279.9 L1512.5,1279.7 L1513.5,1280.6 L1514.5,1281 L1515.5,1280.6 L1516.5,1282.1 L1517.5,1282.9 L1518.5,1282.9 L1519.5,1282.8 L1520.5,1284.2 L1521.5,1284.1 L1522.5,1285 L1523.5,1285.8 L1524.5,1286 L1525.5,1286.3 L1526.5,1287.5 L1527.5,1288.2 L1528.5,1288.5 L1529.5,1289.2 L1530.5,1290.5 L1531.5,1290.9 L1532.5,1291.4 L1533.5,1292.1 L1534.5,1293.1 L1535.5,1293.9 L1536.5,1294.6 L1537.5,1294.9 L1538.5,1296.1 L1539.5,1296.9 L1540.5,1298 L1541.5,1299.3 L1542.5,1300 L1543.5,1300.7 L1544.5,1301.3 L1545.5,1302 L1546.5,1303 L1547.5,1303.5 L1548.5,1304.3 L1549.5,1304.8 L1550.5,1305.9 L1551.5,1306.6 L1552.5,1308 L1553.5,1308.2 L1554.5,1308.6 L1555.5,1309.7 L1556.5,1310 L1557.5,1311.2 L1558.5,1311.8 L1559.5,1313.3 L1560.5,1312.5 L1561.5,1313.5 L1562.5,1314.2 L1563.5,1315 L1564.5,1315.9 L1565.5,1315.9 L1566.5,1316.7 L1567.5,1317.8 L1568.5,1318.8 L1569.5,1318.7 L1570.5,1319.2 L1571.5,1321 L1572.5,1321.5 L1573.5,1322.3 L1574.5,1322.1 L1575.5,1323.1 L1576.5,1323.8 L1577.5,1324.5 L1578.5,1324.8 L1579.5,1325.3 L1580.5,1326.1 L1581.5,1326 L1582.5,1326.4 L1583.5,1326.9 L1584.5,1327.3 L1585.5,1327.9 L1586.5,1328.2 L1587.5,1328.4 L1588.5,1329.5 L1589.5,1329.4 L1590.5,1329.5 L1591.5,1330.4 L1592.5,1330 L1593.5,1330.5 L1594.5,1330.7 L1595.5,1330.7 L1596.5,1331 L1597.5,1331.3 L1598.5,1330.9 L1599.5,1331.5 L1600.5,1331.9 L1601.5,1332.1 L1602.5,1332.3 L1603.5,1333.2 L1604.5,1332.7 L1605.5,1332.5 L1606.5,1332.7 L1607.5,1332.8 L1608.5,1333.1 L1609.5,1332.9 L1610.5,1333.7 L1611.5,1332.8 L1612.5,1333.5 L1613.5,1333.5 L1614.5,1333 L1615.5,1333.7 L1616.5,1333.8 L1617.5,1333.4 L1618.5,1334.6 L1619.5,1334 L1620.5,1333.7 L1621.5,1333.7 L1622.5,1333.6 L1623.5,1334 L1624.5,1334 L1625.5,1333.4 L1626.5,1333.6 L1627.5,1333.7 L1628.5,1333.8 L1629.5,1333.8 L1630.5,1333.6 L1631.5,1334 L1632.5,1334 L1633.5,1333.5 L1634.5,1332.5 L1635.5,1333.1 L1636.5,1333.2 L1637.5,1332.8 L1638.5,1332.7 L1639.5,1332.4 L1640.5,1331.6 L1641.5,1331 L1642.5,1332 L1643.5,1331.4 L1644.5,1331.5 L1645.5,1330.9 L1646.5,1330.7 L1647.5,1330.9 L1648.5,1329.6 L1649.5,1329.7 L1650.5,1328.9 L1651.5,1328.9 L1652.5,1328.7 L1653.5,1328.3 L1654.5,1327.8 L1655.5,1326.8 L1656.5,1327 L1657.5,1326.9 L1658.5,1326.6 L1659.5,1326.7 L1660.5,1325.7 L1661.5,1324.7 L1662.5,1324.5 L1663.5,1324.3 L1664.5,1324.2 L1665.5,1322.9 L1666.5,1323.3 L1667.5,1322.7 L1668.5,1321.7 L1669.5,1321.9 L1670.5,1320.9 L1671.5,1320.8 L1672.5,1320.3 L1673.5,1320.1 L1674.5,1319.2 L1675.5,1319.6 L1676.5,1318.3 L1677.5,1318.7 L1678.5,1318.4 L1679.5,1319 L1680.5,1318.5 L1681.5,1318 L1682.5,1317.8 L1683.5,1318.3 L1684.5,1318.5 L1685.5,1320.1 L1686.5,1319 L1687.5,1320.8 L1688.5,1320.7 L1689.5,1322.8 L1690.5,1322.7 L1691.5,1324.1 L1692.5,1323.9 L1693.5,1325 L1694.5,1325.2 L1695.5,1326.1 L1696.5,1326.1 L1697.5,1325.4 L1698.5,1326.6 L1699.5,1326.7 L1700.5,1328 L1701.5,1328.3 L1702.5,1328.4 L1703.5,1328.9 L1704.5,1329.2 L1705.5,1329.2 L1706.5,1330.5 L1707.5,1330.2 L1708.5,1330.3 L1709.5,1330.1 L1710.5,1330.7 L1711.5,1331.1 L1712.5,1331.3 L1713.5,1331.4 L1714.5,1331.7 L1715.5,1331.4 L1716.5,1332 L1717.5,1331.5 L1718.5,1331.9 L1719.5,1332.1 L1720.5,1332.8 L1721.5,1332.7 L1722.5,1332.7 L1723.5,1332.3 L1724.5,1332.7 L1725.5,1333.3 L1726.5,1333.6 L1727.5,1332.7 L1728.5,1333.3 L1729.5,1333.8 L1730.5,1334.2 L1731.5,1334.3 L1732.5,1334.9 L1733.5,1334.4 L1734.5,1335.9 L1735.5,1335.2 L1736.5,1336.1 L1737.5,1336.6 L1738.5,1337.2 L1739.5,1337.5 L1740.5,1337.8 L1741.5,1338.3 L1742.5,1338.1 L1743.5,1338.7 L1744.5,1339.3 L1745.5,1338.7 L1746.5,1338.6 L1747.5,1339 L1748.5,1340 L1749.5,1340 L1750.5,1339.5 L1751.5,1339.7 L1752.5,1339.8 L1753.5,1340 L1754.5,1338.9 L1755.5,1339.4 L1756.5,1339.5 L1757.5,1339.7 L1758.5,1339.6 L1759.5,1339.5 L1760.5,1339.7 L1761.5,1338.6 L1762.5,1340.8 L1763.5,1339.9 L1764.5,1339.9 L1765.5,1339.3 L1766.5,1339.7 L1767.5,1340.4 L1768.5,1340.3 L1769.5,1339.6 L1770.5,1339.1 L1771.5,1339.7 L1772.5,1339.5 L1773.5,1339.9 L1774.5,1339.1 L1775.5,1339.5 L1776.5,1339.6 L1777.5,1339.2 L1778.5,1339.6 L1779.5,1338.6 L1780.5,1338.3 L1781.5,1338.4 L1782.5,1338.6 L1783.5,1337.8 L1784.5,1337.4 L1785.5,1337.6 L1786.5,1337 L1787.5,1336.4 L1788.5,1336.3 L1789.5,1335.8 L1790.5,1335.7 L1791.5,1335.1 L1792.5,1334.3 L1793.5,1333.9 L1794.5,1333.4 L1795.5,1333.1 L1796.5,1332.5 L1797.5,1331.4 L1798.5,1331 L1799.5,1330.5 L1800.5,1330.2 L1801.5,1329.2 L1802.5,1329.1 L1803.5,1327.7 L1804.5,1327.4 L1805.5,1326.3 L1806.5,1325.5 L1807.5,1325.3 L1808.5,1324.9 L1809.5,1324.2 L1810.5,1323.6 L1811.5,1322.9 L1812.5,1322.1 L1813.5,1321.8 L1814.5,1321.5 L1815.5,1321.1 L1816.5,1318.9 L1817.5,1319.7 L1818.5,1319.3 L1819.5,1318.7 L1820.5,1317.7 L1821.5,1317.1 L1822.5,1316 L1823.5,1315.3 L1824.5,1314.7 L1825.5,1313.2 L1826.5,1312.4 L1827.5,1311.8 L1828.5,1310.3 L1829.5,1309.8 L1830.5,1308.2 L1831.5,1307.9 L1832.5,1306.9 L1833.5,1305.7 L1834.5,1304.6 L1835.5,1303.9 L1836.5,1302.4 L1837.5,1302.4 L1838.5,1301.8 L1839.5,1301.6 L1840.5,1300.2 L1841.5,1299.7 L1842.5,1299.6 L1843.5,1299.1 L1844.5,1297.7 L1845.5,1297.7 L1846.5,1297.1 L1847.5,1296.3 L1848.5,1295.1 L1849.5,1294.6 L1850.5,1294.6 L1851.5,1294.8 L1852.5,1293.3 L1853.5,1293.4 L1854.5,1293.1 L1855.5,1291.3 L1856.5,1291.1 L1857.5,1291.4 L1858.5,1290.6 L1859.5,1290 L1860.5,1289.3 L1861.5,1289 L1862.5,1288.1 L1863.5,1288.8 L1864.5,1287 L1865.5,1286.4 L1866.5,1286.7 L1867.5,1286.9 L1868.5,1285.8 L1869.5,1285.7 L1870.5,1285 L1871.5,1285.1 L1872.5,1284.5 L1873.5,1284.3 L1874.5,1283.9 L1875.5,1284 L1876.5,1284.7 L1877.5,1283.8 L1878.5,1283.7 L1879.5,1284.3 L1880.5,1283 L1881.5,1282.7 L1882.5,1283.1 L1883.5,1282.3 L1884.5,1282.7 L1885.5,1282.9 L1886.5,1281.9 L1887.5,1282 L1888.5,1282.7 L1889.5,1281.5 L1890.5,1281.5 L1891.5,1281.7 L1892.5,1281.4 L1893.5,1281.1 L1894.5,1281.9 L1895.5,1281 L1896.5,1281.2 L1897.5,1280.9 L1898.5,1280.9 L1899.5,1280.4 L1900.5,1281.3 L1901.5,1280.7 L1902.5,1281.4 L1903.5,1280.5 L1904.5,1280.8 L1905.5,1281.2 L1906.5,1281.2 L1907.5,1281 L1908.5,1281.3 L1909.5,1280.9 L1910.5,1281.6 L1911.5,1280.7 L1912.5,1281.9 L1913.5,1282.5 L1914.5,1282.5 L1915.5,1282.6 L1916.5,1282.2 L1917.5,1282.7 L1918.5,1282.6 L1919.5,1282.9 L1920.5,1283.1 L1921.5,1282 L1922.5,1283.9 L1923.5,1284 L1924.5,1284.4 L1925.5,1283.9 L1926.5,1284.8 L1927.5,1285 L1928.5,1284.3 L1929.5,1284.8 L1930.5,1285.8 L1931.5,1285.8 L1932.5,1286.4 L1933.5,1286.4 L1934.5,1287.6 L1935.5,1286.6 L1936.5,1287.2 L1937.5,1287.8 L1938.5,1288 L1939.5,1288.7 L1940.5,1289.4 L1941.5,1289.3 L1942.5,1290.4 L1943.5,1291.1 L1944.5,1291.5 L1945.5,1292.3 L1946.5,1292.3 L1947.5,1292.3 L1948.5,1293.4 L1949.5,1293.3 L1950.5,1294.2 L1951.5,1293.8 L1952.5,1293.6 L1953.5,1294.4 L1954.5,1295.4 L1955.5,1296 L1956.5,1296.2 L1957.5,1297.1 L1958.5,1296.6 L1959.5,1297.2 L1960.5,1298.1 L1961.5,1298 L1962.5,1298.3 L1963.5,1298.9 L1964.5,1298.8 L1965.5,1297.8 L1966.5,1297.3 L1967.5,1295.3 L1968.5,1294.4 L1969.5,1293 L1970.5,1290.8 L1971.5,1290.9 L1972.5,1290.4 L1973.5,1289.6 L1974.5,1289.5 L1975.5,1289.5 L1976.5,1288.7 L1977.5,1289 L1978.5,1288.7 L1979.5,1287.8 L1980.5,1288 L1981.5,1288 L1982.5,1288.5 L1983.5,1288.1 L1984.5,1288.3 L1985.5,1287.6 L1986.5,1287.1 L1987.5,1288.3 L1988.5,1288.3 L1989.5,1287.2 L1990.5,1286.7 L1991.5,1286.9 L1992.5,1285.7 L1993.5,1285.7 L1994.5,1284.8 L1995.5,1285.2 L1996.5,1284.7 L1997.5,1284.1 L1998.5,1283.6 L1999.5,1282.9 L2000.5,1282.9 L2001.5,1283.4 L2002.5,1282.5 L2003.5,1282.8 L2004.5,1281.6" fill="none" stroke="#0000ff" stroke-width="6.2" stroke-linejoin="round"/>
<path d="M308.5,1299.7 L309.5,1299.7 L310.5,1300 L311.5,1300.5 L312.5,1299.5 L313.5,1300.7 L314.5,1300.8 L315.5,1300.7 L316.5,1300.8 L317.5,1300.8 L318.5,1301.3 L319.5,1301.1 L320.5,1300.9 L321.5,1301.3 L322.5,1301.7 L323.5,1301.6 L324.5,1301.6 L325.5,1301.7 L326.5,1301.5 L327.5,1301.6 L328.5,1301.2 L329.5,1301.9 L330.5,1302.4 L331.5,1302 L332.5,1301.9 L333.5,1302.7 L334.5,1302.5 L335.5,1302.5 L336.5,1302.8 L337.5,1302.9 L338.5,1302.8 L339.5,1302.5 L340.5,1303.6 L341.5,1303.1 L342.5,1302.9 L343.5,1303.4 L344.5,1303.9 L345.5,1303 L346.5,1304.1 L347.5,1303.7 L348.5,1304.6 L349.5,1304.2 L350.5,1304 L351.5,1304.6 L352.5,1304.7 L353.5,1304.2 L354.5,1304.6 L355.5,1304.4 L356.5,1305 L357.5,1304.3 L358.5,1304.8 L359.5,1304.2 L360.5,1305.4 L361.5,1304.4 L362.5,1305 L363.5,1305.6 L364.5,1305.5 L365.5,1305.6 L366.5,1305.6 L367.5,1305.9 L368.5,1305.6 L369.5,1306.5 L370.5,1306.9 L371.5,1307.1 L372.5,1306.9 L373.5,1307.6 L374.5,1307.5 L375.5,1307.9 L376.5,1307.9 L377.5,1308.1 L378.5,1308.1 L379.5,1307.6 L380.5,1309.2 L381.5,1309.2 L382.5,1310.4 L383.5,1309.2 L384.5,1310.6 L385.5,1310.2 L386.5,1310.9 L387.5,1310.9 L388.5,1311.7 L389.5,1311.9 L390.5,1312.5 L391.5,1312.5 L392.5,1313 L393.5,1313.6 L394.5,1313.6 L395.5,1313.7 L396.5,1314.6 L397.5,1314.4 L398.5,1314.9 L399.5,1314.9 L400.5,1315.1 L401.5,1314.5 L402.5,1316.2 L403.5,1315.8 L404.5,1316.7 L405.5,1317.4 L406.5,1316.4 L407.5,1317.5 L408.5,1317.3 L409.5,1317.7 L410.5,1317.2 L411.5,1317.9 L412.5,1318.1 L413.5,1318.7 L414.5,1319.2 L415.5,1318.6 L416.5,1318.6 L417.5,1319.8 L418.5,1319.1 L419.5,1319.4 L420.5,1319.7 L421.5,1320.1 L422.5,1320.6 L423.5,1320.6 L424.5,1321.2 L425.5,1322.6 L426.5,1323.1 L427.5,1323.2 L428.5,1323.8 L429.5,1324.3 L430.5,1325.4 L431.5,1325.5 L432.5,1326.3 L433.5,1326.7 L434.5,1327.2 L435.5,1328 L436.5,1328.4 L437.5,1328.5 L438.5,1329.1 L439.5,1329.5 L440.5,1329.6 L441.5,1329.9 L442.5,1330.3 L443.5,1330.9 L444.5,1331.4 L445.5,1331.3 L446.5,1331.4 L447.5,1331.8 L448.5,1332.8 L449.5,1332.6 L450.5,1332.2 L451.5,1332.8 L452.5,1332.9 L453.5,1333.3 L454.5,1333.1 L455.5,1334.1 L456.5,1333.9 L457.5,1334.6 L458.5,1335.7 L459.5,1335.9 L460.5,1335.5 L461.5,1335.8 L462.5,1336.2 L463.5,1336.1 L464.5,1336.7 L465.5,1337.3 L466.5,1337.2 L467.5,1338.1 L468.5,1338 L469.5,1337.9 L470.5,1339 L471.5,1338.7 L472.5,1338.6 L473.5,1339.4 L474.5,1339.4 L475.5,1338.7 L476.5,1339.2 L477.5,1339 L478.5,1338.8 L479.5,1340.1 L480.5,1340 L481.5,1339 L482.5,1339.8 L483.5,1339 L484.5,1340 L485.5,1339.6 L486.5,1339.5 L487.5,1340.1 L488.5,1339.6 L489.5,1339.5 L490.5,1340 L491.5,1339.5 L492.5,1339.9 L493.5,1339.6 L494.5,1339.9 L495.5,1339.8 L496.5,1339.9 L497.5,1339.2 L498.5,1340.3 L499.5,1339.5 L500.5,1340.3 L501.5,1339.4 L502.5,1339.5 L503.5,1339.4 L504.5,1339.9 L505.5,1339.2 L506.5,1339.4 L507.5,1338.6 L508.5,1338.9 L509.5,1339 L510.5,1338.8 L511.5,1338 L512.5,1338.7 L513.5,1338 L514.5,1339 L515.5,1338 L516.5,1338.8 L517.5,1338 L518.5,1337.8 L519.5,1337.2 L520.5,1337.2 L521.5,1337.1 L522.5,1336 L523.5,1336.9 L524.5,1335.8 L525.5,1335.8 L526.5,1334.6 L527.5,1335.5 L528.5,1335.4 L529.5,1334.9 L530.5,1334.6 L531.5,1334 L532.5,1333.9 L533.5,1334 L534.5,1333 L535.5,1333 L536.5,1332.7 L537.5,1332 L538.5,1331.8 L539.5,1331.4 L540.5,1330.7 L541.5,1331.4 L542.5,1329.9 L543.5,1330.3 L544.5,1329.6 L545.5,1327.9 L546.5,1328.4 L547.5,1328.2 L548.5,1327.7 L549.5,1326.6 L550.5,1326.6 L551.5,1325.6 L552.5,1325.2 L553.5,1325.1 L554.5,1324.7 L555.5,1324.7 L556.5,1323.7 L557.5,1323.3 L558.5,1321.5 L559.5,1320.4 L560.5,1319.4 L561.5,1318.9 L562.5,1316.4 L563.5,1315 L564.5,1314.6 L565.5,1314.3 L566.5,1312.8 L567.5,1313.3 L568.5,1313.1 L569.5,1314.4 L570.5,1314.5 L571.5,1314.7 L572.5,1315.1 L573.5,1315.5 L574.5,1316.1 L575.5,1316.2 L576.5,1316.5 L577.5,1316.7 L578.5,1317.3 L579.5,1317.1 L580.5,1317.7 L581.5,1316.5 L582.5,1317.5 L583.5,1317.3 L584.5,1317.5 L585.5,1316.7 L586.5,1316.1 L587.5,1316.1 L588.5,1316.7 L589.5,1315.9 L590.5,1315.7 L591.5,1315.4 L592.5,1315.4 L593.5,1315.2 L594.5,1314.5 L595.5,1314.8 L596.5,1315.3 L597.5,1315.3 L598.5,1314.6 L599.5,1314.3 L600.5,1314.9 L601.5,1314.2 L602.5,1313.7 L603.5,1314 L604.5,1314.2 L605.5,1314.4 L606.5,1313.5 L607.5,1313.8 L608.5,1313.4 L609.5,1313.8 L610.5,1313.4 L611.5,1313.3 L612.5,1312.7 L613.5,1312.8 L614.5,1312.7 L615.5,1311.3 L616.5,1313 L617.5,1312.5 L618.5,1312.3 L619.5,1312.2 L620.5,1312.2 L621.5,1312.2 L622.5,1311.5 L623.5,1311.9 L624.5,1311.8 L625.5,1311.6 L626.5,1310.9 L627.5,1311.3 L628.5,1310.8 L629.5,1311.3 L630.5,1311.6 L631.5,1311.3 L632.5,1310.7 L633.5,1310.5 L634.5,1310.4 L635.5,1310.6 L636.5,1310.1 L637.5,1310 L638.5,1309.1 L639.5,1309.6 L640.5,1309.5 L641.5,1309.5 L642.5,1310 L643.5,1308.9 L644.5,1308.7 L645.5,1309.3 L646.5,1308.5 L647.5,1308.7 L648.5,1308.6 L649.5,1308.3 L650.5,1307.7 L651.5,1308.1 L652.5,1308.1 L653.5,1306.8 L654.5,1306.7 L655.5,1306.9 L656.5,1306.1 L657.5,1305.5 L658.5,1305.3 L659.5,1305.5 L660.5,1304.4 L661.5,1304.6 L662.5,1304.3 L663.5,1303.6 L664.5,1303.8 L665.5,1303.5 L666.5,1303.4 L667.5,1303 L668.5,1301.8 L669.5,1302.4 L670.5,1302 L671.5,1301.9 L672.5,1300.9 L673.5,1301.3 L674.5,1300.8 L675.5,1299.9 L676.5,1300.5 L677.5,1299.4 L678.5,1299 L679.5,1299.3 L680.5,1298.6 L681.5,1298.7 L682.5,1298.2 L683.5,1298.1 L684.5,1298 L685.5,1297.4 L686.5,1297.4 L687.5,1297.1 L688.5,1296.2 L689.5,1296.5 L690.5,1296.1 L691.5,1295.6 L692.5,1295.7 L693.5,1295.6 L694.5,1294.9 L695.5,1293.7 L696.5,1294.1 L697.5,1293.5 L698.5,1293 L699.5,1292.8 L700.5,1292.2 L701.5,1292.5 L702.5,1291.5 L703.5,1291 L704.5,1290.9 L705.5,1290.5 L706.5,1290.2 L707.5,1289.6 L708.5,1288.9 L709.5,1288.7 L710.5,1287.4 L711.5,1287.4 L712.5,1288.1 L713.5,1287.3 L714.5,1287.8 L715.5,1287.6 L716.5,1286.1 L717.5,1286.5 L718.5,1287.3 L719.5,1285.6 L720.5,1285.8 L721.5,1285.3 L722.5,1285.1 L723.5,1284.8 L724.5,1284.7 L725.5,1284.8 L726.5,1283.9 L727.5,1284.1 L728.5,1283.3 L729.5,1283.5 L730.5,1283.1 L731.5,1282.3 L732.5,1282.4 L733.5,1281.7 L734.5,1281.3 L735.5,1281.8 L736.5,1280.3 L737.5,1280.9 L738.5,1280.6 L739.5,1279.8 L740.5,1280.2 L741.5,1279.9 L742.5,1278.8 L743.5,1279.4 L744.5,1279.2 L745.5,1278.5 L746.5,1278.9 L747.5,1278.8 L748.5,1278 L749.5,1277.4 L750.5,1278.2 L751.5,1277.6 L752.5,1277.1 L753.5,1277.5 L754.5,1276.6 L755.5,1277.2 L756.5,1277.8 L757.5,1276 L758.5,1277.2 L759.5,1276.5 L760.5,1276.6 L761.5,1276.3 L762.5,1276.7 L763.5,1276.4 L764.5,1275.9 L765.5,1275.6 L766.5,1275.8 L767.5,1276.3 L768.5,1275.3 L769.5,1275.8 L770.5,1275.7 L771.5,1274.7 L772.5,1275.9 L773.5,1275.4 L774.5,1276.3 L775.5,1276.1 L776.5,1275.3 L777.5,1275.4 L778.5,1275.1 L779.5,1275 L780.5,1275.9 L781.5,1275.5 L782.5,1275.5 L783.5,1275.7 L784.5,1276.1 L785.5,1276.2 L786.5,1275.9 L787.5,1275.9 L788.5,1276.1 L789.5,1277 L790.5,1275.4 L791.5,1275.8 L792.5,1276.6 L793.5,1276.5 L794.5,1277 L795.5,1277.1 L796.5,1277.5 L797.5,1276.5 L798.5,1277.1 L799.5,1276.9 L800.5,1277.5 L801.5,1277.3 L802.5,1277.7 L803.5,1277.2 L804.5,1277.7 L805.5,1277.5 L806.5,1277.8 L807.5,1277.8 L808.5,1277.7 L809.5,1278.7 L810.5,1278.6 L811.5,1279 L812.5,1278.4 L813.5,1278.2 L814.5,1278.9 L815.5,1279.3 L816.5,1279.9 L817.5,1280.2 L818.5,1280.5 L819.5,1280.9 L820.5,1280.8 L821.5,1280.8 L822.5,1280.8 L823.5,1281.6 L824.5,1281.5 L825.5,1281.8 L826.5,1282.7 L827.5,1283 L828.5,1283.7 L829.5,1283.5 L830.5,1284.8 L831.5,1285 L832.5,1285.4 L833.5,1285.7 L834.5,1286.2 L835.5,1286.8 L836.5,1288.5 L837.5,1288.1 L838.5,1289.8 L839.5,1290.6 L840.5,1291.8 L841.5,1293.4 L842.5,1295.2 L843.5,1297.2 L844.5,1298.7 L845.5,1299.8 L846.5,1300.5 L847.5,1301.1 L848.5,1303 L849.5,1301.9 L850.5,1301.5 L851.5,1302.2 L852.5,1300.8 L853.5,1301.2 L854.5,1300.7 L855.5,1299.9 L856.5,1299.7 L857.5,1298.2 L858.5,1297.8 L859.5,1297.9 L860.5,1297.7 L861.5,1297.6 L862.5,1297.8 L863.5,1297.5 L864.5,1297.1 L865.5,1298.3 L866.5,1298.3 L867.5,1298.9 L868.5,1299.7 L869.5,1299.2 L870.5,1299.6 L871.5,1299.3 L872.5,1300.2 L873.5,1300.2 L874.5,1300.3 L875.5,1300.6 L876.5,1300 L877.5,1300.8 L878.5,1300.8 L879.5,1301.4 L880.5,1300.2 L881.5,1300.9 L882.5,1301.9 L883.5,1301 L884.5,1301.1 L885.5,1302.1 L886.5,1302.4 L887.5,1301.6 L888.5,1301.3 L889.5,1301.5 L890.5,1301.6 L891.5,1301.5 L892.5,1301.6 L893.5,1302.1 L894.5,1302.1 L895.5,1302.4 L896.5,1302.3 L897.5,1301.9 L898.5,1302.7 L899.5,1302.6 L900.5,1302.4 L901.5,1302.6 L902.5,1303 L903.5,1303 L904.5,1303 L905.5,1303.5 L906.5,1303.7 L907.5,1303.2 L908.5,1303.5 L909.5,1303.1 L910.5,1303.6 L911.5,1304 L912.5,1304.2 L913.5,1304.1 L914.5,1304.1 L915.5,1303.9 L916.5,1304.4 L917.5,1304 L918.5,1304.6 L919.5,1304.7 L920.5,1304.4 L921.5,1305 L922.5,1304.9 L923.5,1305.3 L924.5,1305 L925.5,1305.6 L926.5,1306.1 L927.5,1305.7 L928.5,1306.1 L929.5,1305.7 L930.5,1305.9 L931.5,1305.5 L932.5,1306.3 L933.5,1306.1 L934.5,1306.7 L935.5,1306.1 L936.5,1306.7 L937.5,1307.3 L938.5,1307.6 L939.5,1307 L940.5,1307.8 L941.5,1309.2 L942.5,1308.8 L943.5,1308.9 L944.5,1308.1 L945.5,1309.1 L946.5,1310 L947.5,1310.2 L948.5,1310.6 L949.5,1311.2 L950.5,1311.2 L951.5,1311.8 L952.5,1311 L953.5,1313 L954.5,1312.2 L955.5,1312.4 L956.5,1313.6 L957.5,1313.6 L958.5,1314 L959.5,1313.7 L960.5,1314.4 L961.5,1314.9 L962.5,1314.5 L963.5,1315.1 L964.5,1315.4 L965.5,1315.7 L966.5,1315.8 L967.5,1315.9 L968.5,1316.8 L969.5,1316.9 L970.5,1317.5 L971.5,1317.2 L972.5,1317.2 L973.5,1317 L974.5,1317.8 L975.5,1317.8 L976.5,1318.9 L977.5,1319.2 L978.5,1319.1 L979.5,1318.3 L980.5,1318.3 L981.5,1319 L982.5,1318.9 L983.5,1320.1 L984.5,1319.9 L985.5,1320 L986.5,1320.6 L987.5,1321.6 L988.5,1321.2 L989.5,1322.4 L990.5,1322.3 L991.5,1323.4 L992.5,1323.8 L993.5,1324.9 L994.5,1325.5 L995.5,1326.5 L996.5,1326.9 L997.5,1327 L998.5,1327.2 L999.5,1327.9 L1000.5,1328.5 L1001.5,1328.9 L1002.5,1329 L1003.5,1330.1 L1004.5,1330.3 L1005.5,1330.2 L1006.5,1330.4 L1007.5,1330.8 L1008.5,1331.1 L1009.5,1331.4 L1010.5,1331 L1011.5,1331.8 L1012.5,1331.5 L1013.5,1332.5 L1014.5,1333 L1015.5,1332.6 L1016.5,1333.4 L1017.5,1333.4 L1018.5,1333.7 L1019.5,1335.1 L1020.5,1335 L1021.5,1335.2 L1022.5,1335.2 L1023.5,1335.9 L1024.5,1336 L1025.5,1336.6 L1026.5,1336.3 L1027.5,1337 L1028.5,1337.1 L1029.5,1337 L1030.5,1338.4 L1031.5,1338.2 L1032.5,1337.8 L1033.5,1337.7 L1034.5,1338.1 L1035.5,1338.2 L1036.5,1338.4 L1037.5,1338.2 L1038.5,1338.6 L1039.5,1339.1 L1040.5,1339.3 L1041.5,1338.5 L1042.5,1339.4 L1043.5,1339.1 L1044.5,1339.1 L1045.5,1339.4 L1046.5,1339.3 L1047.5,1339.9 L1048.5,1339.9 L1049.5,1339.5 L1050.5,1339.3 L1051.5,1340.3 L1052.5,1340.3 L1053.5,1339.8 L1054.5,1339.5 L1055.5,1340 L1056.5,1340.2 L1057.5,1339.4 L1058.5,1340.3 L1059.5,1339.5 L1060.5,1340 L1061.5,1339.4 L1062.5,1339.6 L1063.5,1339.4 L1064.5,1339.6 L1065.5,1340 L1066.5,1339.2 L1067.5,1339.4 L1068.5,1339.6 L1069.5,1339.1 L1070.5,1340 L1071.5,1338.5 L1072.5,1340 L1073.5,1338.6 L1074.5,1339.1 L1075.5,1339.2 L1076.5,1338.6 L1077.5,1337.7 L1078.5,1338 L1079.5,1338 L1080.5,1338.1 L1081.5,1338.1 L1082.5,1337.9 L1083.5,1337.9 L1084.5,1336.7 L1085.5,1337.2 L1086.5,1335.9 L1087.5,1336.4 L1088.5,1335.6 L1089.5,1335.1 L1090.5,1335.8 L1091.5,1335.2 L1092.5,1335.3 L1093.5,1334 L1094.5,1333.8 L1095.5,1333.9 L1096.5,1333.4 L1097.5,1333.3 L1098.5,1332.7 L1099.5,1332.5 L1100.5,1331.8 L1101.5,1332.4 L1102.5,1331.3 L1103.5,1330.6 L1104.5,1330.9 L1105.5,1330.4 L1106.5,1329.9 L1107.5,1329.4 L1108.5,1328.7 L1109.5,1328.4 L1110.5,1327.1 L1111.5,1326.9 L1112.5,1326.6 L1113.5,1326.8 L1114.5,1326.7 L1115.5,1325.7 L1116.5,1325.2 L1117.5,1325.3 L1118.5,1324.2 L1119.5,1324 L1120.5,1323.3 L1121.5,1321.8 L1122.5,1321.5 L1123.5,1320.2 L1124.5,1318.3 L1125.5,1317 L1126.5,1315.6 L1127.5,1315.5 L1128.5,1314.9 L1129.5,1313.8 L1130.5,1314 L1131.5,1313 L1132.5,1314.3 L1133.5,1314.8 L1134.5,1315.1 L1135.5,1314.5 L1136.5,1315.8 L1137.5,1315.8 L1138.5,1316.7 L1139.5,1316.4 L1140.5,1317 L1141.5,1317 L1142.5,1317.6 L1143.5,1317.4 L1144.5,1317.8 L1145.5,1317.6 L1146.5,1317.3 L1147.5,1317 L1148.5,1316.8 L1149.5,1316.7 L1150.5,1316.8 L1151.5,1316.4 L1152.5,1316.2 L1153.5,1315.9 L1154.5,1315.7 L1155.5,1315.3 L1156.5,1314.6 L1157.5,1315.4 L1158.5,1315.3 L1159.5,1314.5 L1160.5,1315.5 L1161.5,1314.2 L1162.5,1314.9 L1163.5,1314.5 L1164.5,1314.4 L1165.5,1314.6 L1166.5,1314.4 L1167.5,1314 L1168.5,1313.4 L1169.5,1313.3 L1170.5,1313.7 L1171.5,1314.2 L1172.5,1313.8 L1173.5,1313.3 L1174.5,1313.3 L1175.5,1313.4 L1176.5,1313.7 L1177.5,1312.6 L1178.5,1313.1 L1179.5,1312.8 L1180.5,1312.3 L1181.5,1312.1 L1182.5,1312.9 L1183.5,1312.4 L1184.5,1312 L1185.5,1312 L1186.5,1312.3 L1187.5,1311.8 L1188.5,1312.3 L1189.5,1311.4 L1190.5,1311.1 L1191.5,1311.3 L1192.5,1310.8 L1193.5,1310.9 L1194.5,1311.5 L1195.5,1311.5 L1196.5,1311 L1197.5,1310.7 L1198.5,1310.2 L1199.5,1310 L1200.5,1310.4 L1201.5,1310.2 L1202.5,1309.8 L1203.5,1309.7 L1204.5,1310.4 L1205.5,1310 L1206.5,1309.5 L1207.5,1309.4 L1208.5,1309.7 L1209.5,1309.1 L1210.5,1308.9 L1211.5,1308 L1212.5,1307.7 L1213.5,1307.4 L1214.5,1307 L1215.5,1307.6 L1216.5,1307.4 L1217.5,1306.6 L1218.5,1306.8 L1219.5,1306.5 L1220.5,1306 L1221.5,1305.1 L1222.5,1305.9 L1223.5,1305.5 L1224.5,1304.4 L1225.5,1305.1 L1226.5,1304 L1227.5,1303.4 L1228.5,1303.2 L1229.5,1302.4 L1230.5,1302.7 L1231.5,1301.9 L1232.5,1302.7 L1233.5,1302 L1234.5,1301.1 L1235.5,1301.6 L1236.5,1300.4 L1237.5,1300.8 L1238.5,1300.6 L1239.5,1300.2 L1240.5,1299.4 L1241.5,1299.5 L1242.5,1299.2 L1243.5,1299 L1244.5,1299.3 L1245.5,1299.1 L1246.5,1298.7 L1247.5,1297.5 L1248.5,1297.2 L1249.5,1297.2 L1250.5,1297.1 L1251.5,1295.8 L1252.5,1296.1 L1253.5,1296.7 L1254.5,1295.2 L1255.5,1295.1 L1256.5,1294.8 L1257.5,1294.9 L1258.5,1294.4 L1259.5,1293.9 L1260.5,1293.1 L1261.5,1293.5 L1262.5,1292.9 L1263.5,1292.2 L1264.5,1292 L1265.5,1291.9 L1266.5,1290.6 L1267.5,1290.1 L1268.5,1289.9 L1269.5,1289.5 L1270.5,1288.3 L1271.5,1288.9 L1272.5,1289.2 L1273.5,1288.3 L1274.5,1288.5 L1275.5,1286.6 L1276.5,1287.4 L1277.5,1287.8 L1278.5,1287.6 L1279.5,1286.5 L1280.5,1286.1 L1281.5,1286.4 L1282.5,1285.5 L1283.5,1285.6 L1284.5,1284.9 L1285.5,1285.3 L1286.5,1285.1 L1287.5,1285.5 L1288.5,1284.7 L1289.5,1284 L1290.5,1284 L1291.5,1283.2 L1292.5,1283.4 L1293.5,1283 L1294.5,1282.9 L1295.5,1282.8 L1296.5,1281.3 L1297.5,1281.9 L1298.5,1281.7 L1299.5,1280.6 L1300.5,1281.5 L1301.5,1280.2 L1302.5,1281.2 L1303.5,1280.2 L1304.5,1280 L1305.5,1279.5 L1306.5,1279.6 L1307.5,1278.6 L1308.5,1278.5 L1309.5,1277.9 L1310.5,1278.7 L1311.5,1278.1 L1312.5,1278.5 L1313.5,1278.3 L1314.5,1277.4 L1315.5,1278.1 L1316.5,1277.8 L1317.5,1277.6 L1318.5,1277.6 L1319.5,1277.3 L1320.5,1277.2 L1321.5,1277.5 L1322.5,1276.5 L1323.5,1276.3 L1324.5,1276.4 L1325.5,1277 L1326.5,1276.3 L1327.5,1277 L1328.5,1274.9 L1329.5,1275.7 L1330.5,1275.7 L1331.5,1275.9 L1332.5,1276.2 L1333.5,1275.5 L1334.5,1275.1 L1335.5,1275.8 L1336.5,1276 L1337.5,1274.4 L1338.5,1275.6 L1339.5,1275.5 L1340.5,1275.1 L1341.5,1275.3 L1342.5,1275.6 L1343.5,1275.6 L1344.5,1275.5 L1345.5,1275.2 L1346.5,1275.8 L1347.5,1275.5 L1348.5,1275.9 L1349.5,1275.7 L1350.5,1276.1 L1351.5,1276.3 L1352.5,1276.2 L1353.5,1276.4 L1354.5,1275.7 L1355.5,1276.5 L1356.5,1276.5 L1357.5,1276.2 L1358.5,1276.5 L1359.5,1275.5 L1360.5,1276.8 L1361.5,1276.7 L1362.5,1276.1 L1363.5,1277.3 L1364.5,1276.9 L1365.5,1277.4 L1366.5,1277.3 L1367.5,1277.7 L1368.5,1277.7 L1369.5,1277.7 L1370.5,1278.1 L1371.5,1278.4 L1372.5,1277.3 L1373.5,1278.4 L1374.5,1278.3 L1375.5,1278.3 L1376.5,1279.4 L1377.5,1279.4 L1378.5,1278.8 L1379.5,1279 L1380.5,1280 L1381.5,1279.6 L1382.5,1280 L1383.5,1279.6 L1384.5,1280.6 L1385.5,1281.4 L1386.5,1281 L1387.5,1281.5 L1388.5,1282.6 L1389.5,1282.6 L1390.5,1283.3 L1391.5,1283.4 L1392.5,1284.1 L1393.5,1283.4 L1394.5,1284.3 L1395.5,1284.5 L1396.5,1286.7 L1397.5,1286.5 L1398.5,1287 L1399.5,1287.4 L1400.5,1288 L1401.5,1288 L1402.5,1291 L1403.5,1291.4 L1404.5,1293 L1405.5,1294 L1406.5,1296.2 L1407.5,1298 L1408.5,1299.3 L1409.5,1300.8 L1410.5,1301.2 L1411.5,1302.3 L1412.5,1302.7 L1413.5,1302.4 L1414.5,1302.1 L1415.5,1301.5 L1416.5,1300.7 L1417.5,1300.8 L1418.5,1299.9 L1419.5,1299.1 L1420.5,1299.3 L1421.5,1297.8 L1422.5,1297.8 L1423.5,1298.1 L1424.5,1298 L1425.5,1297.5 L1426.5,1297.7 L1427.5,1298 L1428.5,1298 L1429.5,1297.9 L1430.5,1298.7 L1431.5,1298.8 L1432.5,1299.1 L1433.5,1299.7 L1434.5,1299.7 L1435.5,1299.6 L1436.5,1300 L1437.5,1300.9 L1438.5,1299.9 L1439.5,1300.2 L1440.5,1300.2 L1441.5,1300.7 L1442.5,1300.2 L1443.5,1301 L1444.5,1301.2 L1445.5,1300.7 L1446.5,1300.8 L1447.5,1300.6 L1448.5,1301.3 L1449.5,1300.9 L1450.5,1301.2 L1451.5,1301.4 L1452.5,1301.4 L1453.5,1302.1 L1454.5,1302.5 L1455.5,1301 L1456.5,1301.7 L1457.5,1302.2 L1458.5,1301.7 L1459.5,1302 L1460.5,1302.4 L1461.5,1303 L1462.5,1303 L1463.5,1302.5 L1464.5,1302.7 L1465.5,1302.6 L1466.5,1302.8 L1467.5,1302.5 L1468.5,1302.4 L1469.5,1303.1 L1470.5,1303.7 L1471.5,1303.7 L1472.5,1302.8 L1473.5,1303.6 L1474.5,1303.5 L1475.5,1304 L1476.5,1303.5 L1477.5,1304.4 L1478.5,1304.1 L1479.5,1304.5 L1480.5,1304.7 L1481.5,1303.7 L1482.5,1304.5 L1483.5,1305.3 L1484.5,1304.8 L1485.5,1305.4 L1486.5,1305.2 L1487.5,1305 L1488.5,1305.4 L1489.5,1305.9 L1490.5,1306.1 L1491.5,1306.3 L1492.5,1305.4 L1493.5,1306.3 L1494.5,1305.6 L1495.5,1306.2 L1496.5,1306.4 L1497.5,1306.9 L1498.5,1306.9 L1499.5,1307.5 L1500.5,1306.9 L1501.5,1307.7 L1502.5,1307.7 L1503.5,1307.8 L1504.5,1307.6 L1505.5,1308.6 L1506.5,1308.8 L1507.5,1309.3 L1508.5,1309.3 L1509.5,1309.6 L1510.5,1310.1 L1511.5,1310.5 L1512.5,1310.9 L1513.5,1311.7 L1514.5,1311.1 L1515.5,1312.4 L1516.5,1310.7 L1517.5,1312.6 L1518.5,1312.2 L1519.5,1313.7 L1520.5,1312.8 L1521.5,1313.9 L1522.5,1313.4 L1523.5,1313.7 L1524.5,1314.8 L1525.5,1315.1 L1526.5,1314.8 L1527.5,1316.4 L1528.5,1315.6 L1529.5,1316.6 L1530.5,1315.8 L1531.5,1316.1 L1532.5,1316.8 L1533.5,1316.6 L1534.5,1317.3 L1535.5,1316.5 L1536.5,1317.6 L1537.5,1317.5 L1538.5,1317.5 L1539.5,1318.1 L1540.5,1318.1 L1541.5,1318.2 L1542.5,1318.9 L1543.5,1318.9 L1544.5,1319.1 L1545.5,1319.7 L1546.5,1319.4 L1547.5,1320 L1548.5,1319.9 L1549.5,1320.7 L1550.5,1321.1 L1551.5,1321.2 L1552.5,1321.4 L1553.5,1322 L1554.5,1322.8 L1555.5,1324.1 L1556.5,1324.4 L1557.5,1325 L1558.5,1326 L1559.5,1326.7 L1560.5,1327.6 L1561.5,1327.3 L1562.5,1328.3 L1563.5,1328.7 L1564.5,1328.5 L1565.5,1329.2 L1566.5,1329.2 L1567.5,1329.8 L1568.5,1330.3 L1569.5,1329.8 L1570.5,1330.4 L1571.5,1330.7 L1572.5,1331.3 L1573.5,1331.3 L1574.5,1332 L1575.5,1331.7 L1576.5,1332.1 L1577.5,1332.9 L1578.5,1333 L1579.5,1333.3 L1580.5,1333.5 L1581.5,1334.2 L1582.5,1334.7 L1583.5,1334.4 L1584.5,1334.6 L1585.5,1334.8 L1586.5,1336.3 L1587.5,1335.6 L1588.5,1335.7 L1589.5,1336.7 L1590.5,1337.3 L1591.5,1336.7 L1592.5,1337.4 L1593.5,1337.1 L1594.5,1337.6 L1595.5,1338.7 L1596.5,1338.2 L1597.5,1338.2 L1598.5,1338.5 L1599.5,1338.7 L1600.5,1338.7 L1601.5,1338.4 L1602.5,1338.5 L1603.5,1339.9 L1604.5,1338.9 L1605.5,1339.8 L1606.5,1339.1 L1607.5,1340 L1608.5,1339.8 L1609.5,1339.5 L1610.5,1340.4 L1611.5,1339.2 L1612.5,1339.5 L1613.5,1339.3 L1614.5,1339.3 L1615.5,1339.5 L1616.5,1339.2 L1617.5,1339.5 L1618.5,1340.2 L1619.5,1338.9 L1620.5,1339.1 L1621.5,1339.2 L1622.5,1339.4 L1623.5,1340 L1624.5,1339.9 L1625.5,1339.8 L1626.5,1339.7 L1627.5,1340.5 L1628.5,1339.1 L1629.5,1339.1 L1630.5,1339.5 L1631.5,1339.5 L1632.5,1339.2 L1633.5,1338.9 L1634.5,1338.6 L1635.5,1338.9 L1636.5,1338.6 L1637.5,1338.6 L1638.5,1338.2 L1639.5,1339 L1640.5,1338.5 L1641.5,1338.9 L1642.5,1337.9 L1643.5,1337.9 L1644.5,1337.6 L1645.5,1337.6 L1646.5,1337.3 L1647.5,1337.1 L1648.5,1336.1 L1649.5,1336.6 L1650.5,1336.7 L1651.5,1335.4 L1652.5,1335.7 L1653.5,1335.8 L1654.5,1335.8 L1655.5,1335 L1656.5,1334.9 L1657.5,1335.1 L1658.5,1334.6 L1659.5,1333.6 L1660.5,1333.2 L1661.5,1333.5 L1662.5,1332.8 L1663.5,1332.2 L1664.5,1331.9 L1665.5,1331.7 L1666.5,1331.1 L1667.5,1330.7 L1668.5,1330.3 L1669.5,1329.4 L1670.5,1330.2 L1671.5,1329.6 L1672.5,1329.2 L1673.5,1328.1 L1674.5,1327.8 L1675.5,1327.5 L1676.5,1327.2 L1677.5,1325.7 L1678.5,1326.1 L1679.5,1325.1 L1680.5,1325 L1681.5,1324.3 L1682.5,1324.7 L1683.5,1323.6 L1684.5,1322.7 L1685.5,1322.3 L1686.5,1320.6 L1687.5,1319 L1688.5,1317.9 L1689.5,1316.5 L1690.5,1315.4 L1691.5,1314.8 L1692.5,1313.7 L1693.5,1313.4 L1694.5,1313.8 L1695.5,1313.7 L1696.5,1314.3 L1697.5,1314.3 L1698.5,1314.2 L1699.5,1314.7 L1700.5,1315 L1701.5,1316.6 L1702.5,1316.7 L1703.5,1316.7 L1704.5,1316.8 L1705.5,1317.5 L1706.5,1317.3 L1707.5,1317.5 L1708.5,1317 L1709.5,1316.8 L1710.5,1317.7 L1711.5,1316.6 L1712.5,1316.8 L1713.5,1317.1 L1714.5,1315.7 L1715.5,1316.5 L1716.5,1316 L1717.5,1315.8 L1718.5,1315.7 L1719.5,1315 L1720.5,1314.4 L1721.5,1315.8 L1722.5,1314.8 L1723.5,1315.2 L1724.5,1315.1 L1725.5,1314.7 L1726.5,1314.6 L1727.5,1314.6 L1728.5,1314.9 L1729.5,1314.3 L1730.5,1314.5 L1731.5,1313.8 L1732.5,1313.6 L1733.5,1313.7 L1734.5,1313.7 L1735.5,1313.7 L1736.5,1314.1 L1737.5,1313.6 L1738.5,1313.2 L1739.5,1313.8 L1740.5,1313.1 L1741.5,1313 L1742.5,1312.9 L1743.5,1312.5 L1744.5,1312.1 L1745.5,1312.4 L1746.5,1312.2 L1747.5,1311.8 L1748.5,1312.1 L1749.5,1311.9 L1750.5,1311.6 L1751.5,1311 L1752.5,1311.5 L1753.5,1312.2 L1754.5,1311.7 L1755.5,1311.7 L1756.5,1311.1 L1757.5,1311.4 L1758.5,1310.6 L1759.5,1310.6 L1760.5,1310.9 L1761.5,1310 L1762.5,1310.5 L1763.5,1310.4 L1764.5,1310.9 L1765.5,1309.8 L1766.5,1310.1 L1767.5,1309.6 L1768.5,1309.5 L1769.5,1308.5 L1770.5,1309 L1771.5,1309.7 L1772.5,1309.2 L1773.5,1308.9 L1774.5,1309.7 L1775.5,1308.7 L1776.5,1307.8 L1777.5,1307.9 L1778.5,1307.7 L1779.5,1308.1 L1780.5,1306.8 L1781.5,1307 L1782.5,1306.8 L1783.5,1305.8 L1784.5,1305.8 L1785.5,1304.6 L1786.5,1305.1 L1787.5,1303.9 L1788.5,1304.3 L1789.5,1304.8 L1790.5,1304 L1791.5,1303.5 L1792.5,1303.3 L1793.5,1303.8 L1794.5,1302.8 L1795.5,1302.7 L1796.5,1301.9 L1797.5,1301.6 L1798.5,1301 L1799.5,1301.1 L1800.5,1300.6 L1801.5,1301 L1802.5,1300.5 L1803.5,1299.9 L1804.5,1299.5 L1805.5,1298.2 L1806.5,1298.8 L1807.5,1298.9 L1808.5,1298.8 L1809.5,1297 L1810.5,1297 L1811.5,1297.7 L1812.5,1296.9 L1813.5,1297 L1814.5,1296.6 L1815.5,1296.7 L1816.5,1295.4 L1817.5,1295.6 L1818.5,1295.9 L1819.5,1295.3 L1820.5,1294.5 L1821.5,1294.7 L1822.5,1294.3 L1823.5,1293.5 L1824.5,1293.7 L1825.5,1293.3 L1826.5,1292.6 L1827.5,1292.6 L1828.5,1291.3 L1829.5,1291.6 L1830.5,1290.8 L1831.5,1290.1 L1832.5,1289.8 L1833.5,1290.1 L1834.5,1289 L1835.5,1288.7 L1836.5,1288.3 L1837.5,1287.9 L1838.5,1288.3 L1839.5,1288.5 L1840.5,1287.9 L1841.5,1287.3 L1842.5,1287.1 L1843.5,1286.4 L1844.5,1286.1 L1845.5,1285.6 L1846.5,1286.4 L1847.5,1285.5 L1848.5,1285.1 L1849.5,1284.9 L1850.5,1285 L1851.5,1284.4 L1852.5,1284.4 L1853.5,1284.2 L1854.5,1284.4 L1855.5,1283.1 L1856.5,1283.3 L1857.5,1282.6 L1858.5,1282.4 L1859.5,1282.9 L1860.5,1282.1 L1861.5,1281.4 L1862.5,1281.4 L1863.5,1280.9 L1864.5,1281 L1865.5,1280.1 L1866.5,1280.2 L1867.5,1279.7 L1868.5,1279.5 L1869.5,1279.2 L1870.5,1278.9 L1871.5,1279 L1872.5,1279.1 L1873.5,1278.4 L1874.5,1278.3 L1875.5,1278.4 L1876.5,1277.8 L1877.5,1278.3 L1878.5,1278.1 L1879.5,1276.8 L1880.5,1277.3 L1881.5,1277 L1882.5,1277.7 L1883.5,1277.6 L1884.5,1276.6 L1885.5,1276.7 L1886.5,1276.8 L1887.5,1276.6 L1888.5,1276.9 L1889.5,1276.9 L1890.5,1276.6 L1891.5,1276.6 L1892.5,1276.4 L1893.5,1275.9 L1894.5,1275.7 L1895.5,1275.4 L1896.5,1276 L1897.5,1275.9 L1898.5,1275.9 L1899.5,1275.3 L1900.5,1275.3 L1901.5,1275.5 L1902.5,1275.9 L1903.5,1275.6 L1904.5,1275.5 L1905.5,1275.2 L1906.5,1275.7 L1907.5,1275.8 L1908.5,1275.3 L1909.5,1276.4 L1910.5,1275.4 L1911.5,1276.2 L1912.5,1275.8 L1913.5,1276 L1914.5,1275.7 L1915.5,1275.9 L1916.5,1276.4 L1917.5,1276.2 L1918.5,1276.2 L1919.5,1276.7 L1920.5,1276.7 L1921.5,1276.6 L1922.5,1276.7 L1923.5,1277.4 L1924.5,1276.8 L1925.5,1277.1 L1926.5,1277.2 L1927.5,1276.6 L1928.5,1276.5 L1929.5,1277.4 L1930.5,1277.8 L1931.5,1277.7 L1932.5,1277.5 L1933.5,1277.6 L1934.5,1278.3 L1935.5,1278.1 L1936.5,1277.7 L1937.5,1278.7 L1938.5,1278.7 L1939.5,1279 L1940.5,1279.4 L1941.5,1279.7 L1942.5,1279.6 L1943.5,1279.5 L1944.5,1279 L1945.5,1280.2 L1946.5,1280.2 L1947.5,1281.1 L1948.5,1281.3 L1949.5,1281.3 L1950.5,1282 L1951.5,1281.7 L1952.5,1282.1 L1953.5,1282.2 L1954.5,1282.9 L1955.5,1283.5 L1956.5,1284.3 L1957.5,1284.1 L1958.5,1285.3 L1959.5,1286.5 L1960.5,1285.6 L1961.5,1286.7 L1962.5,1287.4 L1963.5,1288.5 L1964.5,1289.6 L1965.5,1290.2 L1966.5,1290.9 L1967.5,1292 L1968.5,1293.9 L1969.5,1295.5 L1970.5,1297.3 L1971.5,1298.4 L1972.5,1300.7 L1973.5,1300.9 L1974.5,1302.2 L1975.5,1302.4 L1976.5,1301.8 L1977.5,1302.1 L1978.5,1301.7 L1979.5,1301.2 L1980.5,1301.1 L1981.5,1300.1 L1982.5,1300.7 L1983.5,1299.6 L1984.5,1298.3 L1985.5,1297.2 L1986.5,1298.4 L1987.5,1297.8 L1988.5,1297.6 L1989.5,1297.3 L1990.5,1297.2 L1991.5,1297.2 L1992.5,1299.2 L1993.5,1299 L1994.5,1298.4 L1995.5,1299.7 L1996.5,1298.5 L1997.5,1299.7 L1998.5,1300 L1999.5,1299.6 L2000.5,1299.9 L2001.5,1299.8 L2002.5,1300.3 L2003.5,1301 L2004.5,1300.9" fill="none" stroke="#00ff00" stroke-width="6.2" stroke-linejoin="round"/>
</g>
<g clip-path="url(#c5)">
<path d="M308.5,1650.9 L309.5,1650.6 L310.5,1647 L311.5,1651.2 L312.5,1648.7 L313.5,1646 L314.5,1646.8 L315.5,1647.2 L316.5,1648.5 L317.5,1647 L318.5,1644 L319.5,1647.8 L320.5,1648.5 L321.5,1644.4 L322.5,1646.9 L323.5,1645.6 L324.5,1644.9 L325.5,1645.6 L326.5,1641.4 L327.5,1643.5 L328.5,1640.8 L329.5,1644.2 L330.5,1639.5 L331.5,1638.5 L332.5,1640.5 L333.5,1639.1 L334.5,1637.6 L335.5,1636.9 L336.5,1636.7 L337.5,1637.2 L338.5,1633.4 L339.5,1632.8 L340.5,1631.9 L341.5,1631.7 L342.5,1631 L343.5,1628.6 L344.5,1629.7 L345.5,1626.9 L346.5,1627.2 L347.5,1626.4 L348.5,1625.6 L349.5,1626.8 L350.5,1626.1 L351.5,1624.5 L352.5,1624.2 L353.5,1621 L354.5,1622.1 L355.5,1619.4 L356.5,1618.7 L357.5,1617.7 L358.5,1614.8 L359.5,1614.5 L360.5,1614 L361.5,1613.4 L362.5,1611.7 L363.5,1609.6 L364.5,1608 L365.5,1608.1 L366.5,1605.5 L367.5,1604.2 L368.5,1604.2 L369.5,1603.3 L370.5,1600.9 L371.5,1598.5 L372.5,1599.7 L373.5,1599.2 L374.5,1596.5 L375.5,1595.3 L376.5,1591.7 L377.5,1594.3 L378.5,1590.7 L379.5,1591.6 L380.5,1588.8 L381.5,1588.1 L382.5,1586.8 L383.5,1583.7 L384.5,1587.9 L385.5,1581.6 L386.5,1582.5 L387.5,1580.2 L388.5,1579.9 L389.5,1580.7 L390.5,1575.8 L391.5,1576.8 L392.5,1576.4 L393.5,1574.9 L394.5,1574.1 L395.5,1571.7 L396.5,1569.5 L397.5,1568.9 L398.5,1569 L399.5,1569.5 L400.5,1567.8 L401.5,1568.9 L402.5,1566.4 L403.5,1566.1 L404.5,1565.8 L405.5,1563.9 L406.5,1564.9 L407.5,1563.4 L408.5,1563.1 L409.5,1566.7 L410.5,1560.5 L411.5,1564.2 L412.5,1562.3 L413.5,1562.8 L414.5,1561.3 L415.5,1563.2 L416.5,1565.4 L417.5,1561.1 L418.5,1561.8 L419.5,1565.4 L420.5,1563.2 L421.5,1558.8 L422.5,1558.7 L423.5,1562.7 L424.5,1564.1 L425.5,1563.5 L426.5,1560.5 L427.5,1563.9 L428.5,1560.8 L429.5,1562.4 L430.5,1564.1 L431.5,1563.3 L432.5,1562.5 L433.5,1566.3 L434.5,1562.6 L435.5,1565.1 L436.5,1560.6 L437.5,1563.7 L438.5,1564.8 L439.5,1564 L440.5,1568.3 L441.5,1566.1 L442.5,1566.2 L443.5,1569.4 L444.5,1568.7 L445.5,1571 L446.5,1571.7 L447.5,1572.2 L448.5,1576 L449.5,1575.7 L450.5,1578.1 L451.5,1577.6 L452.5,1577.4 L453.5,1578.6 L454.5,1580.6 L455.5,1582 L456.5,1583.4 L457.5,1585 L458.5,1583.9 L459.5,1586.7 L460.5,1586.1 L461.5,1587.8 L462.5,1592.8 L463.5,1592.4 L464.5,1591.5 L465.5,1595.2 L466.5,1595.9 L467.5,1596.5 L468.5,1598.3 L469.5,1597.5 L470.5,1598.9 L471.5,1599.3 L472.5,1602.3 L473.5,1601.4 L474.5,1603.6 L475.5,1606.1 L476.5,1606.3 L477.5,1608.6 L478.5,1611.8 L479.5,1609.7 L480.5,1613.9 L481.5,1612.8 L482.5,1613.8 L483.5,1616.4 L484.5,1618.7 L485.5,1617.8 L486.5,1619 L487.5,1620.6 L488.5,1621.5 L489.5,1623.8 L490.5,1624 L491.5,1625.7 L492.5,1627.7 L493.5,1627.9 L494.5,1631 L495.5,1630 L496.5,1631.1 L497.5,1635.6 L498.5,1636.1 L499.5,1635.6 L500.5,1637.6 L501.5,1638.2 L502.5,1638.4 L503.5,1641 L504.5,1641.8 L505.5,1644.2 L506.5,1641.7 L507.5,1646.1 L508.5,1646.5 L509.5,1646.6 L510.5,1648 L511.5,1649.1 L512.5,1649.1 L513.5,1650.9 L514.5,1653.5 L515.5,1651.5 L516.5,1653.6 L517.5,1652 L518.5,1654.9 L519.5,1656.8 L520.5,1657.1 L521.5,1657.9 L522.5,1657.2 L523.5,1659.9 L524.5,1658.8 L525.5,1661.5 L526.5,1661 L527.5,1660.9 L528.5,1662.7 L529.5,1660.8 L530.5,1662.6 L531.5,1661.1 L532.5,1662.7 L533.5,1661.9 L534.5,1661 L535.5,1660.3 L536.5,1664.3 L537.5,1660.7 L538.5,1664.9 L539.5,1664.3 L540.5,1661.3 L541.5,1661.3 L542.5,1660 L543.5,1663.5 L544.5,1664.1 L545.5,1663.6 L546.5,1666.4 L547.5,1662.9 L548.5,1661.5 L549.5,1662.2 L550.5,1662.1 L551.5,1662.9 L552.5,1660.6 L553.5,1663.1 L554.5,1662.7 L555.5,1663.4 L556.5,1659.9 L557.5,1661.3 L558.5,1661.3 L559.5,1658 L560.5,1659.9 L561.5,1658.9 L562.5,1656.3 L563.5,1660.7 L564.5,1657 L565.5,1656.9 L566.5,1658.7 L567.5,1655.1 L568.5,1658.1 L569.5,1658.2 L570.5,1656.1 L571.5,1654.3 L572.5,1657.6 L573.5,1654.8 L574.5,1656.7 L575.5,1655.9 L576.5,1656.5 L577.5,1654.1 L578.5,1654 L579.5,1655.3 L580.5,1655.9 L581.5,1653.8 L582.5,1652 L583.5,1652.6 L584.5,1653.2 L585.5,1652.8 L586.5,1654.2 L587.5,1649.9 L588.5,1653.7 L589.5,1649.8 L590.5,1648.4 L591.5,1647.1 L592.5,1651.2 L593.5,1649.4 L594.5,1649.1 L595.5,1647.9 L596.5,1647.4 L597.5,1646.7 L598.5,1648.9 L599.5,1648.6 L600.5,1646.7 L601.5,1644.8 L602.5,1647.5 L603.5,1645.5 L604.5,1644.2 L605.5,1646.6 L606.5,1645 L607.5,1641.3 L608.5,1641.1 L609.5,1642 L610.5,1640.3 L611.5,1640.9 L612.5,1643.6 L613.5,1643.3 L614.5,1638.9 L615.5,1639.1 L616.5,1638.4 L617.5,1636.4 L618.5,1633.9 L619.5,1636.2 L620.5,1633.8 L621.5,1633.7 L622.5,1633.2 L623.5,1630.6 L624.5,1632.7 L625.5,1630 L626.5,1629.3 L627.5,1627.7 L628.5,1628.2 L629.5,1627.7 L630.5,1625 L631.5,1625.4 L632.5,1623.3 L633.5,1621.5 L634.5,1621.6 L635.5,1621.8 L636.5,1620.8 L637.5,1620.4 L638.5,1617.3 L639.5,1616.7 L640.5,1616.1 L641.5,1615.7 L642.5,1613.7 L643.5,1611.5 L644.5,1609.6 L645.5,1611.7 L646.5,1610.3 L647.5,1607 L648.5,1608.3 L649.5,1605.2 L650.5,1604.5 L651.5,1604.3 L652.5,1600.9 L653.5,1599.3 L654.5,1596.9 L655.5,1598.2 L656.5,1597.2 L657.5,1596.4 L658.5,1594.9 L659.5,1593 L660.5,1593 L661.5,1589.2 L662.5,1589.6 L663.5,1588.5 L664.5,1586.6 L665.5,1587.6 L666.5,1584.8 L667.5,1584.8 L668.5,1583.1 L669.5,1580.7 L670.5,1582.2 L671.5,1580.1 L672.5,1577.8 L673.5,1576.5 L674.5,1574.3 L675.5,1574.2 L676.5,1573 L677.5,1572.5 L678.5,1570.7 L679.5,1570.9 L680.5,1569.1 L681.5,1566.4 L682.5,1566.9 L683.5,1565.7 L684.5,1564.6 L685.5,1565.3 L686.5,1566.7 L687.5,1562.8 L688.5,1561.7 L689.5,1563.4 L690.5,1568.1 L691.5,1562.3 L692.5,1564.8 L693.5,1563.5 L694.5,1564 L695.5,1565.9 L696.5,1561.6 L697.5,1561.9 L698.5,1561.5 L699.5,1563.5 L700.5,1562.3 L701.5,1560.5 L702.5,1558.8 L703.5,1562.6 L704.5,1560 L705.5,1560.9 L706.5,1562.8 L707.5,1561.4 L708.5,1561.6 L709.5,1562.5 L710.5,1563.3 L711.5,1561.5 L712.5,1560.6 L713.5,1563.4 L714.5,1562.4 L715.5,1561.5 L716.5,1564.9 L717.5,1563.9 L718.5,1564.8 L719.5,1564.5 L720.5,1564.1 L721.5,1567.1 L722.5,1565.5 L723.5,1566 L724.5,1568.2 L725.5,1570.5 L726.5,1571.4 L727.5,1571 L728.5,1573.2 L729.5,1574.1 L730.5,1574.8 L731.5,1576.8 L732.5,1577.9 L733.5,1578.5 L734.5,1581.5 L735.5,1580 L736.5,1583.2 L737.5,1585.1 L738.5,1586.2 L739.5,1585 L740.5,1585.5 L741.5,1584.9 L742.5,1587.8 L743.5,1591.9 L744.5,1588.2 L745.5,1589.3 L746.5,1593.3 L747.5,1594.2 L748.5,1592.4 L749.5,1595.7 L750.5,1597.4 L751.5,1596.4 L752.5,1600.6 L753.5,1599.1 L754.5,1603.4 L755.5,1603.6 L756.5,1603.8 L757.5,1604 L758.5,1606.9 L759.5,1608.5 L760.5,1609.9 L761.5,1610.6 L762.5,1612.4 L763.5,1615 L764.5,1614.2 L765.5,1616.3 L766.5,1618.4 L767.5,1619 L768.5,1621.4 L769.5,1623.4 L770.5,1622.3 L771.5,1624.3 L772.5,1621.7 L773.5,1626 L774.5,1628.4 L775.5,1627.5 L776.5,1631.6 L777.5,1628.9 L778.5,1634 L779.5,1632.9 L780.5,1633.5 L781.5,1635.3 L782.5,1636.7 L783.5,1637 L784.5,1637.7 L785.5,1640 L786.5,1643 L787.5,1643.5 L788.5,1645.9 L789.5,1644.7 L790.5,1646.2 L791.5,1647.4 L792.5,1649.1 L793.5,1650.5 L794.5,1653.1 L795.5,1652.8 L796.5,1653 L797.5,1655.2 L798.5,1653.4 L799.5,1653.5 L800.5,1656.7 L801.5,1656.8 L802.5,1657.5 L803.5,1659.2 L804.5,1658.4 L805.5,1659.3 L806.5,1660.5 L807.5,1661.4 L808.5,1662.3 L809.5,1661.1 L810.5,1663.3 L811.5,1660.5 L812.5,1665 L813.5,1663 L814.5,1664.3 L815.5,1666.1 L816.5,1659.7 L817.5,1662.9 L818.5,1665.9 L819.5,1662 L820.5,1662.3 L821.5,1663 L822.5,1664.5 L823.5,1663.7 L824.5,1661.6 L825.5,1661.7 L826.5,1660.9 L827.5,1661.3 L828.5,1661.2 L829.5,1665.2 L830.5,1663 L831.5,1661.9 L832.5,1664.7 L833.5,1660.5 L834.5,1660.6 L835.5,1663.4 L836.5,1662.2 L837.5,1660 L838.5,1661.2 L839.5,1662.7 L840.5,1658.7 L841.5,1659.2 L842.5,1658.8 L843.5,1657.3 L844.5,1659.8 L845.5,1659.4 L846.5,1656.2 L847.5,1660.9 L848.5,1657.3 L849.5,1658.3 L850.5,1657.9 L851.5,1661.3 L852.5,1653.7 L853.5,1656.1 L854.5,1660 L855.5,1656 L856.5,1656.9 L857.5,1656.8 L858.5,1652.9 L859.5,1654.7 L860.5,1652.7 L861.5,1655.6 L862.5,1652.4 L863.5,1654.9 L864.5,1650.8 L865.5,1652.2 L866.5,1654.8 L867.5,1653.6 L868.5,1651 L869.5,1650.7 L870.5,1651 L871.5,1653.8 L872.5,1649.6 L873.5,1650.6 L874.5,1649.1 L875.5,1648.2 L876.5,1649.6 L877.5,1648 L878.5,1646.7 L879.5,1647.1 L880.5,1646.5 L881.5,1647.7 L882.5,1645.4 L883.5,1645.8 L884.5,1644.1 L885.5,1646.9 L886.5,1644.4 L887.5,1643.8 L888.5,1644.5 L889.5,1643.4 L890.5,1640.9 L891.5,1642 L892.5,1643.6 L893.5,1641.5 L894.5,1641.6 L895.5,1638.7 L896.5,1636.9 L897.5,1637.1 L898.5,1638.7 L899.5,1635.1 L900.5,1634.5 L901.5,1635.9 L902.5,1633.5 L903.5,1632.7 L904.5,1632.6 L905.5,1631.4 L906.5,1630.1 L907.5,1629.9 L908.5,1627.9 L909.5,1627.9 L910.5,1627.9 L911.5,1625 L912.5,1625.1 L913.5,1623.1 L914.5,1624.5 L915.5,1623.4 L916.5,1622.9 L917.5,1622 L918.5,1621 L919.5,1619.7 L920.5,1616.9 L921.5,1617.9 L922.5,1614.6 L923.5,1617.4 L924.5,1613.8 L925.5,1613 L926.5,1609.6 L927.5,1611.2 L928.5,1610 L929.5,1605.5 L930.5,1605.5 L931.5,1604.3 L932.5,1602.8 L933.5,1604 L934.5,1603.7 L935.5,1598.6 L936.5,1599.9 L937.5,1597.1 L938.5,1597.9 L939.5,1592.1 L940.5,1593.2 L941.5,1594 L942.5,1590.3 L943.5,1591.4 L944.5,1588.2 L945.5,1588.9 L946.5,1587 L947.5,1584.6 L948.5,1583 L949.5,1582.6 L950.5,1583 L951.5,1580.6 L952.5,1578.7 L953.5,1582.4 L954.5,1575.5 L955.5,1576 L956.5,1575.8 L957.5,1572.8 L958.5,1573 L959.5,1571.4 L960.5,1569.1 L961.5,1570.4 L962.5,1567.6 L963.5,1567.1 L964.5,1568.7 L965.5,1565.2 L966.5,1566.7 L967.5,1567.3 L968.5,1565.5 L969.5,1565.4 L970.5,1563.3 L971.5,1563.3 L972.5,1563.9 L973.5,1562.7 L974.5,1563.5 L975.5,1562.3 L976.5,1562.6 L977.5,1562.5 L978.5,1561.3 L979.5,1563.1 L980.5,1562 L981.5,1563.6 L982.5,1563 L983.5,1561.9 L984.5,1560 L985.5,1563.2 L986.5,1563.5 L987.5,1560.6 L988.5,1565.4 L989.5,1558.8 L990.5,1564.1 L991.5,1559.1 L992.5,1561.7 L993.5,1559.9 L994.5,1563.2 L995.5,1560.5 L996.5,1560.3 L997.5,1561.5 L998.5,1559.8 L999.5,1560.9 L1000.5,1561.9 L1001.5,1563.8 L1002.5,1563.8 L1003.5,1562.1 L1004.5,1565 L1005.5,1568.1 L1006.5,1567.1 L1007.5,1568.7 L1008.5,1569.1 L1009.5,1570.4 L1010.5,1572.4 L1011.5,1572.1 L1012.5,1574.8 L1013.5,1574.2 L1014.5,1577.8 L1015.5,1576.7 L1016.5,1580.4 L1017.5,1581.9 L1018.5,1579.8 L1019.5,1583.6 L1020.5,1583.3 L1021.5,1586.3 L1022.5,1585.3 L1023.5,1586.7 L1024.5,1587.7 L1025.5,1590.7 L1026.5,1588 L1027.5,1592.3 L1028.5,1592.6 L1029.5,1593.1 L1030.5,1594.5 L1031.5,1597.1 L1032.5,1598.2 L1033.5,1600.4 L1034.5,1598.9 L1035.5,1598.7 L1036.5,1601.6 L1037.5,1603.3 L1038.5,1604.4 L1039.5,1607.7 L1040.5,1610.3 L1041.5,1609.4 L1042.5,1608.1 L1043.5,1612.8 L1044.5,1612.1 L1045.5,1614.3 L1046.5,1616.5 L1047.5,1617.2 L1048.5,1618 L1049.5,1619.6 L1050.5,1621.4 L1051.5,1622.5 L1052.5,1625.5 L1053.5,1620.6 L1054.5,1624.5 L1055.5,1625.9 L1056.5,1628.8 L1057.5,1629.3 L1058.5,1631.2 L1059.5,1629.7 L1060.5,1632.3 L1061.5,1634.5 L1062.5,1634.8 L1063.5,1635.6 L1064.5,1637.5 L1065.5,1640.4 L1066.5,1637.1 L1067.5,1642.7 L1068.5,1642.4 L1069.5,1642.2 L1070.5,1645.3 L1071.5,1645.7 L1072.5,1648.3 L1073.5,1647 L1074.5,1650.2 L1075.5,1649 L1076.5,1651.5 L1077.5,1652.9 L1078.5,1652.8 L1079.5,1654.4 L1080.5,1653.7 L1081.5,1656.4 L1082.5,1655.3 L1083.5,1655.8 L1084.5,1657.3 L1085.5,1658.1 L1086.5,1657.8 L1087.5,1660.5 L1088.5,1660 L1089.5,1661.6 L1090.5,1659.1 L1091.5,1659.3 L1092.5,1662.2 L1093.5,1661.2 L1094.5,1663.6 L1095.5,1663.3 L1096.5,1666.1 L1097.5,1663.7 L1098.5,1662.9 L1099.5,1662.9 L1100.5,1665.5 L1101.5,1660.9 L1102.5,1661.8 L1103.5,1662.7 L1104.5,1662.9 L1105.5,1661.2 L1106.5,1662.3 L1107.5,1659.7 L1108.5,1660.7 L1109.5,1662.3 L1110.5,1662.1 L1111.5,1659.6 L1112.5,1660.8 L1113.5,1662.6 L1114.5,1662.6 L1115.5,1661 L1116.5,1660.1 L1117.5,1661.7 L1118.5,1660.5 L1119.5,1661.3 L1120.5,1662.2 L1121.5,1658.2 L1122.5,1659.9 L1123.5,1660 L1124.5,1659 L1125.5,1657.1 L1126.5,1658.4 L1127.5,1659 L1128.5,1657.6 L1129.5,1661.3 L1130.5,1656.4 L1131.5,1655.5 L1132.5,1657.6 L1133.5,1659.6 L1134.5,1656.8 L1135.5,1657.3 L1136.5,1655.6 L1137.5,1655.1 L1138.5,1656 L1139.5,1654.1 L1140.5,1653.2 L1141.5,1654.5 L1142.5,1655.1 L1143.5,1658.1 L1144.5,1653 L1145.5,1650.4 L1146.5,1654.9 L1147.5,1651.5 L1148.5,1650.5 L1149.5,1652.2 L1150.5,1651.5 L1151.5,1649.9 L1152.5,1649.3 L1153.5,1650.1 L1154.5,1650.2 L1155.5,1646.7 L1156.5,1650.1 L1157.5,1647.3 L1158.5,1650.3 L1159.5,1648.3 L1160.5,1646.6 L1161.5,1648.1 L1162.5,1646.3 L1163.5,1647.4 L1164.5,1647.9 L1165.5,1645.5 L1166.5,1645.7 L1167.5,1644.2 L1168.5,1644 L1169.5,1645.4 L1170.5,1642.3 L1171.5,1643.6 L1172.5,1640 L1173.5,1640.6 L1174.5,1640.8 L1175.5,1641.6 L1176.5,1640.7 L1177.5,1638 L1178.5,1638.2 L1179.5,1637.8 L1180.5,1634.9 L1181.5,1636.4 L1182.5,1636.7 L1183.5,1635.7 L1184.5,1632.7 L1185.5,1632.1 L1186.5,1630.6 L1187.5,1630.3 L1188.5,1629.8 L1189.5,1630.1 L1190.5,1628.5 L1191.5,1626.5 L1192.5,1627.7 L1193.5,1626.9 L1194.5,1624.2 L1195.5,1623.8 L1196.5,1623.1 L1197.5,1620.3 L1198.5,1621.5 L1199.5,1621.2 L1200.5,1621.7 L1201.5,1618.6 L1202.5,1617 L1203.5,1616.2 L1204.5,1616 L1205.5,1615.1 L1206.5,1612 L1207.5,1612 L1208.5,1611.4 L1209.5,1607 L1210.5,1609.8 L1211.5,1606.6 L1212.5,1606.7 L1213.5,1604.3 L1214.5,1602.8 L1215.5,1601.8 L1216.5,1601 L1217.5,1600.4 L1218.5,1597.9 L1219.5,1595.6 L1220.5,1594.9 L1221.5,1593.3 L1222.5,1594.2 L1223.5,1590.9 L1224.5,1592.6 L1225.5,1589.7 L1226.5,1588.2 L1227.5,1588.6 L1228.5,1585.4 L1229.5,1584.3 L1230.5,1584.4 L1231.5,1583.2 L1232.5,1580 L1233.5,1583.1 L1234.5,1579.8 L1235.5,1576.5 L1236.5,1576.7 L1237.5,1577 L1238.5,1575 L1239.5,1574.7 L1240.5,1575.4 L1241.5,1572.6 L1242.5,1572.9 L1243.5,1570.3 L1244.5,1567.8 L1245.5,1569.5 L1246.5,1566.1 L1247.5,1567.4 L1248.5,1566.5 L1249.5,1564.1 L1250.5,1564.7 L1251.5,1563.3 L1252.5,1563.7 L1253.5,1566.7 L1254.5,1562.7 L1255.5,1565.5 L1256.5,1565.5 L1257.5,1561.5 L1258.5,1563.2 L1259.5,1561.3 L1260.5,1563 L1261.5,1560.1 L1262.5,1562.9 L1263.5,1564 L1264.5,1564.2 L1265.5,1561.8 L1266.5,1560.6 L1267.5,1561.4 L1268.5,1560.7 L1269.5,1559.7 L1270.5,1562.9 L1271.5,1563.1 L1272.5,1562.8 L1273.5,1563.5 L1274.5,1560.5 L1275.5,1560.9 L1276.5,1561.4 L1277.5,1561.2 L1278.5,1565.5 L1279.5,1563.8 L1280.5,1563.5 L1281.5,1563 L1282.5,1566.3 L1283.5,1566.4 L1284.5,1563.4 L1285.5,1565.2 L1286.5,1565.9 L1287.5,1567.7 L1288.5,1566.5 L1289.5,1569.8 L1290.5,1571.3 L1291.5,1570.9 L1292.5,1570.2 L1293.5,1573.4 L1294.5,1575 L1295.5,1577.6 L1296.5,1577.1 L1297.5,1577.6 L1298.5,1580.7 L1299.5,1581.5 L1300.5,1583 L1301.5,1583.2 L1302.5,1585.5 L1303.5,1585.9 L1304.5,1584.2 L1305.5,1587.7 L1306.5,1589.4 L1307.5,1589.6 L1308.5,1592.5 L1309.5,1591.3 L1310.5,1593.8 L1311.5,1592.6 L1312.5,1595.3 L1313.5,1595.8 L1314.5,1596.4 L1315.5,1597.3 L1316.5,1600.4 L1317.5,1601.9 L1318.5,1602 L1319.5,1602.6 L1320.5,1604.3 L1321.5,1607.6 L1322.5,1606.6 L1323.5,1610.8 L1324.5,1608.8 L1325.5,1612.4 L1326.5,1614.2 L1327.5,1616.2 L1328.5,1615.5 L1329.5,1616.4 L1330.5,1616.8 L1331.5,1620.9 L1332.5,1620.9 L1333.5,1621.7 L1334.5,1623 L1335.5,1625 L1336.5,1625.9 L1337.5,1628.5 L1338.5,1625.7 L1339.5,1630.5 L1340.5,1630 L1341.5,1631.8 L1342.5,1632.6 L1343.5,1634.1 L1344.5,1636.3 L1345.5,1636.8 L1346.5,1635.9 L1347.5,1638.8 L1348.5,1640 L1349.5,1641.7 L1350.5,1642.6 L1351.5,1643.7 L1352.5,1646.2 L1353.5,1644.8 L1354.5,1649.9 L1355.5,1647.8 L1356.5,1648.3 L1357.5,1651.5 L1358.5,1652.8 L1359.5,1653.9 L1360.5,1655 L1361.5,1654.6 L1362.5,1654.8 L1363.5,1656 L1364.5,1656.3 L1365.5,1656.4 L1366.5,1659.7 L1367.5,1660.7 L1368.5,1659.2 L1369.5,1659.5 L1370.5,1659.8 L1371.5,1658.8 L1372.5,1660 L1373.5,1661.7 L1374.5,1660.8 L1375.5,1662.8 L1376.5,1662.3 L1377.5,1664.9 L1378.5,1662.7 L1379.5,1660.6 L1380.5,1663.9 L1381.5,1663.1 L1382.5,1660.7 L1383.5,1662.2 L1384.5,1660.1 L1385.5,1661.6 L1386.5,1663.5 L1387.5,1666 L1388.5,1666.4 L1389.5,1665.1 L1390.5,1660.9 L1391.5,1664.2 L1392.5,1662.3 L1393.5,1662.5 L1394.5,1664.5 L1395.5,1664.5 L1396.5,1661.9 L1397.5,1662 L1398.5,1664.7 L1399.5,1661.3 L1400.5,1660.7 L1401.5,1659.4 L1402.5,1661.1 L1403.5,1661.2 L1404.5,1659.4 L1405.5,1659.3 L1406.5,1660.3 L1407.5,1661.8 L1408.5,1657.4 L1409.5,1655.4 L1410.5,1658.4 L1411.5,1657.4 L1412.5,1657.5 L1413.5,1657.5 L1414.5,1657.3 L1415.5,1654.9 L1416.5,1657.2 L1417.5,1659.7 L1418.5,1655.1 L1419.5,1652.1 L1420.5,1655.2 L1421.5,1653.9 L1422.5,1655.5 L1423.5,1654.4 L1424.5,1655 L1425.5,1658.6 L1426.5,1653.3 L1427.5,1653.7 L1428.5,1653.5 L1429.5,1650.2 L1430.5,1653.2 L1431.5,1650.9 L1432.5,1649.9 L1433.5,1650.5 L1434.5,1651.1 L1435.5,1651.7 L1436.5,1651.5 L1437.5,1650.7 L1438.5,1648.9 L1439.5,1650.4 L1440.5,1648.8 L1441.5,1650.1 L1442.5,1645 L1443.5,1649.2 L1444.5,1648.7 L1445.5,1647.9 L1446.5,1645.7 L1447.5,1645.9 L1448.5,1644.3 L1449.5,1643.5 L1450.5,1647.3 L1451.5,1645.3 L1452.5,1644.6 L1453.5,1643.6 L1454.5,1640.3 L1455.5,1641.6 L1456.5,1641.5 L1457.5,1642 L1458.5,1638.7 L1459.5,1639.4 L1460.5,1638.1 L1461.5,1637.6 L1462.5,1635.8 L1463.5,1636.3 L1464.5,1635.2 L1465.5,1632 L1466.5,1634.8 L1467.5,1635.2 L1468.5,1630.7 L1469.5,1632.3 L1470.5,1628.9 L1471.5,1628.6 L1472.5,1630.5 L1473.5,1627.8 L1474.5,1628.5 L1475.5,1626.2 L1476.5,1626.2 L1477.5,1623.9 L1478.5,1624.9 L1479.5,1624.4 L1480.5,1622.1 L1481.5,1619.7 L1482.5,1618.9 L1483.5,1617.2 L1484.5,1618.1 L1485.5,1616.9 L1486.5,1614.4 L1487.5,1615.2 L1488.5,1612.2 L1489.5,1613.9 L1490.5,1611.5 L1491.5,1611.2 L1492.5,1607.2 L1493.5,1605.6 L1494.5,1603.3 L1495.5,1605 L1496.5,1601.7 L1497.5,1603.4 L1498.5,1600.7 L1499.5,1600.2 L1500.5,1596.6 L1501.5,1596.2 L1502.5,1595.9 L1503.5,1595.3 L1504.5,1591.6 L1505.5,1592.3 L1506.5,1589.7 L1507.5,1590.4 L1508.5,1587.9 L1509.5,1586.6 L1510.5,1586.3 L1511.5,1586 L1512.5,1583.1 L1513.5,1583.7 L1514.5,1580 L1515.5,1580.4 L1516.5,1577.7 L1517.5,1578.2 L1518.5,1575.8 L1519.5,1575.8 L1520.5,1575.4 L1521.5,1572.4 L1522.5,1570.4 L1523.5,1571.2 L1524.5,1571.1 L1525.5,1569.7 L1526.5,1567.5 L1527.5,1568.7 L1528.5,1566.6 L1529.5,1567.2 L1530.5,1564.6 L1531.5,1565.7 L1532.5,1566.6 L1533.5,1563.1 L1534.5,1564.1 L1535.5,1565.7 L1536.5,1564.9 L1537.5,1563.9 L1538.5,1562 L1539.5,1561.3 L1540.5,1562.5 L1541.5,1560.6 L1542.5,1563.3 L1543.5,1561.3 L1544.5,1563.9 L1545.5,1562.9 L1546.5,1563.3 L1547.5,1560.7 L1548.5,1563.3 L1549.5,1564.3 L1550.5,1562.1 L1551.5,1562.7 L1552.5,1563.7 L1553.5,1563.9 L1554.5,1561 L1555.5,1561 L1556.5,1563.9 L1557.5,1559.9 L1558.5,1563.7 L1559.5,1563.7 L1560.5,1565.7 L1561.5,1562 L1562.5,1562.3 L1563.5,1563.5 L1564.5,1563.3 L1565.5,1562.6 L1566.5,1566.4 L1567.5,1565.7 L1568.5,1565.8 L1569.5,1566.3 L1570.5,1567.8 L1571.5,1569 L1572.5,1571 L1573.5,1571.2 L1574.5,1573.6 L1575.5,1574.9 L1576.5,1575.2 L1577.5,1579.8 L1578.5,1578.2 L1579.5,1579.8 L1580.5,1580.6 L1581.5,1581.3 L1582.5,1583.4 L1583.5,1585.3 L1584.5,1584.6 L1585.5,1584.7 L1586.5,1587.5 L1587.5,1585.3 L1588.5,1589.2 L1589.5,1589.9 L1590.5,1591.6 L1591.5,1590.5 L1592.5,1592.9 L1593.5,1593.4 L1594.5,1595.1 L1595.5,1597.6 L1596.5,1597.9 L1597.5,1598.7 L1598.5,1602.1 L1599.5,1602 L1600.5,1600.8 L1601.5,1603.3 L1602.5,1606.4 L1603.5,1607.8 L1604.5,1608.9 L1605.5,1610.2 L1606.5,1610.2 L1607.5,1612.5 L1608.5,1612.5 L1609.5,1614.2 L1610.5,1615.4 L1611.5,1616.8 L1612.5,1618.6 L1613.5,1620 L1614.5,1620.5 L1615.5,1624 L1616.5,1623.4 L1617.5,1626.9 L1618.5,1627.5 L1619.5,1626.1 L1620.5,1629.8 L1621.5,1628.3 L1622.5,1632.8 L1623.5,1632.7 L1624.5,1632.3 L1625.5,1632 L1626.5,1635.3 L1627.5,1635.3 L1628.5,1639.4 L1629.5,1637.8 L1630.5,1640.2 L1631.5,1642.3 L1632.5,1642.9 L1633.5,1644.5 L1634.5,1645.1 L1635.5,1647.4 L1636.5,1646.6 L1637.5,1649.5 L1638.5,1648.4 L1639.5,1651.1 L1640.5,1650.5 L1641.5,1652.5 L1642.5,1654.2 L1643.5,1655.7 L1644.5,1652.9 L1645.5,1654.8 L1646.5,1655.4 L1647.5,1658.7 L1648.5,1657 L1649.5,1659.5 L1650.5,1658.8 L1651.5,1658.3 L1652.5,1660.5 L1653.5,1659.9 L1654.5,1661.7 L1655.5,1663.8 L1656.5,1663.9 L1657.5,1659.9 L1658.5,1665.4 L1659.5,1662.5 L1660.5,1658.2 L1661.5,1665.4 L1662.5,1666 L1663.5,1662.3 L1664.5,1664.4 L1665.5,1662 L1666.5,1661.8 L1667.5,1661.3 L1668.5,1662.4 L1669.5,1663.2 L1670.5,1660.1 L1671.5,1659.3 L1672.5,1665 L1673.5,1660.8 L1674.5,1662.8 L1675.5,1665.6 L1676.5,1663.4 L1677.5,1663.6 L1678.5,1661.9 L1679.5,1661.1 L1680.5,1661.9 L1681.5,1659.6 L1682.5,1660.5 L1683.5,1660.4 L1684.5,1662 L1685.5,1660.3 L1686.5,1658 L1687.5,1660.3 L1688.5,1659.5 L1689.5,1659.6 L1690.5,1658.2 L1691.5,1657.3 L1692.5,1656.4 L1693.5,1660.3 L1694.5,1657.3 L1695.5,1657.8 L1696.5,1655 L1697.5,1657.6 L1698.5,1657.3 L1699.5,1658.1 L1700.5,1654.4 L1701.5,1657.2 L1702.5,1655.7 L1703.5,1657.8 L1704.5,1654.1 L1705.5,1655.5 L1706.5,1654 L1707.5,1652.9 L1708.5,1654.3 L1709.5,1653.2 L1710.5,1654.1 L1711.5,1651.7 L1712.5,1653.2 L1713.5,1651.8 L1714.5,1652.7 L1715.5,1650.7 L1716.5,1651.1 L1717.5,1652.9 L1718.5,1649.1 L1719.5,1649.6 L1720.5,1648.8 L1721.5,1646.8 L1722.5,1647.9 L1723.5,1649.7 L1724.5,1646.5 L1725.5,1647.4 L1726.5,1648 L1727.5,1646.3 L1728.5,1646.7 L1729.5,1645.2 L1730.5,1645.7 L1731.5,1644.3 L1732.5,1645.5 L1733.5,1643.9 L1734.5,1644.7 L1735.5,1640.6 L1736.5,1643.3 L1737.5,1641 L1738.5,1641 L1739.5,1639.8 L1740.5,1640.3 L1741.5,1638.6 L1742.5,1638.7 L1743.5,1636.2 L1744.5,1636.6 L1745.5,1637 L1746.5,1636 L1747.5,1633.4 L1748.5,1633.2 L1749.5,1631.7 L1750.5,1631.2 L1751.5,1630.6 L1752.5,1631.1 L1753.5,1629.6 L1754.5,1629.8 L1755.5,1629 L1756.5,1624.8 L1757.5,1625.8 L1758.5,1624 L1759.5,1621.7 L1760.5,1621.5 L1761.5,1621.2 L1762.5,1622.9 L1763.5,1620 L1764.5,1618.7 L1765.5,1617.9 L1766.5,1616 L1767.5,1616 L1768.5,1614.6 L1769.5,1611.6 L1770.5,1611.8 L1771.5,1615.2 L1772.5,1610.7 L1773.5,1608.6 L1774.5,1608.3 L1775.5,1605.1 L1776.5,1605.1 L1777.5,1604.8 L1778.5,1600.6 L1779.5,1600.4 L1780.5,1599.5 L1781.5,1598.5 L1782.5,1597 L1783.5,1596.7 L1784.5,1596.3 L1785.5,1594.3 L1786.5,1593.9 L1787.5,1592.6 L1788.5,1589.4 L1789.5,1589.2 L1790.5,1587.2 L1791.5,1587.2 L1792.5,1584.8 L1793.5,1583.8 L1794.5,1584.9 L1795.5,1581.6 L1796.5,1578.8 L1797.5,1579.8 L1798.5,1578.9 L1799.5,1576.9 L1800.5,1576.5 L1801.5,1576.5 L1802.5,1573.6 L1803.5,1572.9 L1804.5,1571.2 L1805.5,1571.4 L1806.5,1569.8 L1807.5,1567.9 L1808.5,1568 L1809.5,1569.5 L1810.5,1564.6 L1811.5,1564.3 L1812.5,1565.8 L1813.5,1563.3 L1814.5,1566.3 L1815.5,1561.8 L1816.5,1562.1 L1817.5,1562.9 L1818.5,1565.1 L1819.5,1564.6 L1820.5,1564 L1821.5,1562.9 L1822.5,1563 L1823.5,1558.9 L1824.5,1561.2 L1825.5,1564.7 L1826.5,1559.4 L1827.5,1562.1 L1828.5,1562.1 L1829.5,1562.1 L1830.5,1562.9 L1831.5,1565.4 L1832.5,1562.6 L1833.5,1563.8 L1834.5,1561.3 L1835.5,1562.5 L1836.5,1559.2 L1837.5,1563.4 L1838.5,1560.8 L1839.5,1562.3 L1840.5,1564.3 L1841.5,1564.2 L1842.5,1558.3 L1843.5,1561 L1844.5,1564.5 L1845.5,1564.1 L1846.5,1561.2 L1847.5,1563.7 L1848.5,1566.2 L1849.5,1566.6 L1850.5,1565.6 L1851.5,1567.3 L1852.5,1567.1 L1853.5,1571.6 L1854.5,1570.7 L1855.5,1573.9 L1856.5,1574.7 L1857.5,1573.9 L1858.5,1576.1 L1859.5,1578.2 L1860.5,1579.1 L1861.5,1581.4 L1862.5,1582 L1863.5,1582.1 L1864.5,1583.6 L1865.5,1583 L1866.5,1584.2 L1867.5,1586.7 L1868.5,1587.4 L1869.5,1586.8 L1870.5,1589.1 L1871.5,1589.4 L1872.5,1590.8 L1873.5,1594.1 L1874.5,1592.6 L1875.5,1594.1 L1876.5,1596.7 L1877.5,1597.3 L1878.5,1598.6 L1879.5,1598 L1880.5,1600.9 L1881.5,1601.8 L1882.5,1602.6 L1883.5,1604.2 L1884.5,1605.9 L1885.5,1608.6 L1886.5,1611.1 L1887.5,1610.4 L1888.5,1613.3 L1889.5,1613.1 L1890.5,1612.5 L1891.5,1615.6 L1892.5,1618.3 L1893.5,1619.7 L1894.5,1618.3 L1895.5,1623.2 L1896.5,1620.9 L1897.5,1622.2 L1898.5,1623.6 L1899.5,1627.1 L1900.5,1627.1 L1901.5,1628.9 L1902.5,1626.5 L1903.5,1630.2 L1904.5,1631.3 L1905.5,1633.4 L1906.5,1633.2 L1907.5,1636.3 L1908.5,1635.3 L1909.5,1635.6 L1910.5,1636.5 L1911.5,1641.1 L1912.5,1641.8 L1913.5,1641.2 L1914.5,1644.6 L1915.5,1644.3 L1916.5,1645.6 L1917.5,1645.2 L1918.5,1647.4 L1919.5,1649.3 L1920.5,1650.4 L1921.5,1650.6 L1922.5,1653.3 L1923.5,1654.7 L1924.5,1652.8 L1925.5,1655 L1926.5,1653.5 L1927.5,1656.5 L1928.5,1655.7 L1929.5,1657.4 L1930.5,1658.5 L1931.5,1658.7 L1932.5,1660.8 L1933.5,1659.4 L1934.5,1660 L1935.5,1662 L1936.5,1661.7 L1937.5,1662.6 L1938.5,1662.5 L1939.5,1663.5 L1940.5,1663.9 L1941.5,1664.9 L1942.5,1664.6 L1943.5,1663.9 L1944.5,1664.3 L1945.5,1663 L1946.5,1663 L1947.5,1663.9 L1948.5,1658.7 L1949.5,1662.9 L1950.5,1663.6 L1951.5,1664.5 L1952.5,1660.2 L1953.5,1662.1 L1954.5,1660.6 L1955.5,1664.1 L1956.5,1661.9 L1957.5,1660.4 L1958.5,1662.6 L1959.5,1661.6 L1960.5,1658.4 L1961.5,1661.1 L1962.5,1660.5 L1963.5,1663 L1964.5,1662.1 L1965.5,1660.8 L1966.5,1661.1 L1967.5,1660.8 L1968.5,1661.3 L1969.5,1659.8 L1970.5,1657.2 L1971.5,1658.9 L1972.5,1659.6 L1973.5,1657.2 L1974.5,1657.9 L1975.5,1658.4 L1976.5,1660.4 L1977.5,1659.2 L1978.5,1659.9 L1979.5,1657.3 L1980.5,1657.8 L1981.5,1655.4 L1982.5,1657.3 L1983.5,1657.2 L1984.5,1655.8 L1985.5,1652.7 L1986.5,1656.4 L1987.5,1653.7 L1988.5,1654.3 L1989.5,1652.5 L1990.5,1653.4 L1991.5,1652.9 L1992.5,1652.1 L1993.5,1650.9 L1994.5,1653.5 L1995.5,1652 L1996.5,1654.2 L1997.5,1650.3 L1998.5,1651.2 L1999.5,1652 L2000.5,1648.7 L2001.5,1650.9 L2002.5,1649.4 L2003.5,1648.9 L2004.5,1649.7" fill="none" stroke="#ff0000" stroke-width="11.5" stroke-linejoin="round"/>
</g>
<g clip-path="url(#c6)">
<path d="M308.5,1773.5 L309.5,1772.6 L310.5,1774.8 L311.5,1773.6 L312.5,1772.8 L313.5,1773.2 L314.5,1774.6 L315.5,1771.5 L316.5,1773.4 L317.5,1775.8 L318.5,1774.2 L319.5,1772.3 L320.5,1773.3 L321.5,1773 L322.5,1775.9 L323.5,1772.5 L324.5,1772.9 L325.5,1772.9 L326.5,1771.8 L327.5,1769.9 L328.5,1773 L329.5,1773.7 L330.5,1772.8 L331.5,1773.7 L332.5,1773.9 L333.5,1773.9 L334.5,1771.5 L335.5,1774.7 L336.5,1774 L337.5,1774 L338.5,1773.2 L339.5,1773.2 L340.5,1772.6 L341.5,1773.6 L342.5,1774.1 L343.5,1772.6 L344.5,1774 L345.5,1772.7 L346.5,1773.8 L347.5,1773 L348.5,1774 L349.5,1775.1 L350.5,1773.4 L351.5,1772.7 L352.5,1772.7 L353.5,1773.8 L354.5,1772.7 L355.5,1774.1 L356.5,1773.5 L357.5,1774.1 L358.5,1772.6 L359.5,1772.2 L360.5,1772.4 L361.5,1773.6 L362.5,1772.4 L363.5,1773.8 L364.5,1771.1 L365.5,1772.5 L366.5,1773 L367.5,1771.4 L368.5,1772.6 L369.5,1771.7 L370.5,1773.1 L371.5,1772.9 L372.5,1773.9 L373.5,1772.3 L374.5,1771.5 L375.5,1772.6 L376.5,1773.3 L377.5,1773.2 L378.5,1773.3 L379.5,1774.3 L380.5,1772.8 L381.5,1772.9 L382.5,1772.3 L383.5,1772.6 L384.5,1774.2 L385.5,1773.5 L386.5,1770.6 L387.5,1774.3 L388.5,1771.2 L389.5,1772.7 L390.5,1774.1 L391.5,1773.3 L392.5,1773.7 L393.5,1774 L394.5,1773.4 L395.5,1771.9 L396.5,1773.5 L397.5,1772.4 L398.5,1770.8 L399.5,1772.8 L400.5,1773.7 L401.5,1773.3 L402.5,1773.1 L403.5,1774.8 L404.5,1773.4 L405.5,1774 L406.5,1773.5 L407.5,1774.8 L408.5,1772.8 L409.5,1774.3 L410.5,1774.9 L411.5,1772.8 L412.5,1774.2 L413.5,1771.8 L414.5,1773.4 L415.5,1773.9 L416.5,1772.3 L417.5,1771.4 L418.5,1773.2 L419.5,1772.8 L420.5,1773.3 L421.5,1773.4 L422.5,1773.9 L423.5,1774.7 L424.5,1773.6 L425.5,1771.6 L426.5,1773.8 L427.5,1773.5 L428.5,1773.3 L429.5,1774.7 L430.5,1773.4 L431.5,1772.8 L432.5,1773.6 L433.5,1771.5 L434.5,1774.1 L435.5,1773.2 L436.5,1774.8 L437.5,1773.8 L438.5,1773.5 L439.5,1773.3 L440.5,1772 L441.5,1773 L442.5,1773.4 L443.5,1774.1 L444.5,1773.5 L445.5,1773.8 L446.5,1773.8 L447.5,1772.6 L448.5,1773.4 L449.5,1772.9 L450.5,1771.9 L451.5,1771.6 L452.5,1773.9 L453.5,1774.5 L454.5,1774.5 L455.5,1772.3 L456.5,1774.6 L457.5,1774.7 L458.5,1772.4 L459.5,1773.6 L460.5,1774.8 L461.5,1773.2 L462.5,1774.3 L463.5,1772.5 L464.5,1772.8 L465.5,1774 L466.5,1773 L467.5,1773.2 L468.5,1773.2 L469.5,1772.1 L470.5,1774.6 L471.5,1773 L472.5,1772.8 L473.5,1772.7 L474.5,1773.2 L475.5,1772.2 L476.5,1774 L477.5,1772.8 L478.5,1773.9 L479.5,1772.2 L480.5,1772.1 L481.5,1772.2 L482.5,1773.3 L483.5,1771.8 L484.5,1773.9 L485.5,1772.8 L486.5,1774 L487.5,1772.7 L488.5,1773.9 L489.5,1772.1 L490.5,1772 L491.5,1773.7 L492.5,1772.5 L493.5,1774.1 L494.5,1772.4 L495.5,1773.6 L496.5,1772.3 L497.5,1771.4 L498.5,1774.5 L499.5,1772.9 L500.5,1774 L501.5,1773.3 L502.5,1771.4 L503.5,1773.5 L504.5,1774.1 L505.5,1774.3 L506.5,1774.7 L507.5,1773.5 L508.5,1773 L509.5,1773.1 L510.5,1771.9 L511.5,1773.8 L512.5,1773.8 L513.5,1773.4 L514.5,1772.3 L515.5,1773.7 L516.5,1772.5 L517.5,1774.3 L518.5,1772.5 L519.5,1772.5 L520.5,1772.7 L521.5,1772 L522.5,1772.2 L523.5,1772.8 L524.5,1770.6 L525.5,1775 L526.5,1773.4 L527.5,1773.3 L528.5,1772.2 L529.5,1773.2 L530.5,1773 L531.5,1773.1 L532.5,1771.6 L533.5,1772.9 L534.5,1771.2 L535.5,1772.8 L536.5,1772.2 L537.5,1772.4 L538.5,1772.7 L539.5,1773.9 L540.5,1774.2 L541.5,1773.1 L542.5,1772 L543.5,1774.5 L544.5,1771.6 L545.5,1772.5 L546.5,1772.8 L547.5,1772.3 L548.5,1774.3 L549.5,1773.4 L550.5,1774.1 L551.5,1772.7 L552.5,1773.9 L553.5,1772.9 L554.5,1772.9 L555.5,1773.3 L556.5,1773.4 L557.5,1773.6 L558.5,1772.8 L559.5,1771.5 L560.5,1772.7 L561.5,1770.4 L562.5,1772.7 L563.5,1772.2 L564.5,1773.8 L565.5,1770.3 L566.5,1775 L567.5,1772.7 L568.5,1771.4 L569.5,1773.4 L570.5,1773.5 L571.5,1773.4 L572.5,1775.2 L573.5,1772.2 L574.5,1773.3 L575.5,1773.1 L576.5,1772.3 L577.5,1773.3 L578.5,1774.2 L579.5,1772.1 L580.5,1773.4 L581.5,1774 L582.5,1773.6 L583.5,1771.4 L584.5,1773.3 L585.5,1772.6 L586.5,1774.2 L587.5,1772.9 L588.5,1774.9 L589.5,1771.8 L590.5,1773.5 L591.5,1772.1 L592.5,1774.7 L593.5,1774.5 L594.5,1772.1 L595.5,1773.7 L596.5,1772.9 L597.5,1771.4 L598.5,1771.9 L599.5,1773.1 L600.5,1773.5 L601.5,1772.6 L602.5,1773.3 L603.5,1773.3 L604.5,1773.3 L605.5,1771.8 L606.5,1773.1 L607.5,1773.5 L608.5,1771.5 L609.5,1774.5 L610.5,1774.4 L611.5,1773.1 L612.5,1775 L613.5,1772.2 L614.5,1772 L615.5,1772.3 L616.5,1772.2 L617.5,1774.8 L618.5,1773 L619.5,1772.9 L620.5,1773.3 L621.5,1774.5 L622.5,1773.1 L623.5,1772.6 L624.5,1773.2 L625.5,1774.2 L626.5,1772.7 L627.5,1774.4 L628.5,1773.3 L629.5,1772.8 L630.5,1773.4 L631.5,1774.9 L632.5,1772.7 L633.5,1774.3 L634.5,1773.5 L635.5,1773.1 L636.5,1773 L637.5,1773.8 L638.5,1773.6 L639.5,1773.3 L640.5,1773.6 L641.5,1772.1 L642.5,1772.3 L643.5,1771.9 L644.5,1772.6 L645.5,1772.7 L646.5,1772.6 L647.5,1773.5 L648.5,1772 L649.5,1772.7 L650.5,1773.8 L651.5,1774.6 L652.5,1773 L653.5,1774.1 L654.5,1774.3 L655.5,1771.9 L656.5,1773.2 L657.5,1771.9 L658.5,1772.5 L659.5,1773.3 L660.5,1771.7 L661.5,1773.4 L662.5,1772.8 L663.5,1772.7 L664.5,1773.4 L665.5,1772.1 L666.5,1771.3 L667.5,1772.9 L668.5,1772.2 L669.5,1772.7 L670.5,1771.8 L671.5,1772 L672.5,1771.9 L673.5,1771.7 L674.5,1772.1 L675.5,1772.1 L676.5,1772.9 L677.5,1776 L678.5,1772.3 L679.5,1771.3 L680.5,1773.5 L681.5,1771.7 L682.5,1772 L683.5,1772.6 L684.5,1772.9 L685.5,1773 L686.5,1773.1 L687.5,1772.8 L688.5,1774 L689.5,1773.7 L690.5,1772.4 L691.5,1772.7 L692.5,1771.6 L693.5,1773.5 L694.5,1772.7 L695.5,1774.8 L696.5,1772.2 L697.5,1774.4 L698.5,1772 L699.5,1771.2 L700.5,1772 L701.5,1773.2 L702.5,1773.9 L703.5,1772 L704.5,1773.8 L705.5,1772.4 L706.5,1772.4 L707.5,1772.6 L708.5,1774.5 L709.5,1773 L710.5,1773.2 L711.5,1771.4 L712.5,1773 L713.5,1773.1 L714.5,1774.5 L715.5,1772 L716.5,1772.2 L717.5,1772 L718.5,1772.2 L719.5,1773.5 L720.5,1772.1 L721.5,1774.1 L722.5,1772.9 L723.5,1772 L724.5,1772.2 L725.5,1771.5 L726.5,1771.4 L727.5,1774 L728.5,1773.7 L729.5,1771.9 L730.5,1772.4 L731.5,1774.4 L732.5,1772.1 L733.5,1773.1 L734.5,1773.3 L735.5,1772.6 L736.5,1772.6 L737.5,1772.5 L738.5,1772.9 L739.5,1771.3 L740.5,1772.9 L741.5,1773 L742.5,1771.5 L743.5,1773.3 L744.5,1771.9 L745.5,1770.3 L746.5,1770.9 L747.5,1772.9 L748.5,1773.4 L749.5,1772.4 L750.5,1771.4 L751.5,1772.7 L752.5,1773.7 L753.5,1772.8 L754.5,1771.4 L755.5,1773.3 L756.5,1772.6 L757.5,1772.6 L758.5,1772.9 L759.5,1773.4 L760.5,1772.7 L761.5,1771.9 L762.5,1772.7 L763.5,1772.9 L764.5,1774 L765.5,1771.6 L766.5,1772.7 L767.5,1771.9 L768.5,1773.1 L769.5,1772.3 L770.5,1769.8 L771.5,1773.7 L772.5,1772.1 L773.5,1771.7 L774.5,1771.3 L775.5,1771.7 L776.5,1771.5 L777.5,1772.6 L778.5,1772.9 L779.5,1772.7 L780.5,1773.1 L781.5,1772 L782.5,1773.4 L783.5,1772.7 L784.5,1773.2 L785.5,1773.4 L786.5,1772.4 L787.5,1774 L788.5,1773.6 L789.5,1772.4 L790.5,1774.5 L791.5,1774.4 L792.5,1771.3 L793.5,1770.6 L794.5,1772.2 L795.5,1773.2 L796.5,1773.7 L797.5,1773.4 L798.5,1772.8 L799.5,1773.7 L800.5,1773.5 L801.5,1772.3 L802.5,1773 L803.5,1773.8 L804.5,1772.1 L805.5,1772.2 L806.5,1772 L807.5,1774.2 L808.5,1773.4 L809.5,1773.6 L810.5,1772.4 L811.5,1772.7 L812.5,1774 L813.5,1772.5 L814.5,1773.9 L815.5,1772.7 L816.5,1772.7 L817.5,1773.3 L818.5,1773.6 L819.5,1774.5 L820.5,1772.4 L821.5,1774.4 L822.5,1772 L823.5,1771.9 L824.5,1770.6 L825.5,1773.6 L826.5,1774.2 L827.5,1771.6 L828.5,1772.4 L829.5,1772.5 L830.5,1771.2 L831.5,1772.8 L832.5,1773.1 L833.5,1772.3 L834.5,1771.8 L835.5,1772.9 L836.5,1773.3 L837.5,1771.4 L838.5,1772.7 L839.5,1773.3 L840.5,1770 L841.5,1773.1 L842.5,1774.4 L843.5,1771.5 L844.5,1774 L845.5,1772.5 L846.5,1773.3 L847.5,1772.6 L848.5,1771.6 L849.5,1771.1 L850.5,1775.1 L851.5,1771.4 L852.5,1772.5 L853.5,1774.1 L854.5,1773 L855.5,1772.9 L856.5,1770.8 L857.5,1772.1 L858.5,1771.4 L859.5,1771 L860.5,1773.1 L861.5,1773.6 L862.5,1772 L863.5,1772.1 L864.5,1773.2 L865.5,1773.6 L866.5,1771.7 L867.5,1773.9 L868.5,1773.7 L869.5,1772.7 L870.5,1771.7 L871.5,1773.3 L872.5,1773.4 L873.5,1774.5 L874.5,1772.1 L875.5,1774.3 L876.5,1772.4 L877.5,1773.2 L878.5,1772.6 L879.5,1772.8 L880.5,1774.2 L881.5,1772.1 L882.5,1773.5 L883.5,1772.5 L884.5,1772.7 L885.5,1772 L886.5,1772.9 L887.5,1770.8 L888.5,1772.5 L889.5,1773.7 L890.5,1773.5 L891.5,1771.1 L892.5,1771.6 L893.5,1772.3 L894.5,1774.6 L895.5,1772.3 L896.5,1772.7 L897.5,1772.5 L898.5,1773 L899.5,1771.8 L900.5,1773 L901.5,1773.2 L902.5,1773.7 L903.5,1771.9 L904.5,1773.6 L905.5,1774.6 L906.5,1773.5 L907.5,1773.4 L908.5,1770.3 L909.5,1774 L910.5,1774.6 L911.5,1773.9 L912.5,1773.2 L913.5,1773.5 L914.5,1775.7 L915.5,1772 L916.5,1772.3 L917.5,1773.8 L918.5,1773 L919.5,1770.6 L920.5,1772.9 L921.5,1773 L922.5,1771.8 L923.5,1773.1 L924.5,1772.9 L925.5,1770.9 L926.5,1773.2 L927.5,1774.8 L928.5,1774.4 L929.5,1771.6 L930.5,1771.4 L931.5,1772.8 L932.5,1773 L933.5,1771.4 L934.5,1772 L935.5,1774 L936.5,1772.9 L937.5,1773.7 L938.5,1772.7 L939.5,1773.7 L940.5,1772.2 L941.5,1772.2 L942.5,1771.7 L943.5,1770.8 L944.5,1772.3 L945.5,1771.3 L946.5,1772.2 L947.5,1772.8 L948.5,1772.9 L949.5,1773.1 L950.5,1772.3 L951.5,1772.6 L952.5,1773.8 L953.5,1772.5 L954.5,1772.7 L955.5,1770.2 L956.5,1771.6 L957.5,1773.8 L958.5,1771.8 L959.5,1771.6 L960.5,1773.6 L961.5,1771.4 L962.5,1773.6 L963.5,1772.6 L964.5,1772 L965.5,1770.6 L966.5,1774 L967.5,1770.9 L968.5,1771.4 L969.5,1773.4 L970.5,1771.4 L971.5,1773.2 L972.5,1772.6 L973.5,1772.4 L974.5,1771.6 L975.5,1772 L976.5,1772.9 L977.5,1771.7 L978.5,1773.3 L979.5,1772.9 L980.5,1773.2 L981.5,1772.9 L982.5,1773.2 L983.5,1773 L984.5,1773.5 L985.5,1773 L986.5,1773 L987.5,1771.7 L988.5,1770.9 L989.5,1772.7 L990.5,1773.6 L991.5,1771.7 L992.5,1771.1 L993.5,1772.1 L994.5,1773 L995.5,1773.5 L996.5,1772.3 L997.5,1771.5 L998.5,1772.6 L999.5,1773.3 L1000.5,1772.6 L1001.5,1773.6 L1002.5,1772.1 L1003.5,1773.5 L1004.5,1774.3 L1005.5,1771.6 L1006.5,1771.8 L1007.5,1773.3 L1008.5,1775.7 L1009.5,1773.1 L1010.5,1772.6 L1011.5,1773.9 L1012.5,1772.5 L1013.5,1771 L1014.5,1771.7 L1015.5,1774 L1016.5,1770.9 L1017.5,1771.2 L1018.5,1773.4 L1019.5,1772.8 L1020.5,1773.8 L1021.5,1771.6 L1022.5,1771.9 L1023.5,1772.3 L1024.5,1771.4 L1025.5,1772.4 L1026.5,1772.4 L1027.5,1773.5 L1028.5,1772.5 L1029.5,1772.2 L1030.5,1773.1 L1031.5,1773.7 L1032.5,1773.6 L1033.5,1772.9 L1034.5,1772.2 L1035.5,1772.1 L1036.5,1771.3 L1037.5,1772.7 L1038.5,1772.6 L1039.5,1774.2 L1040.5,1772.8 L1041.5,1773.3 L1042.5,1773.9 L1043.5,1770.7 L1044.5,1771.9 L1045.5,1772.4 L1046.5,1772.7 L1047.5,1771.5 L1048.5,1773.4 L1049.5,1773.5 L1050.5,1773.1 L1051.5,1773.3 L1052.5,1771.5 L1053.5,1773.7 L1054.5,1772 L1055.5,1770.7 L1056.5,1772.7 L1057.5,1773 L1058.5,1771.9 L1059.5,1770.9 L1060.5,1771.4 L1061.5,1772.4 L1062.5,1770 L1063.5,1773.6 L1064.5,1773.6 L1065.5,1772.4 L1066.5,1773.6 L1067.5,1772.4 L1068.5,1771.4 L1069.5,1773.2 L1070.5,1773.1 L1071.5,1771.6 L1072.5,1771.2 L1073.5,1771.6 L1074.5,1773.7 L1075.5,1772.3 L1076.5,1775.4 L1077.5,1771.9 L1078.5,1773.2 L1079.5,1772.9 L1080.5,1772.3 L1081.5,1773.4 L1082.5,1771.7 L1083.5,1772.5 L1084.5,1771.4 L1085.5,1770.4 L1086.5,1772.6 L1087.5,1771.4 L1088.5,1771.3 L1089.5,1773.1 L1090.5,1772.4 L1091.5,1772.9 L1092.5,1774.3 L1093.5,1772.7 L1094.5,1773 L1095.5,1771.4 L1096.5,1773.4 L1097.5,1773.4 L1098.5,1771.5 L1099.5,1773.2 L1100.5,1772.9 L1101.5,1772.3 L1102.5,1772.6 L1103.5,1775 L1104.5,1771.9 L1105.5,1772.2 L1106.5,1772.6 L1107.5,1772.4 L1108.5,1770.7 L1109.5,1773.2 L1110.5,1773.5 L1111.5,1774.3 L1112.5,1772 L1113.5,1771.3 L1114.5,1773.2 L1115.5,1771.5 L1116.5,1772.5 L1117.5,1772.1 L1118.5,1772.7 L1119.5,1772.1 L1120.5,1773.2 L1121.5,1771.6 L1122.5,1774.9 L1123.5,1773.3 L1124.5,1771.9 L1125.5,1771.6 L1126.5,1772.3 L1127.5,1772.1 L1128.5,1771.7 L1129.5,1773.9 L1130.5,1773.5 L1131.5,1771.4 L1132.5,1773.1 L1133.5,1772.5 L1134.5,1773.3 L1135.5,1771.9 L1136.5,1774.7 L1137.5,1772.6 L1138.5,1774.5 L1139.5,1772 L1140.5,1773.9 L1141.5,1772.4 L1142.5,1774.2 L1143.5,1772.3 L1144.5,1771.5 L1145.5,1771.4 L1146.5,1771.9 L1147.5,1773.1 L1148.5,1772.9 L1149.5,1772.6 L1150.5,1773.6 L1151.5,1774.2 L1152.5,1771.5 L1153.5,1773.5 L1154.5,1774.8 L1155.5,1771.9 L1156.5,1771.9 L1157.5,1772.9 L1158.5,1772.7 L1159.5,1772 L1160.5,1772.4 L1161.5,1774.1 L1162.5,1773.4 L1163.5,1771.7 L1164.5,1770.8 L1165.5,1771.4 L1166.5,1772.7 L1167.5,1771.7 L1168.5,1771.7 L1169.5,1773.2 L1170.5,1772.2 L1171.5,1772.1 L1172.5,1772.7 L1173.5,1774 L1174.5,1772.8 L1175.5,1773.2 L1176.5,1772.6 L1177.5,1774.1 L1178.5,1771.3 L1179.5,1771.4 L1180.5,1772 L1181.5,1774.5 L1182.5,1774 L1183.5,1771.4 L1184.5,1772 L1185.5,1773 L1186.5,1772.6 L1187.5,1773.4 L1188.5,1772 L1189.5,1770.8 L1190.5,1773.1 L1191.5,1773.7 L1192.5,1771 L1193.5,1770.6 L1194.5,1772 L1195.5,1770.6 L1196.5,1772.9 L1197.5,1771.3 L1198.5,1773.2 L1199.5,1772.1 L1200.5,1772.6 L1201.5,1773.1 L1202.5,1772.3 L1203.5,1771.5 L1204.5,1773.4 L1205.5,1771 L1206.5,1773.9 L1207.5,1771.9 L1208.5,1772 L1209.5,1772.9 L1210.5,1772.9 L1211.5,1773 L1212.5,1771 L1213.5,1771.6 L1214.5,1772.8 L1215.5,1772.8 L1216.5,1772.4 L1217.5,1773.8 L1218.5,1772.3 L1219.5,1773.4 L1220.5,1773.6 L1221.5,1772.8 L1222.5,1772.3 L1223.5,1773.2 L1224.5,1772.9 L1225.5,1773.1 L1226.5,1771.6 L1227.5,1772.9 L1228.5,1774.1 L1229.5,1772.2 L1230.5,1772.6 L1231.5,1772.2 L1232.5,1773.3 L1233.5,1770.4 L1234.5,1774.1 L1235.5,1773 L1236.5,1772.2 L1237.5,1772.7 L1238.5,1773.6 L1239.5,1772.8 L1240.5,1773.1 L1241.5,1773.7 L1242.5,1772.6 L1243.5,1773.2 L1244.5,1773.9 L1245.5,1773 L1246.5,1771.8 L1247.5,1773.2 L1248.5,1774.5 L1249.5,1772.1 L1250.5,1772.9 L1251.5,1772.9 L1252.5,1773.3 L1253.5,1772.1 L1254.5,1772.4 L1255.5,1774.4 L1256.5,1773.1 L1257.5,1771.8 L1258.5,1773.2 L1259.5,1772.5 L1260.5,1774 L1261.5,1770.9 L1262.5,1772.6 L1263.5,1773.4 L1264.5,1771.2 L1265.5,1771.7 L1266.5,1772.9 L1267.5,1772.5 L1268.5,1772.2 L1269.5,1772.8 L1270.5,1771.1 L1271.5,1771.6 L1272.5,1774.2 L1273.5,1771.8 L1274.5,1772.9 L1275.5,1772.4 L1276.5,1773.3 L1277.5,1772.8 L1278.5,1772.8 L1279.5,1773.6 L1280.5,1772.8 L1281.5,1770.8 L1282.5,1771.8 L1283.5,1773.9 L1284.5,1773.5 L1285.5,1772.2 L1286.5,1770.9 L1287.5,1771.7 L1288.5,1774.5 L1289.5,1773.6 L1290.5,1773.6 L1291.5,1770.8 L1292.5,1771.1 L1293.5,1771.8 L1294.5,1771.1 L1295.5,1772.5 L1296.5,1771.3 L1297.5,1772.9 L1298.5,1772.2 L1299.5,1771.9 L1300.5,1773.1 L1301.5,1772.9 L1302.5,1772.6 L1303.5,1772.1 L1304.5,1772.4 L1305.5,1770.5 L1306.5,1770.5 L1307.5,1771.7 L1308.5,1772.6 L1309.5,1774.2 L1310.5,1772.8 L1311.5,1771.4 L1312.5,1771.9 L1313.5,1771.2 L1314.5,1772.4 L1315.5,1772.3 L1316.5,1772.4 L1317.5,1772.7 L1318.5,1773.4 L1319.5,1773.1 L1320.5,1771.3 L1321.5,1773.2 L1322.5,1771.4 L1323.5,1772.8 L1324.5,1772.5 L1325.5,1774.1 L1326.5,1772.3 L1327.5,1772.3 L1328.5,1772.1 L1329.5,1773.2 L1330.5,1772.7 L1331.5,1772.1 L1332.5,1773.2 L1333.5,1774.5 L1334.5,1774 L1335.5,1773.9 L1336.5,1771.9 L1337.5,1772.3 L1338.5,1772.6 L1339.5,1770.7 L1340.5,1774.1 L1341.5,1771 L1342.5,1772.8 L1343.5,1771.2 L1344.5,1772.5 L1345.5,1773.2 L1346.5,1772.9 L1347.5,1771.5 L1348.5,1771.8 L1349.5,1773.3 L1350.5,1772.3 L1351.5,1772.5 L1352.5,1773.3 L1353.5,1769.9 L1354.5,1772.6 L1355.5,1773.6 L1356.5,1774.1 L1357.5,1773.1 L1358.5,1771.7 L1359.5,1773.3 L1360.5,1774.2 L1361.5,1771.8 L1362.5,1771.7 L1363.5,1772.2 L1364.5,1772 L1365.5,1770.4 L1366.5,1770.1 L1367.5,1771.1 L1368.5,1771.8 L1369.5,1772.8 L1370.5,1771.9 L1371.5,1772.6 L1372.5,1773.7 L1373.5,1775.3 L1374.5,1773.2 L1375.5,1771.4 L1376.5,1773.3 L1377.5,1772.4 L1378.5,1772.7 L1379.5,1773.3 L1380.5,1773.1 L1381.5,1771.1 L1382.5,1771.2 L1383.5,1772.6 L1384.5,1773.1 L1385.5,1774.4 L1386.5,1773 L1387.5,1772 L1388.5,1771.9 L1389.5,1771.7 L1390.5,1771.1 L1391.5,1771.1 L1392.5,1771.8 L1393.5,1772.4 L1394.5,1771.6 L1395.5,1772.4 L1396.5,1772.1 L1397.5,1772.1 L1398.5,1771.9 L1399.5,1772.6 L1400.5,1772.4 L1401.5,1769.7 L1402.5,1772.6 L1403.5,1772.4 L1404.5,1771.7 L1405.5,1772.5 L1406.5,1771.7 L1407.5,1772.5 L1408.5,1771.5 L1409.5,1773 L1410.5,1772.7 L1411.5,1770.9 L1412.5,1771.6 L1413.5,1773 L1414.5,1772.7 L1415.5,1772.5 L1416.5,1771.2 L1417.5,1771.7 L1418.5,1772.5 L1419.5,1772.6 L1420.5,1772.3 L1421.5,1771.5 L1422.5,1772.1 L1423.5,1771.8 L1424.5,1771.2 L1425.5,1771.2 L1426.5,1771.5 L1427.5,1770.8 L1428.5,1772.8 L1429.5,1773.1 L1430.5,1773.2 L1431.5,1771.6 L1432.5,1771.6 L1433.5,1772.6 L1434.5,1771.9 L1435.5,1772 L1436.5,1772 L1437.5,1770.7 L1438.5,1773.5 L1439.5,1770.9 L1440.5,1770.8 L1441.5,1773.1 L1442.5,1771.2 L1443.5,1773.3 L1444.5,1772.6 L1445.5,1772.6 L1446.5,1771.9 L1447.5,1770.9 L1448.5,1771.1 L1449.5,1772.4 L1450.5,1772.2 L1451.5,1771.1 L1452.5,1771.2 L1453.5,1771.4 L1454.5,1772.2 L1455.5,1772.7 L1456.5,1773.2 L1457.5,1771.9 L1458.5,1773.7 L1459.5,1773 L1460.5,1773.7 L1461.5,1771.4 L1462.5,1772.8 L1463.5,1773.3 L1464.5,1770.6 L1465.5,1773.2 L1466.5,1772.7 L1467.5,1773.2 L1468.5,1772.4 L1469.5,1773.4 L1470.5,1771.9 L1471.5,1771.8 L1472.5,1773 L1473.5,1773 L1474.5,1771 L1475.5,1773.4 L1476.5,1773.4 L1477.5,1773.3 L1478.5,1771.6 L1479.5,1773.5 L1480.5,1772.8 L1481.5,1773.2 L1482.5,1772.2 L1483.5,1771.8 L1484.5,1771.6 L1485.5,1771.7 L1486.5,1773.1 L1487.5,1771.5 L1488.5,1771.7 L1489.5,1772.6 L1490.5,1772 L1491.5,1770.3 L1492.5,1771.6 L1493.5,1771.9 L1494.5,1773.8 L1495.5,1772.9 L1496.5,1771.3 L1497.5,1771.2 L1498.5,1771.8 L1499.5,1772.5 L1500.5,1771.5 L1501.5,1772.7 L1502.5,1770.9 L1503.5,1772.6 L1504.5,1773.4 L1505.5,1769.7 L1506.5,1772.2 L1507.5,1772.5 L1508.5,1772.7 L1509.5,1772.3 L1510.5,1772.2 L1511.5,1772.5 L1512.5,1772.3 L1513.5,1772.3 L1514.5,1773.8 L1515.5,1773.2 L1516.5,1773.1 L1517.5,1771.6 L1518.5,1771.8 L1519.5,1773.3 L1520.5,1771.2 L1521.5,1773.2 L1522.5,1770.9 L1523.5,1774.3 L1524.5,1773.4 L1525.5,1771.7 L1526.5,1771.8 L1527.5,1770.3 L1528.5,1772.2 L1529.5,1773.4 L1530.5,1772.8 L1531.5,1772 L1532.5,1774.2 L1533.5,1772.8 L1534.5,1772.6 L1535.5,1771.9 L1536.5,1772.8 L1537.5,1774.8 L1538.5,1772.7 L1539.5,1770.6 L1540.5,1772.4 L1541.5,1774.1 L1542.5,1773.4 L1543.5,1771.7 L1544.5,1772.6 L1545.5,1770.8 L1546.5,1772.8 L1547.5,1771.4 L1548.5,1771.7 L1549.5,1771.7 L1550.5,1771.5 L1551.5,1773.8 L1552.5,1773.6 L1553.5,1771.9 L1554.5,1772.3 L1555.5,1773.8 L1556.5,1771.9 L1557.5,1771.8 L1558.5,1771.4 L1559.5,1773.7 L1560.5,1772.4 L1561.5,1772.2 L1562.5,1771.8 L1563.5,1771.3 L1564.5,1773.1 L1565.5,1771.4 L1566.5,1771.7 L1567.5,1770.6 L1568.5,1771.1 L1569.5,1771.7 L1570.5,1771.7 L1571.5,1770.7 L1572.5,1771.6 L1573.5,1772.1 L1574.5,1769.6 L1575.5,1772.7 L1576.5,1771.9 L1577.5,1770.9 L1578.5,1771.9 L1579.5,1772.6 L1580.5,1772.2 L1581.5,1772.2 L1582.5,1772.2 L1583.5,1772.8 L1584.5,1770.9 L1585.5,1771.6 L1586.5,1772.5 L1587.5,1772.2 L1588.5,1771.1 L1589.5,1771.9 L1590.5,1771.5 L1591.5,1772.2 L1592.5,1770.6 L1593.5,1770.6 L1594.5,1770.8 L1595.5,1772 L1596.5,1774.5 L1597.5,1773.1 L1598.5,1773.3 L1599.5,1772.2 L1600.5,1773.7 L1601.5,1772.5 L1602.5,1772.2 L1603.5,1773.2 L1604.5,1771 L1605.5,1770 L1606.5,1771 L1607.5,1773.5 L1608.5,1773 L1609.5,1772.3 L1610.5,1771.9 L1611.5,1772 L1612.5,1772.5 L1613.5,1771.3 L1614.5,1772.9 L1615.5,1771.2 L1616.5,1773.4 L1617.5,1771.8 L1618.5,1771.2 L1619.5,1771.9 L1620.5,1771.2 L1621.5,1772 L1622.5,1770.4 L1623.5,1771.7 L1624.5,1772.2 L1625.5,1772.5 L1626.5,1771.7 L1627.5,1773.3 L1628.5,1770.5 L1629.5,1771.9 L1630.5,1771.6 L1631.5,1772.1 L1632.5,1771.9 L1633.5,1773.5 L1634.5,1772.1 L1635.5,1771.2 L1636.5,1774.5 L1637.5,1772.2 L1638.5,1772 L1639.5,1773 L1640.5,1771.5 L1641.5,1771.9 L1642.5,1772.9 L1643.5,1771 L1644.5,1771.7 L1645.5,1773 L1646.5,1773.9 L1647.5,1772 L1648.5,1772 L1649.5,1773.2 L1650.5,1770.7 L1651.5,1771.4 L1652.5,1771.3 L1653.5,1770.1 L1654.5,1769.3 L1655.5,1771.7 L1656.5,1773 L1657.5,1772.7 L1658.5,1773.3 L1659.5,1769.4 L1660.5,1772 L1661.5,1773.4 L1662.5,1771.2 L1663.5,1770.8 L1664.5,1772.4 L1665.5,1772.1 L1666.5,1772.7 L1667.5,1772.1 L1668.5,1773.3 L1669.5,1772.8 L1670.5,1772.3 L1671.5,1771.7 L1672.5,1772.8 L1673.5,1771.4 L1674.5,1773 L1675.5,1773.2 L1676.5,1773 L1677.5,1770.8 L1678.5,1772.5 L1679.5,1772.4 L1680.5,1772.9 L1681.5,1770.6 L1682.5,1771.5 L1683.5,1772 L1684.5,1773.4 L1685.5,1771.5 L1686.5,1773 L1687.5,1772.2 L1688.5,1774 L1689.5,1772.4 L1690.5,1770.5 L1691.5,1771.8 L1692.5,1772.3 L1693.5,1773.3 L1694.5,1772.7 L1695.5,1771.8 L1696.5,1770.8 L1697.5,1772.1 L1698.5,1772 L1699.5,1773.4 L1700.5,1773 L1701.5,1770.7 L1702.5,1769.8 L1703.5,1771.7 L1704.5,1772.3 L1705.5,1771.1 L1706.5,1771.6 L1707.5,1773.2 L1708.5,1772.8 L1709.5,1770.4 L1710.5,1772.4 L1711.5,1772.2 L1712.5,1771.9 L1713.5,1772.6 L1714.5,1772.6 L1715.5,1774.5 L1716.5,1772.3 L1717.5,1771.3 L1718.5,1771.6 L1719.5,1772.8 L1720.5,1774 L1721.5,1772.7 L1722.5,1772.6 L1723.5,1772.3 L1724.5,1771.6 L1725.5,1772.1 L1726.5,1770.9 L1727.5,1772.8 L1728.5,1772.5 L1729.5,1772.2 L1730.5,1771.2 L1731.5,1771.8 L1732.5,1771.5 L1733.5,1772.4 L1734.5,1771.8 L1735.5,1772.4 L1736.5,1773 L1737.5,1773.3 L1738.5,1771 L1739.5,1771.7 L1740.5,1771 L1741.5,1773.3 L1742.5,1771.2 L1743.5,1773.4 L1744.5,1771.6 L1745.5,1773.1 L1746.5,1771.5 L1747.5,1771.8 L1748.5,1772.2 L1749.5,1772.1 L1750.5,1771.9 L1751.5,1772.7 L1752.5,1773.2 L1753.5,1772.9 L1754.5,1771.6 L1755.5,1770.2 L1756.5,1772.1 L1757.5,1769.3 L1758.5,1772.7 L1759.5,1772.6 L1760.5,1770.8 L1761.5,1772.6 L1762.5,1771.4 L1763.5,1773.3 L1764.5,1771.3 L1765.5,1771.2 L1766.5,1771.4 L1767.5,1772.3 L1768.5,1771 L1769.5,1774.2 L1770.5,1771.7 L1771.5,1773.7 L1772.5,1771.7 L1773.5,1771.7 L1774.5,1771.3 L1775.5,1771.3 L1776.5,1772.5 L1777.5,1773.2 L1778.5,1772.1 L1779.5,1771.1 L1780.5,1772.2 L1781.5,1771.2 L1782.5,1769.4 L1783.5,1772.1 L1784.5,1770.3 L1785.5,1771.4 L1786.5,1772.1 L1787.5,1771.6 L1788.5,1771.8 L1789.5,1773.5 L1790.5,1773 L1791.5,1773.5 L1792.5,1772.2 L1793.5,1772.2 L1794.5,1773.7 L1795.5,1771.4 L1796.5,1772.3 L1797.5,1772.1 L1798.5,1772.3 L1799.5,1772.6 L1800.5,1772.1 L1801.5,1772.8 L1802.5,1771.2 L1803.5,1772.5 L1804.5,1771 L1805.5,1773.1 L1806.5,1773 L1807.5,1771.8 L1808.5,1771.5 L1809.5,1772 L1810.5,1772.5 L1811.5,1770.5 L1812.5,1771 L1813.5,1772.9 L1814.5,1771.8 L1815.5,1770.7 L1816.5,1769.8 L1817.5,1771.6 L1818.5,1770.3 L1819.5,1772.1 L1820.5,1771.9 L1821.5,1773.8 L1822.5,1770.8 L1823.5,1772.6 L1824.5,1770.8 L1825.5,1771 L1826.5,1771.8 L1827.5,1771.1 L1828.5,1773.7 L1829.5,1771.9 L1830.5,1771.2 L1831.5,1774.2 L1832.5,1771.2 L1833.5,1771.6 L1834.5,1771.7 L1835.5,1771.2 L1836.5,1772.5 L1837.5,1773.1 L1838.5,1770.7 L1839.5,1771.5 L1840.5,1771.6 L1841.5,1770.6 L1842.5,1770.7 L1843.5,1771.6 L1844.5,1771.1 L1845.5,1772.2 L1846.5,1772.7 L1847.5,1772.1 L1848.5,1772.2 L1849.5,1771 L1850.5,1771.3 L1851.5,1772.3 L1852.5,1772.5 L1853.5,1771.8 L1854.5,1772.4 L1855.5,1771.7 L1856.5,1770.8 L1857.5,1772.2 L1858.5,1771.5 L1859.5,1770.3 L1860.5,1772.7 L1861.5,1772.3 L1862.5,1772.6 L1863.5,1771.4 L1864.5,1773.3 L1865.5,1772.4 L1866.5,1772.8 L1867.5,1771.3 L1868.5,1771.6 L1869.5,1773.1 L1870.5,1771.9 L1871.5,1771.9 L1872.5,1773.3 L1873.5,1773 L1874.5,1772.1 L1875.5,1773.7 L1876.5,1770.5 L1877.5,1771.8 L1878.5,1771.4 L1879.5,1773.3 L1880.5,1773.4 L1881.5,1771.4 L1882.5,1772 L1883.5,1772.8 L1884.5,1772.4 L1885.5,1772.2 L1886.5,1772.9 L1887.5,1773.8 L1888.5,1772 L1889.5,1770.8 L1890.5,1771.8 L1891.5,1771.9 L1892.5,1771.5 L1893.5,1772.6 L1894.5,1772.6 L1895.5,1772.8 L1896.5,1772.4 L1897.5,1772.1 L1898.5,1770.9 L1899.5,1771.6 L1900.5,1771.1 L1901.5,1772.2 L1902.5,1771.8 L1903.5,1771.9 L1904.5,1772.4 L1905.5,1771.6 L1906.5,1772.9 L1907.5,1772.9 L1908.5,1771 L1909.5,1773.1 L1910.5,1771.6 L1911.5,1771.2 L1912.5,1771.6 L1913.5,1770.7 L1914.5,1772.2 L1915.5,1773 L1916.5,1770.4 L1917.5,1772.3 L1918.5,1772.4 L1919.5,1772.5 L1920.5,1772.5 L1921.5,1772.3 L1922.5,1771.4 L1923.5,1772.7 L1924.5,1772.2 L1925.5,1772.6 L1926.5,1772.2 L1927.5,1771.6 L1928.5,1771.8 L1929.5,1772.4 L1930.5,1772.9 L1931.5,1770 L1932.5,1770.6 L1933.5,1770.3 L1934.5,1771.4 L1935.5,1771.2 L1936.5,1772.1 L1937.5,1771.6 L1938.5,1773.1 L1939.5,1771.3 L1940.5,1771.2 L1941.5,1771.1 L1942.5,1771.6 L1943.5,1772 L1944.5,1771.4 L1945.5,1771 L1946.5,1770.6 L1947.5,1772 L1948.5,1771.3 L1949.5,1770.9 L1950.5,1771.6 L1951.5,1772.2 L1952.5,1773.8 L1953.5,1773.4 L1954.5,1771 L1955.5,1771.4 L1956.5,1770 L1957.5,1770 L1958.5,1770.1 L1959.5,1772.7 L1960.5,1771.7 L1961.5,1770.4 L1962.5,1771.2 L1963.5,1771.4 L1964.5,1771.2 L1965.5,1773.2 L1966.5,1770 L1967.5,1771.4 L1968.5,1772.1 L1969.5,1772.3 L1970.5,1769.8 L1971.5,1772 L1972.5,1770.6 L1973.5,1771.3 L1974.5,1770.3 L1975.5,1772.6 L1976.5,1774.8 L1977.5,1772.8 L1978.5,1771.5 L1979.5,1770.1 L1980.5,1772.6 L1981.5,1773 L1982.5,1770.8 L1983.5,1772.7 L1984.5,1770.1 L1985.5,1770.6 L1986.5,1772 L1987.5,1770.5 L1988.5,1772.5 L1989.5,1773.2 L1990.5,1771.9 L1991.5,1772.3 L1992.5,1773.3 L1993.5,1772.3 L1994.5,1773.1 L1995.5,1773.2 L1996.5,1770.8 L1997.5,1773.9 L1998.5,1772.9 L1999.5,1772 L2000.5,1772.6 L2001.5,1772.1 L2002.5,1772 L2003.5,1770.9 L2004.5,1771.4" fill="none" stroke="#ff0000" stroke-width="23.5" stroke-linejoin="round"/>
</g>
<path d="M313.3 207.5h0M335.3 207.5h0M357.2 207.5h0M379.2 207.5h0M401.1 207.5h0M423.1 207.5h0M445 207.5h0M467 207.5h0M488.9 207.5h0M510.9 207.5h0M532.8 207.5h0M554.8 207.5h0M576.7 207.5h0M598.7 207.5h0M620.6 207.5h0M642.6 207.5h0M664.5 207.5h0M686.5 207.5h0M708.4 207.5h0M730.4 207.5h0M752.3 207.5h0M774.3 207.5h0M796.2 207.5h0M818.2 207.5h0M840.1 207.5h0M862.1 207.5h0M884.1 207.5h0M906 207.5h0M928 207.5h0M949.9 207.5h0M971.9 207.5h0M993.8 207.5h0M1015.8 207.5h0M1037.7 207.5h0M1059.7 207.5h0M1081.6 207.5h0M1103.6 207.5h0M1125.5 207.5h0M1147.5 207.5h0M1169.4 207.5h0M1191.4 207.5h0M1213.3 207.5h0M1235.3 207.5h0M1257.2 207.5h0M1279.2 207.5h0M1301.1 207.5h0M1323.1 207.5h0M1345 207.5h0M1367 207.5h0M1388.9 207.5h0M1410.9 207.5h0M1432.9 207.5h0M1454.8 207.5h0M1476.8 207.5h0M1498.7 207.5h0M1520.7 207.5h0M1542.6 207.5h0M1564.6 207.5h0M1586.5 207.5h0M1608.5 207.5h0M1630.4 207.5h0M1652.4 207.5h0M1674.3 207.5h0M1696.3 207.5h0M1718.2 207.5h0M1740.2 207.5h0M1762.1 207.5h0M1784.1 207.5h0M1806 207.5h0M1828 207.5h0M1849.9 207.5h0M1871.9 207.5h0M1893.8 207.5h0M1915.8 207.5h0M1937.7 207.5h0M1959.7 207.5h0M1981.7 207.5h0M2003.6 207.5h0M313.3 269.5h0M335.3 269.5h0M357.2 269.5h0M379.2 269.5h0M401.1 269.5h0M423.1 269.5h0M445 269.5h0M467 269.5h0M488.9 269.5h0M510.9 269.5h0M532.8 269.5h0M554.8 269.5h0M576.7 269.5h0M598.7 269.5h0M620.6 269.5h0M642.6 269.5h0M664.5 269.5h0M686.5 269.5h0M708.4 269.5h0M730.4 269.5h0M752.3 269.5h0M774.3 269.5h0M796.2 269.5h0M818.2 269.5h0M840.1 269.5h0M862.1 269.5h0M884.1 269.5h0M906 269.5h0M928 269.5h0M949.9 269.5h0M971.9 269.5h0M993.8 269.5h0M1015.8 269.5h0M1037.7 269.5h0M1059.7 269.5h0M1081.6 269.5h0M1103.6 269.5h0M1125.5 269.5h0M1147.5 269.5h0M1169.4 269.5h0M1191.4 269.5h0M1213.3 269.5h0M1235.3 269.5h0M1257.2 269.5h0M1279.2 269.5h0M1301.1 269.5h0M1323.1 269.5h0M1345 269.5h0M1367 269.5h0M1388.9 269.5h0M1410.9 269.5h0M1432.9 269.5h0M1454.8 269.5h0M1476.8 269.5h0M1498.7 269.5h0M1520.7 269.5h0M1542.6 269.5h0M1564.6 269.5h0M1586.5 269.5h0M1608.5 269.5h0M1630.4 269.5h0M1652.4 269.5h0M1674.3 269.5h0M1696.3 269.5h0M1718.2 269.5h0M1740.2 269.5h0M1762.1 269.5h0M1784.1 269.5h0M1806 269.5h0M1828 269.5h0M1849.9 269.5h0M1871.9 269.5h0M1893.8 269.5h0M1915.8 269.5h0M1937.7 269.5h0M1959.7 269.5h0M1981.7 269.5h0M2003.6 269.5h0M313.3 332.3h0M335.3 332.3h0M357.2 332.3h0M379.2 332.3h0M401.1 332.3h0M423.1 332.3h0M445 332.3h0M467 332.3h0M488.9 332.3h0M510.9 332.3h0M532.8 332.3h0M554.8 332.3h0M576.7 332.3h0M598.7 332.3h0M620.6 332.3h0M642.6 332.3h0M664.5 332.3h0M686.5 332.3h0M708.4 332.3h0M730.4 332.3h0M752.3 332.3h0M774.3 332.3h0M796.2 332.3h0M818.2 332.3h0M840.1 332.3h0M862.1 332.3h0M884.1 332.3h0M906 332.3h0M928 332.3h0M949.9 332.3h0M971.9 332.3h0M993.8 332.3h0M1015.8 332.3h0M1037.7 332.3h0M1059.7 332.3h0M1081.6 332.3h0M1103.6 332.3h0M1125.5 332.3h0M1147.5 332.3h0M1169.4 332.3h0M1191.4 332.3h0M1213.3 332.3h0M1235.3 332.3h0M1257.2 332.3h0M1279.2 332.3h0M1301.1 332.3h0M1323.1 332.3h0M1345 332.3h0M1367 332.3h0M1388.9 332.3h0M1410.9 332.3h0M1432.9 332.3h0M1454.8 332.3h0M1476.8 332.3h0M1498.7 332.3h0M1520.7 332.3h0M1542.6 332.3h0M1564.6 332.3h0M1586.5 332.3h0M1608.5 332.3h0M1630.4 332.3h0M1652.4 332.3h0M1674.3 332.3h0M1696.3 332.3h0M1718.2 332.3h0M1740.2 332.3h0M1762.1 332.3h0M1784.1 332.3h0M1806 332.3h0M1828 332.3h0M1849.9 332.3h0M1871.9 332.3h0M1893.8 332.3h0M1915.8 332.3h0M1937.7 332.3h0M1959.7 332.3h0M1981.7 332.3h0M2003.6 332.3h0M313.3 467h0M335.3 467h0M357.2 467h0M379.2 467h0M401.1 467h0M423.1 467h0M445 467h0M467 467h0M488.9 467h0M510.9 467h0M532.8 467h0M554.8 467h0M576.7 467h0M598.7 467h0M620.6 467h0M642.6 467h0M664.5 467h0M686.5 467h0M708.4 467h0M730.4 467h0M752.3 467h0M774.3 467h0M796.2 467h0M818.2 467h0M840.1 467h0M862.1 467h0M884.1 467h0M906 467h0M928 467h0M949.9 467h0M971.9 467h0M993.8 467h0M1015.8 467h0M1037.7 467h0M1059.7 467h0M1081.6 467h0M1103.6 467h0M1125.5 467h0M1147.5 467h0M1169.4 467h0M1191.4 467h0M1213.3 467h0M1235.3 467h0M1257.2 467h0M1279.2 467h0M1301.1 467h0M1323.1 467h0M1345 467h0M1367 467h0M1388.9 467h0M1410.9 467h0M1432.9 467h0M1454.8 467h0M1476.8 467h0M1498.7 467h0M1520.7 467h0M1542.6 467h0M1564.6 467h0M1586.5 467h0M1608.5 467h0M1630.4 467h0M1652.4 467h0M1674.3 467h0M1696.3 467h0M1718.2 467h0M1740.2 467h0M1762.1 467h0M1784.1 467h0M1806 467h0M1828 467h0M1849.9 467h0M1871.9 467h0M1893.8 467h0M1915.8 467h0M1937.7 467h0M1959.7 467h0M1981.7 467h0M2003.6 467h0M313.3 528.8h0M335.3 528.8h0M357.2 528.8h0M379.2 528.8h0M401.1 528.8h0M423.1 528.8h0M445 528.8h0M467 528.8h0M488.9 528.8h0M510.9 528.8h0M532.8 528.8h0M554.8 528.8h0M576.7 528.8h0M598.7 528.8h0M620.6 528.8h0M642.6 528.8h0M664.5 528.8h0M686.5 528.8h0M708.4 528.8h0M730.4 528.8h0M752.3 528.8h0M774.3 528.8h0M796.2 528.8h0M818.2 528.8h0M840.1 528.8h0M862.1 528.8h0M884.1 528.8h0M906 528.8h0M928 528.8h0M949.9 528.8h0M971.9 528.8h0M993.8 528.8h0M1015.8 528.8h0M1037.7 528.8h0M1059.7 528.8h0M1081.6 528.8h0M1103.6 528.8h0M1125.5 528.8h0M1147.5 528.8h0M1169.4 528.8h0M1191.4 528.8h0M1213.3 528.8h0M1235.3 528.8h0M1257.2 528.8h0M1279.2 528.8h0M1301.1 528.8h0M1323.1 528.8h0M1345 528.8h0M1367 528.8h0M1388.9 528.8h0M1410.9 528.8h0M1432.9 528.8h0M1454.8 528.8h0M1476.8 528.8h0M1498.7 528.8h0M1520.7 528.8h0M1542.6 528.8h0M1564.6 528.8h0M1586.5 528.8h0M1608.5 528.8h0M1630.4 528.8h0M1652.4 528.8h0M1674.3 528.8h0M1696.3 528.8h0M1718.2 528.8h0M1740.2 528.8h0M1762.1 528.8h0M1784.1 528.8h0M1806 528.8h0M1828 528.8h0M1849.9 528.8h0M1871.9 528.8h0M1893.8 528.8h0M1915.8 528.8h0M1937.7 528.8h0M1959.7 528.8h0M1981.7 528.8h0M2003.6 528.8h0M313.3 591.3h0M335.3 591.3h0M357.2 591.3h0M379.2 591.3h0M401.1 591.3h0M423.1 591.3h0M445 591.3h0M467 591.3h0M488.9 591.3h0M510.9 591.3h0M532.8 591.3h0M554.8 591.3h0M576.7 591.3h0M598.7 591.3h0M620.6 591.3h0M642.6 591.3h0M664.5 591.3h0M686.5 591.3h0M708.4 591.3h0M730.4 591.3h0M752.3 591.3h0M774.3 591.3h0M796.2 591.3h0M818.2 591.3h0M840.1 591.3h0M862.1 591.3h0M884.1 591.3h0M906 591.3h0M928 591.3h0M949.9 591.3h0M971.9 591.3h0M993.8 591.3h0M1015.8 591.3h0M1037.7 591.3h0M1059.7 591.3h0M1081.6 591.3h0M1103.6 591.3h0M1125.5 591.3h0M1147.5 591.3h0M1169.4 591.3h0M1191.4 591.3h0M1213.3 591.3h0M1235.3 591.3h0M1257.2 591.3h0M1279.2 591.3h0M1301.1 591.3h0M1323.1 591.3h0M1345 591.3h0M1367 591.3h0M1388.9 591.3h0M1410.9 591.3h0M1432.9 591.3h0M1454.8 591.3h0M1476.8 591.3h0M1498.7 591.3h0M1520.7 591.3h0M1542.6 591.3h0M1564.6 591.3h0M1586.5 591.3h0M1608.5 591.3h0M1630.4 591.3h0M1652.4 591.3h0M1674.3 591.3h0M1696.3 591.3h0M1718.2 591.3h0M1740.2 591.3h0M1762.1 591.3h0M1784.1 591.3h0M1806 591.3h0M1828 591.3h0M1849.9 591.3h0M1871.9 591.3h0M1893.8 591.3h0M1915.8 591.3h0M1937.7 591.3h0M1959.7 591.3h0M1981.7 591.3h0M2003.6 591.3h0M313.3 726.2h0M335.3 726.2h0M357.2 726.2h0M379.2 726.2h0M401.1 726.2h0M423.1 726.2h0M445 726.2h0M467 726.2h0M488.9 726.2h0M510.9 726.2h0M532.8 726.2h0M554.8 726.2h0M576.7 726.2h0M598.7 726.2h0M620.6 726.2h0M642.6 726.2h0M664.5 726.2h0M686.5 726.2h0M708.4 726.2h0M730.4 726.2h0M752.3 726.2h0M774.3 726.2h0M796.2 726.2h0M818.2 726.2h0M840.1 726.2h0M862.1 726.2h0M884.1 726.2h0M906 726.2h0M928 726.2h0M949.9 726.2h0M971.9 726.2h0M993.8 726.2h0M1015.8 726.2h0M1037.7 726.2h0M1059.7 726.2h0M1081.6 726.2h0M1103.6 726.2h0M1125.5 726.2h0M1147.5 726.2h0M1169.4 726.2h0M1191.4 726.2h0M1213.3 726.2h0M1235.3 726.2h0M1257.2 726.2h0M1279.2 726.2h0M1301.1 726.2h0M1323.1 726.2h0M1345 726.2h0M1367 726.2h0M1388.9 726.2h0M1410.9 726.2h0M1432.9 726.2h0M1454.8 726.2h0M1476.8 726.2h0M1498.7 726.2h0M1520.7 726.2h0M1542.6 726.2h0M1564.6 726.2h0M1586.5 726.2h0M1608.5 726.2h0M1630.4 726.2h0M1652.4 726.2h0M1674.3 726.2h0M1696.3 726.2h0M1718.2 726.2h0M1740.2 726.2h0M1762.1 726.2h0M1784.1 726.2h0M1806 726.2h0M1828 726.2h0M1849.9 726.2h0M1871.9 726.2h0M1893.8 726.2h0M1915.8 726.2h0M1937.7 726.2h0M1959.7 726.2h0M1981.7 726.2h0M2003.6 726.2h0M313.3 788.8h0M335.3 788.8h0M357.2 788.8h0M379.2 788.8h0M401.1 788.8h0M423.1 788.8h0M445 788.8h0M467 788.8h0M488.9 788.8h0M510.9 788.8h0M532.8 788.8h0M554.8 788.8h0M576.7 788.8h0M598.7 788.8h0M620.6 788.8h0M642.6 788.8h0M664.5 788.8h0M686.5 788.8h0M708.4 788.8h0M730.4 788.8h0M752.3 788.8h0M774.3 788.8h0M796.2 788.8h0M818.2 788.8h0M840.1 788.8h0M862.1 788.8h0M884.1 788.8h0M906 788.8h0M928 788.8h0M949.9 788.8h0M971.9 788.8h0M993.8 788.8h0M1015.8 788.8h0M1037.7 788.8h0M1059.7 788.8h0M1081.6 788.8h0M1103.6 788.8h0M1125.5 788.8h0M1147.5 788.8h0M1169.4 788.8h0M1191.4 788.8h0M1213.3 788.8h0M1235.3 788.8h0M1257.2 788.8h0M1279.2 788.8h0M1301.1 788.8h0M1323.1 788.8h0M1345 788.8h0M1367 788.8h0M1388.9 788.8h0M1410.9 788.8h0M1432.9 788.8h0M1454.8 788.8h0M1476.8 788.8h0M1498.7 788.8h0M1520.7 788.8h0M1542.6 788.8h0M1564.6 788.8h0M1586.5 788.8h0M1608.5 788.8h0M1630.4 788.8h0M1652.4 788.8h0M1674.3 788.8h0M1696.3 788.8h0M1718.2 788.8h0M1740.2 788.8h0M1762.1 788.8h0M1784.1 788.8h0M1806 788.8h0M1828 788.8h0M1849.9 788.8h0M1871.9 788.8h0M1893.8 788.8h0M1915.8 788.8h0M1937.7 788.8h0M1959.7 788.8h0M1981.7 788.8h0M2003.6 788.8h0M313.3 851.4h0M335.3 851.4h0M357.2 851.4h0M379.2 851.4h0M401.1 851.4h0M423.1 851.4h0M445 851.4h0M467 851.4h0M488.9 851.4h0M510.9 851.4h0M532.8 851.4h0M554.8 851.4h0M576.7 851.4h0M598.7 851.4h0M620.6 851.4h0M642.6 851.4h0M664.5 851.4h0M686.5 851.4h0M708.4 851.4h0M730.4 851.4h0M752.3 851.4h0M774.3 851.4h0M796.2 851.4h0M818.2 851.4h0M840.1 851.4h0M862.1 851.4h0M884.1 851.4h0M906 851.4h0M928 851.4h0M949.9 851.4h0M971.9 851.4h0M993.8 851.4h0M1015.8 851.4h0M1037.7 851.4h0M1059.7 851.4h0M1081.6 851.4h0M1103.6 851.4h0M1125.5 851.4h0M1147.5 851.4h0M1169.4 851.4h0M1191.4 851.4h0M1213.3 851.4h0M1235.3 851.4h0M1257.2 851.4h0M1279.2 851.4h0M1301.1 851.4h0M1323.1 851.4h0M1345 851.4h0M1367 851.4h0M1388.9 851.4h0M1410.9 851.4h0M1432.9 851.4h0M1454.8 851.4h0M1476.8 851.4h0M1498.7 851.4h0M1520.7 851.4h0M1542.6 851.4h0M1564.6 851.4h0M1586.5 851.4h0M1608.5 851.4h0M1630.4 851.4h0M1652.4 851.4h0M1674.3 851.4h0M1696.3 851.4h0M1718.2 851.4h0M1740.2 851.4h0M1762.1 851.4h0M1784.1 851.4h0M1806 851.4h0M1828 851.4h0M1849.9 851.4h0M1871.9 851.4h0M1893.8 851.4h0M1915.8 851.4h0M1937.7 851.4h0M1959.7 851.4h0M1981.7 851.4h0M2003.6 851.4h0M313.3 986h0M335.3 986h0M357.2 986h0M379.2 986h0M401.1 986h0M423.1 986h0M445 986h0M467 986h0M488.9 986h0M510.9 986h0M532.8 986h0M554.8 986h0M576.7 986h0M598.7 986h0M620.6 986h0M642.6 986h0M664.5 986h0M686.5 986h0M708.4 986h0M730.4 986h0M752.3 986h0M774.3 986h0M796.2 986h0M818.2 986h0M840.1 986h0M862.1 986h0M884.1 986h0M906 986h0M928 986h0M949.9 986h0M971.9 986h0M993.8 986h0M1015.8 986h0M1037.7 986h0M1059.7 986h0M1081.6 986h0M1103.6 986h0M1125.5 986h0M1147.5 986h0M1169.4 986h0M1191.4 986h0M1213.3 986h0M1235.3 986h0M1257.2 986h0M1279.2 986h0M1301.1 986h0M1323.1 986h0M1345 986h0M1367 986h0M1388.9 986h0M1410.9 986h0M1432.9 986h0M1454.8 986h0M1476.8 986h0M1498.7 986h0M1520.7 986h0M1542.6 986h0M1564.6 986h0M1586.5 986h0M1608.5 986h0M1630.4 986h0M1652.4 986h0M1674.3 986h0M1696.3 986h0M1718.2 986h0M1740.2 986h0M1762.1 986h0M1784.1 986h0M1806 986h0M1828 986h0M1849.9 986h0M1871.9 986h0M1893.8 986h0M1915.8 986h0M1937.7 986h0M1959.7 986h0M1981.7 986h0M2003.6 986h0M313.3 1048.4h0M335.3 1048.4h0M357.2 1048.4h0M379.2 1048.4h0M401.1 1048.4h0M423.1 1048.4h0M445 1048.4h0M467 1048.4h0M488.9 1048.4h0M510.9 1048.4h0M532.8 1048.4h0M554.8 1048.4h0M576.7 1048.4h0M598.7 1048.4h0M620.6 1048.4h0M642.6 1048.4h0M664.5 1048.4h0M686.5 1048.4h0M708.4 1048.4h0M730.4 1048.4h0M752.3 1048.4h0M774.3 1048.4h0M796.2 1048.4h0M818.2 1048.4h0M840.1 1048.4h0M862.1 1048.4h0M884.1 1048.4h0M906 1048.4h0M928 1048.4h0M949.9 1048.4h0M971.9 1048.4h0M993.8 1048.4h0M1015.8 1048.4h0M1037.7 1048.4h0M1059.7 1048.4h0M1081.6 1048.4h0M1103.6 1048.4h0M1125.5 1048.4h0M1147.5 1048.4h0M1169.4 1048.4h0M1191.4 1048.4h0M1213.3 1048.4h0M1235.3 1048.4h0M1257.2 1048.4h0M1279.2 1048.4h0M1301.1 1048.4h0M1323.1 1048.4h0M1345 1048.4h0M1367 1048.4h0M1388.9 1048.4h0M1410.9 1048.4h0M1432.9 1048.4h0M1454.8 1048.4h0M1476.8 1048.4h0M1498.7 1048.4h0M1520.7 1048.4h0M1542.6 1048.4h0M1564.6 1048.4h0M1586.5 1048.4h0M1608.5 1048.4h0M1630.4 1048.4h0M1652.4 1048.4h0M1674.3 1048.4h0M1696.3 1048.4h0M1718.2 1048.4h0M1740.2 1048.4h0M1762.1 1048.4h0M1784.1 1048.4h0M1806 1048.4h0M1828 1048.4h0M1849.9 1048.4h0M1871.9 1048.4h0M1893.8 1048.4h0M1915.8 1048.4h0M1937.7 1048.4h0M1959.7 1048.4h0M1981.7 1048.4h0M2003.6 1048.4h0M313.3 1111.3h0M335.3 1111.3h0M357.2 1111.3h0M379.2 1111.3h0M401.1 1111.3h0M423.1 1111.3h0M445 1111.3h0M467 1111.3h0M488.9 1111.3h0M510.9 1111.3h0M532.8 1111.3h0M554.8 1111.3h0M576.7 1111.3h0M598.7 1111.3h0M620.6 1111.3h0M642.6 1111.3h0M664.5 1111.3h0M686.5 1111.3h0M708.4 1111.3h0M730.4 1111.3h0M752.3 1111.3h0M774.3 1111.3h0M796.2 1111.3h0M818.2 1111.3h0M840.1 1111.3h0M862.1 1111.3h0M884.1 1111.3h0M906 1111.3h0M928 1111.3h0M949.9 1111.3h0M971.9 1111.3h0M993.8 1111.3h0M1015.8 1111.3h0M1037.7 1111.3h0M1059.7 1111.3h0M1081.6 1111.3h0M1103.6 1111.3h0M1125.5 1111.3h0M1147.5 1111.3h0M1169.4 1111.3h0M1191.4 1111.3h0M1213.3 1111.3h0M1235.3 1111.3h0M1257.2 1111.3h0M1279.2 1111.3h0M1301.1 1111.3h0M1323.1 1111.3h0M1345 1111.3h0M1367 1111.3h0M1388.9 1111.3h0M1410.9 1111.3h0M1432.9 1111.3h0M1454.8 1111.3h0M1476.8 1111.3h0M1498.7 1111.3h0M1520.7 1111.3h0M1542.6 1111.3h0M1564.6 1111.3h0M1586.5 1111.3h0M1608.5 1111.3h0M1630.4 1111.3h0M1652.4 1111.3h0M1674.3 1111.3h0M1696.3 1111.3h0M1718.2 1111.3h0M1740.2 1111.3h0M1762.1 1111.3h0M1784.1 1111.3h0M1806 1111.3h0M1828 1111.3h0M1849.9 1111.3h0M1871.9 1111.3h0M1893.8 1111.3h0M1915.8 1111.3h0M1937.7 1111.3h0M1959.7 1111.3h0M1981.7 1111.3h0M2003.6 1111.3h0M313.3 1246h0M335.3 1246h0M357.2 1246h0M379.2 1246h0M401.1 1246h0M423.1 1246h0M445 1246h0M467 1246h0M488.9 1246h0M510.9 1246h0M532.8 1246h0M554.8 1246h0M576.7 1246h0M598.7 1246h0M620.6 1246h0M642.6 1246h0M664.5 1246h0M686.5 1246h0M708.4 1246h0M730.4 1246h0M752.3 1246h0M774.3 1246h0M796.2 1246h0M818.2 1246h0M840.1 1246h0M862.1 1246h0M884.1 1246h0M906 1246h0M928 1246h0M949.9 1246h0M971.9 1246h0M993.8 1246h0M1015.8 1246h0M1037.7 1246h0M1059.7 1246h0M1081.6 1246h0M1103.6 1246h0M1125.5 1246h0M1147.5 1246h0M1169.4 1246h0M1191.4 1246h0M1213.3 1246h0M1235.3 1246h0M1257.2 1246h0M1279.2 1246h0M1301.1 1246h0M1323.1 1246h0M1345 1246h0M1367 1246h0M1388.9 1246h0M1410.9 1246h0M1432.9 1246h0M1454.8 1246h0M1476.8 1246h0M1498.7 1246h0M1520.7 1246h0M1542.6 1246h0M1564.6 1246h0M1586.5 1246h0M1608.5 1246h0M1630.4 1246h0M1652.4 1246h0M1674.3 1246h0M1696.3 1246h0M1718.2 1246h0M1740.2 1246h0M1762.1 1246h0M1784.1 1246h0M1806 1246h0M1828 1246h0M1849.9 1246h0M1871.9 1246h0M1893.8 1246h0M1915.8 1246h0M1937.7 1246h0M1959.7 1246h0M1981.7 1246h0M2003.6 1246h0M313.3 1308.4h0M335.3 1308.4h0M357.2 1308.4h0M379.2 1308.4h0M401.1 1308.4h0M423.1 1308.4h0M445 1308.4h0M467 1308.4h0M488.9 1308.4h0M510.9 1308.4h0M532.8 1308.4h0M554.8 1308.4h0M576.7 1308.4h0M598.7 1308.4h0M620.6 1308.4h0M642.6 1308.4h0M664.5 1308.4h0M686.5 1308.4h0M708.4 1308.4h0M730.4 1308.4h0M752.3 1308.4h0M774.3 1308.4h0M796.2 1308.4h0M818.2 1308.4h0M840.1 1308.4h0M862.1 1308.4h0M884.1 1308.4h0M906 1308.4h0M928 1308.4h0M949.9 1308.4h0M971.9 1308.4h0M993.8 1308.4h0M1015.8 1308.4h0M1037.7 1308.4h0M1059.7 1308.4h0M1081.6 1308.4h0M1103.6 1308.4h0M1125.5 1308.4h0M1147.5 1308.4h0M1169.4 1308.4h0M1191.4 1308.4h0M1213.3 1308.4h0M1235.3 1308.4h0M1257.2 1308.4h0M1279.2 1308.4h0M1301.1 1308.4h0M1323.1 1308.4h0M1345 1308.4h0M1367 1308.4h0M1388.9 1308.4h0M1410.9 1308.4h0M1432.9 1308.4h0M1454.8 1308.4h0M1476.8 1308.4h0M1498.7 1308.4h0M1520.7 1308.4h0M1542.6 1308.4h0M1564.6 1308.4h0M1586.5 1308.4h0M1608.5 1308.4h0M1630.4 1308.4h0M1652.4 1308.4h0M1674.3 1308.4h0M1696.3 1308.4h0M1718.2 1308.4h0M1740.2 1308.4h0M1762.1 1308.4h0M1784.1 1308.4h0M1806 1308.4h0M1828 1308.4h0M1849.9 1308.4h0M1871.9 1308.4h0M1893.8 1308.4h0M1915.8 1308.4h0M1937.7 1308.4h0M1959.7 1308.4h0M1981.7 1308.4h0M2003.6 1308.4h0M313.3 1371.3h0M335.3 1371.3h0M357.2 1371.3h0M379.2 1371.3h0M401.1 1371.3h0M423.1 1371.3h0M445 1371.3h0M467 1371.3h0M488.9 1371.3h0M510.9 1371.3h0M532.8 1371.3h0M554.8 1371.3h0M576.7 1371.3h0M598.7 1371.3h0M620.6 1371.3h0M642.6 1371.3h0M664.5 1371.3h0M686.5 1371.3h0M708.4 1371.3h0M730.4 1371.3h0M752.3 1371.3h0M774.3 1371.3h0M796.2 1371.3h0M818.2 1371.3h0M840.1 1371.3h0M862.1 1371.3h0M884.1 1371.3h0M906 1371.3h0M928 1371.3h0M949.9 1371.3h0M971.9 1371.3h0M993.8 1371.3h0M1015.8 1371.3h0M1037.7 1371.3h0M1059.7 1371.3h0M1081.6 1371.3h0M1103.6 1371.3h0M1125.5 1371.3h0M1147.5 1371.3h0M1169.4 1371.3h0M1191.4 1371.3h0M1213.3 1371.3h0M1235.3 1371.3h0M1257.2 1371.3h0M1279.2 1371.3h0M1301.1 1371.3h0M1323.1 1371.3h0M1345 1371.3h0M1367 1371.3h0M1388.9 1371.3h0M1410.9 1371.3h0M1432.9 1371.3h0M1454.8 1371.3h0M1476.8 1371.3h0M1498.7 1371.3h0M1520.7 1371.3h0M1542.6 1371.3h0M1564.6 1371.3h0M1586.5 1371.3h0M1608.5 1371.3h0M1630.4 1371.3h0M1652.4 1371.3h0M1674.3 1371.3h0M1696.3 1371.3h0M1718.2 1371.3h0M1740.2 1371.3h0M1762.1 1371.3h0M1784.1 1371.3h0M1806 1371.3h0M1828 1371.3h0M1849.9 1371.3h0M1871.9 1371.3h0M1893.8 1371.3h0M1915.8 1371.3h0M1937.7 1371.3h0M1959.7 1371.3h0M1981.7 1371.3h0M2003.6 1371.3h0M313.3 1507.1h0M335.3 1507.1h0M357.2 1507.1h0M379.2 1507.1h0M401.1 1507.1h0M423.1 1507.1h0M445 1507.1h0M467 1507.1h0M488.9 1507.1h0M510.9 1507.1h0M532.8 1507.1h0M554.8 1507.1h0M576.7 1507.1h0M598.7 1507.1h0M620.6 1507.1h0M642.6 1507.1h0M664.5 1507.1h0M686.5 1507.1h0M708.4 1507.1h0M730.4 1507.1h0M752.3 1507.1h0M774.3 1507.1h0M796.2 1507.1h0M818.2 1507.1h0M840.1 1507.1h0M862.1 1507.1h0M884.1 1507.1h0M906 1507.1h0M928 1507.1h0M949.9 1507.1h0M971.9 1507.1h0M993.8 1507.1h0M1015.8 1507.1h0M1037.7 1507.1h0M1059.7 1507.1h0M1081.6 1507.1h0M1103.6 1507.1h0M1125.5 1507.1h0M1147.5 1507.1h0M1169.4 1507.1h0M1191.4 1507.1h0M1213.3 1507.1h0M1235.3 1507.1h0M1257.2 1507.1h0M1279.2 1507.1h0M1301.1 1507.1h0M1323.1 1507.1h0M1345 1507.1h0M1367 1507.1h0M1388.9 1507.1h0M1410.9 1507.1h0M1432.9 1507.1h0M1454.8 1507.1h0M1476.8 1507.1h0M1498.7 1507.1h0M1520.7 1507.1h0M1542.6 1507.1h0M1564.6 1507.1h0M1586.5 1507.1h0M1608.5 1507.1h0M1630.4 1507.1h0M1652.4 1507.1h0M1674.3 1507.1h0M1696.3 1507.1h0M1718.2 1507.1h0M1740.2 1507.1h0M1762.1 1507.1h0M1784.1 1507.1h0M1806 1507.1h0M1828 1507.1h0M1849.9 1507.1h0M1871.9 1507.1h0M1893.8 1507.1h0M1915.8 1507.1h0M1937.7 1507.1h0M1959.7 1507.1h0M1981.7 1507.1h0M2003.6 1507.1h0M313.3 1569.8h0M335.3 1569.8h0M357.2 1569.8h0M379.2 1569.8h0M401.1 1569.8h0M423.1 1569.8h0M445 1569.8h0M467 1569.8h0M488.9 1569.8h0M510.9 1569.8h0M532.8 1569.8h0M554.8 1569.8h0M576.7 1569.8h0M598.7 1569.8h0M620.6 1569.8h0M642.6 1569.8h0M664.5 1569.8h0M686.5 1569.8h0M708.4 1569.8h0M730.4 1569.8h0M752.3 1569.8h0M774.3 1569.8h0M796.2 1569.8h0M818.2 1569.8h0M840.1 1569.8h0M862.1 1569.8h0M884.1 1569.8h0M906 1569.8h0M928 1569.8h0M949.9 1569.8h0M971.9 1569.8h0M993.8 1569.8h0M1015.8 1569.8h0M1037.7 1569.8h0M1059.7 1569.8h0M1081.6 1569.8h0M1103.6 1569.8h0M1125.5 1569.8h0M1147.5 1569.8h0M1169.4 1569.8h0M1191.4 1569.8h0M1213.3 1569.8h0M1235.3 1569.8h0M1257.2 1569.8h0M1279.2 1569.8h0M1301.1 1569.8h0M1323.1 1569.8h0M1345 1569.8h0M1367 1569.8h0M1388.9 1569.8h0M1410.9 1569.8h0M1432.9 1569.8h0M1454.8 1569.8h0M1476.8 1569.8h0M1498.7 1569.8h0M1520.7 1569.8h0M1542.6 1569.8h0M1564.6 1569.8h0M1586.5 1569.8h0M1608.5 1569.8h0M1630.4 1569.8h0M1652.4 1569.8h0M1674.3 1569.8h0M1696.3 1569.8h0M1718.2 1569.8h0M1740.2 1569.8h0M1762.1 1569.8h0M1784.1 1569.8h0M1806 1569.8h0M1828 1569.8h0M1849.9 1569.8h0M1871.9 1569.8h0M1893.8 1569.8h0M1915.8 1569.8h0M1937.7 1569.8h0M1959.7 1569.8h0M1981.7 1569.8h0M2003.6 1569.8h0M313.3 1632.4h0M335.3 1632.4h0M357.2 1632.4h0M379.2 1632.4h0M401.1 1632.4h0M423.1 1632.4h0M445 1632.4h0M467 1632.4h0M488.9 1632.4h0M510.9 1632.4h0M532.8 1632.4h0M554.8 1632.4h0M576.7 1632.4h0M598.7 1632.4h0M620.6 1632.4h0M642.6 1632.4h0M664.5 1632.4h0M686.5 1632.4h0M708.4 1632.4h0M730.4 1632.4h0M752.3 1632.4h0M774.3 1632.4h0M796.2 1632.4h0M818.2 1632.4h0M840.1 1632.4h0M862.1 1632.4h0M884.1 1632.4h0M906 1632.4h0M928 1632.4h0M949.9 1632.4h0M971.9 1632.4h0M993.8 1632.4h0M1015.8 1632.4h0M1037.7 1632.4h0M1059.7 1632.4h0M1081.6 1632.4h0M1103.6 1632.4h0M1125.5 1632.4h0M1147.5 1632.4h0M1169.4 1632.4h0M1191.4 1632.4h0M1213.3 1632.4h0M1235.3 1632.4h0M1257.2 1632.4h0M1279.2 1632.4h0M1301.1 1632.4h0M1323.1 1632.4h0M1345 1632.4h0M1367 1632.4h0M1388.9 1632.4h0M1410.9 1632.4h0M1432.9 1632.4h0M1454.8 1632.4h0M1476.8 1632.4h0M1498.7 1632.4h0M1520.7 1632.4h0M1542.6 1632.4h0M1564.6 1632.4h0M1586.5 1632.4h0M1608.5 1632.4h0M1630.4 1632.4h0M1652.4 1632.4h0M1674.3 1632.4h0M1696.3 1632.4h0M1718.2 1632.4h0M1740.2 1632.4h0M1762.1 1632.4h0M1784.1 1632.4h0M1806 1632.4h0M1828 1632.4h0M1849.9 1632.4h0M1871.9 1632.4h0M1893.8 1632.4h0M1915.8 1632.4h0M1937.7 1632.4h0M1959.7 1632.4h0M1981.7 1632.4h0M2003.6 1632.4h0M313.3 1769h0M335.3 1769h0M357.2 1769h0M379.2 1769h0M401.1 1769h0M423.1 1769h0M445 1769h0M467 1769h0M488.9 1769h0M510.9 1769h0M532.8 1769h0M554.8 1769h0M576.7 1769h0M598.7 1769h0M620.6 1769h0M642.6 1769h0M664.5 1769h0M686.5 1769h0M708.4 1769h0M730.4 1769h0M752.3 1769h0M774.3 1769h0M796.2 1769h0M818.2 1769h0M840.1 1769h0M862.1 1769h0M884.1 1769h0M906 1769h0M928 1769h0M949.9 1769h0M971.9 1769h0M993.8 1769h0M1015.8 1769h0M1037.7 1769h0M1059.7 1769h0M1081.6 1769h0M1103.6 1769h0M1125.5 1769h0M1147.5 1769h0M1169.4 1769h0M1191.4 1769h0M1213.3 1769h0M1235.3 1769h0M1257.2 1769h0M1279.2 1769h0M1301.1 1769h0M1323.1 1769h0M1345 1769h0M1367 1769h0M1388.9 1769h0M1410.9 1769h0M1432.9 1769h0M1454.8 1769h0M1476.8 1769h0M1498.7 1769h0M1520.7 1769h0M1542.6 1769h0M1564.6 1769h0M1586.5 1769h0M1608.5 1769h0M1630.4 1769h0M1652.4 1769h0M1674.3 1769h0M1696.3 1769h0M1718.2 1769h0M1740.2 1769h0M1762.1 1769h0M1784.1 1769h0M1806 1769h0M1828 1769h0M1849.9 1769h0M1871.9 1769h0M1893.8 1769h0M1915.8 1769h0M1937.7 1769h0M1959.7 1769h0M1981.7 1769h0M2003.6 1769h0M313.3 1831.5h0M335.3 1831.5h0M357.2 1831.5h0M379.2 1831.5h0M401.1 1831.5h0M423.1 1831.5h0M445 1831.5h0M467 1831.5h0M488.9 1831.5h0M510.9 1831.5h0M532.8 1831.5h0M554.8 1831.5h0M576.7 1831.5h0M598.7 1831.5h0M620.6 1831.5h0M642.6 1831.5h0M664.5 1831.5h0M686.5 1831.5h0M708.4 1831.5h0M730.4 1831.5h0M752.3 1831.5h0M774.3 1831.5h0M796.2 1831.5h0M818.2 1831.5h0M840.1 1831.5h0M862.1 1831.5h0M884.1 1831.5h0M906 1831.5h0M928 1831.5h0M949.9 1831.5h0M971.9 1831.5h0M993.8 1831.5h0M1015.8 1831.5h0M1037.7 1831.5h0M1059.7 1831.5h0M1081.6 1831.5h0M1103.6 1831.5h0M1125.5 1831.5h0M1147.5 1831.5h0M1169.4 1831.5h0M1191.4 1831.5h0M1213.3 1831.5h0M1235.3 1831.5h0M1257.2 1831.5h0M1279.2 1831.5h0M1301.1 1831.5h0M1323.1 1831.5h0M1345 1831.5h0M1367 1831.5h0M1388.9 1831.5h0M1410.9 1831.5h0M1432.9 1831.5h0M1454.8 1831.5h0M1476.8 1831.5h0M1498.7 1831.5h0M1520.7 1831.5h0M1542.6 1831.5h0M1564.6 1831.5h0M1586.5 1831.5h0M1608.5 1831.5h0M1630.4 1831.5h0M1652.4 1831.5h0M1674.3 1831.5h0M1696.3 1831.5h0M1718.2 1831.5h0M1740.2 1831.5h0M1762.1 1831.5h0M1784.1 1831.5h0M1806 1831.5h0M1828 1831.5h0M1849.9 1831.5h0M1871.9 1831.5h0M1893.8 1831.5h0M1915.8 1831.5h0M1937.7 1831.5h0M1959.7 1831.5h0M1981.7 1831.5h0M2003.6 1831.5h0M313.3 1894.2h0M335.3 1894.2h0M357.2 1894.2h0M379.2 1894.2h0M401.1 1894.2h0M423.1 1894.2h0M445 1894.2h0M467 1894.2h0M488.9 1894.2h0M510.9 1894.2h0M532.8 1894.2h0M554.8 1894.2h0M576.7 1894.2h0M598.7 1894.2h0M620.6 1894.2h0M642.6 1894.2h0M664.5 1894.2h0M686.5 1894.2h0M708.4 1894.2h0M730.4 1894.2h0M752.3 1894.2h0M774.3 1894.2h0M796.2 1894.2h0M818.2 1894.2h0M840.1 1894.2h0M862.1 1894.2h0M884.1 1894.2h0M906 1894.2h0M928 1894.2h0M949.9 1894.2h0M971.9 1894.2h0M993.8 1894.2h0M1015.8 1894.2h0M1037.7 1894.2h0M1059.7 1894.2h0M1081.6 1894.2h0M1103.6 1894.2h0M1125.5 1894.2h0M1147.5 1894.2h0M1169.4 1894.2h0M1191.4 1894.2h0M1213.3 1894.2h0M1235.3 1894.2h0M1257.2 1894.2h0M1279.2 1894.2h0M1301.1 1894.2h0M1323.1 1894.2h0M1345 1894.2h0M1367 1894.2h0M1388.9 1894.2h0M1410.9 1894.2h0M1432.9 1894.2h0M1454.8 1894.2h0M1476.8 1894.2h0M1498.7 1894.2h0M1520.7 1894.2h0M1542.6 1894.2h0M1564.6 1894.2h0M1586.5 1894.2h0M1608.5 1894.2h0M1630.4 1894.2h0M1652.4 1894.2h0M1674.3 1894.2h0M1696.3 1894.2h0M1718.2 1894.2h0M1740.2 1894.2h0M1762.1 1894.2h0M1784.1 1894.2h0M1806 1894.2h0M1828 1894.2h0M1849.9 1894.2h0M1871.9 1894.2h0M1893.8 1894.2h0M1915.8 1894.2h0M1937.7 1894.2h0M1959.7 1894.2h0M1981.7 1894.2h0M2003.6 1894.2h0M651.5 145h0M651.5 167h0M651.5 189h0M651.5 211h0M651.5 233h0M651.5 255h0M651.5 277h0M651.5 299h0M651.5 321h0M651.5 343h0M651.5 365h0M651.5 387h0M990 145h0M990 167h0M990 189h0M990 211h0M990 233h0M990 255h0M990 277h0M990 299h0M990 321h0M990 343h0M990 365h0M990 387h0M1329 145h0M1329 167h0M1329 189h0M1329 211h0M1329 233h0M1329 255h0M1329 277h0M1329 299h0M1329 321h0M1329 343h0M1329 365h0M1329 387h0M1667 145h0M1667 167h0M1667 189h0M1667 211h0M1667 233h0M1667 255h0M1667 277h0M1667 299h0M1667 321h0M1667 343h0M1667 365h0M1667 387h0M651.5 405h0M651.5 427h0M651.5 449h0M651.5 471h0M651.5 493h0M651.5 515h0M651.5 537h0M651.5 559h0M651.5 581h0M651.5 603h0M651.5 625h0M651.5 647h0M990 405h0M990 427h0M990 449h0M990 471h0M990 493h0M990 515h0M990 537h0M990 559h0M990 581h0M990 603h0M990 625h0M990 647h0M1329 405h0M1329 427h0M1329 449h0M1329 471h0M1329 493h0M1329 515h0M1329 537h0M1329 559h0M1329 581h0M1329 603h0M1329 625h0M1329 647h0M1667 405h0M1667 427h0M1667 449h0M1667 471h0M1667 493h0M1667 515h0M1667 537h0M1667 559h0M1667 581h0M1667 603h0M1667 625h0M1667 647h0M651.5 665h0M651.5 687h0M651.5 709h0M651.5 731h0M651.5 753h0M651.5 775h0M651.5 797h0M651.5 819h0M651.5 841h0M651.5 863h0M651.5 885h0M651.5 907h0M990 665h0M990 687h0M990 709h0M990 731h0M990 753h0M990 775h0M990 797h0M990 819h0M990 841h0M990 863h0M990 885h0M990 907h0M1329 665h0M1329 687h0M1329 709h0M1329 731h0M1329 753h0M1329 775h0M1329 797h0M1329 819h0M1329 841h0M1329 863h0M1329 885h0M1329 907h0M1667 665h0M1667 687h0M1667 709h0M1667 731h0M1667 753h0M1667 775h0M1667 797h0M1667 819h0M1667 841h0M1667 863h0M1667 885h0M1667 907h0M651.5 925h0M651.5 947h0M651.5 969h0M651.5 991h0M651.5 1013h0M651.5 1035h0M651.5 1057h0M651.5 1079h0M651.5 1101h0M651.5 1123h0M651.5 1145h0M651.5 1167h0M990 925h0M990 947h0M990 969h0M990 991h0M990 1013h0M990 1035h0M990 1057h0M990 1079h0M990 1101h0M990 1123h0M990 1145h0M990 1167h0M1329 925h0M1329 947h0M1329 969h0M1329 991h0M1329 1013h0M1329 1035h0M1329 1057h0M1329 1079h0M1329 1101h0M1329 1123h0M1329 1145h0M1329 1167h0M1667 925h0M1667 947h0M1667 969h0M1667 991h0M1667 1013h0M1667 1035h0M1667 1057h0M1667 1079h0M1667 1101h0M1667 1123h0M1667 1145h0M1667 1167h0M651.5 1185h0M651.5 1207h0M651.5 1229h0M651.5 1251h0M651.5 1273h0M651.5 1295h0M651.5 1317h0M651.5 1339h0M651.5 1361h0M651.5 1383h0M651.5 1405h0M651.5 1427h0M990 1185h0M990 1207h0M990 1229h0M990 1251h0M990 1273h0M990 1295h0M990 1317h0M990 1339h0M990 1361h0M990 1383h0M990 1405h0M990 1427h0M1329 1185h0M1329 1207h0M1329 1229h0M1329 1251h0M1329 1273h0M1329 1295h0M1329 1317h0M1329 1339h0M1329 1361h0M1329 1383h0M1329 1405h0M1329 1427h0M1667 1185h0M1667 1207h0M1667 1229h0M1667 1251h0M1667 1273h0M1667 1295h0M1667 1317h0M1667 1339h0M1667 1361h0M1667 1383h0M1667 1405h0M1667 1427h0M651.5 1445h0M651.5 1467h0M651.5 1489h0M651.5 1511h0M651.5 1533h0M651.5 1555h0M651.5 1577h0M651.5 1599h0M651.5 1621h0M651.5 1643h0M651.5 1665h0M651.5 1687h0M990 1445h0M990 1467h0M990 1489h0M990 1511h0M990 1533h0M990 1555h0M990 1577h0M990 1599h0M990 1621h0M990 1643h0M990 1665h0M990 1687h0M1329 1445h0M1329 1467h0M1329 1489h0M1329 1511h0M1329 1533h0M1329 1555h0M1329 1577h0M1329 1599h0M1329 1621h0M1329 1643h0M1329 1665h0M1329 1687h0M1667 1445h0M1667 1467h0M1667 1489h0M1667 1511h0M1667 1533h0M1667 1555h0M1667 1577h0M1667 1599h0M1667 1621h0M1667 1643h0M1667 1665h0M1667 1687h0M651.5 1704.1h0M651.5 1726.1h0M651.5 1748.1h0M651.5 1770.1h0M651.5 1792.1h0M651.5 1814.1h0M651.5 1836.1h0M651.5 1858.1h0M651.5 1880.1h0M651.5 1902.1h0M651.5 1924.1h0M651.5 1946.1h0M990 1704.1h0M990 1726.1h0M990 1748.1h0M990 1770.1h0M990 1792.1h0M990 1814.1h0M990 1836.1h0M990 1858.1h0M990 1880.1h0M990 1902.1h0M990 1924.1h0M990 1946.1h0M1329 1704.1h0M1329 1726.1h0M1329 1748.1h0M1329 1770.1h0M1329 1792.1h0M1329 1814.1h0M1329 1836.1h0M1329 1858.1h0M1329 1880.1h0M1329 1902.1h0M1329 1924.1h0M1329 1946.1h0M1667 1704.1h0M1667 1726.1h0M1667 1748.1h0M1667 1770.1h0M1667 1792.1h0M1667 1814.1h0M1667 1836.1h0M1667 1858.1h0M1667 1880.1h0M1667 1902.1h0M1667 1924.1h0M1667 1946.1h0" stroke="#000" stroke-width="5.2" stroke-linecap="round" fill="none"/>
<rect x="311.5" y="143.5" width="1690" height="250" fill="none" stroke="#000" stroke-width="5"/>
<rect x="311.5" y="403.5" width="1690" height="250" fill="none" stroke="#000" stroke-width="5"/>
<rect x="311.5" y="663.5" width="1690" height="250" fill="none" stroke="#000" stroke-width="5"/>
<rect x="311.5" y="923.5" width="1690" height="250" fill="none" stroke="#000" stroke-width="5"/>
<rect x="311.5" y="1183.5" width="1690" height="250" fill="none" stroke="#000" stroke-width="5"/>
<rect x="311.5" y="1443.5" width="1690" height="249.9" fill="none" stroke="#000" stroke-width="5"/>
<rect x="311.5" y="1702.6" width="1690" height="250.9" fill="none" stroke="#000" stroke-width="5"/>
<rect x="650.5" y="172" width="185.5" height="90" fill="#fff"/>
<rect x="1146.5" y="440" width="281.5" height="74" fill="#fff"/>
<rect x="1034" y="628" width="251" height="84" fill="#fff"/>
<rect x="1142" y="880" width="120" height="75" fill="#fff"/>
<rect x="1362" y="880" width="119" height="75" fill="#fff"/>
<rect x="958" y="1150" width="117" height="57" fill="#fff"/>
<rect x="1431" y="1150" width="117" height="57" fill="#fff"/>
<rect x="1695.5" y="1150" width="116.8" height="57" fill="#fff"/>
<rect x="1350" y="1470" width="180" height="75" fill="#fff"/>
<rect x="1372" y="1800" width="188" height="105" fill="#fff"/>
<text x="703.8" y="241.1" font-size="85" class="it">v</text>
<text x="739.1" y="251.3" font-size="56">S</text>
<line x1="685.7" y1="259.1" x2="666.7" y2="301.6" stroke="#000" stroke-width="5"/>
<polygon points="652,334.5 655.2,294.3 679.8,305.3" fill="#000"/>
<text x="1166.6" y="491.4" font-size="85" class="it">v</text>
<text x="1202.4" y="502.5" font-size="56">L1</text>
<text x="1265.8" y="491.4" font-size="85">,</text>
<text x="1307.9" y="491.4" font-size="85" class="it">v</text>
<text x="1342.3" y="502.5" font-size="56">L2</text>
<line x1="1279.5" y1="507" x2="1275.6" y2="566.5" stroke="#000" stroke-width="5"/>
<polygon points="1273.3,602.4 1262.3,563.6 1289.2,565.4" fill="#000"/>
<text x="1057" y="693.4" font-size="85" class="it">i</text>
<text x="1079.2" y="703" font-size="56">S1</text>
<text x="1140.6" y="693.4" font-size="85">,</text>
<text x="1180.5" y="693.4" font-size="85" class="it">i</text>
<text x="1203.5" y="703" font-size="56">S2</text>
<line x1="1182.3" y1="705.3" x2="1185.9" y2="776.7" stroke="#000" stroke-width="5"/>
<polygon points="1187.7,812.7 1172.3,775.4 1199.3,774.1" fill="#000"/>
<text x="1159.7" y="933.3" font-size="85" class="it">i</text>
<text x="1182.3" y="945" font-size="56">L1</text>
<line x1="1199.9" y1="948.8" x2="1161.2" y2="986.8" stroke="#000" stroke-width="5"/>
<polygon points="1135.5,1012 1153.2,975.7 1172.1,995" fill="#000"/>
<text x="1379.4" y="933.3" font-size="85" class="it">i</text>
<text x="1402.5" y="945" font-size="56">L2</text>
<line x1="1418.5" y1="947.7" x2="1426.8" y2="1037.3" stroke="#000" stroke-width="5"/>
<polygon points="1430.1,1073.1 1413.2,1036.5 1440,1034" fill="#000"/>
<text x="973.4" y="1192.3" font-size="85" class="it">i</text>
<text x="996.4" y="1204" font-size="56">C1</text>
<line x1="1029.4" y1="1208.7" x2="1027" y2="1222.9" stroke="#000" stroke-width="5"/>
<polygon points="1020.9,1258.4 1014,1218.7 1040.6,1223.2" fill="#000"/>
<text x="1445.5" y="1197.6" font-size="85" class="it">i</text>
<text x="1467.7" y="1209.6" font-size="56">C2</text>
<line x1="1499.9" y1="1210.8" x2="1501.5" y2="1238.9" stroke="#000" stroke-width="5"/>
<polygon points="1503.6,1274.8 1487.9,1237.6 1514.9,1236.1" fill="#000"/>
<text x="1709.8" y="1197.6" font-size="85" class="it">i</text>
<text x="1733.3" y="1209.6" font-size="56">C3</text>
<line x1="1803" y1="1210.8" x2="1846.3" y2="1254.5" stroke="#000" stroke-width="5"/>
<polygon points="1871.7,1280 1835.3,1262.5 1854.5,1243.5" fill="#000"/>
<text x="1386.9" y="1521.9" font-size="85" class="it">v</text>
<text x="1421.4" y="1533" font-size="56">DC</text>
<text x="1404.9" y="1887.5" font-size="85" class="it">i</text>
<text x="1427.5" y="1899" font-size="56">LS2</text>
<text x="47.3" y="203" font-size="85">300</text>
<text x="195.5" y="203" font-size="85">V</text>
<text x="155.2" y="296.8" font-size="85">0</text>
<text x="46.9" y="470.5" font-size="85">200</text>
<text x="195.5" y="470.5" font-size="85">V</text>
<text x="155.5" y="563.6" font-size="85">0</text>
<text x="86.9" y="730.4" font-size="85">50</text>
<text x="194.1" y="730.4" font-size="85">A</text>
<text x="155.5" y="823.6" font-size="85">0</text>
<text x="86.9" y="990.4" font-size="85">50</text>
<text x="194.1" y="990.4" font-size="85">A</text>
<text x="155.5" y="1083.6" font-size="85">0</text>
<text x="86.9" y="1250.2" font-size="85">50</text>
<text x="194.1" y="1250.2" font-size="85">A</text>
<text x="155.5" y="1343.6" font-size="85">0</text>
<text x="99.6" y="1510.5" font-size="85">370</text>
<text x="248.6" y="1510.5" font-size="85">V</text>
<text x="99.6" y="1595" font-size="85">360</text>
<text x="248.6" y="1595" font-size="85">V</text>
<text x="98" y="1692.8" font-size="85">350</text>
<text x="247" y="1692.8" font-size="85">V</text>
<text x="86.7" y="1767.7" font-size="85">10</text>
<text x="190.9" y="1767.7" font-size="85">A</text>
<text x="154.9" y="1866.8" font-size="85">0</text>
<polygon points="286.5,143.5 268,199 305,199" fill="#000"/>
<rect x="284" y="198" width="5" height="71.8" fill="#000"/>
<line x1="258.5" y1="269.8" x2="317" y2="269.8" stroke="#000" stroke-width="5.5" stroke-linecap="round"/>
<polygon points="286.5,403.5 268,457.9 305,457.9" fill="#000"/>
<rect x="284" y="456.9" width="5" height="72.3" fill="#000"/>
<line x1="258.5" y1="529.2" x2="317" y2="529.2" stroke="#000" stroke-width="5.5" stroke-linecap="round"/>
<polygon points="286.5,662.4 268,717.9 305,717.9" fill="#000"/>
<rect x="284" y="716.9" width="5" height="72.3" fill="#000"/>
<line x1="258.5" y1="789.2" x2="317" y2="789.2" stroke="#000" stroke-width="5.5" stroke-linecap="round"/>
<polygon points="286.5,922.4 268,977.9 305,977.9" fill="#000"/>
<rect x="284" y="976.9" width="5" height="72.3" fill="#000"/>
<line x1="258.5" y1="1049.2" x2="317" y2="1049.2" stroke="#000" stroke-width="5.5" stroke-linecap="round"/>
<polygon points="286.5,1182.4 268,1237.9 305,1237.9" fill="#000"/>
<rect x="284" y="1236.9" width="5" height="72.3" fill="#000"/>
<line x1="258.5" y1="1309.2" x2="317" y2="1309.2" stroke="#000" stroke-width="5.5" stroke-linecap="round"/>
<polygon points="286.5,1705 268,1760.6 305,1760.6" fill="#000"/>
<rect x="284" y="1759.6" width="5" height="71.5" fill="#000"/>
<line x1="258.5" y1="1831.1" x2="317" y2="1831.1" stroke="#000" stroke-width="5.5" stroke-linecap="round"/>
<line x1="1441" y1="115" x2="1441" y2="791" stroke="#000" stroke-width="6"/>
<text x="1281.2" y="107.9" font-size="85">cos</text>
<text transform="translate(1399,107.9) skewX(-9)" x="0" y="0" font-size="85" class="it">&#x3d5;</text>
<text x="1459.8" y="115.4" font-size="88" stroke="#000" stroke-width="2">=</text>
<text x="1530.4" y="107.9" font-size="85">1.00</text>
<line x1="1715" y1="1998.8" x2="1958" y2="1998.8" stroke="#000" stroke-width="6"/>
<polygon points="1666.5,1998.8 1722.7,1980.1 1722.7,2017.7" fill="#000"/>
<polygon points="2006.3,1998.8 1950.5,1980.1 1950.5,2017.7" fill="#000"/>
<text x="1734.2" y="2076.2" font-size="85">10</text>
<text x="1838.5" y="2076.2" font-size="85">ms</text>
</svg>
</body></html>
